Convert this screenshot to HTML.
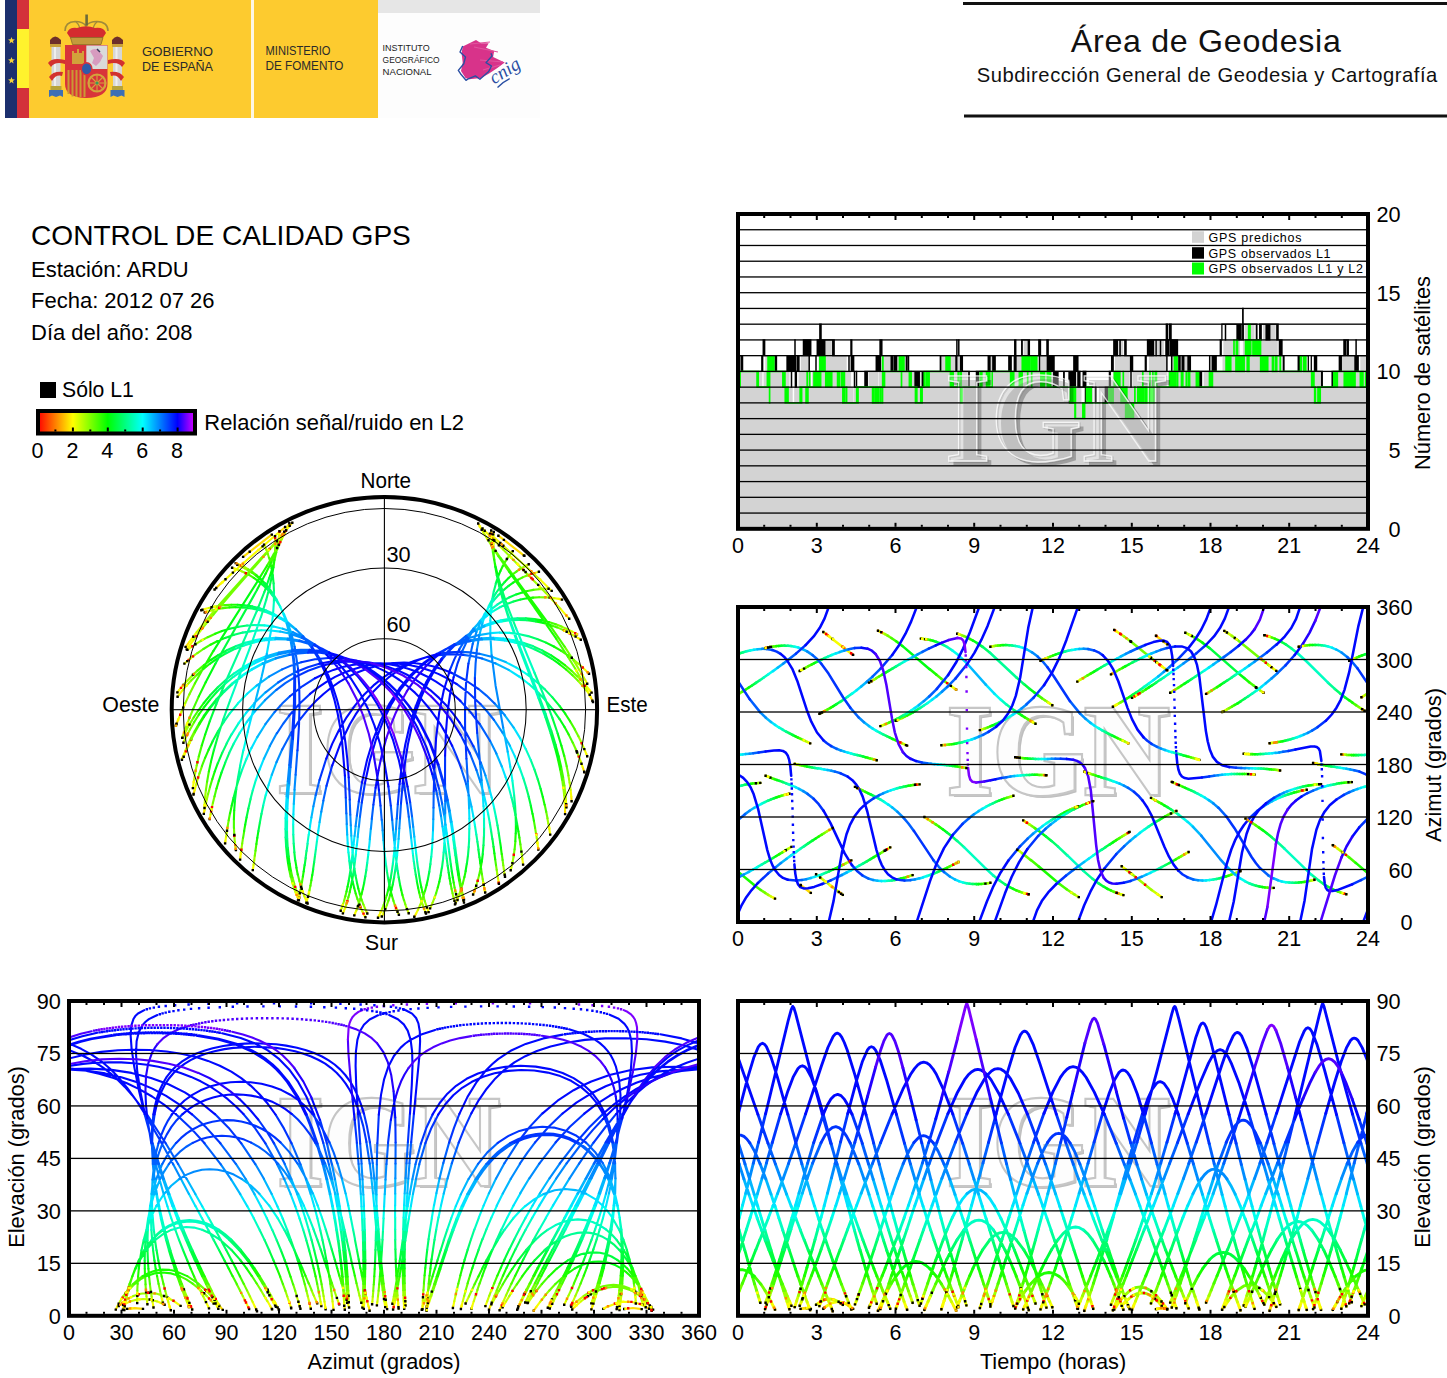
<!DOCTYPE html>
<html><head><meta charset="utf-8"><style>
html,body{margin:0;padding:0;background:#fff;width:1447px;height:1378px;overflow:hidden}
svg{display:block;font-family:"Liberation Sans", sans-serif}
</style></head><body>
<svg width="1447" height="1378" viewBox="0 0 1447 1378">
<rect x="5" y="0" width="12" height="118" fill="#1c2f6e"/>
<rect x="17" y="0" width="12" height="118" fill="#d3313a"/>
<rect x="17" y="29" width="12" height="59" fill="#fff22d"/>
<polygon points="11.50,36.90 12.38,39.29 14.92,39.39 12.93,40.96 13.62,43.41 11.50,42.00 9.38,43.41 10.07,40.96 8.08,39.39 10.62,39.29" fill="#f3d23c"/>
<polygon points="11.50,56.90 12.38,59.29 14.92,59.39 12.93,60.96 13.62,63.41 11.50,62.00 9.38,63.41 10.07,60.96 8.08,59.39 10.62,59.29" fill="#f3d23c"/>
<polygon points="11.50,76.90 12.38,79.29 14.92,79.39 12.93,80.96 13.62,83.41 11.50,82.00 9.38,83.41 10.07,80.96 8.08,79.39 10.62,79.29" fill="#f3d23c"/>
<rect x="29" y="0" width="222" height="118" fill="#fdcb2f"/>
<rect x="251" y="0" width="3" height="118" fill="#fdf6e3"/>
<rect x="254" y="0" width="124" height="118" fill="#fdcb2f"/>
<rect x="378" y="0" width="162" height="13" fill="#e6e6e6"/>
<rect x="378" y="13" width="162" height="105" fill="#fdfdfd"/>
<g>
<path d="M65 31 Q65 22 75 21.5 Q83 21.5 86 26 Q89 21.5 97 21.5 Q108 22 108 31" fill="none" stroke="#a08a3a" stroke-width="1.6"/>
<path d="M76 22 Q80 25 80 31 M97 22 Q93 25 93 31" fill="none" stroke="#a08a3a" stroke-width="1.3"/>
<path d="M67 33 Q69 27 77 28 Q86 24.5 95 28 Q104 27 106 33 L102 39 L71 39 Z" fill="#d42b2f"/>
<path d="M70.5 37.5 L103 37.5 L101 44.5 L72.5 44.5 Z" fill="#c49a3c" stroke="#8a6a2a" stroke-width="0.8"/>
<rect x="85.3" y="14.5" width="2.6" height="11" fill="#6d6a3a"/>
<path d="M65 45 L107.5 45 L107.5 84 Q107.5 97.5 86.3 98 Q65 97.5 65 84 Z" fill="#d8343a"/>
<rect x="86.3" y="45.5" width="21" height="23.5" fill="#dadada"/>
<path d="M90 51 Q95 47 99 51 L103 56 L100 62 L96 66 L92 63 L94 58 Z" fill="#d79bbf"/>
<path d="M97 49 L100 52" stroke="#3a3a5a" stroke-width="1.5"/>
<path d="M72 51 L74 51 L74 53 L77 53 L77 49 L79 49 L79 53 L82 53 L82 51 L84 51 L84 64 L72 64 Z" fill="#d2a23a"/>
<g fill="#c99a34"><rect x="67.5" y="70" width="2" height="24"/><rect x="71.5" y="70" width="2" height="26.5"/><rect x="75.5" y="70" width="2" height="27"/><rect x="79.5" y="70" width="2" height="27"/><rect x="83.5" y="74" width="2" height="23"/></g>
<ellipse cx="86.6" cy="68.8" rx="6" ry="6.8" fill="#d8343a"/>
<ellipse cx="86.6" cy="68.8" rx="4.6" ry="5.4" fill="#2f5ba8"/>
<circle cx="97" cy="83" r="8.5" fill="none" stroke="#d3a43c" stroke-width="2.2"/>
<path d="M97 75 L97 91 M89 83 L105 83 M91 77 L103 89 M103 77 L91 89" stroke="#d3a43c" stroke-width="1.1"/>
<circle cx="97" cy="83" r="1.6" fill="#3a9a5a"/>
<rect x="51.5" y="47" width="9" height="40" fill="#d6d6d6"/><rect x="54" y="47" width="2" height="40" fill="#eeeeee"/>
<rect x="113" y="47" width="9" height="40" fill="#d6d6d6"/><rect x="115.5" y="47" width="2" height="40" fill="#eeeeee"/>
<path d="M50 40 Q55 33 61 40 L61 44 L50 44 Z" fill="#6e2f2a"/><rect x="50" y="44" width="11" height="3" fill="#c9a03a"/>
<path d="M112 40 Q117 33 123 40 L123 44 L112 44 Z" fill="#6e2f2a"/><rect x="112" y="44" width="11" height="3" fill="#c9a03a"/>
<rect x="50.5" y="86" width="11" height="4" fill="#b8a43a"/><rect x="112" y="86" width="11" height="4" fill="#b8a43a"/>
<path d="M49 90 L63 90 L63 97 L60 95.5 L56 97 L52 95.5 L49 97 Z" fill="#3d6fb5"/>
<path d="M110.5 90 L124.5 90 L124.5 97 L121.5 95.5 L117.5 97 L113.5 95.5 L110.5 97 Z" fill="#3d6fb5"/>
<path d="M48 63 Q52 57 65 60 L65 64 Q55 61 51 67 Z M49 77 Q53 71 63 72 L62 76 Q56 74 52 81 Z" fill="#d2312f"/>
<path d="M125 63 Q121 57 108 60 L108 64 Q118 61 122 67 Z M124 77 Q120 71 110 72 L111 76 Q117 74 121 81 Z" fill="#d2312f"/>
</g>
<g fill="#2a2a2a" font-size="13"><text x="142" y="56.2" textLength="71" lengthAdjust="spacingAndGlyphs">GOBIERNO</text><text x="142" y="70.5" textLength="71" lengthAdjust="spacingAndGlyphs">DE ESPAÑA</text><text x="265.5" y="55.1" textLength="65" lengthAdjust="spacingAndGlyphs">MINISTERIO</text><text x="265.5" y="69.7" textLength="78" lengthAdjust="spacingAndGlyphs">DE FOMENTO</text></g>
<g fill="#222" font-size="9.2"><text x="382.6" y="50.9" textLength="47" lengthAdjust="spacingAndGlyphs">INSTITUTO</text><text x="382.6" y="62.7" textLength="57" lengthAdjust="spacingAndGlyphs">GEOGRÁFICO</text><text x="382.6" y="74.6" textLength="49" lengthAdjust="spacingAndGlyphs">NACIONAL</text></g>
<path d="M462.7 46.6 L476 40 L481 43.3 L488.7 43.3 L486 47.7 L494.2 51 L493.1 57.1 L504.7 62.6 L497 68.2 L488.7 73.7 L481 78.1 L469.3 79.2 L465.5 78.1 L461 70.9 L462.7 62.6 L461.6 53.2 Z" fill="#d8338a"/>
<path d="M470 44 L490 42 M474 47 L498 52 M480 60 L503 62 M483 70 L500 65" stroke="#e0559e" stroke-width="1.2"/>
<path d="M462.7 46 L460 52 L465.5 57 L463.8 63.7 L458.3 70.4 L460.5 73.7 L466 80.3 L467.7 79.2 L475.4 75.9 L479.9 79.2 L488.7 71.5 L491.5 66 L486 62.6 L492 56 L491 53.2" fill="none" stroke="#2a4fa3" stroke-width="1.4" stroke-linejoin="round"/>
<text x="0" y="0" font-family="Liberation Serif, serif" font-style="italic" font-size="19" fill="#2a4fa3" transform="translate(494 84.5) rotate(-32)">cnig</text>
<path d="M497.5 87.5 Q503 82 509.7 78.7" fill="none" stroke="#2a4fa3" stroke-width="1.4"/>
<rect x="963" y="2" width="484" height="3" fill="#111"/>
<rect x="964" y="114.5" width="483" height="3" fill="#111"/>
<text x="1070.8" y="52.1" font-size="32.2" text-anchor="start" fill="#111" textLength="270" lengthAdjust="spacing">Área de Geodesia</text>
<text x="976.8" y="82.2" font-size="20.2" text-anchor="start" fill="#111" textLength="460.5" lengthAdjust="spacing">Subdirección General de Geodesia y Cartografía</text>
<text x="31" y="244.6" font-size="28.1" text-anchor="start" >CONTROL DE CALIDAD GPS</text>
<text x="31" y="276.8" font-size="22.0" text-anchor="start" >Estación: ARDU</text>
<text x="31" y="307.6" font-size="22.0" text-anchor="start" >Fecha: 2012 07 26</text>
<text x="31" y="339.8" font-size="22.0" text-anchor="start" >Día del año: 208</text>
<rect x="40" y="382" width="16" height="16" fill="#000"/>
<text x="62" y="396.8" font-size="21.2" text-anchor="start" >Sólo L1</text>
<defs><linearGradient id="cbar" x1="0" x2="1" y1="0" y2="0"><stop offset="0.0000" stop-color="#ff0000"/><stop offset="0.1111" stop-color="#ff8000"/><stop offset="0.2222" stop-color="#ffff00"/><stop offset="0.3333" stop-color="#80ff00"/><stop offset="0.4444" stop-color="#00ff00"/><stop offset="0.5556" stop-color="#00ff80"/><stop offset="0.6667" stop-color="#00ffff"/><stop offset="0.7778" stop-color="#0080ff"/><stop offset="0.8889" stop-color="#0000ff"/><stop offset="1.0000" stop-color="#dd00ff"/></linearGradient></defs>
<rect x="38" y="411" width="157" height="22.5" fill="url(#cbar)" stroke="#000" stroke-width="4"/>
<rect x="54.4" y="429.5" width="2" height="2" fill="#000"/>
<rect x="71.9" y="427.5" width="2" height="4" fill="#000"/>
<rect x="89.3" y="429.5" width="2" height="2" fill="#000"/>
<rect x="106.8" y="427.5" width="2" height="4" fill="#000"/>
<rect x="124.2" y="429.5" width="2" height="2" fill="#000"/>
<rect x="141.7" y="427.5" width="2" height="4" fill="#000"/>
<rect x="159.1" y="429.5" width="2" height="2" fill="#000"/>
<rect x="176.6" y="427.5" width="2" height="4" fill="#000"/>
<text x="37.5" y="457.5" font-size="21.5" text-anchor="middle" >0</text>
<text x="72.4" y="457.5" font-size="21.5" text-anchor="middle" >2</text>
<text x="107.3" y="457.5" font-size="21.5" text-anchor="middle" >4</text>
<text x="142.2" y="457.5" font-size="21.5" text-anchor="middle" >6</text>
<text x="177.1" y="457.5" font-size="21.5" text-anchor="middle" >8</text>
<text x="204.3" y="429.8" font-size="21.95" text-anchor="start" >Relación señal/ruido en L2</text>
<g font-family="Liberation Serif, serif" font-weight="bold" font-size="130" text-anchor="middle"><text x="391" y="795.4" fill="#bfbfbf" textLength="222" lengthAdjust="spacingAndGlyphs">IGN</text><text x="388" y="792.4" fill="#fbfbfb" stroke="#c6c6c6" stroke-width="4.6" textLength="222" lengthAdjust="spacingAndGlyphs">IGN</text><text x="388" y="792.4" fill="#fdfdfd" textLength="222" lengthAdjust="spacingAndGlyphs">IGN</text></g>
<g fill="none" stroke-width="2.1" stroke-linejoin="round" stroke-linecap="round">
<path stroke="#ffb000" d="M289.3 523.3l-.2 .5M414.3 916.8l.3 -.5M584.2 771.8l.2 .6M298.0 900.4l.1 -.5"/>
<path stroke="#ffdc00" d="M578.2 638.1l2.6 1.6M292.3 522.7l-3.6 4.2M189.4 641.8l-3.8 5.2M378.0 917.8l.9 -1.8M232.1 567.8l2.3 .7M306.4 901.0l1.2 2.6M571.6 801.3l-.3 -4.7M491.2 532.9l0 -2.4M381.8 916.5l.2 -.4M289.7 525.9l-.8 .9M187.1 648.8l-.4 .6M237.3 564.9l.4 .2M566.4 807.4l0 -.7M285.1 527.0l-6 5.2M220.8 583.6l-6.2 5.9M354.3 915.4l.8 -1.8M587.6 672.3l1.3 1.4M479.9 526.4l-1.7 -3M201.3 610.2l3.3 -1M364.4 915.5l1 1.8M593.0 702.0l-2.7 -5.7M289.0 523.8l-1.8 4M178.1 719.8l-2.2 5.9M414.6 916.4l1.5 -2.8M558.8 598.9l3.2 .7M279.5 531.3l-.1 1M192.9 787.4l-.1 .7M455.0 904.4l.5 -1M538.4 572.0l.5 -.1M297.5 897.0l1.4 3.2M565.1 814.1l-.1 -4.6M493.6 534.2l.2 -2.3M235.7 563.1l2.6 1.1M590.0 690.6l1.6 2M271.8 534.6l-28.7 22.3M342.9 913.4l.7 -1.8M177.6 696.7l1.2 -1.6M428.5 911.7l.2 .4M524.4 555.8l-26 -20.1M177.4 692.4l1.6 -2M425.4 912.2l.5 1.3M240.1 859.6l.3 -2.2M538.1 847.8l.2 1.7M225.1 843.4l.3 -2.3M522.9 863.0l.2 1.6M306.4 902.8l.6 -2.3M586.3 753.9l.9 2.4M252.8 870.1l.2 -1.6M550.0 833.4l.2 1.2M193.5 794.5l1.1 -4.3M484.8 890.6l.4 1.9M181.9 759.8l1.6 -4.2M463.5 900.7l.5 1.8M498.5 881.7l.3 2M203.8 813.9l.7 -3.6M582.8 767.5l1.4 4.3M298.2 899.9l.7 -2.8"/>
<path stroke="#f6ff00" d="M573.5 635.3l4.7 2.8M288.7 526.9l-6.5 7.6M196.7 632.2l-7.3 9.6M378.9 916.0l1.7 -3.6M366.6 912.1l.7 1.4M587.2 683.7l-2 -3.7M483.3 532.3l-1.6 -2.5M204.7 612.4l2.2 -.7M234.4 568.5l3.2 1.1M304.4 896.3l2 4.7M571.3 796.6l-.7 -6.7M491.3 536.8l-.1 -3.8M430.1 908.4l.7 -1.5M547.6 588.8l1 0M284.2 531.8l-.7 2M182.9 735.9l-.6 2M382.1 916.1l1.7 -3.6M572.2 631.6l4.7 2.6M288.9 526.9l-5.9 7.2M193.8 639.6l-6.7 9.2M187.4 649.9l4 -2.9M397.9 912.6l1 2.2M569.2 618.7l-8.9 -10.1M490.1 536.3l-7.6 -7.8M473.1 894.5l1.3 -3.3M527.1 565.2l1.7 -.8M275.0 536.1l.2 2.8M204.6 804.7l-.2 3.3M237.7 565.1l3 1.3M297.5 893.5l1.7 4.3M566.3 806.7l-.4 -6.6M493.0 538.2l.1 -3.8M279.0 532.2l-35.2 30.6l-23 20.8M355.0 913.6l1.3 -3.1M583.1 667.9l4.5 4.4M483.3 532.4l-3.5 -5.9M204.6 609.1l4.3 -1.2M362.6 911.7l1.9 3.7M590.2 696.3l-4.1 -8.1M287.3 527.7l-2.6 5.5M181.3 712.1l-3.2 7.7M416.1 913.6l1.9 -3.8M554.5 598.2l4.3 .7M551.7 590.9l-11.2 -10.8M500.3 543.0l-10.4 -9.4M184.4 663.6l3.3 -2.9M407.9 911.4l.8 1.8M279.4 532.3l-.5 4.4M194.0 780.1l-1 7.3M455.5 903.3l2 -4.7M534.7 572.9l3.8 -1M295.8 892.7l1.7 4.3M565.1 809.4l-.3 -6.6M493.4 538.4l.2 -4.2M238.3 564.2l3.4 1.6M264.0 544.6l.8 1.6M235.6 848.2l.3 1.9M510.7 870.3l.6 -2.4M512.3 551.8l.6 -.7M586.4 686.1l3.7 4.5M343.6 911.6l1.2 -3.1M178.7 695.2l4 -5.1M427.3 908.5l1.2 3.1M178.9 690.4l4.1 -5M424.2 909.1l1.2 3.1M586.6 690.7l3.2 4.1M340.7 910.7l1 -2.7M463.3 896.8l.7 2.8M183.7 756.8l2.1 -5.4M209.7 819.1l.9 -4.8M504.5 873.7l.5 3.1M240.3 857.4l.6 -4.4M537.5 843.3l.6 4.5M225.4 841.1l.7 -4.6M522.3 858.7l.6 4.3M307.0 900.5l.9 -3.3M583.8 747.9l2.5 6M253.1 868.5l.5 -3.7M549.3 828.8l.7 4.7M194.6 790.3l1.5 -5.5M484.0 886.7l.8 3.9M183.5 755.5l2.2 -5.4M462.6 897.5l.9 3.3M182.5 737.7l.8 -1.8M454.3 900.3l.1 .5M457.4 899.5l.1 .5M183.4 742.7l.8 -1.8M498.0 878.2l.6 3.5M204.5 810.3l1.1 -5.4M580.9 762.0l1.9 5.5M298.9 897.1l.8 -3.3"/>
<path stroke="#caff00" d="M568.3 632.5l5.2 2.8M282.2 534.5l-8.4 9.6M206.0 620.6l-9.3 11.6M380.6 912.4l1.6 -3.7M364.9 908.3l1.7 3.8M585.2 680.0l-5.6 -9.7M487.8 539.3l-4.5 -7M206.9 611.7l4.9 -1.3M237.6 569.6l4 1.6M302.6 891.5l1.8 4.8M570.6 790.0l-1 -7.3M491.6 541.6l-.3 -4.9M430.8 906.9l1.7 -4M542.9 588.9l4.7 -.1M283.4 533.9l-2.1 5.6M185.8 727.4l-2.9 8.5M383.8 912.4l1.6 -3.7M566.9 628.9l5.3 2.7M283.0 534.0l-7.3 8.7M202.4 628.4l-8.6 11.2M191.4 647.0l5 -3.4M396.4 909.0l1.5 3.6M560.3 608.6l-14.4 -15.6M503.6 549.9l-13.4 -13.6M474.3 891.3l1.7 -4.9M523.8 566.9l3.3 -1.7M275.2 539.0l.1 4.3M205.1 797.4l-.5 7.2M240.7 566.4l3.8 1.9M295.7 888.6l1.8 4.9M566.0 800.1l-.7 -7.3M493.0 542.5l0 -4.3M356.4 910.5l1.4 -3.6M578.5 663.7l4.6 4.2M487.3 538.9l-3.9 -6.5M208.9 607.9l4.9 -1.1M360.8 907.9l1.7 3.8M586.1 688.2l-5 -9.2M284.7 533.2l-3 6.1M185.2 703.2l-3.9 8.9M418.0 909.8l1.9 -4.4M549.7 597.6l4.8 .6M540.5 580.0l-40.2 -37M187.7 660.7l4.8 -3.9M406.7 908.2l1.3 3.2M278.9 536.7l-.6 4.5M195.2 772.8l-1.2 7.3M457.6 898.7l1.8 -4.7M531.0 574.1l3.7 -1.1M293.8 887.3l1.9 5.5M564.8 802.8l-.6 -7.2M493.3 542.7l.1 -4.3M241.8 565.7l3.3 1.7M264.8 546.2l1.4 3.3M234.8 841.9l.8 6.3M511.3 867.9l1.3 -6M510.0 554.6l2.2 -2.8M581.7 680.9l4.6 5.2M344.8 908.5l1.3 -3.7M182.7 690.1l4.1 -4.9M426.0 904.9l1.3 3.6M183.0 685.4l4.2 -4.7M422.9 905.4l1.3 3.6M582.5 685.8l4.1 4.9M341.7 908.1l1.3 -3.7M462.5 893.5l.8 3.3M185.9 751.4l2.5 -5.9M210.6 814.3l1.1 -5.4M503.9 869.6l.6 4.2M240.9 853.0l.6 -4.4M536.8 838.2l.7 5.1M226.1 836.5l.8 -5.2M521.8 854.4l.6 4.4M307.9 897.3l.8 -3.3M581.2 742.0l2.6 5.9M253.6 864.8l.7 -4.8M548.4 823.5l.9 5.3M196.0 784.8l1.8 -6.1M483.3 882.7l.7 4M185.6 750.1l2.6 -5.9M461.7 893.7l.9 3.8M183.4 736.0l2.9 -5.8M453.5 897.0l.9 3.3M456.4 895.7l1 3.8M184.2 741.0l2.8 -5.8M497.3 874.1l.6 4.1M205.6 804.9l1.2 -5.4M578.6 756.0l2.3 6M299.7 893.8l.8 -3.9"/>
<path stroke="#9eff00" d="M563.0 629.9l5.3 2.5M273.8 544.0l-12.2 13.6M219.1 605.0l-13.1 15.6M382.2 908.7l1.5 -3.8M363.4 904.5l1.6 3.8M579.5 670.2l-5.8 -9.6M492.9 546.8l-5.1 -7.5M211.7 610.3l5.4 -1.2M241.5 571.2l3.4 1.6M301.0 886.6l1.6 4.9M569.6 782.7l-1.2 -7.2M492.1 546.1l-.4 -4.5M432.5 902.9l1.8 -4.5M538.8 589.2l4.1 -.3M281.3 539.4l-2.3 5.6M189.0 719.1l-3.2 8.4M385.4 908.8l1.5 -3.8M561.6 626.6l5.3 2.4M275.7 542.7l-10.1 11.7M213.4 614.7l-11 13.7M196.4 643.6l5.1 -3.1M395.0 905.2l1.4 3.7M545.9 593.0l-42.3 -43.1M476.0 886.3l1.5 -5M520.6 568.8l3.2 -1.9M275.3 543.3l0 4.4M205.9 790.2l-.8 7.2M244.5 568.2l3.2 1.8M294.1 883.6l1.6 5M565.3 792.8l-.9 -7.2M493.1 546.9l-.1 -4.4M357.7 906.8l1.1 -3.2M573.7 659.8l4.7 4M491.7 545.9l-4.4 -7.1M213.7 606.8l5.4 -1M359.3 904.1l1.6 3.9M581.1 678.9l-5.2 -9.1M281.7 539.3l-3.2 6.1M189.4 694.4l-4.2 8.8M420.0 905.4l1.6 -3.9M544.9 597.3l4.8 .3M192.5 656.7l4.9 -3.7M405.3 904.5l1.3 3.7M278.3 541.1l-.8 5M196.7 765.5l-1.5 7.2M459.4 893.9l1.5 -4.3M526.9 575.6l4 -1.5M292.3 882.3l1.5 5M564.2 795.5l-.8 -7.2M493.4 547.1l-.1 -4.4M245.1 567.5l3.2 1.9M266.2 549.5l1.5 3.8M234.3 835.7l.5 6.3M512.6 861.9l1 -5.4M507.7 557.8l2.4 -3.3M577.4 676.3l4.4 4.5M346.1 904.8l1 -3.3M186.8 685.2l4.3 -4.7M424.8 901.2l1.2 3.7M187.3 680.7l4.8 -5M421.7 901.7l1.2 3.7M577.8 680.6l4.7 5.1M343.0 904.4l1.2 -3.7M189.2 743.7l1.9 -4.1M461.7 889.6l.8 3.9M188.4 745.5l3 -6.4M211.6 808.9l1.3 -6M503.3 865.4l.6 4.2M241.5 848.6l.7 -5M536.1 833.6l.7 4.6M226.9 831.4l.8 -5.2M521.2 849.9l.6 4.4M308.7 894.0l.9 -3.9M578.4 736.2l2.8 5.8M254.2 860.0l.6 -4.3M547.4 818.2l.9 5.3M197.8 778.7l1.7 -5.4M482.7 879.2l.6 3.5M188.2 744.2l3 -6.4M460.9 889.8l.8 3.9M186.3 730.2l3.1 -5.6M452.5 893.2l.9 3.8M455.6 891.9l.9 3.8M187.0 735.1l3 -5.7M496.7 869.9l.6 4.2M206.8 799.5l1.3 -5.4M575.9 749.5l2.7 6.5M300.5 889.9l.7 -3.4"/>
<path stroke="#72ff00" d="M557.2 627.4l5.8 2.5M261.5 557.6l-42.4 47.3M383.6 905.0l1.5 -4.3M361.6 899.6l1.8 4.9M573.7 660.7l-9.1 -14.1M500.6 558.0l-7.8 -11.2M217.1 609.1l5.9 -1M245.0 572.7l4.1 2.2M299.4 881.1l1.6 5.5M568.5 775.5l-1.8 -9.1M492.9 552.1l-.8 -6M434.3 898.4l1.8 -5.1M533.3 589.9l5.5 -.7M279.1 545.0l-3.4 7.8M193.2 708.9l-4.2 10.2M386.9 905.0l1.5 -4.3M555.7 624.3l5.9 2.3M265.5 554.4l-33.7 38.5l-18.4 21.7M201.5 640.5l6.2 -3.4M393.5 901.0l1.4 4.3M477.5 881.4l1.6 -6.2M516.7 571.3l3.8 -2.6M275.2 547.6l-.3 5.4M207.1 781.7l-1.2 8.5M247.8 570.1l3.9 2.5M292.5 877.5l1.7 6.1M564.4 785.6l-1.3 -8.5M493.5 552.4l-.4 -5.5M358.9 903.6l1.5 -4.7M567.9 655.3l5.8 4.4M498.4 556.2l-6.7 -10.2M219.1 605.8l5.9 -.7M357.5 899.2l1.8 4.9M575.9 669.8l-8 -13.1M278.5 545.4l-4.8 8.8M195.0 683.3l-5.7 11.1M421.5 901.5l1.8 -5M539.2 597.3l5.7 .1M197.4 653.1l6 -4.1M404.0 900.2l1.4 4.3M277.5 546.2l-1.2 6.1M198.8 756.4l-2.1 9.1M460.9 889.6l1.8 -5.9M522.6 577.4l4.4 -1.9M290.8 876.7l1.5 5.6M563.4 788.3l-1.2 -8.5M493.7 552.6l-.3 -5.4M248.3 569.3l3.9 2.5M267.6 553.3l1.4 4.4M234.0 828.1l.3 7.6M513.6 856.5l1 -7.3M505.3 561.6l2.4 -3.8M571.5 670.8l5.9 5.6M347.1 901.6l1.2 -4.3M191.1 680.6l5.7 -5.7M423.6 896.9l1.2 4.3M192.1 675.7l5.4 -5.1M420.5 897.5l1.2 4.3M572.5 675.3l5.3 5.3M344.1 900.7l1.2 -4.3M191.1 739.6l3.8 -7.4M460.8 885.2l.9 4.4M212.9 803.0l1.6 -6.6M502.6 860.0l.7 5.3M242.2 843.6l.8 -5.7M535.1 827.8l.9 5.8M227.7 826.1l1 -5.8M520.4 844.4l.8 5.6M309.5 890.1l.9 -4.4M574.8 729.4l3.6 6.8M254.8 855.7l.7 -4.9M546.2 811.8l1.3 6.5M199.5 773.3l2.5 -7.2M481.9 874.1l.8 5.1M191.2 737.8l3.5 -6.8M460.0 885.4l.9 4.4M189.4 724.6l4.3 -7.1M451.6 888.9l1 4.4M454.6 887.5l.9 4.4M190.0 729.4l4.1 -7.2M496.0 865.2l.7 4.7M208.1 794.1l1.9 -7.2M572.7 742.5l3.2 7M301.2 886.5l.8 -4.5"/>
<path stroke="#46ff00" d="M550.3 625.0l6.9 2.5M385.1 900.7l1.6 -5.4M359.8 894.1l1.7 5.5M564.6 646.6l-14.2 -20.5M513.8 576.2l-13.1 -18.2M223.0 608.1l6.4 -.7M249.1 574.9l4.7 2.9M297.8 874.4l1.6 6.7M566.7 766.3l-2.4 -10.4M494.1 559.3l-1.2 -7.2M436.1 893.2l1.7 -5.7M527.5 591.0l5.9 -1.1M275.7 552.8l-4.4 9.5M198.8 696.4l-5.6 12.5M388.4 900.7l1.7 -5.4M548.7 622.1l7 2.2M207.8 637.2l7.4 -3.4M391.9 895.6l1.6 5.3M479.1 875.2l1.5 -6.8M512.3 574.7l4.4 -3.4M275.0 553.1l-.6 7.1M208.9 771.3l-1.8 10.4M251.7 572.5l4.1 3M290.9 870.7l1.5 6.8M563.1 777.1l-2 -10.4M494.2 559.4l-.8 -7.1M360.3 898.8l1.3 -4.8M560.9 650.7l7 4.7M509.1 571.7l-10.7 -15.6M225.0 605.1l6.3 -.4M355.7 893.7l1.8 5.5M567.9 656.8l-11.7 -18M273.7 554.2l-6.7 11.5M203.0 668.7l-8 14.6M423.3 896.4l1.7 -5.6M533.0 597.6l6.2 -.3M203.4 649.0l7.1 -4.3M402.4 894.9l1.5 5.3M276.3 552.3l-1.8 7.8M201.8 745.4l-3 11M462.7 883.7l1.7 -6.6M518.0 579.8l4.6 -2.4M289.1 869.3l1.6 7.4M562.1 779.8l-1.9 -10.4M494.3 559.6l-.7 -7.1M252.1 571.9l4.4 3.3M269.1 557.7l1.5 5.4M233.9 819.3l0 8.8M514.6 849.3l.8 -7.9M502.8 566.0l2.4 -4.4M565.0 665.2l6.5 5.6M348.4 897.3l1.4 -5.3M196.8 674.8l6.4 -5.8M422.4 892.1l1.2 4.8M197.5 670.6l6.5 -5.5M419.2 892.6l1.2 4.8M566.1 669.5l6.4 5.8M345.3 896.4l1.2 -4.9M194.9 732.2l4.4 -7.8M459.8 879.6l1 5.5M214.5 796.4l2 -7.8M501.8 854.0l.8 6M243.1 837.9l1.1 -6.8M533.9 820.9l1.2 7M228.7 820.3l1.3 -7M519.4 837.6l1 6.8M310.4 885.7l1 -5.5M570.0 721.1l4.8 8.2M255.5 850.7l.9 -6.7M544.7 804.7l1.5 7.1M201.9 766.1l3.2 -8.3M481.1 868.9l.8 5.2M194.8 731.0l4.4 -7.7M459.1 880.4l.9 5M193.7 717.4l4.9 -7.4M450.6 883.9l1 5M453.7 882.6l.9 5M194.1 722.2l4.7 -7.5M495.2 859.3l.8 5.9M210.0 786.9l2.3 -7.8M568.7 734.6l4 8M302.0 882.0l.9 -5.6"/>
<path stroke="#1aff00" d="M543.3 623.0l7 2M386.8 895.3l1.3 -5M358.3 888.5l1.5 5.6M550.4 626.1l-36.7 -49.9M229.4 607.4l6.3 -.3M253.8 577.9l4.1 3M296.4 867.7l1.3 6.8M564.2 755.9l-2.8 -10.3M495.7 567.2l-1.6 -7.8M437.8 887.5l1.5 -5.8M522.2 592.4l5.2 -1.4M271.3 562.3l-5.6 11.2M205.7 682.2l-6.9 14.2M390.0 895.3l1.5 -5.5M541.8 620.4l7 1.7M215.1 633.8l6.9 -2.7M390.6 890.7l1.3 4.9M480.6 868.4l1.2 -6.9M508.6 578.0l3.8 -3.4M274.4 560.2l-.9 7.2M211.0 761.7l-2.1 9.7M255.8 575.5l4.2 3.6M289.7 863.9l1.2 6.8M561.1 766.7l-2.4 -10.3M495.3 566.7l-1.1 -7.2M361.6 894.0l1.2 -4.9M553.8 646.5l7.1 4.2M537.4 611.6l-28.3 -39.9M231.3 604.7l6.2 0M354.2 888.0l1.5 5.6M556.2 638.7l-21.9 -31.4M267.0 565.7l-9.1 14.9M213.4 650.9l-10.5 17.8M425.1 890.8l1.5 -5.7M527.0 598.3l6 -.7M210.5 644.8l6.7 -3.5M401.2 890.0l1.2 4.9M274.5 560.0l-2.1 7.9M205.2 734.5l-3.4 10.9M464.4 877.1l1.3 -6.1M513.1 582.7l4.8 -2.9M288.0 863.1l1.1 6.3M560.2 769.5l-2.3 -10.3M495.3 566.9l-1 -7.2M256.5 575.2l3.8 3.3M270.5 563.1l1.2 5.6M234.2 810.4l-.3 8.8M515.3 841.3l.4 -8M500.4 571.0l2.4 -5M558.2 660.1l6.7 5.1M349.7 892.0l1.1 -4.9M203.2 669.1l6.6 -5.3M421.3 887.1l1.1 4.9M204.0 665.0l6.8 -5.1M418.1 887.7l1.1 4.9M559.5 664.2l6.6 5.3M346.5 891.5l1.1 -4.9M199.3 724.4l4.7 -7.5M458.9 874.5l.8 5.1M216.5 788.6l2.3 -7.7M500.9 848.0l.8 6M244.1 831.1l1.1 -6.3M532.6 813.9l1.3 7M230.1 813.3l1.6 -7.6M518.4 831.4l1 6.3M311.4 880.2l.8 -5.1M565.2 713.7l4.8 7.4M256.4 844.0l.9 -6.2M542.8 797.0l1.8 7.7M205.1 757.9l3.5 -8.1M480.3 863.1l.8 5.8M199.2 723.2l4.7 -7.5M458.2 874.8l.9 5.6M198.6 710.1l5.2 -7.1M449.6 878.4l1 5.6M452.8 877.5l.9 5.1M198.8 714.7l5.1 -7.2M494.4 853.3l.8 6M212.3 779.1l2.5 -7.7M564.4 726.8l4.3 7.7M302.9 876.5l.8 -5.2"/>
<path stroke="#00ff12" d="M535.8 621.4l7.5 1.6M388.1 890.3l1.4 -6.1M357.0 882.8l1.3 5.7M235.7 607.2l7.2 .2M258.0 580.9l4.3 3.6M295.3 860.3l1.2 7.4M561.4 745.7l-3.7 -12.1M498.0 576.2l-2.3 -9.1M439.3 881.7l1.4 -6.5M516.2 594.4l6 -2M265.7 573.5l-8.7 16.3M215.5 663.5l-9.8 18.7M391.5 889.8l1.3 -5.6M534.3 619.1l7.5 1.3M222.0 631.1l7.5 -2.3M389.3 884.6l1.4 6.1M481.8 861.5l1 -7.5M504.7 582.0l3.9 -3.9M273.4 567.4l-1.4 8.4M213.9 750.1l-2.9 11.5M260.0 579.1l4 3.9M288.6 856.4l1.1 7.5M558.7 756.4l-3.1 -11.5M497.0 575.7l-1.7 -9M362.8 889.1l1.3 -6M546.0 642.6l7.8 3.9M237.6 604.7l6.6 .5M352.7 881.8l1.5 6.2M258.0 580.6l-44.5 70.3M426.6 885.1l1.4 -6.3M520.6 599.5l6.4 -1.2M217.3 641.3l7.9 -3.4M400.0 884.5l1.2 5.5M272.4 568.0l-3.2 10.2M209.8 721.2l-4.6 13.3M465.6 871.0l1.2 -7.3M508.6 585.9l4.6 -3.2M287.0 855.5l1 7.5M557.9 759.1l-3 -11.5M496.8 575.3l-1.5 -8.4M260.3 578.6l4.2 4.3M271.7 568.7l1.1 6.7M234.9 801.0l-.7 9.5M515.8 833.4l.1 -8.6M498.1 576.6l2.3 -5.6M550.8 655.2l7.4 4.9M350.8 887.0l1.1 -5.6M209.8 663.8l7.3 -5.1M420.1 881.1l1.2 6.1M210.8 660.0l7.4 -4.9M416.9 881.6l1.2 6M552.2 659.0l7.3 5.2M347.6 886.6l1.2 -6.1M204.0 716.9l5.7 -8.2M458.1 868.8l.9 5.7M218.8 780.9l2.7 -8.3M500.0 841.3l1 6.7M245.2 824.7l1.4 -7.5M530.8 805.7l1.7 8.2M231.7 805.6l1.8 -7.7M517.1 823.9l1.3 7.5M312.3 875.1l.9 -5.7M559.7 706.1l5.5 7.6M257.3 837.9l1.1 -6.8M540.6 788.7l2.2 8.3M208.6 749.7l4.1 -8.5M479.5 857.2l.8 5.9M203.9 715.8l5.8 -8.2M457.3 869.1l.9 5.7M203.8 703.0l6.3 -7.7M448.7 872.7l.9 5.7M451.8 871.3l1 6.2M203.9 707.5l6.2 -7.8M493.5 846.7l.9 6.6M214.8 771.4l3 -8.2M559.4 718.8l5 8M303.7 871.3l.9 -6.3"/>
<path stroke="#00ff3e" d="M527.3 620.3l8.5 1.1M389.5 884.2l1.3 -6.7M246.1 607.7l4.5 .6M355.5 875.4l1.5 7.4M242.9 607.4l7.1 .8M262.3 584.4l5 4.9M294.3 852.2l.9 8.1M557.7 733.5l-5.4 -15.8M501.6 588.8l-3.7 -12.6M440.6 875.2l1.3 -7.7M509.6 597.3l6.6 -2.9M257.1 589.8l-41.6 73.6M392.8 884.2l1.3 -6.8M525.8 618.3l8.5 .8M229.5 628.8l9.1 -2.1M388.0 877.9l1.3 6.7M482.7 854.0l.8 -8.8M500.2 587.3l4.5 -5.3M272.0 575.8l-2.5 11.3M218.1 735.5l-4.2 14.6M264.0 583.0l4.6 5.2M287.8 847.7l.9 8.7M555.6 744.9l-4.4 -14.6M499.7 587.0l-2.7 -11.4M364.1 883.0l1.2 -6.7M537.1 639.0l9 3.6M244.2 605.2l8 1.2M351.4 874.9l1.3 6.9M428.0 878.8l1.3 -7M513.5 601.5l7.1 -2M225.1 637.9l9 -3.1M398.7 877.3l1.3 7.2M269.2 578.2l-4.8 13.8M216.3 704.2l-6.5 16.9M466.9 863.7l1.1 -8.6M503.2 590.4l5.4 -4.5M286.1 846.2l.9 9.3M554.9 747.6l-4.1 -14M499.3 586.6l-2.5 -11.3M264.6 582.8l4.2 5M272.8 575.4l.8 8M236.2 789.6l-1.3 11.4M515.9 824.8l-.3 -10.5M495.8 583.4l2.3 -6.8M542.1 650.4l8.7 4.8M351.9 881.5l1.2 -6.7M217.2 658.6l9.1 -5.4M419.0 874.4l1.1 6.7M218.2 655.1l9.2 -5.1M415.8 874.9l1.2 6.7M543.2 653.5l9 5.5M348.8 880.5l1.1 -6.7M209.7 708.7l6.9 -8.7M457.1 861.9l1 6.9M221.5 772.7l3.7 -9.9M498.8 833.4l1.2 7.9M246.6 817.2l1.8 -8.7M528.7 796.8l2.1 8.8M233.5 798.0l2.5 -9.4M515.5 815.2l1.6 8.7M313.1 869.3l1 -6.9M552.2 697.1l7.5 9.1M258.4 831.0l1.5 -8.6M537.8 779.3l2.8 9.4M212.6 741.2l5.4 -9.9M478.4 849.5l1 7.6M209.7 707.6l7 -8.7M456.3 862.2l1 6.9M210.2 695.3l7.6 -8M447.7 865.9l1 6.8M450.8 864.4l1 6.9M210.0 699.6l7.4 -8.3M492.4 838.9l1.1 7.8M217.9 763.2l4.3 -10.4M552.6 709.2l6.8 9.7M304.7 865.0l1 -7"/>
<path stroke="#00ff6a" d="M518.8 619.9l8.4 .4M390.8 877.5l1.1 -6.9M250.6 608.3l7.4 1.5M354.4 868.5l1.1 7M267.3 589.3l4.6 5.3M293.7 843.5l.7 8.7M552.3 717.7l-7.1 -18.8M506.9 604.5l-5.3 -15.7M442.0 867.5l1 -7.8M503.7 600.4l5.9 -3.2M394.1 877.4l1.1 -6.9M517.4 618.2l8.4 .1M238.6 626.7l8.5 -1.2M386.9 871.1l1.1 6.8M483.5 845.2l.4 -8.9M496.0 593.0l4.1 -5.7M269.5 587.2l-3.3 12.7M223.2 719.7l-5.1 15.8M268.6 588.2l4 5.3M287.2 838.8l.5 8.8M551.1 730.3l-5.6 -16.4M503.6 600.9l-3.9 -13.9M365.3 876.3l1 -6.3M528.0 636.1l9.1 2.8M252.2 606.4l7.3 1.8M350.2 867.9l1.1 7M429.3 871.8l1.1 -7.7M506.6 604.1l6.9 -2.6M234.2 634.7l8.6 -2.2M397.7 871.0l1 6.3M264.4 591.9l-7.6 19.2M225.3 682.6l-9.1 21.7M468.0 855.1l.7 -8.1M498.5 595.0l4.7 -4.6M285.6 837.3l.5 8.9M550.8 733.6l-5.4 -16.4M502.9 599.9l-3.6 -13.3M268.8 587.8l4.1 5.7M273.6 583.4l.4 8.7M238.0 777.6l-1.8 12M515.6 814.3l-.6 -9.9M493.9 591.0l2 -7.6M532.8 646.1l9.4 4.3M353.1 874.8l1 -6.8M226.2 653.2l8.8 -4.3M418.1 868.0l.9 6.3M227.4 650.0l8.9 -4M414.8 868.6l1 6.3M534.4 649.2l8.8 4.4M349.9 873.8l.9 -6.3M216.7 700.0l7.4 -8.1M456.1 854.3l1 7.6M225.1 762.8l4.1 -9.7M497.5 825.4l1.3 8M248.4 808.5l2.2 -9.4M526.2 787.5l2.6 9.4M236.0 788.5l2.8 -9.4M513.7 806.5l1.8 8.7M314.1 862.5l1 -7.6M544.6 689.1l7.6 8M259.9 822.4l1.6 -8.7M534.4 769.4l3.4 9.9M218.0 731.3l5.6 -9M477.4 841.7l1.1 7.8M216.7 699.0l7.5 -8.1M455.4 855.1l.9 7M217.8 687.3l8.5 -7.8M446.8 858.9l.9 7M449.9 857.4l.9 7M217.4 691.3l7.8 -7.6M491.1 831.0l1.2 7.9M222.2 752.9l4.6 -9.5M545.6 700.6l7 8.6M305.6 858.0l.9 -7.1"/>
<path stroke="#00ff96" d="M510.5 620.3l8.3 -.3M391.9 870.6l1 -7M258.0 609.7l7.2 2.1M353.5 861.3l.9 7.1M271.9 594.6l4 5.4M293.3 834.6l.4 8.8M545.2 699.0l-10.8 -26.5M516.2 628.7l-9.3 -24.2M443.0 859.7l.7 -7.3M497.6 604.4l6 -3.9M395.2 870.5l1 -7M509.7 618.8l7.7 -.6M247.1 625.5l7.9 -.5M386.0 864.6l.9 6.4M484.0 836.3l.1 -9M492.6 598.7l3.5 -5.7M266.2 599.9l-5.2 17.1M230.1 700.3l-6.9 19.4M272.6 593.5l3.9 6M287.0 829.9l.2 8.9M545.6 713.9l-7.6 -20.6M509.4 618.7l-5.8 -17.7M366.3 870.0l.9 -7M519.5 634.2l8.6 1.9M259.5 608.2l6.6 2.2M349.3 860.8l.9 7.1M430.4 864.1l.8 -7.2M500.4 607.0l6.2 -2.9M242.7 632.6l9.1 -1.5M396.7 864.0l1 7M256.8 611.1l-31.5 71.4M468.7 847.0l.5 -8.2M493.8 600.4l4.7 -5.4M285.5 829.0l.2 8.4M545.4 717.2l-7 -19.4M508.2 617.0l-5.3 -17.1M272.9 593.5l3.5 5.7M274.0 592.1l-.1 9.6M240.2 765.6l-2.2 12M515.0 804.4l-1 -10.6M492.3 598.9l1.5 -7.9M523.8 642.9l9 3.2M354.1 867.9l.9 -7M235.0 648.9l8.9 -3.5M417.1 861.1l.9 7M236.3 646.0l9 -3.2M413.9 861.7l.9 7M525.5 645.6l8.9 3.6M350.8 867.5l.9 -7M224.1 691.9l7.9 -7.5M455.2 847.2l.9 7.2M229.2 753.0l4.6 -9.5M495.9 816.8l1.6 8.6M250.5 799.1l2.3 -8.8M523.3 778.1l2.9 9.3M238.9 779.2l3.2 -9.3M511.6 797.7l2.1 8.8M315.1 854.9l.9 -6.6M536.6 681.8l8 7.3M261.5 813.8l1.7 -8.1M530.8 760.2l3.6 9.2M223.5 722.3l6.4 -9.1M476.3 834.4l1.1 7.3M224.2 690.9l7.9 -7.4M454.4 848.0l.9 7.1M226.2 679.5l8 -6.3M445.9 851.8l.9 7.1M449.0 850.3l.9 7.1M225.2 683.7l8.3 -6.9M449.0 850.3l.2 1.7M489.8 823.0l1.3 8M226.7 743.3l5 -9.3M538.2 692.5l7.5 8M306.6 850.9l1 -7.2"/>
<path stroke="#00ffc2" d="M501.9 621.4l8.7 -1.2M392.9 863.6l.9 -7.7M265.2 611.8l7.9 3.1M352.6 853.0l.9 8.4M275.9 600.0l4.4 7M293.2 824.5l.1 10.1M534.4 672.5l-18.2 -43.8M443.7 852.4l.7 -9.2M491.5 609.1l6.1 -4.8M396.2 863.5l.9 -8.3M501.1 620.2l8.6 -1.4M255.1 625.1l9.4 .3M385.0 856.5l1 8.2M484.1 827.3l-.1 -10.3M488.8 606.1l3.8 -7.4M260.9 617.0l-9.3 26.4l-21.5 56.9M276.4 599.5l3.9 7.3M287.1 819.7l-.1 10.2M538.0 693.3l-19.7 -50.6l-8.9 -24.1M367.2 863.1l1 -8.2M509.3 632.9l10.2 1.3M266.0 610.4l7.7 3.4M348.5 852.4l.9 8.4M431.3 856.9l.8 -9M493.3 611.2l7.1 -4.2M251.8 631.0l9.6 -.7M395.8 856.4l.9 7.6M469.1 838.8l.2 -10.1M489.2 606.6l4.6 -6.2M285.6 818.1l-.1 10.8M538.4 697.8l-21 -54.9l-9.2 -25.9M276.4 599.2l3.8 7.4M273.9 601.7l-.9 13.2M243.3 750.4l-3.2 15.2M514.0 793.8l-1.6 -13.1M491.1 608.7l1.3 -9.8M355.6 856.5l.4 -3.3M513.6 640.2l10.2 2.7M355.0 861.0l.9 -7.7M244.0 645.4l10.7 -3.1M416.1 852.9l1 8.2M245.2 642.8l10.2 -2.6M412.9 854.0l.9 7.6M514.8 642.4l10.7 3.2M351.7 860.5l1 -8.2M232.0 684.4l9.7 -7.8M454.0 838.8l1.1 8.4M233.8 743.6l6 -10.8M494.0 807.5l1.9 9.3M252.8 790.3l3.1 -10.5M519.4 767.2l3.9 11M242.1 769.9l4.3 -10.9M508.9 787.8l2.7 9.9M316.0 848.3l1.1 -8.4M526.8 674.2l9.9 7.6M263.2 805.6l2.5 -10.5M525.7 748.9l5.1 11.2M229.9 713.3l8.1 -9.9M474.9 825.3l1.4 9.1M232.1 683.5l9.8 -7.8M453.3 839.6l1.1 8.4M234.2 673.3l10.3 -6.8M444.8 843.5l1.1 8.3M448.6 847.6l.4 2.8M233.5 676.8l10.1 -7.1M447.9 841.9l1.1 8.3M488.1 813.7l1.7 9.2M231.8 734.1l6.9 -11M528.9 684.0l9.3 8.5M307.5 843.7l1.2 -9"/>
<path stroke="#00ffee" d="M492.9 623.5l8.9 -2.1M393.8 855.9l.8 -8.4M273.1 614.9l7.5 3.8M351.9 844.5l.7 8.5M280.2 606.9l3.9 7.5M293.4 814.2l-.2 10.3M444.4 843.2l.4 -9.3M485.5 614.8l6 -5.7M397.1 855.3l.7 -7.8M492.3 622.6l8.8 -2.4M264.5 625.4l9.2 1.2M384.2 848.7l.8 7.8M484.0 817.1l-.4 -11M485.3 614.4l3.5 -8.3M280.3 606.8l3.6 8.2M287.4 808.8l-.4 10.9M368.2 854.9l.8 -7.8M499.7 632.6l9.6 .3M273.7 613.8l7.3 4.1M347.7 843.3l.7 9.1M432.1 847.8l.5 -8.6M486.5 616.1l6.7 -4.9M261.4 630.3l9.5 .2M394.9 848.1l.9 8.3M469.4 828.8l0 -10.2M484.6 614.1l4.6 -7.5M286.0 807.2l-.4 11M280.2 606.6l3.5 8.3M273.0 614.9l-1.9 15.4M247.7 732.1l-4.3 18.3M512.4 780.6l-2.1 -13.8M490.3 620.5l.8 -11.8M355.9 853.2l.9 -8.4M503.4 638.5l10.2 1.7M355.9 853.3l.1 -1.1M254.6 642.2l10.2 -2M415.2 845.1l.9 7.8M255.4 640.1l10.7 -1.7M412.0 845.7l.9 8.3M504.6 640.4l10.2 2M352.7 852.3l.9 -7.8M241.7 676.5l10.2 -6.8M452.9 830.3l1.2 8.5M239.8 732.8l7 -10.8M491.7 797.6l2.3 9.9M256.0 779.8l3.6 -10.4M514.9 756.4l4.4 10.8M246.4 759.0l5.1 -11.2M505.7 777.3l3.2 10.4M317.1 839.9l1.2 -9.1M516.5 667.6l10.3 6.6M265.8 795.1l2.7 -9.9M520.0 738.0l5.7 10.9M238.0 703.3l9.2 -9.6M473.3 816.1l1.6 9.2M241.9 675.7l10.3 -6.7M452.1 830.6l1.3 9.1M244.5 666.5l10.7 -5.7M443.7 835.0l1.1 8.5M243.6 669.6l10.5 -6.1M446.8 833.4l1.1 8.5M486.0 803.8l2.1 9.9M238.6 723.1l7.6 -10.3M519.0 676.4l9.8 7.6M308.8 834.7l1.3 -8.6"/>
<path stroke="#00e4ff" d="M484.7 626.3l8.2 -2.8M394.6 847.5l.7 -8M280.6 618.7l6.8 4.2M351.3 835.9l.6 8.6M284.1 614.4l3.6 8.4M293.8 803.9l-.4 10.4M444.8 833.9l.2 -9.4M479.9 621.0l5.6 -6.3M397.9 847.4l.7 -8.5M484.2 625.6l8.1 -3M273.7 626.6l9 2.1M383.4 840.2l.8 8.5M483.5 806.1l-.7 -11.1M482.4 623.2l2.9 -8.8M283.9 615.0l3.1 8.7M288.0 797.7l-.6 11M369.1 847.1l.8 -7.9M490.3 633.1l9.5 -.6M281.1 617.9l7 4.8M347.2 834.6l.5 8.7M432.6 839.2l.4 -8.7M480.6 621.3l6 -5.2M270.9 630.5l9.3 1.1M394.1 840.2l.8 7.9M469.4 818.6l-.3 -10.3M480.7 621.7l3.9 -7.6M286.7 796.1l-.7 11.1M283.7 614.8l3 8.8M271.1 630.2l-4.3 23.6M254.0 706.9l-6.4 25.2M510.3 766.8l-2.6 -15.1M490.3 633.3l.1 -12.8M356.9 844.9l.9 -7.9M493.2 637.9l10.2 .6M264.8 640.3l10.2 -.9M414.3 836.6l.9 8.5M266.2 638.5l9.7 -.6M411.1 837.8l.9 7.9M494.4 639.4l10.2 1M353.6 844.5l.9 -8.5M251.9 669.7l10.7 -5.8M451.6 821.7l1.3 8.6M246.8 722.0l7.7 -10.2M489.1 787.7l2.6 9.9M259.6 769.5l4.3 -10.8M509.9 745.9l5 10.5M251.5 747.9l5.8 -10.8M501.8 766.4l3.9 10.9M318.3 830.8l1.3 -8.6M505.7 662.1l10.7 5.5M268.5 785.2l3.3 -10.4M513.7 727.6l6.4 10.5M247.2 693.8l9.4 -8.2M471.5 806.8l1.8 9.3M252.1 668.9l10.7 -5.7M450.8 821.9l1.3 8.6M255.1 660.8l10.5 -4.4M442.5 826.5l1.2 8.6M254.1 663.6l10.4 -4.7M445.6 824.8l1.2 8.6M483.8 794.5l2.2 9.3M246.2 712.8l8.3 -9.6M508.7 669.9l10.3 6.6M310.0 826.2l1.4 -8.7"/>
<path stroke="#00b8ff" d="M475.0 630.7l9.7 -4.4M395.3 839.5l.8 -10.4M287.3 622.9l8.3 6.4M350.8 825.3l.5 10.5M287.7 622.8l3.7 10.9M294.6 789.7l-.8 14.2M445.1 824.5l.1 -11.4M473.9 629.1l6 -8.1M398.6 838.9l.7 -10.4M474.7 630.3l9.5 -4.7M282.8 628.7l10.2 3.5M382.6 830.4l.8 9.8M482.8 795.0l-1.2 -14.9M479.3 635.5l3.1 -12.3M287.0 623.7l3.2 11.7M289.1 783.5l-1.1 14.2M369.8 839.2l1 -10.3M478.9 635.1l11.3 -1.9M288.0 622.6l7.7 6.4M346.7 824.1l.5 10.6M433.0 830.4l.3 -11.2M473.6 628.5l6.9 -7.2M280.2 631.6l11.1 2.5M393.1 829.8l1 10.3M469.1 808.3l-.5 -12.9M476.4 632.2l4.3 -10.5M287.8 781.2l-1.2 14.9M286.7 623.6l3.1 12.3M266.8 653.9l-5.1 22.5l-7.7 30.5M507.7 751.7l-4.5 -24M491.6 655.4l-1.4 -22.1M357.7 837.0l1.1 -10.4M481.5 638.4l11.7 -.5M275.1 639.3l12.3 .2M413.2 826.8l1.1 9.8M275.8 637.9l12.2 .6M410.0 827.4l1.1 10.3M482.1 639.5l12.3 -.2M354.6 836.0l1.1 -9.8M262.6 664.0l13.1 -5.4M449.7 810.6l1.8 11M254.5 711.8l10.5 -11.6M485.4 775.5l3.7 12.2M263.9 758.7l6 -12.7M502.5 732.5l7.5 13.3M257.3 737.1l8.1 -12.9M496.3 753.5l5.5 13M319.6 822.2l1.7 -10.5M492.5 657.0l13.2 5M271.8 774.8l4.7 -12.6M504.8 715.3l8.9 12.3M256.6 685.6l12.4 -8.9M469.0 795.7l2.5 11.1M262.8 663.3l13.2 -5.3M449.1 811.5l1.7 10.5M265.6 656.4l13.4 -3.9M441.0 816.0l1.5 10.4M264.5 658.8l13.3 -4.4M444.0 814.4l1.6 10.4M480.5 782.3l3.4 12.2M254.4 703.1l11.1 -10.8M495.3 663.3l13.4 6.6M311.4 817.5l2 -11.1"/>
<path stroke="#008cff" d="M466.2 635.9l8.8 -5.2M396.0 829.1l.7 -10.6M295.7 629.3l7.4 7M350.3 814.7l.5 10.7M291.4 633.7l3.3 13.1M295.6 774.8l-1.1 14.9M445.2 813.1l0 -12.1M468.3 638.3l5.6 -9.2M399.3 828.5l.7 -10M466.1 635.8l8.6 -5.5M292.9 632.2l9.3 4.4M381.8 819.9l.9 10.5M481.6 780.1l-1.5 -16.3M476.9 649.6l2.4 -14.1M290.2 635.4l2.6 14M290.5 767.2l-1.4 16.2M370.9 828.8l1 -9.9M468.4 638.2l10.5 -3.1M295.7 629.1l7.1 7.3M346.4 813.4l.4 10.7M433.3 819.2l.2 -11.4M467.0 636.9l6.6 -8.4M291.4 634.2l10.3 3.6M392.2 819.9l.9 9.9M468.6 795.5l-.8 -14.2M472.7 643.9l3.7 -11.7M289.3 765.0l-1.5 16.3M289.8 635.9l2.4 14.1M503.2 727.7l-7.6 -42l-3.9 -30.3M358.9 826.6l1.1 -9.9M470.0 640.3l11.5 -1.9M287.4 639.6l11.6 1.6M412.0 816.3l1.2 10.5M288.0 638.5l11.5 2M408.8 816.9l1.2 10.5M470.5 641.0l11.6 -1.5M355.6 826.2l1.3 -10.5M470.4 641.0l1.6 -.3M275.7 658.6l13.5 -3.7M447.7 800.1l2 10.5M264.9 700.2l11.5 -10.4M480.9 762.9l4.6 12.6M269.8 745.9l7.1 -12.8M494.0 720.0l8.5 12.6M265.4 724.2l9.1 -12M490.1 740.9l6.3 12.6M321.3 811.8l2.1 -11.1M479.5 653.8l13 3.3M276.5 762.2l5.7 -12.8M494.6 703.4l10.3 11.8M269.0 676.7l13.1 -7.3M466.0 784.0l3 11.7M276.0 658.0l13.5 -3.6M447.0 800.3l2.1 11.1M279.0 652.5l13.1 -2.2M439.2 805.5l1.8 10.5M277.8 654.4l13.6 -2.7M442.1 803.9l1.8 10.5M476.5 770.1l3.9 12.1M265.6 692.3l12.5 -9.8M482.0 658.6l13.3 4.7M313.4 806.4l2.3 -11.1"/>
<path stroke="#0060ff" d="M455.1 644.5l11.1 -8.5M396.8 818.6l1 -14.3M303.1 636.3l9 10.7M349.7 799.6l.6 15.1M294.7 646.8l3.3 21.8M297.4 750.3l-1.8 24.5M445.2 801.0l-.1 -17.2M461.7 652.3l6.6 -13.9M400.0 818.5l1 -14.9M455.3 644.7l10.8 -8.9M302.2 636.6l12.3 7.8M380.5 805.6l1.2 14.3M480.1 763.9l-2.9 -30.9M474.9 678.0l.7 -14.7l1.3 -13.7M292.8 649.5l1.5 12.4l.9 13.5M293.0 738.9l-2.5 28.3M371.8 818.9l1.6 -14.2M454.5 644.3l13.9 -6.1M302.8 636.4l9 11.5M345.8 797.7l.5 15.7M433.5 807.8l.2 -16.5M459.2 649.4l7.8 -12.5M301.7 637.8l13 6.6M390.8 805.7l1.4 14.2M467.8 781.2l-1.3 -22.5M468.5 663.5l4.2 -19.6M292.0 735.4l-2.7 29.6M292.2 650.1l1.4 13.1l.7 14.1M360.0 816.7l1.8 -14.2M455.4 644.8l14.7 -4.5M298.9 641.1l14.8 4.1M410.1 802.1l1.9 14.2M299.5 640.5l14.6 4.6M407.1 803.3l1.7 13.6M467.9 641.6l2.6 -.5M356.9 815.7l1.9 -14.2M455.6 645.1l14.8 -4M289.2 654.9l9.3 -1.5l9.3 -.8M444.3 784.8l3.4 15.3M276.4 689.8l8.9 -6.7l8.9 -5.5M473.5 746.2l7.4 16.7M277.0 733.2l6 -9.2l6.1 -8.2M480.4 703.9l6.8 7.6l6.8 8.5M274.6 712.1l7.6 -8.5l7.7 -7.4M479.6 723.9l10.5 17.1M323.3 800.6l3.2 -14.7M460.9 651.9l9.3 .5l9.3 1.4M282.2 749.4l9.3 -17.1M478.3 688.8l8.2 6.8l8.1 7.9M282.2 669.4l9.4 -4l9.7 -3.2M461.0 767.7l5.1 16.2M289.5 654.5l9.3 -1.4l9.3 -.7M443.7 785.6l3.3 14.7M292.1 650.3l8.7 -.6l8.8 .2M436.3 790.7l2.9 14.7M291.4 651.7l8.8 -.8l8.7 -.2M439.0 788.5l3.2 15.3M469.8 753.1l6.7 17M278.1 682.5l9.3 -5.9l9.2 -4.8M470.0 753.6l1.2 2.8M463.5 654.9l9.3 1.4l9.3 2.3M315.7 795.3l3.8 -15.3"/>
<path stroke="#0034ff" d="M399.5 785.4l.1 -1.2M441.6 658.7l6.7 -7.7l6.9 -6.5M397.8 804.2l1.8 -20M312.1 647.1l5.7 8.4l5.2 9M348.7 777.5l1.1 22.1M298.0 668.7l1.2 17.1l.3 18.9l-.5 20.5l-1.5 25.2M445.0 783.8l.1 -28M453.6 677.3l3.7 -13.1l4.4 -11.9M401.0 803.5l1.7 -20M442.1 659.4l6.5 -7.9l6.7 -6.7M314.5 644.4l12.1 10.4M378.9 789.9l1.6 15.7M477.2 733.0l-2 -30l-.3 -25M295.1 675.3l0 28.5l-2.1 35.1M373.4 804.7l2.2 -16.8M440.2 653.4l7 -4.9l7.3 -4.3M311.7 647.9l5.4 8.6l5.1 9.7M344.9 775.5l.9 22.1M433.8 791.3l.6 -24.1M450.0 669.9l4.4 -10.8l4.9 -9.7M314.7 644.4l7.9 5.2l8 6.4M388.4 786.4l2.4 19.2M466.4 758.7l-1.3 -30.1l-.1 -24.2l1.1 -21.8l2.3 -19.1M294.2 701.6l-2.1 33.8M294.3 677.2l-.4 29.3M361.8 802.5l3.1 -19.1M436.8 654.2l9.3 -5.3l9.2 -4.1M313.7 645.3l7.9 3.2l7.6 3.9M407.6 786.6l2.5 15.5M314.1 645.1l9.2 4.2l8.8 5.1M403.9 783.6l3.1 19.7M358.8 801.5l3.2 -19.1M436.8 653.9l9.5 -5l9.3 -3.9M307.8 652.6l12.1 .2l11.9 1.6M438.4 764.3l5.9 20.5M294.2 677.6l13.9 -6.9l14 -4.9M459.7 722.6l7.1 11.3l6.6 12.3M289.0 715.8l10.2 -11.7l10.8 -10.2M456.5 683.9l12.2 9.1l11.7 10.9M289.9 696.2l12.4 -9.9l12.8 -8.1M460.3 700.9l10.1 11l9.1 12M326.5 785.9l5.7 -20.5M437.0 654.2l11.9 -1.8l12 -.5M291.5 732.3l8 -12.1l9 -11.3M451.4 672.8l13.8 7.2l13.1 8.8M301.3 662.2l13.7 -3l13.3 -1.2M452.1 745.7l4.6 10.6l4.3 11.5M308.1 652.4l12.1 .4l11.9 1.7M437.8 764.5l6 21.1M309.5 649.9l9.7 1l9.6 2M432.3 774.2l4 16.5M308.9 650.7l12 1l11.7 2.3M433.7 768.5l5.2 20M469.3 752.0l.5 1.1M296.7 671.8l11.1 -4.6l11.4 -3.4M460.5 734.6l9.5 19.1M438.1 655.1l12.6 -.8l12.7 .6M319.5 780.0l6.8 -21.5"/>
<path stroke="#0008ff" d="M399.6 784.1l2.5 -20.8l3.2 -18.8l4 -17.4l4.8 -16.2l5.6 -14.9l6.4 -13.6l7.4 -12.7l8.1 -11M399.6 784.2l.4 -3.7M323.0 664.4l5.1 10.6l4.6 11.7l4.2 12.8l3.4 13.3l2.8 14.3l2.3 15.3l1.9 16.6l1.4 18.5M445.1 755.8l.8 -23l1.6 -20.3l2.6 -18.5l3.5 -16.6M402.6 783.5l2.4 -20.8l2.9 -18.3l3.8 -17.4l4.4 -15.7l5.2 -14.5l6.2 -13.7l6.8 -12.4l7.8 -11.3M326.6 654.8l10.1 11.3M377.0 774.7l1.9 15.2M375.6 787.9l2.9 -17.5M426.8 665.3l6.7 -6.4l6.7 -5.5M322.3 666.3l4.5 10.3l4.1 11.3l3.7 12.5l3 12.8l2.5 13.8l2 14.6l2.8 34M434.4 767.2l1.7 -29.2l3.1 -25.6l4.6 -22.2l6.2 -20.3M330.6 656.0l10.8 10.7l9.8 12.3l8.9 14.1l7.8 15.7l6.6 16.8l5.7 18.7l4.5 19.8l3.7 22.4M364.9 783.3l4.9 -22.7l6 -20.6l7.2 -18.7l8.4 -17.2l9.7 -15.3l10.7 -13.3l11.9 -11.6l13.2 -9.8M329.3 652.3l11.8 7.6M404.8 772.8l2.7 13.8M332.1 654.3l13.1 9.7l11.9 11.7l10.7 13.4l9.7 15.3l8.4 17.1l7.2 18.7l5.9 20.6l4.9 22.8M362.0 782.4l5.1 -22.7l6.2 -20.5l7.5 -18.6l8.7 -17l9.9 -15.1l11.3 -13.6l12.6 -11.7l13.4 -9.3M331.8 654.5l8.6 2l8.9 2.8l8.2 3.4l8.4 4.3l7.7 4.7l7.8 5.6l7.5 6.3l7.1 6.8l6.7 7.4l6.2 7.8l5.8 8.3l5.7 9.3l9.8 19.5l8.2 21.6M322.1 665.8l9.4 -2.2l9.4 -1.5l9.6 -.6l9.5 .2l9.5 .9l9.4 1.8l9.3 2.5l9.6 3.5l8.8 4.1l8.5 4.8l8.2 5.5l8.3 6.4l7.4 6.7l7.4 7.7l6.9 8.3l6.4 8.7M310.0 693.9l8.3 -6.5l8.2 -5.6l8.6 -4.9l8.8 -4.1l9.6 -3.6l9.3 -2.7l9.5 -1.8l9.5 -1.1l9.6 -.3l9.6 .6l9.5 1.3l10 2.3l9.2 2.9l9.1 3.7l8.7 4.4l8.9 5.4M315.1 678.2l9.3 -4.6l9 -3.7l9.3 -2.9l9.4 -2.1l9.5 -1.3l9.6 -.5l9.5 .2l9.6 1.1l9.4 1.9l9.3 2.6l9.1 3.4l9.4 4.4l8.5 4.9l8.7 5.9l7.8 6.2l7.9 7.2M332.3 765.4l8.1 -21.8l9.6 -19.6l5.5 -9.3l5.7 -8.3l6.2 -8l6.5 -7.4l7 -7l7.4 -6.3l7.8 -5.8l7.6 -4.8l8.4 -4.4l8.1 -3.5l8.3 -2.8l8.5 -2.2M308.5 708.9l7.3 -7.8l7.4 -6.9l8.2 -6.7l8.1 -5.6l9 -5.2l8.8 -4.3l9 -3.5l9.3 -2.7l9.4 -2l9.5 -1.2l9.6 -.4l9.5 .4l9.6 1.2l9.4 2l9.2 2.8l9.6 3.8M328.3 658.0l8.9 .1l9.4 .8l9.3 1.6l9.2 2.5l9 3.1l8.7 4l8.5 4.6l8.2 5.3l7.8 6l7.9 6.9l7 7.2l6.9 8.1l6.4 8.6l6 9.1l5.4 9.5l5.2 10.3M332.1 654.4l8.5 2.1l8.4 2.7l8.2 3.4l8.4 4.4l7.7 4.7l7.8 5.6l7.4 6.3l7.1 6.8l6.6 7.4l6.2 7.9l5.8 8.4l5.6 9.2l9.8 19.5l8.2 21.7M328.9 652.8l7.9 2.3l8.2 3M427.5 758.4l4.8 15.8M332.7 654.1l8.4 2.5l8.2 3.2l8 3.8l8.2 4.8l7.4 5.1l7.5 6l6.8 6.3l6.7 7.1l6.4 7.7l5.9 8.2l5.5 8.5l5.3 9.5l9.2 19.8l7.6 22M319.2 663.8l10.5 -2.1l10.6 -1M450.1 718.3l10.4 16.3M391.0 672.2l11.3 -6.3l11.8 -5l12.2 -3.7l11.9 -2.1M326.3 758.6l5.9 -14.7l6.7 -13.6l7.7 -13l8.3 -11.7l9.1 -10.8l9.5 -9.4l10.3 -8.3l10.9 -7.2"/>
<path stroke="#2400ff" d="M336.7 666.1l5.9 8.1l5.8 9.1M373.4 753.5l3.6 21.3M378.5 770.4l3.6 -16.8l4.2 -15.4M406.9 691.2l9.4 -13.7l10.5 -12.2M341.1 659.9l6.9 5.4l7 6.4M400.6 755.6l4.3 17.3M344.9 658.2l10.4 5l10 6.1M419.6 737.9l7.9 20.5M340.3 660.7l15.7 .2l15.5 2.4M431.0 696.2l9.8 10.3l9.3 11.8"/>
<path stroke="#5000ff" d="M348.4 683.3l8 15.4l6.7 16.6l5.7 18.5l4.6 19.7M386.4 738.2l4.2 -12.7l5 -12.3l5.3 -11.3l6 -10.7M355.0 671.8l7.7 8.3l7.1 8.9M393.6 734.1l7 21.5M365.4 669.3l12.9 10.1l11.9 11.8M404.1 709.4l8.3 13.9l7.2 14.7M371.4 663.3l8.2 2.2l8 2.7l15.5 7.3l14.5 9.4l13.4 11.3"/>
<path stroke="#7c00ff" d="M369.8 689.0l6.8 10.1l6.2 10.8l5.8 11.9l5 12.3M390.1 691.2l7.1 8.6l6.9 9.6"/>
</g>
<path fill="#f00" d="M562.9 629.2h2.4v2.4h-2.4zM568.2 631.8h2.4v2.4h-2.4zM568.7 632.1h2.4v2.4h-2.4zM268.2 547.7h2.4v2.4h-2.4zM490.6 544.1h2.4v2.4h-2.4zM204.1 611.0h2.4v2.4h-2.4zM244.6 572.0h2.4v2.4h-2.4zM490.0 532.7h2.4v2.4h-2.4zM279.1 540.8h2.4v2.4h-2.4zM574.1 632.1h2.4v2.4h-2.4zM284.6 529.5h2.4v2.4h-2.4zM218.0 606.5h2.4v2.4h-2.4zM195.2 635.0h2.4v2.4h-2.4zM191.2 645.1h2.4v2.4h-2.4zM394.8 906.8h2.4v2.4h-2.4zM531.6 578.2h2.4v2.4h-2.4zM530.2 576.8h2.4v2.4h-2.4zM522.0 568.4h2.4v2.4h-2.4zM490.8 537.0h2.4v2.4h-2.4zM476.5 879.6h2.4v2.4h-2.4zM273.9 536.8h2.4v2.4h-2.4zM294.0 885.7h2.4v2.4h-2.4zM581.5 666.3h2.4v2.4h-2.4zM358.8 904.8h2.4v2.4h-2.4zM359.2 905.8h2.4v2.4h-2.4zM362.3 912.4h2.4v2.4h-2.4zM583.6 684.5h2.4v2.4h-2.4zM277.8 543.2h2.4v2.4h-2.4zM179.0 713.5h2.4v2.4h-2.4zM187.5 658.7h2.4v2.4h-2.4zM191.8 655.2h2.4v2.4h-2.4zM278.2 530.6h2.4v2.4h-2.4zM196.2 761.1h2.4v2.4h-2.4zM530.2 572.7h2.4v2.4h-2.4zM239.7 564.1h2.4v2.4h-2.4zM233.1 834.5h2.4v2.4h-2.4zM512.6 853.5h2.4v2.4h-2.4zM346.1 899.9h2.4v2.4h-2.4zM179.8 686.7h2.4v2.4h-2.4zM189.9 738.4h2.4v2.4h-2.4zM460.3 887.4h2.4v2.4h-2.4zM460.5 888.4h2.4v2.4h-2.4zM184.7 750.2h2.4v2.4h-2.4zM209.9 810.1h2.4v2.4h-2.4zM210.8 805.9h2.4v2.4h-2.4zM240.2 848.5h2.4v2.4h-2.4zM535.0 833.0h2.4v2.4h-2.4zM580.5 742.0h2.4v2.4h-2.4zM196.9 776.3h2.4v2.4h-2.4zM185.8 733.9h2.4v2.4h-2.4zM497.5 881.5h2.4v2.4h-2.4zM577.6 755.4h2.4v2.4h-2.4zM297.8 895.4h2.4v2.4h-2.4z"/>
<path fill="#ff0" d="M563.4 629.5h2.4v2.4h-2.4zM567.6 631.5h2.4v2.4h-2.4zM278.5 536.1h2.4v2.4h-2.4zM267.4 548.6h2.4v2.4h-2.4zM377.9 914.4h2.4v2.4h-2.4zM379.6 910.7h2.4v2.4h-2.4zM581.2 673.9h2.4v2.4h-2.4zM205.7 610.5h2.4v2.4h-2.4zM214.9 608.1h2.4v2.4h-2.4zM301.4 890.3h2.4v2.4h-2.4zM490.9 545.4h2.4v2.4h-2.4zM490.2 537.5h2.4v2.4h-2.4zM490.1 535.1h2.4v2.4h-2.4zM433.5 896.2h2.4v2.4h-2.4zM186.3 721.7h2.4v2.4h-2.4zM185.6 723.6h2.4v2.4h-2.4zM207.3 619.5h2.4v2.4h-2.4zM186.8 646.4h2.4v2.4h-2.4zM201.4 638.7h2.4v2.4h-2.4zM395.7 909.1h2.4v2.4h-2.4zM538.4 585.2h2.4v2.4h-2.4zM517.1 563.5h2.4v2.4h-2.4zM516.2 562.6h2.4v2.4h-2.4zM510.0 556.3h2.4v2.4h-2.4zM203.4 804.1h2.4v2.4h-2.4zM257.3 548.8h2.4v2.4h-2.4zM242.7 561.6h2.4v2.4h-2.4zM240.6 563.4h2.4v2.4h-2.4zM221.2 581.0h2.4v2.4h-2.4zM486.4 538.2h2.4v2.4h-2.4zM478.7 525.2h2.4v2.4h-2.4zM213.6 605.4h2.4v2.4h-2.4zM358.6 904.3h2.4v2.4h-2.4zM588.7 694.5h2.4v2.4h-2.4zM575.0 669.3h2.4v2.4h-2.4zM286.5 525.5h2.4v2.4h-2.4zM183.1 703.9h2.4v2.4h-2.4zM176.9 718.6h2.4v2.4h-2.4zM550.6 596.7h2.4v2.4h-2.4zM538.8 578.3h2.4v2.4h-2.4zM502.6 545.0h2.4v2.4h-2.4zM188.9 657.5h2.4v2.4h-2.4zM192.5 780.8h2.4v2.4h-2.4zM291.4 882.2h2.4v2.4h-2.4zM295.0 892.6h2.4v2.4h-2.4zM563.4 799.6h2.4v2.4h-2.4zM562.1 786.5h2.4v2.4h-2.4zM492.1 543.0h2.4v2.4h-2.4zM492.1 541.1h2.4v2.4h-2.4zM492.1 539.6h2.4v2.4h-2.4zM344.0 906.4h2.4v2.4h-2.4zM185.6 684.0h2.4v2.4h-2.4zM425.9 906.9h2.4v2.4h-2.4zM420.4 900.0h2.4v2.4h-2.4zM341.5 904.1h2.4v2.4h-2.4zM186.9 744.9h2.4v2.4h-2.4zM188.5 741.4h2.4v2.4h-2.4zM210.3 808.3h2.4v2.4h-2.4zM239.7 852.4h2.4v2.4h-2.4zM535.0 833.5h2.4v2.4h-2.4zM536.2 841.5h2.4v2.4h-2.4zM307.8 891.3h2.4v2.4h-2.4zM547.9 826.4h2.4v2.4h-2.4zM482.2 882.0h2.4v2.4h-2.4zM483.7 889.8h2.4v2.4h-2.4zM181.3 756.7h2.4v2.4h-2.4zM187.9 723.9h2.4v2.4h-2.4zM456.2 898.3h2.4v2.4h-2.4zM204.1 804.9h2.4v2.4h-2.4zM297.7 895.9h2.4v2.4h-2.4zM298.2 893.5h2.4v2.4h-2.4z"/>
<path fill="#000" d="M565.5 630.5h2.4v2.4h-2.4zM574.4 635.3h2.4v2.4h-2.4zM579.6 638.5h2.4v2.4h-2.4zM291.1 521.5h2.4v2.4h-2.4zM283.0 530.9h2.4v2.4h-2.4zM192.1 635.5h2.4v2.4h-2.4zM184.4 645.7h2.4v2.4h-2.4zM376.8 916.6h2.4v2.4h-2.4zM366.1 912.3h2.4v2.4h-2.4zM586.0 682.5h2.4v2.4h-2.4zM570.6 656.5h2.4v2.4h-2.4zM494.4 549.7h2.4v2.4h-2.4zM487.3 539.1h2.4v2.4h-2.4zM480.5 528.6h2.4v2.4h-2.4zM203.5 611.2h2.4v2.4h-2.4zM230.9 566.6h2.4v2.4h-2.4zM299.8 885.4h2.4v2.4h-2.4zM300.5 887.6h2.4v2.4h-2.4zM306.0 901.4h2.4v2.4h-2.4zM306.4 902.4h2.4v2.4h-2.4zM570.4 800.1h2.4v2.4h-2.4zM490.6 542.4h2.4v2.4h-2.4zM490.0 529.3h2.4v2.4h-2.4zM428.9 907.2h2.4v2.4h-2.4zM547.4 587.6h2.4v2.4h-2.4zM283.0 530.6h2.4v2.4h-2.4zM181.0 736.7h2.4v2.4h-2.4zM380.6 915.3h2.4v2.4h-2.4zM384.0 908.0h2.4v2.4h-2.4zM575.7 633.0h2.4v2.4h-2.4zM288.5 524.7h2.4v2.4h-2.4zM285.0 529.0h2.4v2.4h-2.4zM275.7 540.1h2.4v2.4h-2.4zM206.4 620.5h2.4v2.4h-2.4zM185.5 648.2h2.4v2.4h-2.4zM186.2 648.7h2.4v2.4h-2.4zM194.2 643.1h2.4v2.4h-2.4zM396.3 910.5h2.4v2.4h-2.4zM397.7 913.6h2.4v2.4h-2.4zM568.0 617.5h2.4v2.4h-2.4zM537.0 583.7h2.4v2.4h-2.4zM524.4 570.8h2.4v2.4h-2.4zM522.4 568.9h2.4v2.4h-2.4zM497.7 544.0h2.4v2.4h-2.4zM493.1 539.3h2.4v2.4h-2.4zM483.5 529.6h2.4v2.4h-2.4zM481.3 527.3h2.4v2.4h-2.4zM471.9 893.3h2.4v2.4h-2.4zM475.0 884.6h2.4v2.4h-2.4zM527.5 563.1h2.4v2.4h-2.4zM273.8 534.9h2.4v2.4h-2.4zM203.3 806.8h2.4v2.4h-2.4zM236.1 563.7h2.4v2.4h-2.4zM298.0 896.6h2.4v2.4h-2.4zM565.2 806.2h2.4v2.4h-2.4zM565.0 802.9h2.4v2.4h-2.4zM491.9 533.2h2.4v2.4h-2.4zM283.9 525.8h2.4v2.4h-2.4zM261.4 545.2h2.4v2.4h-2.4zM231.7 571.4h2.4v2.4h-2.4zM224.3 578.1h2.4v2.4h-2.4zM215.0 586.8h2.4v2.4h-2.4zM213.4 588.3h2.4v2.4h-2.4zM353.1 914.2h2.4v2.4h-2.4zM356.7 905.2h2.4v2.4h-2.4zM356.9 904.7h2.4v2.4h-2.4zM587.8 672.5h2.4v2.4h-2.4zM477.0 522.3h2.4v2.4h-2.4zM200.1 609.0h2.4v2.4h-2.4zM201.2 608.6h2.4v2.4h-2.4zM210.4 606.1h2.4v2.4h-2.4zM358.2 903.4h2.4v2.4h-2.4zM364.2 916.1h2.4v2.4h-2.4zM591.8 700.8h2.4v2.4h-2.4zM591.2 699.6h2.4v2.4h-2.4zM288.1 522.1h2.4v2.4h-2.4zM277.6 543.7h2.4v2.4h-2.4zM275.9 546.8h2.4v2.4h-2.4zM182.0 706.4h2.4v2.4h-2.4zM175.4 722.5h2.4v2.4h-2.4zM175.1 723.2h2.4v2.4h-2.4zM174.7 724.5h2.4v2.4h-2.4zM413.1 915.6h2.4v2.4h-2.4zM548.5 596.4h2.4v2.4h-2.4zM560.8 598.4h2.4v2.4h-2.4zM550.5 589.7h2.4v2.4h-2.4zM502.1 544.5h2.4v2.4h-2.4zM499.1 541.8h2.4v2.4h-2.4zM489.2 532.8h2.4v2.4h-2.4zM488.7 532.4h2.4v2.4h-2.4zM183.2 662.4h2.4v2.4h-2.4zM186.1 659.9h2.4v2.4h-2.4zM405.8 907.9h2.4v2.4h-2.4zM407.5 912.0h2.4v2.4h-2.4zM278.3 530.1h2.4v2.4h-2.4zM191.7 786.9h2.4v2.4h-2.4zM453.8 903.2h2.4v2.4h-2.4zM454.3 902.1h2.4v2.4h-2.4zM537.7 570.6h2.4v2.4h-2.4zM297.5 898.5h2.4v2.4h-2.4zM297.7 899.0h2.4v2.4h-2.4zM563.9 812.9h2.4v2.4h-2.4zM492.2 538.7h2.4v2.4h-2.4zM492.6 530.7h2.4v2.4h-2.4zM234.5 561.9h2.4v2.4h-2.4zM262.8 543.4h2.4v2.4h-2.4zM233.1 833.8h2.4v2.4h-2.4zM234.7 848.9h2.4v2.4h-2.4zM509.5 869.1h2.4v2.4h-2.4zM511.2 861.9h2.4v2.4h-2.4zM505.7 557.8h2.4v2.4h-2.4zM511.6 549.9h2.4v2.4h-2.4zM590.4 691.4h2.4v2.4h-2.4zM270.6 533.4h2.4v2.4h-2.4zM248.5 550.5h2.4v2.4h-2.4zM241.9 555.7h2.4v2.4h-2.4zM341.7 912.2h2.4v2.4h-2.4zM176.4 695.5h2.4v2.4h-2.4zM425.7 906.4h2.4v2.4h-2.4zM427.4 910.9h2.4v2.4h-2.4zM523.2 554.6h2.4v2.4h-2.4zM522.6 554.2h2.4v2.4h-2.4zM502.7 538.7h2.4v2.4h-2.4zM497.2 534.5h2.4v2.4h-2.4zM176.2 691.2h2.4v2.4h-2.4zM182.2 683.7h2.4v2.4h-2.4zM191.8 673.6h2.4v2.4h-2.4zM424.2 911.0h2.4v2.4h-2.4zM424.8 912.3h2.4v2.4h-2.4zM588.5 693.5h2.4v2.4h-2.4zM339.5 909.5h2.4v2.4h-2.4zM462.8 898.4h2.4v2.4h-2.4zM182.5 755.6h2.4v2.4h-2.4zM208.5 817.9h2.4v2.4h-2.4zM503.5 873.6h2.4v2.4h-2.4zM503.8 875.6h2.4v2.4h-2.4zM238.9 858.4h2.4v2.4h-2.4zM537.1 848.3h2.4v2.4h-2.4zM223.9 842.2h2.4v2.4h-2.4zM225.8 829.6h2.4v2.4h-2.4zM520.2 850.4h2.4v2.4h-2.4zM521.9 863.4h2.4v2.4h-2.4zM305.2 901.6h2.4v2.4h-2.4zM306.8 895.6h2.4v2.4h-2.4zM583.1 747.9h2.4v2.4h-2.4zM586.0 755.1h2.4v2.4h-2.4zM251.6 868.9h2.4v2.4h-2.4zM549.0 833.4h2.4v2.4h-2.4zM192.3 793.3h2.4v2.4h-2.4zM192.4 792.7h2.4v2.4h-2.4zM482.5 883.5h2.4v2.4h-2.4zM484.0 891.3h2.4v2.4h-2.4zM180.7 758.6h2.4v2.4h-2.4zM462.2 899.1h2.4v2.4h-2.4zM462.8 901.4h2.4v2.4h-2.4zM181.3 736.5h2.4v2.4h-2.4zM188.2 723.4h2.4v2.4h-2.4zM453.3 899.6h2.4v2.4h-2.4zM454.9 893.1h2.4v2.4h-2.4zM456.3 898.8h2.4v2.4h-2.4zM182.2 741.5h2.4v2.4h-2.4zM497.7 882.5h2.4v2.4h-2.4zM202.6 812.7h2.4v2.4h-2.4zM575.4 750.1h2.4v2.4h-2.4zM575.9 751.3h2.4v2.4h-2.4zM580.3 762.6h2.4v2.4h-2.4zM583.0 770.6h2.4v2.4h-2.4zM583.2 771.2h2.4v2.4h-2.4zM296.8 899.2h2.4v2.4h-2.4zM298.6 892.1h2.4v2.4h-2.4zM299.9 885.8h2.4v2.4h-2.4z"/>
<path fill="#f80" d="M281.4 532.8h2.4v2.4h-2.4zM204.8 619.4h2.4v2.4h-2.4zM580.5 672.7h2.4v2.4h-2.4zM204.6 610.8h2.4v2.4h-2.4zM299.1 883.2h2.4v2.4h-2.4zM491.0 546.4h2.4v2.4h-2.4zM490.6 541.9h2.4v2.4h-2.4zM188.3 716.6h2.4v2.4h-2.4zM182.8 731.4h2.4v2.4h-2.4zM280.6 534.3h2.4v2.4h-2.4zM262.2 555.7h2.4v2.4h-2.4zM218.9 605.4h2.4v2.4h-2.4zM209.5 616.7h2.4v2.4h-2.4zM201.6 626.6h2.4v2.4h-2.4zM200.8 627.7h2.4v2.4h-2.4zM393.9 904.5h2.4v2.4h-2.4zM565.2 614.3h2.4v2.4h-2.4zM554.3 602.1h2.4v2.4h-2.4zM527.8 574.3h2.4v2.4h-2.4zM512.3 558.7h2.4v2.4h-2.4zM488.5 534.6h2.4v2.4h-2.4zM473.1 890.1h2.4v2.4h-2.4zM473.5 889.0h2.4v2.4h-2.4zM517.8 568.6h2.4v2.4h-2.4zM274.1 542.5h2.4v2.4h-2.4zM565.1 804.2h2.4v2.4h-2.4zM491.9 545.7h2.4v2.4h-2.4zM241.6 562.5h2.4v2.4h-2.4zM586.4 671.1h2.4v2.4h-2.4zM282.7 533.5h2.4v2.4h-2.4zM544.2 596.1h2.4v2.4h-2.4zM549.5 596.5h2.4v2.4h-2.4zM530.1 570.1h2.4v2.4h-2.4zM500.6 543.2h2.4v2.4h-2.4zM194.4 769.6h2.4v2.4h-2.4zM459.7 888.4h2.4v2.4h-2.4zM533.0 571.9h2.4v2.4h-2.4zM295.4 893.7h2.4v2.4h-2.4zM235.4 562.2h2.4v2.4h-2.4zM234.0 843.9h2.4v2.4h-2.4zM234.5 847.6h2.4v2.4h-2.4zM579.2 678.3h2.4v2.4h-2.4zM345.4 902.2h2.4v2.4h-2.4zM345.8 900.8h2.4v2.4h-2.4zM181.8 684.2h2.4v2.4h-2.4zM192.7 672.8h2.4v2.4h-2.4zM422.8 907.4h2.4v2.4h-2.4zM581.3 684.6h2.4v2.4h-2.4zM460.4 887.9h2.4v2.4h-2.4zM462.3 896.5h2.4v2.4h-2.4zM208.6 817.3h2.4v2.4h-2.4zM537.0 847.2h2.4v2.4h-2.4zM226.2 826.7h2.4v2.4h-2.4zM483.1 886.9h2.4v2.4h-2.4zM483.3 887.9h2.4v2.4h-2.4zM186.5 744.2h2.4v2.4h-2.4zM460.0 890.1h2.4v2.4h-2.4zM461.6 896.7h2.4v2.4h-2.4zM454.0 889.3h2.4v2.4h-2.4zM186.1 733.4h2.4v2.4h-2.4zM186.7 732.2h2.4v2.4h-2.4z"/>
<path fill="#ffdc00" d="M575.7 633.0h2.4v2.4h-2.4zM298.0 896.6h2.4v2.4h-2.4z"/>
<path fill="#ffb000" d="M174.7 724.5h2.4v2.4h-2.4z"/>
<path fill="#72ff00" d="M190.2 737.9h2.4v2.4h-2.4z"/>
<circle cx="384.4" cy="709.7" r="70.90" fill="none" stroke="#000" stroke-width="1.05"/>
<circle cx="384.4" cy="709.7" r="141.80" fill="none" stroke="#000" stroke-width="1.05"/>
<circle cx="384.4" cy="709.7" r="201.20" fill="none" stroke="#000" stroke-width="1.0"/>
<rect x="383.84999999999997" y="497.00000000000006" width="1.1" height="425.4" fill="#000"/>
<rect x="171.7" y="709.1500000000001" width="425.4" height="1.1" fill="#000"/>
<circle cx="384.4" cy="709.7" r="212.7" fill="none" stroke="#000" stroke-width="4"/>
<text x="385.8" y="488" font-size="22.5" text-anchor="middle" textLength="50.5" lengthAdjust="spacingAndGlyphs">Norte</text>
<text x="381.5" y="949.8" font-size="22.5" text-anchor="middle" textLength="33" lengthAdjust="spacingAndGlyphs">Sur</text>
<text x="159.3" y="711.5" font-size="22.5" text-anchor="end" textLength="57" lengthAdjust="spacingAndGlyphs">Oeste</text>
<text x="606.5" y="711.8" font-size="22.5" text-anchor="start" textLength="41.3" lengthAdjust="spacingAndGlyphs">Este</text>
<text x="398.6" y="561.8" font-size="21.7" text-anchor="middle" >30</text>
<text x="398.6" y="631.9" font-size="21.7" text-anchor="middle" >60</text>
<defs><clipPath id="clipAT"><rect x="740" y="609" width="626" height="311"/></clipPath><clipPath id="clipEA"><rect x="71" y="1003" width="626" height="310.8"/></clipPath><clipPath id="clipET"><rect x="740" y="1003" width="626" height="310.8"/></clipPath></defs>
<defs><clipPath id="clipC1"><rect x="740" y="216" width="626" height="310.8"/></clipPath></defs>
<g clip-path="url(#clipC1)">
<path fill="#d3d3d3" d="M738.0 355.7 738.4 355.7 738.4 371.4 762.3 371.4 762.3 387.1 763.6 387.1 763.6 371.4 765.3 371.4 765.3 355.7 774.8 355.7 774.8 371.4 789.4 371.4 789.4 387.1 792.7 387.1 792.7 402.9 794.2 402.9 794.2 387.1 798.6 387.1 798.6 371.4 800.8 371.4 800.8 355.7 809.8 355.7 809.8 371.4 810.6 371.4 810.6 387.1 811.9 387.1 811.9 371.4 818.5 371.4 818.5 355.7 823.3 355.7 823.3 339.9 831.8 339.9 831.8 355.7 846.7 355.7 846.7 371.4 851.1 371.4 851.1 387.1 853.1 387.1 853.1 402.9 853.5 402.9 853.5 387.1 868.6 387.1 868.6 371.4 878.4 371.4 878.4 387.1 878.9 387.1 878.9 371.4 880.6 371.4 880.6 355.7 890.5 355.7 890.5 371.4 895.9 371.4 895.9 355.7 906.9 355.7 906.9 371.4 914.8 371.4 914.8 387.1 919.1 387.1 919.1 371.4 920.7 371.4 920.7 387.1 925.0 387.1 925.0 371.4 941.7 371.4 941.7 355.7 955.2 355.7 955.2 371.4 956.8 371.4 956.8 355.7 959.4 355.7 959.4 371.4 967.7 371.4 967.7 387.1 979.7 387.1 979.7 371.4 989.8 371.4 989.8 355.7 992.2 355.7 992.2 371.4 1015.2 371.4 1015.2 355.7 1023.7 355.7 1023.7 339.9 1028.5 339.9 1028.5 355.7 1037.9 355.7 1037.9 371.4 1041.0 371.4 1041.0 355.7 1046.9 355.7 1046.9 371.4 1053.2 371.4 1053.2 387.1 1077.3 387.1 1077.3 371.4 1078.2 371.4 1078.2 387.1 1081.4 387.1 1081.4 402.9 1085.2 402.9 1085.2 387.1 1093.5 387.1 1093.5 402.9 1109.4 402.9 1109.4 387.1 1113.6 387.1 1113.6 371.4 1114.9 371.4 1114.9 355.7 1119.5 355.7 1119.5 339.9 1123.2 339.9 1123.2 355.7 1129.1 355.7 1129.1 371.4 1129.6 371.4 1129.6 387.1 1132.4 387.1 1132.4 371.4 1149.0 371.4 1149.0 355.7 1156.9 355.7 1156.9 339.9 1163.9 339.9 1163.9 355.7 1166.8 355.7 1166.8 387.1 1167.8 387.1 1167.8 371.4 1171.3 371.4 1171.3 355.7 1176.8 355.7 1176.8 371.4 1183.2 371.4 1183.2 355.7 1188.8 355.7 1188.8 371.4 1199.1 371.4 1199.1 387.1 1203.7 387.1 1203.7 371.4 1222.5 371.4 1222.5 355.7 1223.4 355.7 1223.4 339.9 1240.0 339.9 1240.0 355.7 1242.9 355.7 1242.9 339.9 1244.6 339.9 1244.6 324.2 1254.5 324.2 1254.5 339.9 1263.0 339.9 1263.0 324.2 1266.3 324.2 1266.3 339.9 1270.2 339.9 1270.2 324.2 1275.7 324.2 1275.7 339.9 1277.7 339.9 1277.7 355.7 1281.6 355.7 1281.6 371.4 1299.1 371.4 1299.1 355.7 1306.5 355.7 1306.5 371.4 1313.3 371.4 1313.3 355.7 1315.1 355.7 1315.1 371.4 1320.8 371.4 1320.8 387.1 1333.4 387.1 1333.4 371.4 1341.3 371.4 1341.3 355.7 1347.2 355.7 1347.2 339.9 1347.4 339.9 1347.4 355.7 1354.0 355.7 1354.0 371.4 1360.3 371.4 1360.3 355.7 1366.7 355.7 1366.7 371.4 1368.0 371.4 L1368.0 528.8 L738.0 528.8 Z"/>
<path fill="none" stroke="#000" stroke-width="1.3" d="M738.0 355.7 738.7 355.7 738.7 371.4 738.9 371.4 738.9 355.7 741.1 355.7 741.1 371.4 741.3 371.4 741.3 355.7 741.5 355.7 741.5 371.4 741.7 371.4 741.7 355.7 742.6 355.7 742.6 371.4 761.8 371.4 761.8 355.7 762.1 355.7 762.1 371.4 762.3 371.4 762.3 355.7 762.5 355.7 762.5 371.4 762.7 371.4 762.7 355.7 763.2 355.7 763.2 339.9 763.4 339.9 763.4 355.7 764.5 355.7 764.5 339.9 764.7 339.9 764.7 355.7 775.2 355.7 775.2 371.4 775.4 371.4 775.4 355.7 775.6 355.7 775.6 371.4 776.1 371.4 776.1 355.7 776.5 355.7 776.5 371.4 787.0 371.4 787.0 355.7 787.2 355.7 787.2 371.4 788.1 371.4 788.1 355.7 788.3 355.7 788.3 371.4 788.5 371.4 788.5 355.7 789.0 355.7 789.0 371.4 789.6 371.4 789.6 355.7 789.8 355.7 789.8 371.4 790.1 371.4 790.1 355.7 790.3 355.7 790.3 371.4 790.5 371.4 790.5 355.7 790.7 355.7 790.7 371.4 790.9 371.4 790.9 355.7 791.2 355.7 791.2 371.4 791.4 371.4 791.4 387.1 791.6 387.1 791.6 371.4 792.5 371.4 792.5 355.7 792.7 355.7 792.7 371.4 793.3 371.4 793.3 355.7 793.8 355.7 793.8 371.4 794.0 371.4 794.0 355.7 794.7 355.7 794.7 371.4 794.9 371.4 794.9 339.9 795.1 339.9 795.1 355.7 795.3 355.7 795.3 387.1 795.5 387.1 795.5 355.7 795.8 355.7 795.8 371.4 796.2 371.4 796.2 387.1 796.4 387.1 796.4 371.4 797.5 371.4 797.5 355.7 798.8 355.7 798.8 371.4 799.0 371.4 799.0 355.7 803.4 355.7 803.4 339.9 803.6 339.9 803.6 355.7 804.5 355.7 804.5 339.9 804.7 339.9 804.7 355.7 805.2 355.7 805.2 339.9 805.6 339.9 805.6 355.7 805.8 355.7 805.8 339.9 806.0 339.9 806.0 355.7 806.2 355.7 806.2 339.9 806.7 339.9 806.7 355.7 807.1 355.7 807.1 339.9 808.2 339.9 808.2 355.7 808.4 355.7 808.4 339.9 809.1 339.9 809.1 371.4 809.3 371.4 809.3 339.9 809.8 339.9 809.8 355.7 810.0 355.7 810.0 339.9 810.8 339.9 810.8 355.7 815.9 355.7 815.9 371.4 816.1 371.4 816.1 355.7 817.2 355.7 817.2 339.9 817.4 339.9 817.4 355.7 817.6 355.7 817.6 339.9 818.5 339.9 818.5 355.7 818.9 355.7 818.9 339.9 819.6 339.9 819.6 355.7 819.8 355.7 819.8 324.2 820.0 324.2 820.0 339.9 820.2 339.9 820.2 355.7 820.5 355.7 820.5 339.9 820.7 339.9 820.7 324.2 821.1 324.2 821.1 355.7 822.0 355.7 822.0 339.9 822.4 339.9 822.4 355.7 822.7 355.7 822.7 339.9 824.0 339.9 824.0 355.7 824.4 355.7 824.4 339.9 824.6 339.9 824.6 355.7 824.8 355.7 824.8 339.9 832.7 339.9 832.7 355.7 832.9 355.7 832.9 339.9 833.4 339.9 833.4 355.7 834.0 355.7 834.0 339.9 834.2 339.9 834.2 355.7 848.9 355.7 848.9 371.4 849.1 371.4 849.1 355.7 850.9 355.7 850.9 339.9 851.3 339.9 851.3 371.4 851.5 371.4 851.5 339.9 851.8 339.9 851.8 355.7 852.6 355.7 852.6 371.4 852.8 371.4 852.8 355.7 853.1 355.7 853.1 371.4 853.5 371.4 853.5 355.7 853.7 355.7 853.7 371.4 854.4 371.4 854.4 387.1 856.3 387.1 856.3 371.4 856.6 371.4 856.6 387.1 864.9 387.1 864.9 371.4 865.3 371.4 865.3 387.1 865.5 387.1 865.5 371.4 866.2 371.4 866.2 387.1 866.4 387.1 866.4 371.4 867.1 371.4 867.1 387.1 867.3 387.1 867.3 371.4 876.2 371.4 876.2 355.7 877.1 355.7 877.1 371.4 877.3 371.4 877.3 355.7 877.6 355.7 877.6 371.4 877.8 371.4 877.8 355.7 878.0 355.7 878.0 371.4 878.4 371.4 878.4 355.7 878.7 355.7 878.7 371.4 878.9 371.4 878.9 355.7 879.5 355.7 879.5 371.4 879.8 371.4 879.8 355.7 880.0 355.7 880.0 339.9 880.2 339.9 880.2 371.4 880.4 371.4 880.4 339.9 880.8 339.9 880.8 355.7 881.7 355.7 881.7 339.9 881.9 339.9 881.9 355.7 891.1 355.7 891.1 371.4 891.3 371.4 891.3 355.7 891.8 355.7 891.8 371.4 892.2 371.4 892.2 355.7 892.4 355.7 892.4 371.4 894.0 371.4 894.0 355.7 894.4 355.7 894.4 371.4 894.6 371.4 894.6 355.7 895.3 355.7 895.3 371.4 895.5 371.4 895.5 355.7 896.4 355.7 896.4 371.4 896.6 371.4 896.6 355.7 906.4 355.7 906.4 371.4 906.7 371.4 906.7 355.7 908.2 355.7 908.2 371.4 908.4 371.4 908.4 355.7 908.6 355.7 908.6 371.4 915.0 371.4 915.0 387.1 915.2 387.1 915.2 371.4 915.6 371.4 915.6 387.1 915.8 387.1 915.8 371.4 916.1 371.4 916.1 387.1 916.9 387.1 916.9 371.4 917.4 371.4 917.4 387.1 918.0 387.1 918.0 371.4 919.1 371.4 919.1 387.1 919.3 387.1 919.3 371.4 922.2 371.4 922.2 387.1 922.4 387.1 922.4 371.4 922.6 371.4 922.6 387.1 922.8 387.1 922.8 371.4 923.1 371.4 923.1 387.1 923.7 387.1 923.7 371.4 923.9 371.4 923.9 387.1 924.2 387.1 924.2 371.4 940.3 371.4 940.3 355.7 940.6 355.7 940.6 371.4 940.8 371.4 940.8 355.7 955.9 355.7 955.9 371.4 956.1 371.4 956.1 355.7 956.3 355.7 956.3 371.4 956.8 371.4 956.8 339.9 957.0 339.9 957.0 355.7 958.7 355.7 958.7 339.9 958.9 339.9 958.9 355.7 960.5 355.7 960.5 371.4 960.9 371.4 960.9 355.7 961.1 355.7 961.1 371.4 961.3 371.4 961.3 355.7 961.8 355.7 961.8 371.4 962.2 371.4 962.2 355.7 962.4 355.7 962.4 371.4 968.8 371.4 968.8 387.1 969.0 387.1 969.0 371.4 969.2 371.4 969.2 387.1 976.4 387.1 976.4 371.4 976.7 371.4 976.7 387.1 977.5 387.1 977.5 371.4 978.2 371.4 978.2 387.1 978.6 387.1 978.6 371.4 988.2 371.4 988.2 355.7 988.5 355.7 988.5 371.4 988.7 371.4 988.7 355.7 989.1 355.7 989.1 371.4 989.3 371.4 989.3 355.7 989.6 355.7 989.6 371.4 990.0 371.4 990.0 355.7 992.8 355.7 992.8 371.4 993.3 371.4 993.3 355.7 994.2 355.7 994.2 371.4 994.6 371.4 994.6 355.7 994.8 355.7 994.8 371.4 995.0 371.4 995.0 355.7 995.2 355.7 995.2 371.4 1008.8 371.4 1008.8 355.7 1009.0 355.7 1009.0 371.4 1010.1 371.4 1010.1 355.7 1010.3 355.7 1010.3 371.4 1011.2 371.4 1011.2 355.7 1014.3 355.7 1014.3 371.4 1014.7 371.4 1014.7 339.9 1014.9 339.9 1014.9 371.4 1015.2 371.4 1015.2 355.7 1015.6 355.7 1015.6 339.9 1015.8 339.9 1015.8 371.4 1016.0 371.4 1016.0 355.7 1021.7 355.7 1021.7 339.9 1021.9 339.9 1021.9 355.7 1022.2 355.7 1022.2 339.9 1028.3 339.9 1028.3 355.7 1028.5 355.7 1028.5 339.9 1028.7 339.9 1028.7 355.7 1029.2 355.7 1029.2 339.9 1029.4 339.9 1029.4 355.7 1038.8 355.7 1038.8 339.9 1039.0 339.9 1039.0 355.7 1039.2 355.7 1039.2 339.9 1039.4 339.9 1039.4 371.4 1039.7 371.4 1039.7 355.7 1040.3 355.7 1040.3 339.9 1040.5 339.9 1040.5 355.7 1046.9 355.7 1046.9 339.9 1047.1 339.9 1047.1 355.7 1047.3 355.7 1047.3 371.4 1047.5 371.4 1047.5 355.7 1048.0 355.7 1048.0 339.9 1048.2 339.9 1048.2 371.4 1048.4 371.4 1048.4 355.7 1048.8 355.7 1048.8 371.4 1049.7 371.4 1049.7 355.7 1049.9 355.7 1049.9 371.4 1050.6 371.4 1050.6 355.7 1050.8 355.7 1050.8 371.4 1051.9 371.4 1051.9 355.7 1052.1 355.7 1052.1 371.4 1052.8 371.4 1052.8 355.7 1053.0 355.7 1053.0 371.4 1053.2 371.4 1053.2 355.7 1053.7 355.7 1053.7 387.1 1053.9 387.1 1053.9 355.7 1054.1 355.7 1054.1 371.4 1054.8 371.4 1054.8 387.1 1055.0 387.1 1055.0 371.4 1055.8 371.4 1055.8 387.1 1056.1 387.1 1056.1 371.4 1057.2 371.4 1057.2 387.1 1057.4 387.1 1057.4 371.4 1057.6 371.4 1057.6 387.1 1058.0 387.1 1058.0 371.4 1063.7 371.4 1063.7 387.1 1064.2 387.1 1064.2 371.4 1069.0 371.4 1069.0 387.1 1069.2 387.1 1069.2 371.4 1069.4 371.4 1069.4 387.1 1069.6 387.1 1069.6 371.4 1070.9 371.4 1070.9 387.1 1071.2 387.1 1071.2 371.4 1072.0 371.4 1072.0 387.1 1072.2 387.1 1072.2 371.4 1072.9 371.4 1072.9 387.1 1073.3 387.1 1073.3 371.4 1073.8 371.4 1073.8 355.7 1074.0 355.7 1074.0 387.1 1074.2 387.1 1074.2 355.7 1074.4 355.7 1074.4 371.4 1074.7 371.4 1074.7 387.1 1074.9 387.1 1074.9 355.7 1075.1 355.7 1075.1 387.1 1075.5 387.1 1075.5 355.7 1076.4 355.7 1076.4 371.4 1077.7 371.4 1077.7 355.7 1077.9 355.7 1077.9 387.1 1078.4 387.1 1078.4 371.4 1078.6 371.4 1078.6 387.1 1079.7 387.1 1079.7 371.4 1079.9 371.4 1079.9 387.1 1083.2 387.1 1083.2 371.4 1083.4 371.4 1083.4 387.1 1083.6 387.1 1083.6 371.4 1084.9 371.4 1084.9 387.1 1085.2 387.1 1085.2 371.4 1085.4 371.4 1085.4 402.9 1085.6 402.9 1085.6 371.4 1085.8 371.4 1085.8 387.1 1095.0 387.1 1095.0 402.9 1095.9 402.9 1095.9 387.1 1096.1 387.1 1096.1 402.9 1105.3 402.9 1105.3 387.1 1105.5 387.1 1105.5 402.9 1106.2 402.9 1106.2 387.1 1106.4 387.1 1106.4 402.9 1106.6 402.9 1106.6 387.1 1107.0 387.1 1107.0 402.9 1107.7 402.9 1107.7 387.1 1109.4 387.1 1109.4 371.4 1109.7 371.4 1109.7 387.1 1110.3 387.1 1110.3 371.4 1111.6 371.4 1111.6 355.7 1112.9 355.7 1112.9 371.4 1113.2 371.4 1113.2 355.7 1113.8 355.7 1113.8 339.9 1114.0 339.9 1114.0 355.7 1114.7 355.7 1114.7 339.9 1114.9 339.9 1114.9 355.7 1115.6 355.7 1115.6 339.9 1115.8 339.9 1115.8 355.7 1116.0 355.7 1116.0 339.9 1116.7 339.9 1116.7 355.7 1116.9 355.7 1116.9 339.9 1117.3 339.9 1117.3 355.7 1117.5 355.7 1117.5 339.9 1119.9 339.9 1119.9 355.7 1120.2 355.7 1120.2 339.9 1124.8 339.9 1124.8 355.7 1125.8 355.7 1125.8 339.9 1126.1 339.9 1126.1 355.7 1130.4 355.7 1130.4 371.4 1130.9 371.4 1130.9 387.1 1131.1 387.1 1131.1 371.4 1131.3 371.4 1131.3 355.7 1131.5 355.7 1131.5 371.4 1132.4 371.4 1132.4 355.7 1132.6 355.7 1132.6 371.4 1145.3 371.4 1145.3 355.7 1145.5 355.7 1145.5 371.4 1146.2 371.4 1146.2 355.7 1147.5 355.7 1147.5 339.9 1147.9 339.9 1147.9 355.7 1148.6 355.7 1148.6 339.9 1149.0 339.9 1149.0 355.7 1150.3 355.7 1150.3 339.9 1150.8 339.9 1150.8 355.7 1151.0 355.7 1151.0 339.9 1151.2 339.9 1151.2 355.7 1151.7 355.7 1151.7 339.9 1151.9 339.9 1151.9 355.7 1152.1 355.7 1152.1 339.9 1152.3 339.9 1152.3 355.7 1152.5 355.7 1152.5 339.9 1153.4 339.9 1153.4 355.7 1153.6 355.7 1153.6 339.9 1156.0 339.9 1156.0 355.7 1156.2 355.7 1156.2 339.9 1160.4 339.9 1160.4 355.7 1160.6 355.7 1160.6 339.9 1165.9 339.9 1165.9 355.7 1166.1 355.7 1166.1 339.9 1166.3 339.9 1166.3 324.2 1166.5 324.2 1166.5 355.7 1166.8 355.7 1166.8 371.4 1167.0 371.4 1167.0 355.7 1167.4 355.7 1167.4 324.2 1167.6 324.2 1167.6 339.9 1168.5 339.9 1168.5 355.7 1168.9 355.7 1168.9 339.9 1169.6 339.9 1169.6 324.2 1170.0 324.2 1170.0 339.9 1170.2 339.9 1170.2 324.2 1170.5 324.2 1170.5 355.7 1170.9 355.7 1170.9 324.2 1171.1 324.2 1171.1 339.9 1171.3 339.9 1171.3 355.7 1171.6 355.7 1171.6 371.4 1171.8 371.4 1171.8 355.7 1172.2 355.7 1172.2 339.9 1173.1 339.9 1173.1 355.7 1173.8 355.7 1173.8 339.9 1174.0 339.9 1174.0 355.7 1174.2 355.7 1174.2 339.9 1174.6 339.9 1174.6 355.7 1174.8 355.7 1174.8 339.9 1175.1 339.9 1175.1 355.7 1175.3 355.7 1175.3 339.9 1175.5 339.9 1175.5 355.7 1175.7 355.7 1175.7 339.9 1175.9 339.9 1175.9 355.7 1176.2 355.7 1176.2 339.9 1176.4 339.9 1176.4 355.7 1177.2 355.7 1177.2 339.9 1177.5 339.9 1177.5 355.7 1178.8 355.7 1178.8 371.4 1179.9 371.4 1179.9 355.7 1180.1 355.7 1180.1 371.4 1182.1 371.4 1182.1 355.7 1182.5 355.7 1182.5 371.4 1182.7 371.4 1182.7 355.7 1183.6 355.7 1183.6 371.4 1183.8 371.4 1183.8 355.7 1188.0 355.7 1188.0 371.4 1188.2 371.4 1188.2 355.7 1188.6 355.7 1188.6 371.4 1188.8 371.4 1188.8 355.7 1189.7 355.7 1189.7 371.4 1190.2 371.4 1190.2 355.7 1190.4 355.7 1190.4 371.4 1199.3 371.4 1199.3 387.1 1199.8 387.1 1199.8 371.4 1200.0 371.4 1200.0 387.1 1200.9 387.1 1200.9 371.4 1201.3 371.4 1201.3 387.1 1201.5 387.1 1201.5 371.4 1209.6 371.4 1209.6 355.7 1209.8 355.7 1209.8 371.4 1212.2 371.4 1212.2 355.7 1212.9 355.7 1212.9 371.4 1213.3 371.4 1213.3 355.7 1214.2 355.7 1214.2 371.4 1214.7 371.4 1214.7 355.7 1215.5 355.7 1215.5 371.4 1215.8 371.4 1215.8 355.7 1216.0 355.7 1216.0 371.4 1216.2 371.4 1216.2 355.7 1220.3 355.7 1220.3 339.9 1220.8 339.9 1220.8 355.7 1221.2 355.7 1221.2 339.9 1221.9 339.9 1221.9 324.2 1225.4 324.2 1225.4 339.9 1225.6 339.9 1225.6 324.2 1237.0 324.2 1237.0 339.9 1237.2 339.9 1237.2 324.2 1238.5 324.2 1238.5 339.9 1238.7 339.9 1238.7 324.2 1239.4 324.2 1239.4 339.9 1239.6 339.9 1239.6 324.2 1239.8 324.2 1239.8 339.9 1240.2 339.9 1240.2 324.2 1240.5 324.2 1240.5 339.9 1240.7 339.9 1240.7 324.2 1241.1 324.2 1241.1 339.9 1242.7 339.9 1242.7 308.4 1243.1 308.4 1243.1 339.9 1243.3 339.9 1243.3 324.2 1256.4 324.2 1256.4 339.9 1256.7 339.9 1256.7 324.2 1256.9 324.2 1256.9 339.9 1259.7 339.9 1259.7 324.2 1260.2 324.2 1260.2 339.9 1260.4 339.9 1260.4 324.2 1260.6 324.2 1260.6 339.9 1260.8 339.9 1260.8 324.2 1261.0 324.2 1261.0 339.9 1261.2 339.9 1261.2 324.2 1266.1 324.2 1266.1 339.9 1266.3 339.9 1266.3 324.2 1266.9 324.2 1266.9 339.9 1267.6 339.9 1267.6 324.2 1268.2 324.2 1268.2 339.9 1268.5 339.9 1268.5 324.2 1268.9 324.2 1268.9 339.9 1269.1 339.9 1269.1 324.2 1269.6 324.2 1269.6 339.9 1269.8 339.9 1269.8 324.2 1276.8 324.2 1276.8 339.9 1277.0 339.9 1277.0 324.2 1277.4 324.2 1277.4 339.9 1277.9 339.9 1277.9 324.2 1278.1 324.2 1278.1 339.9 1279.4 339.9 1279.4 355.7 1279.8 355.7 1279.8 339.9 1280.5 339.9 1280.5 355.7 1280.7 355.7 1280.7 339.9 1280.9 339.9 1280.9 355.7 1281.6 355.7 1281.6 339.9 1282.0 339.9 1282.0 355.7 1283.3 355.7 1283.3 371.4 1283.8 371.4 1283.8 355.7 1284.0 355.7 1284.0 371.4 1298.2 371.4 1298.2 355.7 1299.3 355.7 1299.3 371.4 1299.8 371.4 1299.8 355.7 1308.3 355.7 1308.3 371.4 1311.3 371.4 1311.3 355.7 1314.6 355.7 1314.6 371.4 1314.8 371.4 1314.8 355.7 1315.7 355.7 1315.7 371.4 1315.9 371.4 1315.9 355.7 1316.2 355.7 1316.2 371.4 1316.4 371.4 1316.4 355.7 1316.6 355.7 1316.6 371.4 1321.6 371.4 1321.6 387.1 1322.1 387.1 1322.1 371.4 1322.3 371.4 1322.3 387.1 1332.1 387.1 1332.1 371.4 1332.3 371.4 1332.3 387.1 1332.6 387.1 1332.6 371.4 1333.4 371.4 1333.4 387.1 1333.7 387.1 1333.7 371.4 1339.3 371.4 1339.3 355.7 1339.6 355.7 1339.6 371.4 1340.2 371.4 1340.2 355.7 1341.1 355.7 1341.1 371.4 1341.3 371.4 1341.3 355.7 1343.9 355.7 1343.9 339.9 1344.2 339.9 1344.2 355.7 1344.6 355.7 1344.6 339.9 1345.2 339.9 1345.2 355.7 1345.5 355.7 1345.5 339.9 1347.2 339.9 1347.2 355.7 1347.4 355.7 1347.4 339.9 1348.3 339.9 1348.3 355.7 1354.9 355.7 1354.9 371.4 1355.5 371.4 1355.5 355.7 1355.8 355.7 1355.8 371.4 1356.0 371.4 1356.0 339.9 1356.2 339.9 1356.2 371.4 1356.6 371.4 1356.6 355.7 1356.8 355.7 1356.8 371.4 1357.3 371.4 1357.3 355.7 1357.5 355.7 1357.5 371.4 1357.7 371.4 1357.7 355.7 1357.9 355.7 1357.9 371.4 1358.2 371.4 1358.2 355.7 1368.0 355.7"/>
<path fill="none" stroke="#00ff00" stroke-width="1.5" d="M738.0 371.4 738.2 371.4 738.2 387.1 738.7 387.1 738.7 371.4 739.1 371.4 739.1 387.1 739.3 387.1 739.3 371.4 740.0 371.4 740.0 387.1 740.2 387.1 740.2 371.4 757.0 371.4 757.0 387.1 757.2 387.1 757.2 371.4 757.7 371.4 757.7 387.1 758.1 387.1 758.1 371.4 758.3 371.4 758.3 387.1 767.3 387.1 767.3 371.4 767.5 371.4 767.5 387.1 768.0 387.1 768.0 355.7 768.2 355.7 768.2 371.4 768.4 371.4 768.4 387.1 768.6 387.1 768.6 371.4 768.8 371.4 768.8 387.1 769.1 387.1 769.1 371.4 769.5 371.4 769.5 402.9 769.7 402.9 769.7 355.7 770.2 355.7 770.2 371.4 770.4 371.4 770.4 355.7 771.7 355.7 771.7 371.4 771.9 371.4 771.9 355.7 772.6 355.7 772.6 371.4 772.8 371.4 772.8 355.7 773.0 355.7 773.0 371.4 773.4 371.4 773.4 355.7 773.9 355.7 773.9 371.4 782.8 371.4 782.8 387.1 783.1 387.1 783.1 371.4 783.5 371.4 783.5 387.1 784.4 387.1 784.4 371.4 784.6 371.4 784.6 387.1 784.8 387.1 784.8 371.4 785.0 371.4 785.0 387.1 785.2 387.1 785.2 402.9 785.5 402.9 785.5 387.1 786.8 387.1 786.8 402.9 787.0 402.9 787.0 387.1 787.2 387.1 787.2 402.9 787.9 402.9 787.9 387.1 788.1 387.1 788.1 402.9 800.1 402.9 800.1 387.1 800.3 387.1 800.3 402.9 800.6 402.9 800.6 387.1 801.0 387.1 801.0 402.9 801.2 402.9 801.2 387.1 801.4 387.1 801.4 402.9 801.7 402.9 801.7 387.1 806.0 387.1 806.0 402.9 806.2 402.9 806.2 387.1 806.7 387.1 806.7 402.9 807.1 402.9 807.1 371.4 807.3 371.4 807.3 387.1 807.8 387.1 807.8 402.9 808.0 402.9 808.0 387.1 809.5 387.1 809.5 371.4 809.8 371.4 809.8 387.1 813.9 387.1 813.9 371.4 814.1 371.4 814.1 387.1 815.2 387.1 815.2 371.4 815.4 371.4 815.4 387.1 815.7 387.1 815.7 371.4 816.8 371.4 816.8 387.1 817.0 387.1 817.0 371.4 817.2 371.4 817.2 387.1 817.6 387.1 817.6 371.4 817.8 371.4 817.8 387.1 818.1 387.1 818.1 371.4 819.4 371.4 819.4 387.1 819.6 387.1 819.6 371.4 819.8 371.4 819.8 355.7 820.0 355.7 820.0 371.4 820.2 371.4 820.2 387.1 820.7 387.1 820.7 371.4 820.9 371.4 820.9 355.7 821.1 355.7 821.1 371.4 822.0 371.4 822.0 355.7 823.1 355.7 823.1 371.4 823.3 371.4 823.3 355.7 823.5 355.7 823.5 371.4 823.8 371.4 823.8 355.7 824.0 355.7 824.0 371.4 824.2 371.4 824.2 355.7 824.4 355.7 824.4 371.4 824.6 371.4 824.6 355.7 825.1 355.7 825.1 371.4 825.7 371.4 825.7 387.1 825.9 387.1 825.9 371.4 826.2 371.4 826.2 387.1 826.4 387.1 826.4 371.4 827.5 371.4 827.5 387.1 827.7 387.1 827.7 371.4 829.2 371.4 829.2 387.1 829.4 387.1 829.4 371.4 830.5 371.4 830.5 387.1 830.8 387.1 830.8 371.4 831.6 371.4 831.6 387.1 831.8 387.1 831.8 371.4 837.5 371.4 837.5 387.1 838.0 387.1 838.0 371.4 839.1 371.4 839.1 387.1 839.5 387.1 839.5 371.4 841.5 371.4 841.5 387.1 841.7 387.1 841.7 371.4 841.9 371.4 841.9 387.1 842.8 387.1 842.8 402.9 843.0 402.9 843.0 387.1 843.2 387.1 843.2 371.4 843.4 371.4 843.4 402.9 843.7 402.9 843.7 387.1 843.9 387.1 843.9 371.4 844.1 371.4 844.1 402.9 844.3 402.9 844.3 371.4 844.5 371.4 844.5 387.1 844.8 387.1 844.8 402.9 846.5 402.9 846.5 387.1 846.7 387.1 846.7 402.9 856.6 402.9 856.6 387.1 857.0 387.1 857.0 402.9 857.2 402.9 857.2 387.1 857.7 387.1 857.7 402.9 858.1 402.9 858.1 387.1 872.5 387.1 872.5 402.9 873.2 402.9 873.2 387.1 873.8 387.1 873.8 402.9 875.4 402.9 875.4 387.1 875.6 387.1 875.6 402.9 875.8 402.9 875.8 387.1 876.0 387.1 876.0 402.9 876.5 402.9 876.5 387.1 876.9 387.1 876.9 402.9 877.1 402.9 877.1 387.1 877.3 387.1 877.3 402.9 877.6 402.9 877.6 387.1 878.7 387.1 878.7 402.9 878.9 402.9 878.9 387.1 880.6 387.1 880.6 402.9 880.8 402.9 880.8 387.1 882.4 387.1 882.4 402.9 882.6 402.9 882.6 355.7 883.0 355.7 883.0 371.4 883.2 371.4 883.2 387.1 883.5 387.1 883.5 371.4 883.7 371.4 883.7 387.1 884.6 387.1 884.6 371.4 899.4 371.4 899.4 355.7 899.7 355.7 899.7 371.4 899.9 371.4 899.9 355.7 900.1 355.7 900.1 371.4 900.3 371.4 900.3 355.7 901.0 355.7 901.0 371.4 901.4 371.4 901.4 387.1 901.6 387.1 901.6 371.4 901.8 371.4 901.8 355.7 902.1 355.7 902.1 371.4 902.3 371.4 902.3 355.7 902.5 355.7 902.5 371.4 903.2 371.4 903.2 355.7 903.4 355.7 903.4 371.4 903.8 371.4 903.8 355.7 904.0 355.7 904.0 371.4 909.3 371.4 909.3 387.1 909.7 387.1 909.7 371.4 910.2 371.4 910.2 387.1 910.8 387.1 910.8 371.4 911.2 371.4 911.2 387.1 915.4 387.1 915.4 402.9 915.8 402.9 915.8 387.1 916.3 387.1 916.3 402.9 916.7 402.9 916.7 387.1 916.9 387.1 916.9 402.9 920.7 402.9 920.7 387.1 921.1 387.1 921.1 402.9 921.5 402.9 921.5 387.1 922.0 387.1 922.0 402.9 922.2 402.9 922.2 387.1 924.2 387.1 924.2 371.4 924.6 371.4 924.6 387.1 926.3 387.1 926.3 371.4 926.6 371.4 926.6 387.1 927.4 387.1 927.4 371.4 928.5 371.4 928.5 387.1 928.8 387.1 928.8 371.4 929.0 371.4 929.0 387.1 929.2 387.1 929.2 371.4 946.0 371.4 946.0 355.7 946.2 355.7 946.2 371.4 946.9 371.4 946.9 355.7 947.3 355.7 947.3 371.4 947.6 371.4 947.6 355.7 947.8 355.7 947.8 371.4 948.0 371.4 948.0 355.7 948.2 355.7 948.2 371.4 948.4 371.4 948.4 355.7 948.7 355.7 948.7 371.4 948.9 371.4 948.9 355.7 949.1 355.7 949.1 371.4 949.3 371.4 949.3 355.7 949.5 355.7 949.5 371.4 949.8 371.4 949.8 355.7 950.0 355.7 950.0 371.4 950.4 371.4 950.4 387.1 951.3 387.1 951.3 371.4 951.7 371.4 951.7 387.1 951.9 387.1 951.9 371.4 952.2 371.4 952.2 387.1 953.0 387.1 953.0 371.4 953.2 371.4 953.2 387.1 958.1 387.1 958.1 371.4 958.3 371.4 958.3 387.1 960.0 387.1 960.0 371.4 960.7 371.4 960.7 402.9 960.9 402.9 960.9 371.4 961.3 371.4 961.3 387.1 961.8 387.1 961.8 402.9 962.0 402.9 962.0 387.1 980.2 387.1 980.2 371.4 980.6 371.4 980.6 387.1 980.8 387.1 980.8 371.4 981.0 371.4 981.0 387.1 981.2 387.1 981.2 371.4 981.7 371.4 981.7 387.1 981.9 387.1 981.9 371.4 986.5 371.4 986.5 387.1 986.7 387.1 986.7 371.4 988.0 371.4 988.0 387.1 988.2 387.1 988.2 371.4 988.5 371.4 988.5 387.1 988.7 387.1 988.7 371.4 989.1 371.4 989.1 387.1 989.6 387.1 989.6 371.4 989.8 371.4 989.8 387.1 992.2 387.1 992.2 371.4 1010.6 371.4 1010.6 387.1 1010.8 387.1 1010.8 371.4 1011.0 371.4 1011.0 387.1 1011.7 387.1 1011.7 371.4 1011.9 371.4 1011.9 387.1 1012.1 387.1 1012.1 371.4 1012.3 371.4 1012.3 387.1 1013.6 387.1 1013.6 371.4 1013.8 371.4 1013.8 387.1 1019.3 387.1 1019.3 371.4 1019.8 371.4 1019.8 387.1 1020.0 387.1 1020.0 371.4 1020.6 371.4 1020.6 387.1 1021.5 387.1 1021.5 371.4 1021.9 371.4 1021.9 387.1 1022.2 387.1 1022.2 355.7 1022.8 355.7 1022.8 371.4 1023.7 371.4 1023.7 355.7 1024.3 355.7 1024.3 371.4 1024.6 371.4 1024.6 355.7 1024.8 355.7 1024.8 371.4 1025.0 371.4 1025.0 355.7 1025.9 355.7 1025.9 371.4 1026.1 371.4 1026.1 355.7 1026.5 355.7 1026.5 371.4 1026.8 371.4 1026.8 355.7 1027.2 355.7 1027.2 371.4 1027.6 371.4 1027.6 387.1 1027.8 387.1 1027.8 371.4 1028.1 371.4 1028.1 355.7 1028.3 355.7 1028.3 371.4 1028.7 371.4 1028.7 355.7 1028.9 355.7 1028.9 371.4 1030.0 371.4 1030.0 355.7 1031.6 355.7 1031.6 387.1 1031.8 387.1 1031.8 355.7 1032.4 355.7 1032.4 371.4 1032.7 371.4 1032.7 355.7 1034.2 355.7 1034.2 371.4 1035.1 371.4 1035.1 355.7 1035.5 355.7 1035.5 371.4 1036.6 371.4 1036.6 355.7 1036.8 355.7 1036.8 371.4 1040.8 371.4 1040.8 387.1 1041.8 387.1 1041.8 371.4 1042.1 371.4 1042.1 387.1 1042.3 387.1 1042.3 371.4 1042.9 371.4 1042.9 387.1 1043.2 387.1 1043.2 371.4 1043.4 371.4 1043.4 387.1 1043.8 387.1 1043.8 371.4 1044.2 371.4 1044.2 387.1 1044.5 387.1 1044.5 371.4 1047.3 371.4 1047.3 387.1 1047.5 387.1 1047.5 371.4 1048.2 371.4 1048.2 387.1 1048.4 387.1 1048.4 371.4 1048.6 371.4 1048.6 387.1 1049.5 387.1 1049.5 371.4 1050.2 371.4 1050.2 387.1 1050.4 387.1 1050.4 371.4 1050.6 371.4 1050.6 387.1 1069.8 387.1 1069.8 402.9 1070.1 402.9 1070.1 387.1 1070.9 387.1 1070.9 402.9 1071.4 402.9 1071.4 387.1 1071.6 387.1 1071.6 402.9 1071.8 402.9 1071.8 387.1 1072.0 387.1 1072.0 402.9 1072.2 402.9 1072.2 387.1 1072.9 387.1 1072.9 402.9 1073.8 402.9 1073.8 387.1 1074.0 387.1 1074.0 402.9 1074.9 402.9 1074.9 418.6 1075.3 418.6 1075.3 387.1 1075.5 387.1 1075.5 418.6 1082.8 418.6 1082.8 402.9 1083.0 402.9 1083.0 418.6 1084.1 418.6 1084.1 402.9 1084.3 402.9 1084.3 418.6 1084.7 418.6 1084.7 402.9 1086.5 402.9 1086.5 387.1 1086.7 387.1 1086.7 402.9 1088.0 402.9 1088.0 387.1 1088.9 387.1 1088.9 402.9 1089.5 402.9 1089.5 387.1 1089.8 387.1 1089.8 402.9 1090.0 402.9 1090.0 387.1 1090.4 387.1 1090.4 402.9 1091.1 402.9 1091.1 387.1 1091.3 387.1 1091.3 402.9 1108.8 402.9 1108.8 387.1 1109.0 387.1 1109.0 402.9 1110.3 402.9 1110.3 387.1 1110.5 387.1 1110.5 402.9 1111.0 402.9 1111.0 387.1 1112.3 387.1 1112.3 402.9 1112.7 402.9 1112.7 387.1 1112.9 387.1 1112.9 402.9 1113.2 402.9 1113.2 387.1 1114.2 387.1 1114.2 371.4 1114.9 371.4 1114.9 387.1 1115.3 387.1 1115.3 371.4 1116.4 371.4 1116.4 387.1 1116.7 387.1 1116.7 371.4 1117.8 371.4 1117.8 387.1 1118.6 387.1 1118.6 371.4 1119.3 371.4 1119.3 387.1 1119.7 387.1 1119.7 371.4 1119.9 371.4 1119.9 387.1 1121.0 387.1 1121.0 402.9 1121.2 402.9 1121.2 387.1 1122.3 387.1 1122.3 402.9 1122.8 402.9 1122.8 387.1 1123.0 387.1 1123.0 402.9 1123.2 402.9 1123.2 371.4 1123.4 371.4 1123.4 387.1 1123.7 387.1 1123.7 402.9 1123.9 402.9 1123.9 387.1 1124.1 387.1 1124.1 402.9 1125.2 402.9 1125.2 387.1 1125.4 387.1 1125.4 402.9 1125.6 402.9 1125.6 418.6 1125.8 418.6 1125.8 402.9 1126.7 402.9 1126.7 387.1 1126.9 387.1 1126.9 418.6 1127.4 418.6 1127.4 402.9 1127.8 402.9 1127.8 418.6 1129.1 418.6 1129.1 402.9 1129.3 402.9 1129.3 418.6 1129.6 418.6 1129.6 402.9 1129.8 402.9 1129.8 418.6 1130.4 418.6 1130.4 402.9 1130.7 402.9 1130.7 418.6 1131.1 418.6 1131.1 402.9 1131.5 402.9 1131.5 418.6 1131.8 418.6 1131.8 402.9 1132.0 402.9 1132.0 418.6 1132.4 418.6 1132.4 402.9 1132.6 402.9 1132.6 418.6 1132.8 418.6 1132.8 402.9 1133.3 402.9 1133.3 418.6 1133.5 418.6 1133.5 402.9 1134.8 402.9 1134.8 387.1 1135.0 387.1 1135.0 402.9 1137.7 402.9 1137.7 387.1 1138.1 387.1 1138.1 402.9 1138.8 402.9 1138.8 387.1 1139.0 387.1 1139.0 402.9 1140.1 402.9 1140.1 387.1 1141.2 387.1 1141.2 402.9 1141.4 402.9 1141.4 387.1 1141.6 387.1 1141.6 402.9 1141.8 402.9 1141.8 387.1 1142.2 387.1 1142.2 402.9 1142.5 402.9 1142.5 387.1 1142.7 387.1 1142.7 371.4 1142.9 371.4 1142.9 387.1 1143.1 387.1 1143.1 402.9 1143.3 402.9 1143.3 387.1 1144.9 387.1 1144.9 402.9 1145.1 402.9 1145.1 387.1 1145.3 387.1 1145.3 402.9 1145.5 402.9 1145.5 387.1 1145.8 387.1 1145.8 402.9 1146.0 402.9 1146.0 387.1 1146.6 387.1 1146.6 402.9 1146.8 402.9 1146.8 387.1 1147.1 387.1 1147.1 402.9 1147.5 402.9 1147.5 387.1 1149.0 387.1 1149.0 402.9 1149.5 402.9 1149.5 387.1 1149.7 387.1 1149.7 402.9 1149.9 402.9 1149.9 371.4 1150.1 371.4 1150.1 387.1 1150.3 387.1 1150.3 402.9 1151.0 402.9 1151.0 387.1 1151.2 387.1 1151.2 402.9 1151.4 402.9 1151.4 387.1 1152.5 387.1 1152.5 402.9 1152.8 402.9 1152.8 371.4 1153.0 371.4 1153.0 387.1 1154.3 387.1 1154.3 402.9 1154.5 402.9 1154.5 387.1 1155.2 387.1 1155.2 371.4 1155.4 371.4 1155.4 387.1 1156.2 387.1 1156.2 371.4 1156.5 371.4 1156.5 387.1 1169.6 387.1 1169.6 371.4 1169.8 371.4 1169.8 387.1 1170.5 387.1 1170.5 371.4 1170.7 371.4 1170.7 387.1 1170.9 387.1 1170.9 371.4 1171.6 371.4 1171.6 387.1 1172.4 387.1 1172.4 371.4 1173.5 371.4 1173.5 387.1 1173.8 387.1 1173.8 371.4 1174.4 371.4 1174.4 355.7 1175.1 355.7 1175.1 387.1 1175.3 387.1 1175.3 371.4 1175.5 371.4 1175.5 355.7 1175.7 355.7 1175.7 387.1 1175.9 387.1 1175.9 371.4 1176.2 371.4 1176.2 355.7 1176.4 355.7 1176.4 371.4 1177.0 371.4 1177.0 355.7 1177.2 355.7 1177.2 371.4 1177.5 371.4 1177.5 387.1 1177.7 387.1 1177.7 371.4 1181.4 371.4 1181.4 387.1 1181.6 387.1 1181.6 371.4 1182.1 371.4 1182.1 387.1 1182.5 387.1 1182.5 371.4 1182.9 371.4 1182.9 387.1 1186.2 387.1 1186.2 371.4 1186.4 371.4 1186.4 387.1 1188.2 387.1 1188.2 371.4 1188.4 371.4 1188.4 387.1 1189.1 387.1 1189.1 371.4 1189.5 371.4 1189.5 387.1 1189.7 387.1 1189.7 371.4 1196.3 371.4 1196.3 387.1 1196.5 387.1 1196.5 371.4 1196.7 371.4 1196.7 387.1 1197.2 387.1 1197.2 371.4 1197.6 371.4 1197.6 387.1 1197.8 387.1 1197.8 371.4 1198.0 371.4 1198.0 387.1 1198.5 387.1 1198.5 371.4 1198.7 371.4 1198.7 387.1 1209.4 387.1 1209.4 371.4 1209.8 371.4 1209.8 387.1 1210.1 387.1 1210.1 371.4 1210.3 371.4 1210.3 387.1 1210.5 387.1 1210.5 371.4 1211.6 371.4 1211.6 387.1 1211.8 387.1 1211.8 371.4 1212.2 371.4 1212.2 387.1 1212.5 387.1 1212.5 371.4 1226.0 371.4 1226.0 355.7 1226.2 355.7 1226.2 371.4 1227.6 371.4 1227.6 355.7 1228.0 355.7 1228.0 371.4 1228.2 371.4 1228.2 355.7 1228.4 355.7 1228.4 371.4 1228.7 371.4 1228.7 355.7 1228.9 355.7 1228.9 371.4 1229.1 371.4 1229.1 355.7 1230.6 355.7 1230.6 371.4 1230.8 371.4 1230.8 355.7 1233.9 355.7 1233.9 339.9 1234.1 339.9 1234.1 355.7 1235.9 355.7 1235.9 371.4 1236.1 371.4 1236.1 355.7 1236.3 355.7 1236.3 339.9 1236.5 339.9 1236.5 355.7 1236.8 355.7 1236.8 371.4 1237.2 371.4 1237.2 339.9 1237.6 339.9 1237.6 355.7 1237.8 355.7 1237.8 371.4 1238.7 371.4 1238.7 355.7 1238.9 355.7 1238.9 371.4 1239.6 371.4 1239.6 355.7 1239.8 355.7 1239.8 371.4 1240.0 371.4 1240.0 355.7 1240.9 355.7 1240.9 371.4 1241.1 371.4 1241.1 355.7 1241.3 355.7 1241.3 371.4 1241.6 371.4 1241.6 355.7 1242.2 355.7 1242.2 371.4 1242.4 371.4 1242.4 355.7 1243.3 355.7 1243.3 371.4 1243.5 371.4 1243.5 355.7 1244.0 355.7 1244.0 371.4 1244.2 371.4 1244.2 355.7 1245.5 355.7 1245.5 339.9 1245.7 339.9 1245.7 355.7 1245.9 355.7 1245.9 339.9 1246.2 339.9 1246.2 355.7 1247.0 355.7 1247.0 339.9 1247.2 339.9 1247.2 371.4 1247.5 371.4 1247.5 355.7 1247.7 355.7 1247.7 339.9 1247.9 339.9 1247.9 355.7 1248.1 355.7 1248.1 339.9 1248.6 339.9 1248.6 324.2 1248.8 324.2 1248.8 371.4 1249.0 371.4 1249.0 324.2 1249.2 324.2 1249.2 339.9 1249.7 339.9 1249.7 324.2 1250.1 324.2 1250.1 339.9 1250.5 339.9 1250.5 355.7 1250.8 355.7 1250.8 339.9 1252.9 339.9 1252.9 355.7 1253.2 355.7 1253.2 339.9 1254.2 339.9 1254.2 355.7 1254.5 355.7 1254.5 339.9 1254.7 339.9 1254.7 355.7 1254.9 355.7 1254.9 339.9 1256.2 339.9 1256.2 355.7 1256.7 355.7 1256.7 339.9 1257.1 339.9 1257.1 355.7 1257.3 355.7 1257.3 339.9 1258.0 339.9 1258.0 355.7 1258.2 355.7 1258.2 339.9 1258.6 339.9 1258.6 355.7 1259.5 355.7 1259.5 339.9 1259.9 339.9 1259.9 355.7 1260.2 355.7 1260.2 339.9 1260.6 339.9 1260.6 371.4 1260.8 371.4 1260.8 355.7 1261.2 355.7 1261.2 371.4 1262.3 371.4 1262.3 355.7 1262.6 355.7 1262.6 371.4 1263.9 371.4 1263.9 355.7 1264.1 355.7 1264.1 371.4 1264.8 371.4 1264.8 355.7 1265.2 355.7 1265.2 371.4 1266.3 371.4 1266.3 355.7 1267.2 355.7 1267.2 371.4 1267.4 371.4 1267.4 355.7 1267.6 355.7 1267.6 371.4 1267.8 371.4 1267.8 355.7 1272.4 355.7 1272.4 371.4 1272.8 371.4 1272.8 355.7 1273.1 355.7 1273.1 371.4 1273.3 371.4 1273.3 355.7 1273.5 355.7 1273.5 371.4 1275.5 371.4 1275.5 355.7 1275.7 355.7 1275.7 371.4 1276.8 371.4 1276.8 355.7 1280.1 355.7 1280.1 371.4 1280.3 371.4 1280.3 355.7 1280.5 355.7 1280.5 371.4 1300.4 371.4 1300.4 355.7 1301.1 355.7 1301.1 371.4 1301.3 371.4 1301.3 355.7 1303.5 355.7 1303.5 371.4 1303.9 371.4 1303.9 355.7 1305.2 355.7 1305.2 371.4 1305.4 371.4 1305.4 355.7 1305.9 355.7 1305.9 371.4 1311.6 371.4 1311.6 387.1 1312.9 387.1 1312.9 371.4 1313.1 371.4 1313.1 387.1 1313.8 387.1 1313.8 371.4 1314.0 371.4 1314.0 387.1 1314.6 387.1 1314.6 402.9 1314.8 402.9 1314.8 387.1 1315.1 387.1 1315.1 402.9 1315.3 402.9 1315.3 387.1 1315.5 387.1 1315.5 402.9 1317.9 402.9 1317.9 387.1 1318.1 387.1 1318.1 402.9 1319.4 402.9 1319.4 387.1 1320.1 387.1 1320.1 402.9 1320.3 402.9 1320.3 387.1 1333.7 387.1 1333.7 371.4 1334.1 371.4 1334.1 387.1 1334.3 387.1 1334.3 371.4 1334.5 371.4 1334.5 387.1 1335.0 387.1 1335.0 371.4 1335.8 371.4 1335.8 387.1 1336.1 387.1 1336.1 371.4 1336.3 371.4 1336.3 387.1 1336.7 387.1 1336.7 371.4 1336.9 371.4 1336.9 387.1 1337.4 387.1 1337.4 371.4 1344.2 371.4 1344.2 387.1 1344.4 387.1 1344.4 371.4 1344.6 371.4 1344.6 387.1 1344.8 387.1 1344.8 371.4 1345.0 371.4 1345.0 387.1 1345.2 387.1 1345.2 371.4 1345.5 371.4 1345.5 387.1 1345.9 387.1 1345.9 371.4 1346.1 371.4 1346.1 387.1 1346.3 387.1 1346.3 371.4 1347.2 371.4 1347.2 387.1 1347.4 387.1 1347.4 371.4 1348.8 371.4 1348.8 387.1 1349.0 387.1 1349.0 371.4 1349.8 371.4 1349.8 387.1 1350.1 387.1 1350.1 371.4 1350.9 371.4 1350.9 387.1 1351.2 387.1 1351.2 371.4 1351.8 371.4 1351.8 387.1 1352.0 387.1 1352.0 371.4 1352.5 371.4 1352.5 387.1 1353.1 387.1 1353.1 371.4 1353.8 371.4 1353.8 387.1 1354.0 387.1 1354.0 371.4 1354.7 371.4 1354.7 387.1 1355.1 387.1 1355.1 371.4 1360.3 371.4 1360.3 387.1 1360.6 387.1 1360.6 371.4 1362.1 371.4 1362.1 387.1 1362.3 387.1 1362.3 371.4 1362.5 371.4 1362.5 387.1 1362.8 387.1 1362.8 371.4 1363.0 371.4 1363.0 387.1 1365.6 387.1 1365.6 371.4 1366.0 371.4 1366.0 387.1 1366.2 387.1 1366.2 371.4 1367.1 371.4 1367.1 387.1 1367.3 387.1 1367.3 371.4 1368.0 371.4"/>
</g>
<g font-family="Liberation Serif, serif" font-weight="bold" font-size="130" text-anchor="middle"><text x="1060.5" y="465" fill="rgba(0,0,0,0.25)" textLength="222" lengthAdjust="spacingAndGlyphs">IGN</text><text x="1057" y="462" fill="rgba(255,255,255,0.35)" stroke="rgba(0,0,0,0.10)" stroke-width="2" textLength="222" lengthAdjust="spacingAndGlyphs">IGN</text><text x="1055.8" y="460.8" fill="none" stroke="rgba(255,255,255,0.8)" stroke-width="1.4" textLength="222" lengthAdjust="spacingAndGlyphs">IGN</text></g>
<g font-family="Liberation Serif, serif" font-weight="bold" font-size="130" text-anchor="middle"><text x="1061" y="796.5" fill="#bfbfbf" textLength="222" lengthAdjust="spacingAndGlyphs">IGN</text><text x="1058" y="793.5" fill="#fbfbfb" stroke="#c6c6c6" stroke-width="4.6" textLength="222" lengthAdjust="spacingAndGlyphs">IGN</text><text x="1058" y="793.5" fill="#fdfdfd" textLength="222" lengthAdjust="spacingAndGlyphs">IGN</text></g>
<g font-family="Liberation Serif, serif" font-weight="bold" font-size="130" text-anchor="middle"><text x="391.5" y="1188.4" fill="#bfbfbf" textLength="222" lengthAdjust="spacingAndGlyphs">IGN</text><text x="388.5" y="1185.4" fill="#fbfbfb" stroke="#c6c6c6" stroke-width="4.6" textLength="222" lengthAdjust="spacingAndGlyphs">IGN</text><text x="388.5" y="1185.4" fill="#fdfdfd" textLength="222" lengthAdjust="spacingAndGlyphs">IGN</text></g>
<g font-family="Liberation Serif, serif" font-weight="bold" font-size="130" text-anchor="middle"><text x="1061" y="1188.4" fill="#bfbfbf" textLength="222" lengthAdjust="spacingAndGlyphs">IGN</text><text x="1058" y="1185.4" fill="#fbfbfb" stroke="#c6c6c6" stroke-width="4.6" textLength="222" lengthAdjust="spacingAndGlyphs">IGN</text><text x="1058" y="1185.4" fill="#fdfdfd" textLength="222" lengthAdjust="spacingAndGlyphs">IGN</text></g>
<g fill="none" stroke-width="2.55" stroke-linejoin="round" stroke-linecap="round" clip-path="url(#clipAT)">
<path stroke="#ffb000" d="M878.0 630.7l.2 .1M1084.3 771.7l.2 .1M832.5 828.1l.2 -.1M1269.6 743.2l.2 0"/>
<path stroke="#ffdc00" d="M850.2 861.0l1.1 -.6M1114.2 629.9l2 1.2M1165.2 668.9l2 1.5M1313.1 763.0l.9 .2M765.1 648.1l1.1 -.3M906.0 745.1l1.1 .5M1023.2 820.4l1.5 1M1122.3 894.8l1.1 .3M794.7 763.9l.2 .1M1224.3 630.9l.4 .3M1276.1 670.7l.2 .2M990.4 646.8l.2 0M1245.5 818.6l.2 .1M823.3 632.0l2.6 1.9M850.4 652.8l2.6 2M1015.2 757.2l.9 .1M1188.0 852.4l.7 -.4M773.7 897.9l1.3 .7M1040.5 660.8l1.3 -.6M1198.5 759.7l.9 .3M1332.8 845.1l2 1.4M878.2 630.8l1.8 .8M954.1 688.2l2 1.4M1084.5 771.8l1.3 .5M1239.2 871.6l1.3 -.5M957.2 633.7l.4 .1M1052.1 705.1l.2 .1M1171.8 781.9l.4 .2M1314.2 879.8l.2 -.1M808.9 742.7l1.3 .6M924.4 817.0l1.5 1M1027.6 894.1l1.1 .3M1298.7 646.7l1.3 -.3M889.4 847.9l.9 -.5M1156.0 635.7l11.4 8.8M1341.3 754.4l.9 .1M869.0 682.6l.7 -.4M1046.2 775.3l.2 0M800.6 885.0l10.3 7.9M1077.3 681.6l.9 -.5M1253.8 774.5l.7 .1M880.4 726.1l.9 -.3M1077.3 806.6l.7 -.3M895.9 720.8l.9 -.4M1092.6 801.3l.7 -.2M941.4 745.2l1.1 -.1M1128.7 832.4l.9 -.5M979.9 730.1l.7 -.2M1175.9 811.1l.4 -.2M1112.9 706.7l1.5 -.8M1305.9 789.9l.9 -.1M1132.0 697.9l1.5 -.9M1320.1 784.2l.9 -.1M788.5 793.9l.9 -.2M1222.1 712.0l1.3 -.7M831.0 829.0l1.5 -.9M1269.8 743.2l1.3 -.1"/>
<path stroke="#f6ff00" d="M848.2 862.0l2 -1M1116.2 631.2l3.5 2.3M1161.5 666.1l3.7 2.8M1314.0 763.2l1.8 .4M876.0 760.1l.7 .2M1017.3 849.7l1.3 1M1077.7 896.5l1.1 .6M1349.2 660.9l.9 -.4M766.2 647.9l1.5 -.3M904.0 744.2l2 .9M1024.8 821.4l2.2 1.4M1120.6 894.2l1.8 .5M765.6 775.8l.7 .2M912.1 875.2l.4 -.2M1185.3 632.7l.9 .4M1262.8 692.2l.7 .5M794.9 763.9l1.8 .4M956.5 863.0l2 -1M1224.7 631.1l3.3 2.1M1272.6 668.1l3.5 2.7M799.7 671.0l1.8 -1M965.3 767.8l1.1 .2M1121.7 866.2l4.2 3.2M1158.0 894.5l3.7 2.6M855.0 786.9l1.3 .6M989.6 883.0l.9 -.2M1264.3 635.2l1.3 .3M1363.6 710.1l1.1 .7M990.7 646.7l1.5 -.3M1126.5 742.4l1.8 .8M1245.7 818.7l2.2 1.4M1344.6 893.7l1.8 .5M825.9 633.9l24.5 19M1016.0 757.3l1.5 .2M1185.8 853.6l2.2 -1.3M771.0 896.5l2.6 1.4M1041.8 660.2l1.8 -.8M1196.7 759.1l1.8 .5M1334.8 846.5l2.8 2.1M880.0 631.6l2.4 1.2M951.5 686.3l2.6 1.9M1085.8 772.2l1.8 .6M1237.4 872.3l1.8 -.7M816.1 874.2l4.8 3.8M838.2 891.5l4.6 3.4M1111.0 674.4l1.5 -.9M1279.2 770.3l.9 .1M957.6 633.8l2 .7M1049.7 703.5l2.4 1.6M1172.2 782.1l2 .9M1312.4 880.3l1.8 -.4M807.1 741.9l1.8 .8M925.9 818.0l2.2 1.4M1025.7 893.6l2 .5M1300.0 646.5l1.8 -.3M920.9 638.6l.9 .1M1034.8 723.3l.7 .4M1151.0 797.9l.9 .5M1273.3 887.9l.4 0M887.4 849.1l2 -1.2M1342.2 754.5l1.5 .1M869.7 682.2l2.2 -1.3M1044.7 775.1l1.5 .1M1078.2 681.0l2.2 -1.3M1252.3 774.4l1.5 .1M789.6 848.0l1.8 -1.1M1243.8 753.8l1.3 .1M918.2 784.5l1.3 -.1M1361.4 697.3l2 -1.2M819.4 713.8l1.8 -.9M1012.1 796.2l1.3 -.4M881.3 725.8l1.8 -.7M1075.5 807.3l1.8 -.7M896.8 720.4l1.8 -.8M1090.8 801.9l1.8 -.6M942.5 745.2l1.5 -.1M1126.5 833.8l2.2 -1.3M980.6 729.9l1.5 -.5M1174.2 811.9l1.8 -.8M1114.5 705.9l2 -1.1M1304.1 790.2l1.8 -.3M1133.5 697.0l2 -1.2M1318.6 784.3l1.5 -.1M1170.2 692.7l.7 -.4M1351.6 782.1l.2 0M760.1 782.9l.2 0M1206.1 693.9l.7 -.4M787.0 794.2l1.5 -.4M1223.4 711.3l2 -1M829.0 830.2l2 -1.2M1271.1 743.0l1.5 -.2"/>
<path stroke="#caff00" d="M846.1 863.2l2.2 -1.1M1119.7 633.5l4.4 3M1156.9 662.5l4.6 3.6M1315.7 763.6l1.8 .4M874.3 759.6l1.8 .5M1018.7 850.6l3.5 2.6M1074.7 894.7l3.1 1.8M1350.1 660.5l2 -.9M767.8 647.5l2 -.4M902.1 743.3l2 .9M1027.0 822.8l2.4 1.6M1118.4 893.5l2.2 .7M766.2 776.1l1.8 .7M910.2 875.9l2 -.7M1186.2 633.1l2.4 1.2M1259.9 690.2l2.8 2M796.6 764.4l1.8 .4M954.3 864.1l2.2 -1.1M1228.0 633.2l3.9 2.7M1268.2 664.7l4.4 3.4M801.4 670.0l2.2 -1.2M963.5 767.5l1.8 .3M1125.8 869.4l6.6 5.2M1151.7 889.9l6.3 4.7M856.3 787.5l2 .9M987.8 883.2l1.8 -.3M1265.6 635.5l2 .6M1361.2 708.6l2.4 1.5M992.2 646.4l2 -.3M1124.5 741.4l2 .9M1247.9 820.1l2.4 1.6M1342.6 893.1l2 .6M1017.6 757.5l1.8 .2M1183.6 854.9l2.2 -1.3M768.2 894.8l2.8 1.7M1043.6 659.4l2 -.9M1195.0 758.6l1.8 .5M1337.6 848.6l3.3 2.4M882.4 632.8l2.6 1.4M948.4 684.1l3.1 2.2M1087.6 772.8l2 .7M1235.4 873.1l2 -.8M820.9 878.0l17.3 13.5M1112.5 673.5l2.2 -1.3M1277.7 770.1l1.5 .2M959.6 634.4l2 .7M1047.3 701.9l2.4 1.6M1174.2 783.0l2 .9M1310.7 880.7l1.8 -.4M804.9 740.9l2.2 1M928.1 819.4l2.4 1.6M1023.7 893.0l2 .6M1301.7 646.1l1.8 -.3M921.8 638.7l1.8 .2M1032.7 722.0l2.2 1.3M1151.9 798.4l2.2 1.2M1271.5 887.9l1.8 0M885.0 850.5l2.4 -1.4M1343.7 754.6l1.8 .1M871.9 680.9l2.2 -1.3M1042.9 775.0l1.8 .1M1080.3 679.7l2.2 -1.3M1250.5 774.2l1.8 .1M787.4 849.3l2.2 -1.3M1245.1 753.9l1.8 .1M916.7 784.6l1.5 -.1M1363.4 696.1l2.2 -1.3M821.1 712.9l2 -1M1010.3 796.7l1.8 -.5M883.0 725.1l1.8 -.7M1073.6 808.1l2 -.8M898.6 719.6l2 -.9M1089.1 802.6l1.8 -.6M944.1 745.1l1.5 -.1M1124.3 835.1l2.2 -1.3M982.1 729.4l2 -.7M1172.2 812.8l2 -.9M1116.4 704.8l2.2 -1.3M1302.4 790.5l1.8 -.3M1135.5 695.8l2.2 -1.3M1316.8 784.4l1.8 -.2M1170.9 692.3l2.2 -1.3M1350.1 782.2l1.5 -.1M758.3 783.0l1.8 -.1M1206.8 693.5l2.2 -1.3M785.2 794.7l1.8 -.4M1225.4 710.3l2 -1.1M826.8 831.5l2.2 -1.3M1272.6 742.9l1.8 -.2"/>
<path stroke="#9eff00" d="M843.9 864.3l2.2 -1.1M1124.1 636.5l6.1 4.6M1150.6 657.4l6.3 5.1M1317.5 763.9l1.8 .4M872.5 759.1l1.8 .5M1022.2 853.3l3.5 2.7M1071.4 892.6l3.3 2.1M1352.0 659.6l2.2 -1M769.7 647.1l1.8 -.3M900.1 742.4l2 .9M1029.4 824.4l2.4 1.6M1116.4 892.8l2 .7M768.0 776.7l2 .7M908.4 876.5l1.8 -.6M1188.6 634.3l2.4 1.2M1257.1 688.1l2.8 2.1M798.4 764.8l1.8 .4M952.2 865.2l2.2 -1.1M1231.9 635.9l5.2 3.8M1262.8 660.3l5.5 4.4M803.6 668.8l2.2 -1.2M961.8 767.2l1.8 .3M1132.4 874.6l19.2 15.3M858.3 788.5l2 .9M986.1 883.5l1.8 -.2M1267.6 636.1l2 .6M1358.8 707.0l2.4 1.6M994.2 646.1l1.8 -.3M1122.6 740.5l2 .9M1250.3 821.7l2.4 1.6M1340.7 892.5l2 .6M1019.3 757.8l1.5 .2M1181.4 856.2l2.2 -1.3M765.1 892.9l3.1 1.9M1045.6 658.5l2.2 -.9M1193.2 758.1l1.8 .5M1340.9 851.0l3.3 2.5M885.0 634.2l2.6 1.5M945.4 681.8l3.1 2.3M1089.5 773.5l1.8 .6M1233.5 873.9l2 -.8M1114.7 672.3l2.2 -1.2M1275.9 769.9l1.8 .2M961.6 635.2l2.2 .9M1044.9 700.2l2.4 1.6M1176.2 783.9l1.8 .8M1308.7 881.1l2 -.4M803.0 739.9l2 .9M930.5 820.9l2.4 1.6M1021.7 892.4l2 .6M1303.5 645.9l1.8 -.3M923.5 638.9l2 .3M1030.5 720.8l2.2 1.3M1154.1 799.6l2 1.1M1269.6 887.8l2 .1M882.8 851.8l2.2 -1.3M1345.5 754.8l1.5 .1M874.1 679.6l2.2 -1.3M1041.2 774.9l1.8 .1M1082.5 678.4l2.4 -1.4M1248.8 774.1l1.8 .1M785.0 850.7l2.4 -1.5M1246.8 754.0l1.8 .1M738.0 694.4l1.5 -.9M915.0 784.8l1.8 -.2M1365.6 694.8l2.4 -1.5M823.1 711.9l2.2 -1.2M1008.6 797.2l1.8 -.5M884.8 724.4l2 -.8M1071.8 808.9l1.8 -.8M900.5 718.7l2 -.9M1087.3 803.2l1.8 -.7M945.6 744.9l1.8 -.2M1122.1 836.4l2.2 -1.3M984.1 728.7l1.8 -.6M1170.2 813.8l2 -1M1118.6 703.5l2 -1.2M1300.8 790.9l1.5 -.3M1137.7 694.5l2.4 -1.5M1315.1 784.6l1.8 -.2M1173.1 690.9l2.2 -1.4M1348.3 782.3l1.8 -.1M756.6 783.2l1.8 -.1M1209.0 692.2l2.2 -1.4M783.5 795.2l1.8 -.5M1227.3 709.2l2 -1.1M824.4 833.0l2.4 -1.5M1274.4 742.7l1.5 -.2"/>
<path stroke="#72ff00" d="M841.5 865.5l2.4 -1.2M1130.2 641.1l20.3 16.4M1319.2 764.3l2 .4M870.3 758.5l2.2 .6M1025.7 856.0l5.2 4.2M1066.6 889.2l4.8 3.3M1354.2 658.6l2.4 -1M771.5 646.8l2.2 -.3M897.9 741.4l2.2 1M1031.8 826.0l3.1 2.1M1113.8 891.8l2.6 1M769.9 777.5l2.2 .8M906.0 877.2l2.4 -.7M1191.0 635.5l3.3 1.8M1253.6 685.5l3.5 2.6M800.1 765.1l2 .4M949.8 866.4l2.4 -1.2M1237.2 639.8l25.6 20.6M805.8 667.6l2.6 -1.4M959.8 766.9l2 .3M860.3 789.4l2.4 1.1M983.9 883.7l2.2 -.3M1269.6 636.7l2.4 .9M1356.0 705.1l2.8 1.9M995.9 645.8l2.2 -.3M1120.2 739.4l2.4 1.1M1252.7 823.2l2.8 1.9M1338.2 891.6l2.4 .9M1020.8 757.9l2.2 .2M1178.8 857.7l2.6 -1.5M760.8 890.0l4.4 2.9M1047.8 657.6l2.4 -1M1191.0 757.4l2.2 .6M1344.2 853.5l4.8 3.8M887.6 635.7l3.7 2.3M941.4 678.8l3.9 3M1091.3 774.1l2.2 .7M1231.1 874.8l2.4 -.9M1116.9 671.0l2.6 -1.5M1273.9 769.6l2 .2M963.8 636.0l2.6 1.1M1041.8 698.1l3.1 2.1M1177.9 784.6l2.4 1M1306.5 881.5l2.2 -.4M800.8 738.9l2.2 1M932.9 822.5l2.8 1.9M1019.3 891.5l2.4 .9M1305.2 645.6l2.2 -.3M925.5 639.1l2.2 .4M1027.8 719.2l2.6 1.6M1156.0 800.7l2.6 1.5M1267.4 887.7l2.2 .1M880.0 853.5l2.8 -1.7M1347.0 754.9l2 .1M876.2 678.2l2.8 -1.7M1039.2 774.9l2 .1M1084.9 677.0l2.6 -1.6M1246.8 774.0l2 .1M782.4 852.3l2.6 -1.6M1248.6 754.1l2 .1M739.5 693.4l2.8 -1.8M913.0 785.1l2 -.2M825.3 710.7l2.4 -1.3M1006.4 797.9l2.2 -.7M886.8 723.6l2.2 -.9M1069.6 809.9l2.2 -1M902.5 717.8l2.2 -1.1M1085.2 804.1l2.2 -.9M947.3 744.8l2 -.2M1119.5 838.1l2.6 -1.6M985.8 728.1l2 -.7M1167.8 815.0l2.4 -1.2M1120.6 702.4l2.6 -1.6M1298.7 791.3l2.2 -.5M1140.1 693.0l2.6 -1.6M1313.1 784.9l2 -.2M1175.3 689.6l2.8 -1.8M1346.3 782.5l2 -.2M754.6 783.4l2 -.2M1211.2 690.8l2.8 -1.8M781.5 795.7l2 -.6M1229.3 708.1l2.6 -1.5M821.8 834.6l2.6 -1.6M1275.9 742.4l2 -.3"/>
<path stroke="#46ff00" d="M838.6 866.9l2.8 -1.4M1321.2 764.7l2.4 .4M867.9 757.9l2.4 .6M1030.9 860.1l7.9 6.5M1058.9 883.4l7.7 5.8M1356.6 657.6l2.6 -1.1M773.7 646.5l2.6 -.3M895.3 740.2l2.6 1.2M1034.8 828.1l3.5 2.5M1110.8 890.4l3.1 1.4M772.1 778.3l2.4 .9M903.4 878.0l2.6 -.8M1194.3 637.4l3.9 2.4M1249.2 682.2l4.4 3.4M802.1 765.5l2.4 .5M946.9 867.8l2.8 -1.4M808.4 666.2l3.1 -1.6M957.4 766.5l2.4 .4M862.7 790.6l2.6 1.3M981.2 884.0l2.6 -.2M1272.0 637.6l3.1 1.2M1352.5 702.7l3.5 2.4M998.1 645.6l2.4 -.2M1117.5 738.1l2.6 1.2M1255.6 825.2l3.5 2.4M1335.2 890.4l3.1 1.3M1023.0 758.2l2.2 .2M1175.7 859.4l3.1 -1.7M754.2 885.2l6.6 4.8M1050.2 656.6l2.6 -1M1188.6 756.7l2.4 .7M1349.0 857.3l6.8 5.6M891.3 638.0l4.8 3.3M936.2 674.6l5.2 4.2M1093.5 774.8l2.4 .8M1228.4 875.7l2.6 -.9M1119.5 669.5l3.1 -1.7M1271.5 769.4l2.4 .3M966.4 637.2l3.3 1.6M1038.1 695.4l3.7 2.7M1180.3 785.7l2.6 1.1M1304.1 881.9l2.4 -.4M797.9 737.5l2.8 1.4M935.8 824.4l3.5 2.4M1016.2 890.3l3.1 1.2M1307.4 645.3l2.6 -.2M927.7 639.5l2.6 .6M1024.8 717.3l3.1 1.9M1158.7 802.1l2.8 1.6M1265.0 887.4l2.4 .2M876.9 855.4l3.1 -1.8M1349.0 755.0l2.4 .1M879.1 676.5l3.1 -1.8M1037.0 774.8l2.2 .1M1087.6 675.4l3.1 -1.8M1244.6 773.9l2.2 .1M779.3 854.2l3.1 -1.8M1250.5 754.1l2.2 0M742.4 691.7l3.1 -1.9M910.6 785.4l2.4 -.3M827.7 709.4l2.8 -1.6M1004.0 798.7l2.4 -.8M888.9 722.7l2.6 -1.2M1067.0 811.2l2.6 -1.3M904.7 716.7l2.6 -1.3M1082.5 805.2l2.6 -1.1M949.3 744.5l2.4 -.3M1116.2 840.2l3.3 -2.1M987.8 727.4l2.6 -1M1165.2 816.4l2.6 -1.4M1123.2 700.8l3.1 -1.9M1296.5 791.9l2.2 -.5M1142.7 691.4l3.1 -1.9M1310.9 785.2l2.2 -.3M1178.1 687.8l3.1 -1.9M1344.2 782.7l2.2 -.2M752.4 783.6l2.2 -.3M1214.0 689.0l3.1 -1.9M779.1 796.5l2.4 -.7M1231.9 706.6l2.8 -1.7M818.7 836.5l3.1 -1.9M1277.9 742.1l2.4 -.4"/>
<path stroke="#1aff00" d="M835.8 868.3l2.8 -1.4M1323.6 765.1l2.2 .4M865.5 757.2l2.4 .6M1038.8 866.6l20.1 16.8M1359.2 656.5l2.6 -1M776.3 646.1l2.4 -.2M892.7 739.0l2.6 1.2M1038.3 830.6l3.5 2.6M1107.5 888.8l3.3 1.6M774.5 779.1l2.4 .9M901.0 878.6l2.4 -.6M1198.2 639.8l4.6 3.1M1244.2 678.1l5 4.1M804.5 766.0l2.4 .5M944.1 869.1l2.8 -1.3M811.5 664.6l2.8 -1.5M955.2 766.2l2.2 .3M865.3 791.8l2.6 1.3M978.8 884.1l2.4 -.1M1275.0 638.8l3.1 1.4M1349.2 700.3l3.3 2.3M1000.5 645.3l2.6 -.2M1114.9 736.9l2.6 1.3M1259.1 827.6l3.5 2.5M1332.1 888.9l3.1 1.4M1025.2 758.3l2.2 .2M1172.7 861.2l3.1 -1.7M738.0 871.8l16.2 13.3M1052.8 655.6l2.6 -1M1186.2 756.1l2.4 .7M1355.8 862.9l12.2 10.4M896.2 641.3l6.1 4.6M929.6 669.1l6.6 5.5M1095.9 775.6l2.4 .8M1225.8 876.5l2.6 -.8M1122.6 667.8l2.8 -1.6M1269.3 769.2l2.2 .2M969.7 638.8l3.3 1.8M1034.4 692.6l3.7 2.8M1182.9 786.8l2.4 1.1M1301.5 882.3l2.6 -.4M795.5 736.4l2.4 1.2M939.2 826.8l3.5 2.5M1013.2 888.9l3.1 1.4M1310.0 645.1l2.4 -.1M930.3 640.1l2.6 .7M1021.7 715.4l3.1 1.9M1161.5 803.7l2.8 1.6M1262.3 887.1l2.6 .4M873.8 857.2l3.1 -1.8M1351.4 755.1l2.2 0M882.2 674.7l3.1 -1.8M1034.8 774.8l2.2 0M1090.6 673.6l3.1 -1.8M1242.4 773.9l2.2 0M776.3 856.0l3.1 -1.8M1252.7 754.2l2.2 0M745.4 689.7l3.1 -2M908.4 785.8l2.2 -.4M830.5 707.8l2.8 -1.7M1001.6 799.6l2.4 -.9M891.6 721.5l2.4 -1.1M1064.4 812.5l2.6 -1.3M907.3 715.4l2.8 -1.5M1080.1 806.3l2.4 -1.1M951.7 744.2l2.2 -.3M1113.2 842.1l3.1 -2M990.4 726.3l2.4 -1M1162.4 818.0l2.8 -1.6M1126.3 698.9l3.1 -1.9M1294.1 792.5l2.4 -.6M1145.8 689.4l3.1 -2M1308.5 785.6l2.4 -.4M1181.2 685.8l3.1 -2M1341.8 783.0l2.4 -.3M750.2 783.9l2.2 -.3M1217.1 687.1l3.1 -2M776.7 797.3l2.4 -.8M1234.8 705.0l2.8 -1.7M815.7 838.5l3.1 -2M1280.3 741.7l2.2 -.4"/>
<path stroke="#00ff12" d="M832.7 869.7l3.1 -1.4M1325.8 765.5l2.6 .4M863.1 756.6l2.4 .6M1361.9 655.5l3.1 -1.1M778.7 645.9l2.6 -.2M889.8 737.7l2.8 1.3M1041.8 833.2l4.2 3.2M1103.8 886.7l3.7 2.1M776.9 780.0l2.6 .9M898.1 879.3l2.8 -.7M1202.8 642.9l6.6 5M1237.4 672.4l6.8 5.7M806.9 766.5l2.4 .4M941.0 870.5l3.1 -1.4M814.3 663.2l3.1 -1.5M952.6 765.9l2.6 .3M867.9 793.1l2.8 1.4M976.2 884.1l2.6 0M1278.1 640.2l3.5 1.8M1345.2 697.4l3.9 2.9M1003.1 645.2l2.6 -.1M1112.1 735.5l2.8 1.4M1262.6 830.1l3.9 3M1328.4 887.0l3.7 2M1027.4 758.5l2.6 .2M1169.4 863.0l3.3 -1.8M1055.4 654.6l2.8 -1M1183.6 755.4l2.6 .7M902.3 645.9l27.3 23.3M1098.3 776.3l2.6 .8M1223.0 877.3l2.8 -.8M1125.4 666.3l3.3 -1.8M1266.9 769.0l2.4 .2M972.9 640.5l4.2 2.5M1029.8 689.0l4.6 3.6M1185.3 787.9l2.8 1.3M1298.9 882.5l2.6 -.3M792.7 735.0l2.8 1.4M942.8 829.3l3.9 2.9M1009.7 887.1l3.5 1.8M1312.4 645.0l2.8 0M932.9 640.8l3.1 1M1018.4 713.2l3.3 2.1M1164.3 805.4l3.1 1.8M1259.5 886.6l2.8 .5M870.6 859.1l3.3 -1.9M1353.6 755.1l2.4 0M885.2 672.8l3.3 -2M1032.2 774.8l2.6 0M1093.7 671.8l3.3 -1.9M1239.8 773.9l2.6 0M773.0 858.0l3.3 -2M1254.9 754.2l2.6 0M748.5 687.8l3.5 -2.3M906.0 786.2l2.4 -.4M833.4 706.1l3.1 -1.9M999.0 800.6l2.6 -1M894.0 720.4l2.8 -1.4M1061.3 814.2l3.1 -1.6M910.2 713.9l2.8 -1.6M1077.3 807.6l2.8 -1.3M953.9 743.9l2.4 -.4M1109.9 844.3l3.3 -2.1M992.8 725.3l2.6 -1.2M1159.3 819.8l3.1 -1.8M1129.3 697.0l3.3 -2.1M1291.7 793.2l2.4 -.7M1148.8 687.4l3.5 -2.3M1306.1 786.0l2.4 -.4M1184.2 683.9l3.5 -2.3M1339.3 783.3l2.4 -.3M747.6 784.3l2.6 -.4M1220.1 685.1l3.5 -2.3M774.1 798.2l2.6 -.9M1237.6 703.3l3.1 -1.9M812.4 840.6l3.3 -2.1M1282.5 741.3l2.6 -.6"/>
<path stroke="#00ff3e" d="M829.2 871.3l3.5 -1.6M1328.4 766.0l2.8 .4M738.0 653.9l2 -.7M860.1 755.8l3.1 .8M1364.9 654.4l3.1 -1.1M781.3 645.7l3.3 -.1M886.8 736.2l3.1 1.5M1046.0 836.4l5.5 4.5M1098.7 883.4l5 3.3M779.6 780.9l3.1 1.1M894.8 879.9l3.3 -.7M1209.4 647.9l28 24.5M809.3 766.9l2.8 .5M937.5 872.0l3.5 -1.5M817.4 661.6l3.7 -1.8M949.8 765.6l2.8 .3M870.8 794.5l3.3 1.7M972.9 884.0l3.3 .1M1281.6 642.0l4.6 2.7M1340.2 693.5l5 4M1005.8 645.1l3.3 .1M1108.8 733.9l3.3 1.6M1266.5 833.1l5 4M1323.8 884.2l4.6 2.8M1030.0 758.7l2.8 .1M1165.7 865.0l3.7 -2M1058.2 653.6l3.5 -1.1M1180.8 754.6l2.8 .8M1100.9 777.2l2.8 .9M1219.7 878.2l3.3 -.9M1128.7 664.5l3.7 -2M1263.9 768.8l3.1 .2M977.1 643.1l5.5 3.8M1023.9 684.1l5.9 4.9M1188.2 789.2l3.3 1.5M1295.6 882.7l3.3 -.2M789.2 733.2l3.5 1.8M946.7 832.3l4.8 3.8M1005.1 884.3l4.6 2.7M1315.3 644.9l3.1 .1M936.0 641.8l3.5 1.3M1014.5 710.5l3.9 2.7M1167.4 807.2l3.7 2.3M1256.2 885.8l3.3 .8M866.8 861.3l3.7 -2.2M1356.0 755.1l2.8 0M888.5 670.9l3.9 -2.3M1029.4 774.9l2.8 -.1M1097.0 669.8l3.9 -2.3M1237.0 773.9l2.8 0M769.1 860.3l3.9 -2.3M1257.5 754.2l2.8 -.1M752.0 685.5l3.9 -2.6M903.2 786.8l2.8 -.6M836.4 704.2l3.7 -2.4M995.9 801.9l3.1 -1.3M896.8 719.0l3.3 -1.7M1058.0 816.0l3.3 -1.8M913.0 712.3l3.5 -2M1074.0 809.3l3.3 -1.6M956.3 743.4l2.8 -.6M1105.7 847.0l4.2 -2.7M995.5 724.2l3.3 -1.5M1155.8 821.9l3.5 -2.1M1132.6 694.9l3.9 -2.6M1288.6 794.2l3.1 -1M1152.3 685.2l3.9 -2.6M1303.2 786.6l2.8 -.6M1187.8 681.6l3.9 -2.6M1336.5 783.8l2.8 -.5M744.8 784.8l2.8 -.5M1223.6 682.9l3.9 -2.6M771.0 799.4l3.1 -1.2M1240.7 701.3l3.9 -2.6M808.2 843.4l4.2 -2.8M1285.1 740.7l2.8 -.7"/>
<path stroke="#00ff6a" d="M825.7 872.8l3.5 -1.5M1331.2 766.4l2.8 .4M740.0 653.2l3.3 -1M857.2 755.1l2.8 .7M784.6 645.7l3.3 .1M883.5 734.6l3.3 1.6M1051.5 840.9l6.6 5.7M1092.6 878.8l6.1 4.6M782.6 782.0l3.1 1.1M891.8 880.4l3.1 -.5M812.2 767.4l2.8 .5M934.0 873.5l3.5 -1.4M821.1 659.8l3.5 -1.6M946.9 765.3l2.8 .3M874.1 796.2l3.3 1.7M969.7 883.7l3.3 .3M1286.2 644.8l5 3.5M1334.8 688.9l5.5 4.6M1009.0 645.2l3.1 .2M1105.5 732.2l3.3 1.7M1271.5 837.1l5.7 4.9M1318.3 880.3l5.5 3.8M1032.9 758.8l2.6 .1M1161.9 867.0l3.7 -2M1061.8 652.5l3.3 -1M1177.9 753.8l2.8 .8M1103.8 778.0l3.1 1M1216.4 879.0l3.3 -.8M1132.4 662.5l3.5 -1.8M1261.2 768.6l2.6 .1M982.6 646.8l7.4 5.9M1016.2 677.3l7.7 6.8M1191.5 790.6l3.1 1.4M1292.5 882.8l3.1 0M785.9 731.5l3.3 1.7M951.5 836.1l5.7 4.8M999.8 880.7l5.2 3.6M1318.3 645.0l3.3 .3M939.5 643.1l3.7 1.7M1010.3 707.5l4.2 3M1171.1 809.5l3.5 2.3M1252.7 884.7l3.5 1.1M862.9 863.6l3.9 -2.3M1358.8 755.1l2.8 -.1M892.4 668.6l3.7 -2.2M1026.8 775.0l2.6 -.1M1100.9 667.5l3.7 -2.1M1234.3 774.0l2.6 -.1M765.3 862.5l3.7 -2.2M1260.4 754.1l2.6 -.1M755.9 682.9l3.9 -2.7M900.1 787.6l3.1 -.7M840.2 701.9l3.7 -2.5M992.8 803.3l3.1 -1.4M900.1 717.2l3.5 -2M1054.5 818.1l3.5 -2.1M916.5 710.2l3.5 -2.2M1070.7 811.0l3.3 -1.8M959.2 742.9l3.1 -.7M1101.8 849.7l3.9 -2.6M998.8 722.6l3.3 -1.7M1152.1 824.3l3.7 -2.4M1136.6 692.2l3.7 -2.5M1285.5 795.3l3.1 -1.1M1156.2 682.5l3.9 -2.7M1300.4 787.3l2.8 -.7M1191.7 679.0l4.2 -2.7M1333.7 784.4l2.8 -.5M741.9 785.4l2.8 -.6M1227.6 680.3l3.9 -2.6M768.0 800.7l3.1 -1.3M1244.6 698.8l3.7 -2.5M804.3 846.1l3.9 -2.7M1287.9 740.0l2.8 -.8"/>
<path stroke="#00ff96" d="M822.2 874.2l3.5 -1.4M1334.1 766.8l2.8 .4M743.2 652.2l3.3 -.9M854.4 754.4l2.8 .7M787.9 645.8l3.1 .3M880.2 732.9l3.3 1.7M1058.0 846.6l9.4 8.9M1083.4 870.9l9.2 8M785.7 783.2l2.8 1.1M888.5 880.8l3.3 -.4M815.0 767.9l2.8 .5M930.7 874.7l3.3 -1.3M824.6 658.2l3.3 -1.5M944.3 765.0l2.6 .3M877.3 797.9l3.3 1.8M966.6 883.3l3.1 .5M1291.2 648.2l6.6 5.2M1328.0 682.7l6.8 6.2M1012.1 645.4l3.3 .5M1102.2 730.4l3.3 1.8M1277.2 841.9l7.2 6.6M1311.6 874.8l6.8 5.5M1035.5 758.9l2.8 .1M1158.4 868.8l3.5 -1.8M1065.0 651.6l3.1 -.8M1175.1 753.1l2.8 .8M1106.8 779.0l2.8 .9M1213.3 879.6l3.1 -.6M1135.9 660.8l3.7 -1.9M1258.4 768.5l2.8 .1M990.0 652.8l26.2 24.5M1194.5 792.1l3.1 1.5M1289.2 882.6l3.3 .2M782.8 729.8l3.1 1.7M957.2 840.9l6.8 6.2M993.3 875.5l6.6 5.3M1321.6 645.3l3.1 .5M943.2 644.8l3.9 2.1M1006.2 704.3l4.2 3.2M1174.6 811.8l3.7 2.6M1249.2 883.3l3.5 1.4M859.2 865.7l3.7 -2.1M1361.7 755.0l2.8 -.1M896.2 666.4l3.7 -2.2M1023.9 775.2l2.8 -.2M1104.6 665.4l3.7 -2.1M1231.5 774.1l2.8 -.1M761.6 864.6l3.7 -2.2M1263.0 754.0l2.8 -.2M759.9 680.2l3.9 -2.7M897.2 788.3l2.8 -.8M843.9 699.4l3.7 -2.6M989.6 804.9l3.3 -1.6M903.6 715.3l3.3 -2M1051.0 820.3l3.5 -2.2M920.0 708.1l3.5 -2.3M1067.4 812.9l3.3 -1.9M962.2 742.2l2.6 -.7M1097.8 852.3l3.9 -2.7M1002.0 721.0l3.1 -1.7M1148.6 826.6l3.5 -2.3M1140.3 689.7l3.9 -2.8M1282.7 796.3l2.8 -1.1M1160.2 679.9l3.9 -2.7M1297.6 788.0l2.8 -.7M1195.8 676.3l3.7 -2.5M1330.8 785.0l2.8 -.6M739.1 786.1l2.8 -.7M1231.5 677.6l3.9 -2.7M1367.3 786.1l.7 -.2M764.9 802.1l3.1 -1.4M1248.3 696.3l3.7 -2.6M800.3 848.8l3.9 -2.7M1290.8 739.2l2.8 -.9"/>
<path stroke="#00ffc2" d="M818.5 875.6l3.7 -1.4M1336.9 767.3l3.1 .4M746.5 651.3l3.7 -.9M851.1 753.5l3.3 .9M790.9 646.1l3.7 .6M876.5 730.8l3.7 2.1M1067.4 855.4l16 15.4M788.5 784.3l3.5 1.4M885.0 881.0l3.5 -.2M817.8 768.3l3.3 .5M927.0 876.0l3.7 -1.3M827.9 656.7l3.9 -1.7M941.0 764.7l3.3 .3M880.6 799.7l3.7 2.2M962.9 882.4l3.7 .8M1297.8 653.5l8.8 8l21.4 21.2M1015.4 645.9l3.7 .8M1098.5 728.2l3.7 2.2M1284.4 848.6l27.1 26.2M1038.3 758.9l3.3 0M1154.3 870.9l4.2 -2.1M1068.1 650.8l3.7 -.8M1171.8 752.1l3.3 .9M1109.7 780.0l3.5 1.2M1209.6 880.1l3.7 -.5M1139.6 658.9l3.9 -1.9M1255.3 768.4l3.1 .1M1197.6 793.6l3.7 2M1285.8 882.2l3.5 .4M778.9 727.4l3.9 2.3M964.0 847.1l20.6 20.3l8.7 8.1M1324.7 645.8l3.7 .8M947.1 647.0l5.2 3.4M1000.9 699.8l5.2 4.4M1178.3 814.4l4.6 3.5M1245.1 881.3l4.2 2M738.0 754.8l1.3 -.1M855.0 868.0l4.2 -2.3M1364.5 754.9l3.1 -.2M899.9 664.2l4.4 -2.5M1020.6 775.4l3.3 -.3M1108.3 663.3l4.2 -2.3M1228.4 774.3l3.1 -.2M757.2 867.1l4.4 -2.5M1265.8 753.8l3.3 -.3M763.8 677.5l4.6 -3.2M894.0 789.3l3.3 -1M847.6 696.8l4.4 -3.2M986.1 806.7l3.5 -1.8M906.9 713.3l3.9 -2.5M1046.9 823.1l4.2 -2.8M923.5 705.8l4.2 -2.8M1063.7 815.2l3.7 -2.3M964.8 741.5l3.3 -.9M1093.2 855.5l4.6 -3.2M1005.1 719.3l3.9 -2.3M1144.2 829.7l4.4 -3.1M1144.2 686.9l4.6 -3.3M1279.2 797.8l3.5 -1.5M1164.1 677.2l4.6 -3.2M1294.3 789.0l3.3 -1M1199.6 673.8l4.6 -3.1M1327.5 785.8l3.3 -.8M738.0 786.4l1.1 -.3M1235.4 675.0l4.6 -3.1M1364.1 786.9l3.3 -.9M761.4 803.8l3.5 -1.7M1252.1 693.7l4.6 -3.3M795.8 852.1l4.6 -3.3M1293.6 738.4l3.5 -1.2"/>
<path stroke="#00ffee" d="M814.6 876.9l3.9 -1.3M1340.0 767.7l3.3 .5M750.2 650.4l3.7 -.7M847.8 752.6l3.3 .9M794.7 646.7l3.7 .9M872.8 728.6l3.7 2.3M792.0 785.7l3.5 1.5M881.3 881.0l3.7 0M821.1 768.9l3.1 .5M923.1 877.3l3.9 -1.3M831.8 655.0l3.9 -1.6M937.9 764.4l3.1 .3M884.3 802.0l3.9 2.6M958.9 881.2l3.9 1.2M1019.1 646.7l3.9 1.2M1094.6 725.7l3.9 2.5M1041.6 758.9l3.1 0M1150.3 872.8l3.9 -1.9M1071.8 650.0l3.7 -.6M1168.3 751.1l3.5 1.1M1113.2 781.2l3.3 1.2M1205.9 880.4l3.7 -.3M1143.6 657.0l3.9 -1.8M1252.1 768.3l3.3 .1M1201.3 795.6l3.7 2.1M1281.8 881.5l3.9 .8M775.0 724.9l3.9 2.6M1328.4 646.6l3.9 1.2M952.4 650.4l5.9 4.7M994.6 693.9l6.3 6M1182.9 817.9l4.8 4M1240.2 878.3l4.8 2.9M739.3 754.7l3.3 -.3M850.9 870.3l4.2 -2.3M1367.6 754.7l.4 0M904.2 661.7l4.2 -2.3M1017.6 775.7l3.1 -.3M1112.5 661.0l4.4 -2.4M1225.2 774.5l3.3 -.3M753.1 869.5l4.2 -2.3M1269.1 753.5l3.1 -.3M768.4 674.3l4.6 -3.3M890.7 790.4l3.3 -1.1M852.0 693.7l4.6 -3.5M982.3 808.9l3.7 -2.1M910.8 710.8l3.9 -2.7M1042.7 826.0l4.2 -3M927.7 703.0l4.4 -3.2M1059.8 817.8l3.9 -2.6M968.1 740.6l3.5 -1.1M1088.7 858.7l4.6 -3.2M1009.0 717.0l3.7 -2.3M1139.8 832.9l4.4 -3.2M1148.8 683.6l4.8 -3.6M1275.7 799.4l3.5 -1.6M1168.7 674.0l4.6 -3.2M1290.8 790.1l3.5 -1.1M1204.2 670.7l4.6 -3.1M1324.2 786.7l3.3 -.9M1240.0 671.9l4.6 -3.2M1360.8 787.9l3.3 -1M757.7 805.8l3.7 -2M1256.7 690.4l4.6 -3.5M791.2 855.4l4.6 -3.3M1297.1 737.2l3.3 -1.2"/>
<path stroke="#00e4ff" d="M810.8 878.0l3.7 -1.1M1343.3 768.2l3.1 .5M754.0 649.7l3.5 -.5M844.5 751.6l3.3 1M798.4 647.6l3.9 1.4M869.0 726.1l3.7 2.5M795.5 787.2l3.5 1.7M877.6 880.8l3.7 .3M824.2 769.4l3.3 .6M919.3 878.4l3.7 -1M835.8 653.5l3.9 -1.4M934.7 764.1l3.3 .3M888.3 804.6l3.9 2.9M955.0 879.5l3.9 1.7M1023.0 647.9l3.9 1.6M1090.6 722.9l3.9 2.8M1044.7 758.9l3.1 0M1146.4 874.6l3.9 -1.8M1075.5 649.3l3.7 -.4M1165.0 750.0l3.3 1.1M1116.4 782.4l3.3 1.3M1202.4 880.5l3.5 -.1M1147.5 655.2l3.9 -1.7M1249.0 768.2l3.1 .1M1205.0 797.7l3.7 2.4M1278.1 880.4l3.7 1.1M771.0 722.0l3.9 2.8M1332.3 647.9l3.9 1.7M958.3 655.1l8.8 8.4M985.8 684.7l8.8 9.2M1187.8 821.9l5.2 4.9M1235.2 874.6l5 3.8M742.6 754.4l3.1 -.3M846.7 872.5l4.2 -2.2M908.4 659.4l4.2 -2.3M1014.3 776.1l3.3 -.4M1116.9 658.6l3.9 -2.1M1222.1 774.8l3.1 -.3M748.9 871.8l4.2 -2.3M1272.2 753.2l3.3 -.4M773.0 671.1l4.6 -3.3M887.4 791.6l3.3 -1.2M856.6 690.2l4.6 -3.7M978.6 811.2l3.7 -2.3M914.8 708.1l4.2 -3M1038.6 829.2l4.2 -3.2M932.0 699.8l4.4 -3.4M1055.6 820.7l4.2 -2.9M971.6 739.5l3.3 -1.2M1084.1 862.0l4.6 -3.3M1012.8 714.7l3.9 -2.7M1135.5 836.4l4.4 -3.4M1153.6 680.0l4.6 -3.6M1272.2 801.2l3.5 -1.8M1173.3 670.8l4.6 -3.3M1287.5 791.3l3.3 -1.2M1208.8 667.6l4.4 -3M1321.0 787.7l3.3 -1M1244.6 668.7l4.4 -3.1M1357.5 789.0l3.3 -1.1M754.2 807.8l3.5 -2M1261.2 686.9l4.6 -3.6M786.6 858.8l4.6 -3.4M1300.4 736.0l3.3 -1.3"/>
<path stroke="#00b8ff" d="M806.2 879.2l4.6 -1.2M1346.3 768.7l3.9 .7M757.5 649.2l4.6 -.3M840.6 750.3l3.9 1.3M802.3 649.0l4.8 2.4M864.0 722.2l5 3.9M799.0 788.9l4.2 2.3M873.2 880.0l4.4 .8M827.5 770.0l3.9 .8M914.8 879.4l4.6 -1.1M839.7 652.0l4.6 -1.5M930.9 763.8l3.7 .4M892.2 807.4l5.2 4.4M949.8 876.5l5.2 3M1027.0 649.5l5 2.8M1085.6 718.8l5 4.1M1047.8 758.9l3.9 -.1M1141.6 876.8l4.8 -2.1M1079.2 648.9l4.4 -.2M1161.1 748.6l3.9 1.4M1119.7 783.7l4.2 1.9M1198.0 880.3l4.4 .3M1151.4 653.5l4.8 -1.9M1245.1 768.1l3.9 .1M1208.8 800.1l4.6 3.3M1273.3 878.3l4.8 2M765.8 717.7l5.2 4.3M1336.3 649.5l5.2 3M967.0 663.5l18.8 21.2M1193.0 826.8l8.3 8.9M1226.9 866.8l8.3 7.8M745.7 754.1l3.9 -.4M841.9 875.0l4.8 -2.5M912.6 657.1l5 -2.7M1010.6 776.6l3.7 -.5M1120.8 656.5l5 -2.6M1218.2 775.2l3.9 -.4M743.9 874.5l5 -2.7M1275.5 752.9l3.7 -.5M777.6 667.7l5.5 -4M883.2 793.3l4.2 -1.7M861.2 686.6l5.7 -4.8M974.0 814.3l4.6 -3.1M918.9 705.1l5 -4M1033.1 833.7l5.5 -4.5M936.4 696.4l5.5 -4.6M1050.6 824.6l5 -3.9M974.9 738.3l3.9 -1.6M1078.6 866.0l5.5 -4M1016.7 712.0l4.8 -3.6M1130.0 840.9l5.5 -4.6M1158.2 676.4l5.7 -4.6M1268.0 803.5l4.2 -2.3M1177.9 667.5l5.5 -4M1283.6 792.9l3.9 -1.6M1213.1 664.6l5.5 -3.8M1317.0 789.0l3.9 -1.4M1249.0 665.6l5.5 -3.9M1353.6 790.4l3.9 -1.4M749.6 810.8l4.6 -3M1265.8 683.2l5.7 -4.8M780.9 863.1l5.7 -4.3M1303.7 734.7l4.2 -1.9"/>
<path stroke="#008cff" d="M801.9 880.0l4.4 -.8M1350.3 769.4l3.9 .8M762.1 648.8l4.4 .1M836.7 748.8l3.9 1.6M807.1 651.4l5.5 3.7M858.8 717.5l5.2 4.8M803.2 791.1l4.4 2.8M868.6 878.6l4.6 1.4M831.4 770.8l3.7 .9M910.4 880.1l4.4 -.7M844.3 650.5l4.4 -1.2M927.0 763.3l3.9 .5M897.5 811.8l5.7 5.6M944.1 872.1l5.7 4.4M1032.0 652.3l5.7 4.3M1079.9 713.3l5.7 5.5M1051.7 758.8l3.7 -.1M1137.0 878.6l4.6 -1.9M1083.6 648.8l4.4 .3M1157.1 746.9l3.9 1.7M1123.9 785.6l4.2 2.2M1193.4 879.5l4.6 .8M1156.2 651.6l4.6 -1.7M1241.3 768.1l3.7 .1M1213.3 803.4l5 4.3M1268.2 875.4l5 3M760.1 712.1l5.7 5.6M1341.5 652.5l5.7 4.4M1201.3 835.7l18.6 23.1l7 7.9M749.6 753.7l3.7 -.5M837.1 877.4l4.8 -2.4M917.6 654.4l4.8 -2.5M1006.6 777.2l3.9 -.6M1125.8 653.9l4.8 -2.4M1214.2 775.7l3.9 -.5M739.1 877.0l4.8 -2.5M1279.2 752.4l3.9 -.6M1367.3 877.0l.7 -.3M783.1 663.7l5.5 -4.2M879.3 795.2l3.9 -1.8M866.8 681.8l5.7 -5.1M969.2 818.0l4.8 -3.7M923.9 701.1l5.2 -4.6M1027.6 838.6l5.5 -4.9M941.9 691.8l5.5 -5M1045.6 828.8l5 -4.3M978.8 736.7l4.2 -1.9M1073.3 869.9l5.2 -3.9M1021.5 708.5l5 -4.1M1124.3 846.1l5.7 -5.2M1163.9 671.8l5.7 -4.8M1263.7 806.2l4.4 -2.8M1183.4 663.5l5.5 -4.1M1279.4 794.8l4.2 -1.9M1218.6 660.8l5.2 -3.7M1313.1 790.6l3.9 -1.5M1254.5 661.8l5.5 -4M1349.6 792.1l3.9 -1.6M745.0 814.1l4.6 -3.3M1271.5 678.5l5.9 -5.3M775.4 867.4l5.5 -4.3M1307.8 732.8l4.2 -2.2"/>
<path stroke="#0060ff" d="M796.0 880.6l5.9 -.6M1354.2 770.2l5.2 1.4M766.4 648.9l5.9 1M831.2 746.1l5.5 2.7M812.6 655.1l4.4 3.9l4.1 4.5M850.2 707.7l8.5 9.8M807.6 793.9l6.1 4.9M862.2 875.3l6.3 3.3M835.1 771.6l5.5 1.6M904.5 880.5l5.9 -.3M848.7 649.3l6.1 -1.2M921.8 762.5l5.2 .8M903.2 817.4l5.2 6.1l5.5 7.4M933.3 860.1l5.5 6.7l5.2 5.3M1037.7 656.6l4.8 4.7l5 6M1070.1 701.3l9.8 12.1M1055.4 758.8l5.2 0M1130.7 880.9l6.3 -2.3M1088.0 649.1l6.1 1.4M1151.4 743.8l5.7 3.1M1128.0 787.8l5.9 4M1187.3 877.3l6.1 2.2M1160.8 649.9l6.1 -1.9M1236.1 767.8l5.2 .2M1218.4 807.7l7.9 8.6M1260.4 868.4l7.9 6.9M749.8 699.3l10.3 12.8M1347.2 657.0l5 5l5.3 6.4M753.3 753.3l5.2 -.7M830.8 880.4l6.3 -3M922.4 651.9l6.3 -3.2M1001.4 778.1l5.2 -.9M1130.7 651.5l6.3 -3M1209.2 776.4l5 -.7M738.0 877.6l1.1 -.6M1283.1 751.8l5.2 -.9M1361.0 880.2l6.3 -3.2M788.5 659.6l7.4 -5.9M873.6 798.3l5.7 -3.1M872.5 676.6l8.1 -8M962.7 823.8l6.6 -5.8M929.2 696.5l7.7 -7.6M1020.0 846.3l7.7 -7.7M947.3 686.9l8.1 -8.2M1038.3 835.8l7.2 -7M983.0 734.8l5.5 -2.9M1065.9 875.7l7.4 -5.8M1026.5 704.3l7 -6.6M1116.2 854.2l8.1 -8.1M1169.6 666.9l7.9 -7.2M1257.5 810.7l6.1 -4.5M1188.8 659.3l7.4 -5.9M1273.9 797.8l5.5 -3M1223.8 657.1l7 -5.1M1307.6 793.1l5.5 -2.5M1259.9 657.8l7 -5.3M1343.9 794.8l5.7 -2.8M738.4 819.7l6.6 -5.5M1277.4 673.2l8.1 -7.9M1366.9 819.5l1.1 -1M768.0 873.6l7.4 -6.2M1312.0 730.6l5.7 -3.5"/>
<path stroke="#0034ff" d="M738.0 774.3l.4 .2M787.9 879.8l8.1 .8M1359.5 771.6l7.2 3M772.3 650.0l4.4 1.6l3.9 2.3M823.3 740.2l3.7 3.1l4.2 2.8M821.1 663.5l7.4 10.1l14.7 23.9l7 10.1M813.7 798.9l5 5.3l4.8 6.5M852.0 865.2l5 5.8l5.3 4.3M840.6 773.3l7.2 3.4M896.4 879.2l3.9 .9l4.2 .3M854.8 648.1l6.6 -.4M916.1 761.1l5.7 1.4M913.9 830.9l19.5 29.2M1047.5 667.3l5.9 8.4l16.6 25.5M1060.7 758.7l6.1 .2M1123.7 882.8l7 -1.9M1094.1 650.4l4.4 1.9l4.1 2.8M1143.6 737.4l3.7 3.4l4.2 3M1133.9 791.8l4.4 3.9l4.1 4.7M1178.3 870.6l4.4 3.9l4.6 2.7M1167.0 648.0l8.1 -1.6M1229.1 767.1l7 .7M1226.2 816.3l8.3 11.9l17.1 28.8l4.4 6.3l4.3 5.2M738.0 681.3l11.8 18.1M1357.5 668.4l10.5 15.6M758.6 752.5l7 -1M822.2 884.0l8.5 -3.7M928.8 648.7l7 -3.3M995.7 779.2l5.7 -1.1M1137.0 648.5l8.3 -3.5M1202.0 777.5l7.2 -1.1M1288.4 750.9l7 -1.3M1352.5 884.2l8.5 -4M796.0 653.6l9.6 -8.5M866.0 803.6l7.7 -5.4M880.6 668.6l11.6 -13.6M952.8 834.8l9.8 -11M936.8 688.9l11.2 -13.7M1008.4 860.5l11.6 -14.2M955.4 678.6l11.6 -14.3M1027.4 849.0l10.9 -13.2M988.5 731.9l7.7 -5.2M1056.3 884.0l9.6 -8.3M1033.5 697.7l10.5 -12.5M1104.4 868.5l11.8 -14.3M1177.5 659.7l10.7 -11.3M1249.0 818.7l8.5 -8M1196.3 653.4l9.6 -8.4M1266.1 803.2l7.9 -5.4M1230.8 652.0l7.9 -6.2M1301.5 796.5l6.1 -3.5M1266.9 652.5l9.6 -7.9M1336.5 799.5l7.4 -4.6M738.0 820.1l.4 -.4M1285.5 665.3l9.2 -10.3M1359.2 827.4l7.7 -7.9M757.9 883.0l10.1 -9.4M1317.7 727.1l8.1 -6.3"/>
<path stroke="#0008ff" d="M738.4 774.6l4.8 3.3l4 4.2l3.5 5.4l3 6.8l4.6 15.4l9 40.4l2.6 8.8l2.6 6.5l3.1 5.4l3.5 4.2l3.9 2.9l4.8 1.9M1366.7 774.6l1.3 .8M780.7 653.9l3.3 2.8l2.8 3.2l5.5 8.9l5 12.1l9.4 28.8l4.6 12l5.7 10.8l6.4 7.7M823.5 810.7l7 12.4l14.2 30.3l7.2 11.8M847.8 776.7l4.6 3.5l3.9 4.4l3.3 5.2l3.1 6.8l4.6 14.9l9.2 38.6l2.6 8.3l2.6 6.4l3.1 5.4l3.2 4l4 3.1l4.4 2M861.4 647.7l6.1 1M910.6 758.8l5.5 2.3M1066.8 758.9l6.3 .8M1116.4 883.8l7.2 -1M1102.7 655.2l5.7 6.1l5 8.4l5 11.8l9.2 26.6l4.4 11l5.5 10.5l6.1 7.8M1142.5 800.4l4.8 7.1l4.6 8.7l12.7 31l4.4 9.5l4.6 7.9l4.8 6.1M1175.1 646.4l6.6 0l5.2 1.7l4.2 3.4l3.2 5.5l2.7 7.9l2.2 10.8l6.7 55.4l1.8 10.1l2.2 8.5l3 7.2l4 5l5.2 3.3l7 1.9M765.6 751.5l8.3 -1l5.3 -.2l3.7 .6l2.8 1.7l2 2.8l1.5 4.5l1.1 6.4l.9 9.5M794.4 864.4l.9 9.2l1.1 6.2l1.7 4.7l2.2 2.6l3.3 1.3l4.4 -.1l6.1 -1.4l8.1 -2.9M935.8 645.4l5.7 -2.5M990.7 780.2l5 -1M1145.3 644.9l8.1 -2.8l6.1 -1.4l4.4 -.1l3.3 1.4l2.4 3l1.5 4.6l1.1 6.5l.9 9.9M1176.4 754.5l.9 9l1.1 6l1.5 4.3l2 2.7l2.8 1.6l3.7 .6l13.6 -1.2M1295.4 749.5l15.3 -2.9l3.7 -.2l2.4 .6l1.8 1.4l1.3 2.6l1.5 10M1324.0 877.1l.7 6.1l1 4.4l1.6 2.4l2 1l3.2 .1l4.8 -1l15.1 -5.8M805.6 645.1l8.1 -8.7l6.1 -8.6l4.8 -9.4l4 -11M828.8 921.7l4.8 -20.8l8.3 -48.3l4.6 -18.4l3.5 -9.3l4.4 -8.3l5.2 -6.9l6.4 -6.1M892.2 655.0l7 -10.1l6.3 -11.2l5.7 -12.3l5.5 -14.3M916.9 921.4l13.1 -40.3l6.4 -17.1l7.6 -15.9l8.8 -13.3M948.0 675.2l7.9 -12.4l7.2 -14.2l7 -16.8l9 -24.5M979.3 921.7l7.7 -20.5l6.5 -15.1l7 -13.4l7.9 -12.2M967.0 664.4l7.4 -11.5l6.8 -12.7l6.4 -14.3l7 -18.6M994.8 921.7l10.1 -28.1l6.7 -16.6l7.5 -14.9l8.3 -13.1M996.1 726.8l6.6 -6.1l5.2 -6.9l4.4 -8.3l3.5 -9.6l4.4 -18.4l8.1 -49.9l4.5 -20.4M1033.1 921.4l3.9 -11l4.8 -9.3l6.4 -8.7l8.1 -8.4M1044.0 685.2l8.3 -13.1l7.5 -15.2l6.7 -17.2l11.2 -32.1M1077.9 922.0l6.3 -16.7l6.2 -13.6l6.5 -12l7.5 -11.2M1188.2 648.4l7.2 -9.4l5.9 -9.5l5.1 -10.4l4.5 -12.1M1211.2 921.4l4.8 -16.2l9.9 -38.5l5.4 -17.2l3.7 -9.1l4.2 -8.1l4.6 -7.1l5.2 -6.4M1205.9 645.0l8.1 -8.6l6.1 -8.6l4.8 -9.4l4 -11M1229.1 921.6l4.6 -19.9l8.3 -49.2l4.6 -18.8l3.5 -9.4l4.4 -8.2l5.2 -7l6.4 -5.9M1238.7 645.8l6.8 -6M1295.6 800.8l5.9 -4.3M1276.6 644.6l8.3 -8.3l6.4 -8.3l4.8 -9.2l3.9 -11.4M1300.2 921.6l4.4 -21.2l7.4 -51.3l4.4 -19.4l3.5 -9.6l4.4 -8l5.4 -6.8l6.8 -5.8M1294.7 655.0l8.3 -11.3M1352.2 836.7l7 -9.3M738.0 913.3l3.7 -8.2l4.6 -7.9l5.3 -7.1l6.3 -7.1M1325.8 720.8l5.9 -6.3l4.8 -6.8l4.2 -7.9l3.7 -9.7l4.8 -17.9l9 -45.3l5 -19.8M1363.4 921.4l4.6 -12.2"/>
<path stroke="#2400ff" d="M867.5 648.6l4.4 2.1l3.7 3.3M902.9 752.2l3.5 3.8l4.2 2.9M1073.1 759.7l3.9 1.2l3.1 1.7l2.6 2.3l2.2 3.1M1103.8 877.8l2.4 2.8l2.8 1.9l3.3 1l4.2 .3M941.4 642.9l7.2 -2.8M984.3 781.5l6.3 -1.3M1245.5 639.8l5 -5.3l4.2 -5.4M1287.7 809.4l3.7 -4.6l4.2 -3.9M1303.0 643.7l6.6 -11.1l5.7 -12M1341.5 857.4l5 -10.9l5.7 -9.7"/>
<path stroke="#5000ff" d="M875.6 654.0l4.2 6.7l3.5 10l3 13.7l5.7 34l2.8 13.9l3.8 11.9l4.3 8M1084.9 768.0l3.3 8.4l2.6 13.8l5.3 54.4l1.9 15.1l2.4 10.7l3.3 7.4M948.7 640.1l8.8 -2.2M976.2 782.6l8.1 -1.1M1254.7 629.1l5.2 -9.5l4.2 -12.1M1264.3 921.6l3.1 -14.7M1275.9 844.1l2.2 -11l2.6 -9.4l3.1 -7.6l3.9 -6.7M1315.3 620.7l5 -13.1M1320.5 922.0l14.4 -46.5l6.6 -18.1"/>
<path stroke="#7c00ff" d="M957.4 637.9l3.7 .5l2.2 2.2l1.3 4.1l.9 7.4M968.1 768.0l.9 7.4l1.3 4.1l2.2 2.3l3.7 .7M1267.4 906.9l8.5 -62.8"/>
</g>
<path fill="#f80" d="M842.0 863.4h2.4v2.4h-2.4zM1125.1 636.9h2.4v2.4h-2.4zM1158.3 663.4h2.4v2.4h-2.4zM1313.9 762.2h2.4v2.4h-2.4zM873.1 758.4h2.4v2.4h-2.4zM899.8 741.6h2.4v2.4h-2.4zM1025.3 821.4h2.4v2.4h-2.4zM1115.9 891.9h2.4v2.4h-2.4zM1117.2 892.3h2.4v2.4h-2.4zM906.5 875.5h2.4v2.4h-2.4zM955.3 861.8h2.4v2.4h-2.4zM1259.6 657.5h2.4v2.4h-2.4zM1260.7 658.4h2.4v2.4h-2.4zM1270.5 666.2h2.4v2.4h-2.4zM960.8 766.0h2.4v2.4h-2.4zM856.9 787.2h2.4v2.4h-2.4zM1361.5 708.4h2.4v2.4h-2.4zM1246.5 818.8h2.4v2.4h-2.4zM826.7 634.1h2.4v2.4h-2.4zM1015.5 756.2h2.4v2.4h-2.4zM1016.4 756.3h2.4v2.4h-2.4zM1183.0 853.3h2.4v2.4h-2.4zM1333.5 845.3h2.4v2.4h-2.4zM1333.8 845.5h2.4v2.4h-2.4zM830.6 885.5h2.4v2.4h-2.4zM831.1 885.8h2.4v2.4h-2.4zM839.0 891.8h2.4v2.4h-2.4zM1110.9 672.6h2.4v2.4h-2.4zM1278.4 769.2h2.4v2.4h-2.4zM1175.8 783.1h2.4v2.4h-2.4zM1313.0 878.6h2.4v2.4h-2.4zM926.5 817.9h2.4v2.4h-2.4zM931.3 821.0h2.4v2.4h-2.4zM1297.9 645.4h2.4v2.4h-2.4zM1029.0 719.4h2.4v2.4h-2.4zM1030.6 720.3h2.4v2.4h-2.4zM1341.6 753.4h2.4v2.4h-2.4zM870.5 679.8h2.4v2.4h-2.4zM1043.0 773.9h2.4v2.4h-2.4zM1044.8 774.0h2.4v2.4h-2.4zM1081.8 677.0h2.4v2.4h-2.4zM916.2 783.4h2.4v2.4h-2.4zM1360.7 695.9h2.4v2.4h-2.4zM823.0 710.1h2.4v2.4h-2.4zM823.4 709.9h2.4v2.4h-2.4zM884.7 722.8h2.4v2.4h-2.4zM1073.9 806.3h2.4v2.4h-2.4zM895.4 719.3h2.4v2.4h-2.4zM943.7 743.8h2.4v2.4h-2.4zM1174.3 810.1h2.4v2.4h-2.4zM1301.8 789.2h2.4v2.4h-2.4zM1173.2 688.9h2.4v2.4h-2.4zM1206.0 692.0h2.4v2.4h-2.4zM1210.6 689.2h2.4v2.4h-2.4zM786.0 793.0h2.4v2.4h-2.4zM828.2 828.7h2.4v2.4h-2.4zM1273.0 741.5h2.4v2.4h-2.4zM1274.7 741.2h2.4v2.4h-2.4zM1275.4 741.1h2.4v2.4h-2.4z" clip-path="url(#clipAT)"/>
<path fill="#f00" d="M848.6 860.0h2.4v2.4h-2.4zM1113.7 629.2h2.4v2.4h-2.4zM1119.0 632.6h2.4v2.4h-2.4zM1119.8 633.2h2.4v2.4h-2.4zM1153.5 659.6h2.4v2.4h-2.4zM1158.1 663.2h2.4v2.4h-2.4zM1159.2 664.1h2.4v2.4h-2.4zM765.2 646.6h2.4v2.4h-2.4zM898.9 741.2h2.4v2.4h-2.4zM1025.8 821.6h2.4v2.4h-2.4zM1115.2 891.6h2.4v2.4h-2.4zM1262.0 691.3h2.4v2.4h-2.4zM952.0 863.5h2.4v2.4h-2.4zM1264.6 661.6h2.4v2.4h-2.4zM1128.1 871.0h2.4v2.4h-2.4zM1134.5 876.0h2.4v2.4h-2.4zM1143.9 883.6h2.4v2.4h-2.4zM1266.0 634.8h2.4v2.4h-2.4zM1250.0 821.0h2.4v2.4h-2.4zM1343.0 892.4h2.4v2.4h-2.4zM825.0 632.8h2.4v2.4h-2.4zM841.4 645.4h2.4v2.4h-2.4zM842.9 646.7h2.4v2.4h-2.4zM849.9 652.1h2.4v2.4h-2.4zM851.2 653.2h2.4v2.4h-2.4zM1044.8 657.2h2.4v2.4h-2.4zM1344.7 853.7h2.4v2.4h-2.4zM880.3 631.1h2.4v2.4h-2.4zM945.9 681.9h2.4v2.4h-2.4zM1175.6 783.0h2.4v2.4h-2.4zM1025.8 892.7h2.4v2.4h-2.4zM1027.1 893.0h2.4v2.4h-2.4zM924.7 638.0h2.4v2.4h-2.4zM1154.0 799.0h2.4v2.4h-2.4zM885.8 848.1h2.4v2.4h-2.4zM1155.3 634.8h2.4v2.4h-2.4zM1249.8 773.1h2.4v2.4h-2.4zM915.1 783.5h2.4v2.4h-2.4zM1085.3 802.4h2.4v2.4h-2.4zM1087.9 801.4h2.4v2.4h-2.4zM1126.4 831.9h2.4v2.4h-2.4zM1300.7 789.4h2.4v2.4h-2.4zM1301.2 789.3h2.4v2.4h-2.4zM1133.4 695.1h2.4v2.4h-2.4zM1136.9 693.0h2.4v2.4h-2.4zM1138.4 692.1h2.4v2.4h-2.4z" clip-path="url(#clipAT)"/>
<path fill="#000" d="M850.1 859.2h2.4v2.4h-2.4zM1113.0 628.7h2.4v2.4h-2.4zM1129.2 640.0h2.4v2.4h-2.4zM1129.9 640.5h2.4v2.4h-2.4zM1149.8 656.6h2.4v2.4h-2.4zM1155.0 660.8h2.4v2.4h-2.4zM1165.3 668.7h2.4v2.4h-2.4zM1165.8 669.1h2.4v2.4h-2.4zM1166.0 669.2h2.4v2.4h-2.4zM1311.9 761.8h2.4v2.4h-2.4zM1316.9 762.9h2.4v2.4h-2.4zM875.5 759.1h2.4v2.4h-2.4zM1016.1 848.5h2.4v2.4h-2.4zM1077.6 895.9h2.4v2.4h-2.4zM1348.0 659.7h2.4v2.4h-2.4zM763.9 646.9h2.4v2.4h-2.4zM767.0 646.3h2.4v2.4h-2.4zM769.2 645.8h2.4v2.4h-2.4zM769.8 645.7h2.4v2.4h-2.4zM904.8 743.9h2.4v2.4h-2.4zM905.9 744.4h2.4v2.4h-2.4zM1022.0 819.2h2.4v2.4h-2.4zM1115.5 891.7h2.4v2.4h-2.4zM1122.2 893.9h2.4v2.4h-2.4zM764.4 774.6h2.4v2.4h-2.4zM769.2 776.4h2.4v2.4h-2.4zM911.4 873.9h2.4v2.4h-2.4zM1184.1 631.5h2.4v2.4h-2.4zM1190.7 634.8h2.4v2.4h-2.4zM1254.6 686.0h2.4v2.4h-2.4zM1255.2 686.5h2.4v2.4h-2.4zM1262.2 691.5h2.4v2.4h-2.4zM793.5 762.7h2.4v2.4h-2.4zM957.3 860.8h2.4v2.4h-2.4zM1223.1 629.7h2.4v2.4h-2.4zM1225.7 631.3h2.4v2.4h-2.4zM1233.6 636.8h2.4v2.4h-2.4zM1270.1 665.9h2.4v2.4h-2.4zM1275.1 669.7h2.4v2.4h-2.4zM798.5 669.8h2.4v2.4h-2.4zM799.1 669.4h2.4v2.4h-2.4zM802.9 667.4h2.4v2.4h-2.4zM965.2 766.8h2.4v2.4h-2.4zM1120.5 865.0h2.4v2.4h-2.4zM1129.7 872.2h2.4v2.4h-2.4zM1160.5 895.9h2.4v2.4h-2.4zM853.8 785.7h2.4v2.4h-2.4zM856.0 786.8h2.4v2.4h-2.4zM984.2 882.4h2.4v2.4h-2.4zM989.2 881.6h2.4v2.4h-2.4zM1263.1 634.0h2.4v2.4h-2.4zM1263.5 634.1h2.4v2.4h-2.4zM1360.9 707.9h2.4v2.4h-2.4zM1363.3 709.5h2.4v2.4h-2.4zM1363.5 709.6h2.4v2.4h-2.4zM989.2 645.6h2.4v2.4h-2.4zM1127.0 742.0h2.4v2.4h-2.4zM1244.3 817.4h2.4v2.4h-2.4zM1345.1 893.0h2.4v2.4h-2.4zM822.1 630.8h2.4v2.4h-2.4zM831.5 637.8h2.4v2.4h-2.4zM851.9 653.7h2.4v2.4h-2.4zM1014.0 756.0h2.4v2.4h-2.4zM1016.1 756.3h2.4v2.4h-2.4zM1018.5 756.6h2.4v2.4h-2.4zM1187.4 850.8h2.4v2.4h-2.4zM773.8 897.4h2.4v2.4h-2.4zM1039.3 659.6h2.4v2.4h-2.4zM1040.9 658.9h2.4v2.4h-2.4zM1198.1 758.7h2.4v2.4h-2.4zM1331.6 843.9h2.4v2.4h-2.4zM1331.8 844.0h2.4v2.4h-2.4zM1341.2 851.0h2.4v2.4h-2.4zM876.8 629.5h2.4v2.4h-2.4zM879.9 630.9h2.4v2.4h-2.4zM949.6 684.7h2.4v2.4h-2.4zM954.9 688.4h2.4v2.4h-2.4zM1083.1 770.5h2.4v2.4h-2.4zM1087.0 771.9h2.4v2.4h-2.4zM1239.0 870.0h2.4v2.4h-2.4zM1239.3 869.9h2.4v2.4h-2.4zM814.9 873.0h2.4v2.4h-2.4zM819.0 876.3h2.4v2.4h-2.4zM837.6 890.8h2.4v2.4h-2.4zM840.0 892.6h2.4v2.4h-2.4zM841.6 893.7h2.4v2.4h-2.4zM1109.8 673.2h2.4v2.4h-2.4zM1278.9 769.3h2.4v2.4h-2.4zM956.0 632.5h2.4v2.4h-2.4zM1051.1 704.0h2.4v2.4h-2.4zM1170.6 780.7h2.4v2.4h-2.4zM1171.5 781.1h2.4v2.4h-2.4zM1177.6 783.8h2.4v2.4h-2.4zM1313.2 878.6h2.4v2.4h-2.4zM809.0 742.2h2.4v2.4h-2.4zM923.2 815.8h2.4v2.4h-2.4zM1027.5 893.1h2.4v2.4h-2.4zM1297.5 645.5h2.4v2.4h-2.4zM919.7 637.4h2.4v2.4h-2.4zM924.0 637.9h2.4v2.4h-2.4zM1034.3 722.5h2.4v2.4h-2.4zM1149.8 796.7h2.4v2.4h-2.4zM1272.5 886.7h2.4v2.4h-2.4zM883.4 849.6h2.4v2.4h-2.4zM884.7 848.8h2.4v2.4h-2.4zM889.0 846.2h2.4v2.4h-2.4zM1154.8 634.5h2.4v2.4h-2.4zM1162.3 640.2h2.4v2.4h-2.4zM1166.2 643.2h2.4v2.4h-2.4zM1340.1 753.2h2.4v2.4h-2.4zM867.8 681.4h2.4v2.4h-2.4zM870.0 680.1h2.4v2.4h-2.4zM1044.6 774.0h2.4v2.4h-2.4zM1045.2 774.1h2.4v2.4h-2.4zM799.4 883.8h2.4v2.4h-2.4zM799.6 884.0h2.4v2.4h-2.4zM809.6 891.7h2.4v2.4h-2.4zM1076.1 680.4h2.4v2.4h-2.4zM1246.9 772.9h2.4v2.4h-2.4zM1253.3 773.4h2.4v2.4h-2.4zM784.5 849.1h2.4v2.4h-2.4zM790.2 845.7h2.4v2.4h-2.4zM1242.5 752.6h2.4v2.4h-2.4zM913.8 783.6h2.4v2.4h-2.4zM918.4 783.2h2.4v2.4h-2.4zM1360.2 696.1h2.4v2.4h-2.4zM818.2 712.6h2.4v2.4h-2.4zM819.0 712.1h2.4v2.4h-2.4zM820.8 711.3h2.4v2.4h-2.4zM1012.2 794.6h2.4v2.4h-2.4zM879.2 724.9h2.4v2.4h-2.4zM1074.1 806.2h2.4v2.4h-2.4zM1076.7 805.1h2.4v2.4h-2.4zM894.7 719.6h2.4v2.4h-2.4zM895.8 719.1h2.4v2.4h-2.4zM1091.4 800.1h2.4v2.4h-2.4zM1092.0 799.9h2.4v2.4h-2.4zM940.2 744.0h2.4v2.4h-2.4zM1127.7 831.1h2.4v2.4h-2.4zM1128.4 830.7h2.4v2.4h-2.4zM978.7 728.9h2.4v2.4h-2.4zM1169.7 812.3h2.4v2.4h-2.4zM1169.9 812.2h2.4v2.4h-2.4zM1175.2 809.7h2.4v2.4h-2.4zM1111.7 705.5h2.4v2.4h-2.4zM1305.5 788.6h2.4v2.4h-2.4zM1130.8 696.7h2.4v2.4h-2.4zM1318.0 783.0h2.4v2.4h-2.4zM1319.3 782.9h2.4v2.4h-2.4zM1319.8 782.9h2.4v2.4h-2.4zM1169.0 691.5h2.4v2.4h-2.4zM1347.3 781.1h2.4v2.4h-2.4zM1350.6 780.9h2.4v2.4h-2.4zM754.7 782.0h2.4v2.4h-2.4zM759.1 781.7h2.4v2.4h-2.4zM1204.9 692.7h2.4v2.4h-2.4zM788.2 792.5h2.4v2.4h-2.4zM1220.9 710.8h2.4v2.4h-2.4zM1222.2 710.1h2.4v2.4h-2.4zM831.5 826.8h2.4v2.4h-2.4zM1268.4 742.0h2.4v2.4h-2.4z" clip-path="url(#clipAT)"/>
<path fill="#ff0" d="M1148.3 655.3h2.4v2.4h-2.4zM1155.9 661.5h2.4v2.4h-2.4zM1160.7 665.2h2.4v2.4h-2.4zM1314.7 762.4h2.4v2.4h-2.4zM1315.6 762.6h2.4v2.4h-2.4zM1317.4 763.0h2.4v2.4h-2.4zM1070.2 891.4h2.4v2.4h-2.4zM1353.0 657.4h2.4v2.4h-2.4zM764.4 646.8h2.4v2.4h-2.4zM767.0 775.6h2.4v2.4h-2.4zM1189.0 633.9h2.4v2.4h-2.4zM1261.8 691.2h2.4v2.4h-2.4zM1235.5 638.2h2.4v2.4h-2.4zM1268.4 664.5h2.4v2.4h-2.4zM800.0 668.9h2.4v2.4h-2.4zM1130.3 872.7h2.4v2.4h-2.4zM1156.1 892.9h2.4v2.4h-2.4zM1268.1 635.4h2.4v2.4h-2.4zM1121.6 739.4h2.4v2.4h-2.4zM1341.4 891.9h2.4v2.4h-2.4zM827.8 634.9h2.4v2.4h-2.4zM832.0 638.1h2.4v2.4h-2.4zM842.2 646.1h2.4v2.4h-2.4zM1042.4 658.2h2.4v2.4h-2.4zM1045.2 657.0h2.4v2.4h-2.4zM1195.1 757.8h2.4v2.4h-2.4zM1197.7 758.6h2.4v2.4h-2.4zM1341.4 851.2h2.4v2.4h-2.4zM1083.5 770.7h2.4v2.4h-2.4zM1087.9 772.2h2.4v2.4h-2.4zM823.9 880.1h2.4v2.4h-2.4zM824.7 880.8h2.4v2.4h-2.4zM828.9 884.1h2.4v2.4h-2.4zM957.7 633.0h2.4v2.4h-2.4zM1047.2 701.4h2.4v2.4h-2.4zM802.6 739.1h2.4v2.4h-2.4zM1023.1 892.0h2.4v2.4h-2.4zM1301.8 644.7h2.4v2.4h-2.4zM921.0 637.5h2.4v2.4h-2.4zM924.9 638.1h2.4v2.4h-2.4zM1031.5 720.8h2.4v2.4h-2.4zM1154.2 799.1h2.4v2.4h-2.4zM1252.8 773.3h2.4v2.4h-2.4zM783.2 849.9h2.4v2.4h-2.4zM1243.9 752.7h2.4v2.4h-2.4zM1246.5 752.8h2.4v2.4h-2.4zM1247.6 752.9h2.4v2.4h-2.4zM1074.3 806.1h2.4v2.4h-2.4zM1075.6 805.5h2.4v2.4h-2.4zM1076.1 805.4h2.4v2.4h-2.4zM896.5 718.8h2.4v2.4h-2.4zM1086.6 801.9h2.4v2.4h-2.4zM1115.5 703.4h2.4v2.4h-2.4zM1134.9 694.2h2.4v2.4h-2.4zM1313.6 783.5h2.4v2.4h-2.4zM783.8 793.5h2.4v2.4h-2.4zM786.7 792.8h2.4v2.4h-2.4zM1221.3 710.6h2.4v2.4h-2.4z" clip-path="url(#clipAT)"/>
<path fill="#ffdc00" d="M957.3 860.8h2.4v2.4h-2.4zM1127.0 742.0h2.4v2.4h-2.4z" clip-path="url(#clipAT)"/>
<path fill="#ffb000" d="M954.9 688.4h2.4v2.4h-2.4z" clip-path="url(#clipAT)"/>
<path fill="#0008ff" d="M790.2 778.2h2.4v2.4h-2.4zM790.4 782.4h2.4v2.4h-2.4zM790.6 787.3h2.4v2.4h-2.4zM790.8 793.1h2.4v2.4h-2.4zM791.0 799.8h2.4v2.4h-2.4zM791.3 807.3h2.4v2.4h-2.4zM791.5 815.4h2.4v2.4h-2.4zM791.7 823.6h2.4v2.4h-2.4zM791.9 831.6h2.4v2.4h-2.4zM792.1 838.9h2.4v2.4h-2.4zM792.4 845.4h2.4v2.4h-2.4zM792.6 851.0h2.4v2.4h-2.4zM792.8 855.8h2.4v2.4h-2.4zM793.0 859.8h2.4v2.4h-2.4zM1172.1 668.5h2.4v2.4h-2.4zM1172.3 672.8h2.4v2.4h-2.4zM1172.5 677.9h2.4v2.4h-2.4zM1172.8 683.9h2.4v2.4h-2.4zM1173.0 690.7h2.4v2.4h-2.4zM1173.2 698.4h2.4v2.4h-2.4zM1173.4 706.5h2.4v2.4h-2.4zM1173.6 714.7h2.4v2.4h-2.4zM1173.9 722.6h2.4v2.4h-2.4zM1174.1 729.8h2.4v2.4h-2.4zM1174.3 736.1h2.4v2.4h-2.4zM1174.5 741.5h2.4v2.4h-2.4zM1174.7 746.1h2.4v2.4h-2.4zM1175.0 750.0h2.4v2.4h-2.4zM1320.4 763.3h2.4v2.4h-2.4zM1320.6 768.1h2.4v2.4h-2.4zM1320.9 775.0h2.4v2.4h-2.4zM1321.1 785.1h2.4v2.4h-2.4zM1321.3 799.7h2.4v2.4h-2.4zM1321.5 818.3h2.4v2.4h-2.4zM1321.7 836.8h2.4v2.4h-2.4zM1322.0 851.1h2.4v2.4h-2.4zM1322.2 861.0h2.4v2.4h-2.4zM1322.4 867.7h2.4v2.4h-2.4zM1322.6 872.5h2.4v2.4h-2.4z" clip-path="url(#clipAT)"/>
<path fill="#7c00ff" d="M964.5 654.3h2.4v2.4h-2.4zM964.7 659.0h2.4v2.4h-2.4zM965.0 665.8h2.4v2.4h-2.4zM965.2 675.8h2.4v2.4h-2.4zM965.4 690.3h2.4v2.4h-2.4zM965.6 708.9h2.4v2.4h-2.4zM965.8 727.4h2.4v2.4h-2.4zM966.0 741.9h2.4v2.4h-2.4zM966.3 751.9h2.4v2.4h-2.4zM966.5 758.7h2.4v2.4h-2.4zM966.7 763.4h2.4v2.4h-2.4z" clip-path="url(#clipAT)"/>
<path fill="#72ff00" d="M1366.8 692.1h2.4v2.4h-2.4z" clip-path="url(#clipAT)"/>
<g fill="none" stroke-width="2.1" stroke-linejoin="round" stroke-linecap="round" clip-path="url(#clipEA)">
<path stroke="#ffb000" d="M651.7 1310.8l-.2 -.5M369.6 1310.8l-.2 -.6M256.7 1310.6l.3 .5M426.6 1310.8l0 -.7"/>
<path stroke="#ffdc00" d="M191.0 1306.8l1.2 2.7M653.1 1309.6l-2.5 -3.2M575.1 1306.6l-2.9 2.9M387.1 1309.1l-.4 -2.7M616.7 1309.1l.5 -3.2M422.8 1306.8l-1 2.9M272.1 1309.4l-2 -3.4M123.5 1306.7l-.6 3M385.2 1307.1l-.1 -.7M651.3 1307.0l-.5 -.7M571.5 1306.6l-.3 .3M619.5 1306.6l.1 -.6M275.9 1306.7l-.3 -.5M649.1 1308.8l-3.8 -2.3M607.3 1306.6l-4.1 2.2M398.6 1308.6l-.3 -2.7M208.3 1306.8l.8 1.6M117.2 1306.8l-1.4 2.8M591.4 1309.4l1.2 -3.5M393.7 1307.0l-.6 2.6M222.8 1309.9l-2.8 -3.6M651.5 1310.3l-1.7 -4M536.6 1306.7l-2.8 3.9M369.5 1310.1l-.9 -3.8M169.7 1306.8l1.1 3.6M645.7 1307.3l-.3 -1.2M502.8 1306.8l-.3 .5M349.1 1307.5l-.4 -1.2M153.3 1306.8l.1 .6M427.6 1306.7l-1.3 3.4M279.0 1309.9l-1.9 -3.5M124.8 1307.0l-.5 3.1M619.5 1310.0l.5 -3.9M217.2 1306.6l1.1 2.1M641.7 1309.1l-8.7 -1.1l-8.8 1M404.2 1308.7l-.2 -2.8M547.8 1307.7l.8 -1.6M362.5 1306.9l0 .7M143.0 1308.9l-8.1 -.8l-7.8 .8M549.8 1308.5l1.1 -2.1M364.0 1306.8l-.1 2.1M460.9 1309.0l.6 -2.6M299.9 1306.8l.5 1.9M471.5 1308.8l.7 -2.5M310.3 1306.8l.4 2M422.5 1309.3l.1 -3.5M248.1 1306.8l1 2.1M452.9 1308.0l.4 -2M290.9 1306.9l.4 1.2M499.6 1310.2l1.7 -4M333.2 1307.2l.3 2.8M517.2 1309.8l1.8 -3.8M344.6 1307.0l.1 2.8M325.2 1306.5l.4 2.7M489.0 1309.7l1.3 -3.5M254.9 1306.8l1.8 3.8M426.7 1310.1l.2 -4.2"/>
<path stroke="#f6ff00" d="M188.9 1301.8l2.1 5M650.6 1306.4l-4.6 -5.1M580.8 1301.5l-5.7 5.1M386.7 1306.5l-.8 -5.4M392.8 1301.7l-.4 2M213.7 1303.6l-1.9 -2.2M120.0 1301.6l-1.3 2.1M591.3 1303.4l.8 -2.3M617.2 1305.9l.7 -4.5M424.6 1301.4l-1.8 5.3M270.2 1306.0l-2.8 -4.9M124.5 1301.9l-1 4.8M361.3 1302.7l-.5 -1.9M162.6 1301.6l.3 1.2M647.5 1303.2l-.8 -2.1M528.5 1301.8l-.9 1.3M385.1 1306.4l-.8 -5.4M187.0 1302.0l2.1 5M650.7 1306.3l-4.2 -5.1M576.8 1301.6l-5.3 5M571.0 1305.7l1.9 -4.3M377.3 1302.0l-.4 3.4M180.6 1305.9l-6.4 -4.6M123.9 1301.6l-5.2 4.4M339.2 1304.4l-1.3 -3.5M147.1 1301.6l.3 2.6M642.6 1304.6l-.7 -3.7M492.8 1301.9l-1.4 2.5M619.5 1305.9l.6 -4.6M428.3 1301.9l-1.7 4.7M275.6 1306.2l-2.8 -5M125.6 1301.5l-.9 4.9M645.3 1306.5l-8.8 -3.6l-4.8 -.9l-4.7 -.3l-4.9 .3l-4.8 .9l-9.9 3.8M398.3 1305.9l-.4 -4.9M205.7 1301.5l2.6 5.3M120.0 1301.5l-2.9 5.3M592.6 1305.9l1.6 -4.7M394.8 1301.8l-1.1 5.2M220.0 1306.3l-4.1 -5.1M649.8 1306.3l-2.4 -5.3M540.3 1301.7l-3.7 5M368.5 1306.4l-1.2 -5.1M168.3 1302.0l1.4 4.8M164.6 1304.7l-7.6 -3.4M129.9 1301.5l-6.8 3.4M564.2 1304.7l1.8 -3.7M372.4 1301.5l-.3 2.8M645.4 1306.1l-1.3 -5.2M506.0 1301.5l-3.2 5.3M348.7 1306.3l-1.7 -5.4M152.5 1301.7l.9 5.1M429.2 1302.0l-1.7 4.7M277.1 1306.4l-2.8 -5M125.8 1301.5l-1 5.5M620.1 1306.2l.6 -5.2M635.8 1303.5l-.2 -2.6M466.3 1301.9l-.8 1.6M317.2 1303.4l-1 -2.2M137.2 1301.7l0 1.3M214.8 1301.9l2.4 4.7M404.0 1305.9l-.3 -4.9M548.6 1306.2l2.6 -5.2M362.7 1302.0l-.2 4.9M550.9 1306.4l2.6 -5.2M364.3 1301.9l-.3 4.9M217.1 1301.5l2.1 4.2M405.5 1305.5l-.2 -4.2M344.0 1301.5l.2 4.2M518.4 1306.1l2.4 -4.8M485.4 1306.1l1.8 -4.8M320.6 1301.9l.7 4.1M461.5 1306.4l1.3 -5.2M298.4 1301.7l1.4 5.1M472.2 1306.3l1.5 -5M309.1 1301.5l1.2 5.3M422.6 1305.8l.2 -5M245.5 1301.5l2.6 5.4M453.3 1306.0l1 -4.7M289.2 1302.0l1.6 4.9M501.3 1306.2l2.2 -5.1M332.6 1301.6l.6 5.6M519.0 1306.0l2.4 -4.8M344.4 1302.1l.2 4.9M527.7 1302.6l.8 -1.6M348.7 1301.5l0 .7M347.2 1302.0l0 .7M525.2 1302.5l.8 -1.6M324.5 1301.7l.7 4.8M490.4 1306.1l2.1 -5.3M252.6 1301.9l2.3 4.9M426.9 1305.9l.3 -4.9"/>
<path stroke="#caff00" d="M186.6 1296.2l2.3 5.6M646.1 1301.3l-6.1 -5.4M588.0 1296.1l-7.2 5.4M385.9 1301.1l-.8 -5.5M393.8 1296.4l-1 5.3M211.8 1301.4l-5.3 -5.7M123.7 1296.0l-3.7 5.5M592.1 1301.1l1.8 -5.3M617.9 1301.4l.8 -5.9M426.4 1296.0l-1.8 5.4M267.3 1301.1l-3.2 -5.4M125.9 1296.1l-1.4 5.9M360.8 1300.8l-1.3 -5.1M161.2 1296.0l1.4 5.6M646.7 1301.1l-2.3 -5.5M532.6 1296.1l-4 5.7M384.3 1301.1l-.8 -5.5M184.7 1296.3l2.2 5.6M646.5 1301.2l-5.4 -5.3M583.6 1296.1l-6.8 5.5M573.0 1301.4l2.4 -5.5M378.0 1296.4l-.6 5.5M174.2 1301.3l-10.4 -5.4M133.2 1296.1l-4.6 2.3l-4.7 3.2M337.9 1300.9l-1.9 -5.4M146.5 1296.3l.6 5.3M641.9 1301.0l-1.1 -5.4M495.9 1296.4l-3.1 5.5M620.1 1301.4l.7 -5.9M430.1 1296.5l-1.9 5.4M272.8 1301.2l-3.1 -5.5M126.7 1296.1l-1.2 5.4M397.9 1301.0l-.4 -5.6M203.2 1296.2l2.5 5.3M123.3 1296.1l-3.3 5.4M594.2 1301.3l1.7 -5.3M395.9 1296.5l-1.1 5.3M215.8 1301.2l-4.9 -5.6M647.4 1301.0l-2.8 -5.5M544.8 1296.0l-4.5 5.7M367.3 1301.3l-1.3 -5.9M166.8 1296.5l1.6 5.5M157.0 1301.4l-6.9 -1.8l-7 -.6l-6.8 .7l-6.4 1.8M566.0 1301.0l2.5 -5.4M372.8 1296.6l-.4 4.9M644.1 1300.9l-1.4 -5.1M509.2 1296.2l-3.2 5.3M347.0 1300.9l-1.7 -5.5M151.6 1296.5l.8 5.2M431.3 1296.0l-2.1 6M274.3 1301.4l-3.1 -5.5M127.0 1296.1l-1.1 5.4M620.7 1301.0l.6 -5.3M635.7 1300.9l-.4 -5.2M468.9 1296.5l-2.6 5.4M316.2 1301.2l-2.4 -5.6M137.2 1296.5l0 5.3M212.0 1296.1l2.9 5.8M403.7 1301.0l-.3 -5.7M551.2 1300.9l2.6 -5.3M362.9 1296.4l-.2 5.7M553.5 1301.2l2.6 -5.3M364.5 1296.2l-.3 5.7M214.4 1296.3l2.6 5.3M405.3 1301.3l-.2 -5.7M343.7 1296.5l.3 5M520.7 1301.3l2.7 -5.4M487.2 1301.3l2 -5.4M319.6 1296.4l1 5.5M462.8 1301.2l1.4 -5.2M296.7 1296.0l1.7 5.8M473.8 1301.3l1.8 -5.7M307.8 1296.2l1.3 5.3M422.8 1300.8l.3 -5M242.8 1296.1l2.7 5.4M454.3 1301.3l1.3 -6.1M287.3 1296.5l1.9 5.6M503.5 1301.1l2.5 -5.6M331.9 1295.9l.7 5.6M521.4 1301.2l2.7 -5.4M344.1 1296.4l.3 5.7M528.5 1301.0l2.7 -5.3M348.6 1296.5l.2 5M347.0 1296.3l.2 5.7M526.0 1300.9l2.7 -5.3M323.6 1296.1l.9 5.5M492.4 1300.8l2.1 -5.3M250.0 1296.5l2.6 5.4M427.3 1300.9l.4 -5.7"/>
<path stroke="#9eff00" d="M184.4 1290.6l2.3 5.7M640.0 1295.9l-4.5 -3.1l-4.6 -2.4M598.1 1290.6l-10.2 5.6M385.1 1295.6l-.7 -5.6M394.8 1291.0l-1 5.4M206.5 1295.7l-5.4 -5.3M127.9 1290.6l-4.2 5.4M593.9 1295.8l1.9 -6M618.7 1295.5l.6 -5.3M428.2 1290.5l-1.8 5.5M264.1 1295.7l-3.2 -5.4M127.4 1290.9l-1.4 5.2M359.5 1295.7l-1.4 -5.9M160.1 1290.9l1.2 5M644.4 1295.6l-2.5 -5.3M536.7 1290.6l-4.1 5.5M383.5 1295.6l-.8 -5.6M182.5 1290.6l2.2 5.7M641.1 1295.9l-7.6 -5.5M592.4 1290.5l-8.7 5.5M575.4 1295.9l2.4 -5.5M378.6 1290.8l-.6 5.6M163.8 1295.9l-7.7 -2.3l-7.8 -.7l-7.6 .8l-7.4 2.4M336.0 1295.5l-1.9 -5.5M146.0 1291.0l.5 5.3M640.8 1295.5l-1.3 -5.4M499.0 1290.8l-3.1 5.6M620.8 1295.5l.5 -5.3M432.0 1291.0l-1.8 5.5M269.7 1295.7l-3.2 -5.5M128.0 1290.8l-1.3 5.3M397.5 1295.4l-.3 -5M200.6 1290.8l2.5 5.4M127.2 1290.8l-3.8 5.3M595.9 1295.9l1.9 -6M396.9 1291.1l-1 5.4M210.9 1295.6l-5 -5.2M644.6 1295.5l-3 -5.2M549.3 1290.5l-4.6 5.4M366.0 1295.4l-1.2 -5.3M165.3 1291.0l1.5 5.5M568.5 1295.6l2.5 -5.4M373.3 1291.0l-.5 5.7M642.7 1295.8l-1.7 -5.6M512.5 1290.9l-3.3 5.3M345.2 1295.4l-1.5 -5M150.8 1290.7l.8 5.9M433.2 1290.5l-1.9 5.5M271.2 1295.9l-3.2 -5.5M128.2 1290.7l-1.3 5.4M621.3 1295.7l.5 -5.3M635.3 1295.7l-.6 -5.8M471.5 1291.0l-2.6 5.5M313.8 1295.6l-2.2 -5.1M137.4 1290.5l-.1 6M209.3 1290.8l2.6 5.3M403.4 1295.3l-.2 -5M553.9 1295.7l2.6 -5.3M363.1 1290.6l-.2 5.7M556.2 1295.9l2.9 -5.8M364.8 1290.5l-.2 5.7M211.5 1290.5l2.9 5.8M405.0 1295.6l-.2 -5.8M524.2 1294.2l1.9 -3.8M343.3 1290.7l.4 5.7M523.4 1295.9l3 -5.9M489.2 1295.9l2.3 -6M318.6 1290.9l1 5.5M464.2 1295.9l1.6 -5.9M295.2 1290.8l1.6 5.1M475.6 1295.6l1.9 -5.7M306.5 1290.9l1.3 5.3M423.1 1295.8l.3 -5.8M240.1 1290.7l2.7 5.4M455.6 1295.3l1.2 -5.4M285.4 1290.9l1.9 5.6M506.0 1295.5l2.3 -5.1M331.3 1291.0l.6 5M524.1 1295.8l3 -5.9M343.7 1290.6l.4 5.8M531.2 1295.7l2.7 -5.3M348.4 1290.8l.2 5.8M346.7 1290.5l.3 5.8M528.7 1295.6l2.7 -5.3M322.7 1290.6l.9 5.6M494.6 1295.6l2.2 -5.3M247.1 1290.5l2.9 6M427.7 1295.2l.4 -5"/>
<path stroke="#72ff00" d="M182.0 1284.2l2.4 6.3M630.9 1290.3l-7.9 -2.6l-8.1 -.9l-8.2 1l-8.5 2.7M384.4 1290.0l-.8 -6.4M396.0 1284.1l-1.2 6.9M201.1 1290.4l-8.4 -6.8M134.6 1283.9l-6.7 6.8M595.8 1289.9l2 -6.7M619.3 1290.3l.7 -6.6M430.2 1284.2l-2 6.3M260.9 1290.3l-4.2 -6.8M129.4 1284.1l-2.1 6.8M358.1 1289.8l-1.6 -6.6M158.6 1283.9l1.5 7M641.9 1290.3l-3.7 -6.8M541.9 1284.0l-5.2 6.5M382.7 1290.1l-.8 -6.3M180.1 1284.3l2.4 6.4M633.5 1290.4l-5 -2.5l-4.8 -1.7l-4.9 -1l-5.3 -.4l-5 .4l-5.4 1.1l-5.4 1.8l-5.3 2.4M577.8 1290.4l2.8 -6.8M379.2 1284.4l-.6 6.4M334.2 1290.0l-2.3 -6.8M145.5 1284.4l.5 6.7M639.6 1290.2l-1.7 -6.4M502.8 1284.3l-3.8 6.6M621.3 1290.2l.6 -6.7M434.3 1284.2l-2.3 6.8M266.5 1290.2l-3.8 -6.5M129.8 1284.4l-1.7 6.4M397.1 1290.4l-.4 -7.2M197.6 1284.3l3 6.5M133.0 1284.0l-5.9 6.7M597.8 1289.9l2 -6.7M398.2 1284.3l-1.3 6.8M205.9 1290.4l-7.6 -6.8M641.6 1290.3l-4.6 -6.8M555.4 1284.0l-6 6.5M364.8 1290.1l-1.4 -6.8M163.5 1284.1l1.8 6.9M571.0 1290.2l3 -6.6M373.7 1284.5l-.5 6.5M641.0 1290.2l-2.3 -6.5M516.8 1284.2l-4.3 6.6M343.7 1290.4l-2.1 -7M149.9 1284.1l.8 6.6M435.2 1284.4l-2.1 6.2M268.0 1290.3l-3.8 -6.5M129.9 1284.3l-1.7 6.4M621.8 1290.4l.5 -6.7M634.7 1289.9l-.8 -6.4M474.6 1284.3l-3.1 6.7M311.7 1290.4l-2.9 -7M137.6 1283.9l-.3 6.6M205.9 1283.9l3.4 7M403.2 1290.3l-.2 -6.5M556.5 1290.4l3.4 -7M363.3 1284.1l-.2 6.5M559.0 1290.1l3.1 -6.4M365.0 1284.0l-.2 6.5M208.4 1284.0l3.2 6.4M404.8 1289.9l-.1 -6.6M526.1 1290.4l3.5 -7M342.8 1284.2l.5 6.5M491.6 1289.9l2.6 -6.6M317.2 1284.0l1.4 6.9M465.8 1290.0l1.9 -6.6M293.2 1284.4l2 6.4M477.4 1289.9l2.1 -6.3M304.8 1284.2l1.7 6.7M423.5 1290.1l.5 -6.5M236.8 1284.3l3.3 6.5M456.8 1289.9l1.5 -6.1M282.9 1284.1l2.5 6.8M508.3 1290.4l3.1 -6.8M330.3 1283.9l1 7.1M527.0 1289.9l3.3 -6.5M343.3 1284.1l.5 6.5M533.9 1290.4l3.6 -6.9M348.0 1284.2l.3 6.6M346.3 1284.0l.4 6.5M531.4 1290.2l3.6 -7M321.6 1284.3l1.1 6.3M496.7 1290.3l3 -7M243.8 1283.9l3.2 6.5M428.1 1290.2l.6 -6.5"/>
<path stroke="#46ff00" d="M179.1 1276.6l2.8 7.6M383.6 1283.6l-.9 -7.9M397.3 1276.4l-1.3 7.7M192.7 1283.6l-6.4 -4.2l-6.6 -3.3M146.2 1276.2l-5.8 3.2l-5.8 4.5M597.8 1283.2l2.1 -7.4M620.0 1283.6l.7 -8M432.5 1276.5l-2.4 7.7M256.7 1283.5l-5 -7.7M132.2 1276.5l-2.7 7.6M356.5 1283.2l-1.7 -7.4M157.1 1276.2l1.5 7.8M638.3 1283.5l-4.9 -7.5M548.7 1276.4l-6.8 7.6M381.9 1283.7l-1 -7.9M177.4 1276.6l2.7 7.7M580.6 1283.6l3.2 -8M379.9 1276.4l-.7 8M331.9 1283.2l-2.5 -7.6M145.1 1276.3l.5 8.1M637.9 1283.8l-2.5 -8M507.6 1276.3l-4.8 8M621.9 1283.5l.5 -7.4M436.7 1276.6l-2.5 7.6M262.7 1283.7l-4.9 -7.9M132.3 1276.5l-2.5 7.9M396.7 1283.2l-.4 -7.3M194.1 1276.5l3.5 7.8M142.7 1276.2l-4.9 3.6l-4.7 4.3M599.7 1283.2l2.1 -7.4M399.5 1276.6l-1.4 7.7M198.3 1283.6l-11.1 -7.6M637.0 1283.6l-6.5 -7.6M563.8 1276.2l-8.4 7.7M363.4 1283.3l-1.5 -7.6M161.7 1276.5l1.8 7.6M573.9 1283.5l3.4 -7.8M374.3 1276.4l-.5 8M638.7 1283.6l-3.2 -7.8M522.2 1276.4l-5.4 7.9M341.6 1283.4l-2.3 -7.8M149.1 1276.7l.8 7.3M437.9 1276.1l-2.7 8.2M264.2 1283.8l-4.8 -8M132.4 1276.3l-2.5 8M622.3 1283.7l.5 -8.1M633.9 1283.4l-1.1 -7.7M478.4 1276.5l-3.8 7.8M308.7 1283.5l-3.2 -7.7M138.1 1276.6l-.5 7.3M202.3 1276.3l3.7 7.6M403.0 1283.7l-.2 -8.1M559.9 1283.4l3.7 -7.6M363.4 1276.7l-.1 7.4M562.2 1283.6l3.7 -7.6M365.1 1276.6l-.2 7.4M204.7 1276.5l3.7 7.6M404.7 1283.3l-.1 -7.4M529.7 1283.4l3.9 -7.6M342.1 1276.2l.7 8.1M494.2 1283.3l3.2 -7.8M315.6 1276.3l1.6 7.6M467.6 1283.4l2.4 -7.9M290.6 1276.8l2.5 7.7M479.6 1283.6l2.7 -7.6M302.6 1276.2l2.2 8M423.9 1283.5l.7 -8.1M232.7 1276.2l4.2 8.1M458.3 1283.8l2.1 -8.2M280.1 1276.7l2.8 7.4M511.4 1283.7l3.8 -7.9M329.3 1276.7l1.1 7.2M530.3 1283.4l3.9 -7.6M342.6 1276.8l.6 7.3M537.4 1283.5l3.9 -7.5M347.6 1276.8l.4 7.4M345.8 1276.6l.5 7.4M534.9 1283.3l3.9 -7.5M320.1 1276.5l1.5 7.7M499.7 1283.3l3.3 -7.6M239.9 1276.3l3.9 7.6M428.7 1283.7l.8 -8"/>
<path stroke="#1aff00" d="M176.4 1268.9l2.7 7.7M382.7 1275.7l-.8 -7.3M398.5 1268.5l-1.3 7.9M179.7 1276.1l-8.5 -2.7l-8.5 -.9l-8.4 .9l-8.2 2.8M600.0 1275.8l2 -7.5M620.7 1275.6l.5 -7.5M434.9 1268.6l-2.4 7.8M251.7 1275.8l-5.2 -7.4M135.5 1268.7l-3.3 7.8M354.8 1275.8l-1.7 -7.6M155.8 1268.9l1.3 7.2M633.4 1276.0l-6.2 -7.6M556.8 1268.6l-8.1 7.8M381.0 1275.8l-.9 -8.1M174.7 1268.8l2.7 7.8M583.8 1275.6l2.9 -7.6M380.5 1269.0l-.6 7.4M329.4 1275.6l-2.5 -7.7M144.8 1268.8l.2 7.5M635.4 1275.8l-2.8 -7.7M512.3 1268.9l-4.7 7.4M622.4 1276.1l.3 -8.1M439.2 1268.8l-2.5 7.7M257.8 1275.8l-5 -7.7M135.1 1268.9l-2.9 7.6M396.3 1275.8l-.3 -7.5M190.7 1268.6l3.4 7.9M169.3 1269.9l-7.1 -.3l-6.6 1l-6.4 2.1l-6.6 3.4M601.8 1275.8l2 -7.6M400.8 1268.7l-1.3 7.8M187.2 1276.1l-10.4 -4.5l-5.2 -1.3l-5.2 -.6M630.4 1276.0l-4.5 -4.1l-4.7 -3.4M574.7 1268.5l-10.9 7.7M361.9 1275.7l-1.5 -7.7M160.0 1268.8l1.7 7.7M577.3 1275.7l3.1 -7.4M374.7 1269.0l-.4 7.4M635.5 1275.8l-3.6 -7.4M527.7 1268.8l-5.6 7.6M339.3 1275.6l-2.1 -7.3M148.4 1268.7l.7 8.1M440.3 1269.1l-2.3 7.1M259.4 1275.8l-5 -7.8M135.2 1268.6l-2.8 7.7M622.8 1275.7l.3 -7.5M632.8 1275.7l-1.4 -7.6M482.3 1268.6l-3.9 7.9M305.5 1275.8l-3.3 -7.8M138.8 1268.6l-.7 7.9M198.6 1268.5l3.6 7.7M402.9 1275.6l-.1 -7.5M563.6 1275.8l3.7 -7.7M363.4 1269.2l0 7.5M565.8 1276.0l3.6 -7.7M365.2 1269.1l-.1 7.5M201.0 1268.8l3.7 7.7M404.6 1275.9l0 -7.5M533.5 1275.8l3.9 -7.6M341.4 1268.7l.7 7.4M497.4 1275.6l3.4 -7.7M313.8 1268.7l1.8 7.7M470.0 1275.5l2.3 -7.3M287.9 1269.1l2.7 7.7M482.2 1276.1l3 -8.2M300.4 1268.9l2.1 7.4M424.6 1275.4l.7 -7.4M228.7 1268.6l3.9 7.6M460.3 1275.6l2 -7.5M277.0 1268.7l3.2 8M515.2 1275.8l3.9 -7.9M328.0 1268.7l1.3 8M534.2 1275.9l3.9 -7.6M341.9 1268.6l.8 8.2M541.3 1276.0l3.9 -7.5M347.0 1268.6l.6 8.2M345.2 1269.2l.6 7.4M538.8 1275.8l3.9 -7.6M318.5 1268.8l1.6 7.8M503.0 1275.7l3.4 -7.6M236.0 1268.6l3.9 7.7M429.6 1275.7l.9 -7.4"/>
<path stroke="#00ff12" d="M173.6 1260.4l2.8 8.5M381.9 1268.4l-.9 -9M399.8 1260.4l-1.2 8M602.0 1268.3l2.3 -8.9M621.2 1268.1l.3 -8.2M437.6 1260.0l-2.6 8.6M246.6 1268.4l-6.4 -8.4M139.7 1260.4l-4.2 8.3M353.0 1268.2l-1.9 -8.4M154.4 1260.2l1.3 8.7M627.1 1268.4l-4.8 -4.6l-5.1 -3.9M568.3 1260.2l-5.6 3.8l-5.9 4.7M380.0 1267.7l-.9 -8.2M172.0 1260.2l2.8 8.6M586.7 1268.0l3.1 -8.3M381.2 1260.0l-.7 9M326.8 1267.9l-2.8 -8.5M144.7 1260.6l.1 8.2M632.6 1268.1l-3.6 -8.4M518.2 1260.4l-5.9 8.6M622.7 1268.0l.1 -8.2M442.0 1260.3l-2.8 8.5M252.8 1268.0l-5.9 -8.4M139.1 1260.1l-3.9 8.8M396.0 1268.4l-.3 -9.1M187.1 1260.0l3.6 8.6M603.7 1268.2l2 -8.4M402.3 1260.0l-1.4 8.7M621.3 1268.4l-5.6 -3.1l-5.4 -2.1l-5.6 -1.3l-6 -.4l-5.8 .4l-6.1 1.3l-6.1 2.3l-6 3M360.3 1268.0l-1.6 -8.6M158.3 1260.3l1.7 8.5M580.5 1268.3l3.5 -8.7M375.1 1260.7l-.4 8.3M631.9 1268.4l-5.1 -8.6M534.9 1260.0l-7.2 8.8M337.2 1268.3l-2.5 -8.8M147.9 1260.5l.5 8.2M443.0 1260.6l-2.8 8.5M254.3 1268.0l-5.9 -8.5M138.8 1260.3l-3.6 8.3M623.0 1268.2l.1 -8.9M631.4 1268.1l-1.9 -8.7M486.5 1260.2l-4.3 8.4M302.2 1268.0l-3.6 -8.4M139.9 1260.1l-1.1 8.6M194.8 1260.1l3.9 8.4M402.8 1268.1l0 -8.4M567.3 1268.1l3.9 -8.4M363.4 1260.1l0 9.1M569.5 1268.3l3.9 -8.4M365.3 1260.0l0 9.1M197.1 1260.4l3.9 8.4M404.6 1268.4l.1 -9.1M537.5 1268.2l4.6 -8.7M340.5 1260.5l.9 8.2M500.8 1267.9l3.7 -8.3M311.7 1260.2l2 8.4M472.3 1268.3l2.8 -8.6M284.7 1260.1l3.3 9M485.3 1267.9l3.2 -8.2M297.7 1260.1l2.7 8.7M425.3 1268.0l.9 -8.3M224.5 1260.5l4.3 8.2M462.3 1268.1l2.3 -8.2M273.4 1260.1l3.5 8.6M519.1 1267.9l4.2 -8.4M326.6 1260.7l1.4 8M538.1 1268.3l4.6 -8.7M341.0 1260.4l.9 8.2M545.2 1268.4l4.5 -8.7M346.3 1260.3l.7 8.3M344.4 1260.1l.8 9M542.7 1268.2l4.6 -8.7M316.6 1260.2l1.9 8.5M506.5 1268.1l3.8 -8.2M231.7 1260.4l4.3 8.2M430.4 1268.3l1.1 -8.9"/>
<path stroke="#00ff3e" d="M170.4 1250.5l3.1 9.9M381.1 1259.4l-.9 -9.9M605.2 1255.4l1.3 -5.9M401.3 1250.0l-1.5 10.4M604.3 1259.4l2.1 -9.1M621.5 1259.9l.1 -10.3M440.5 1250.5l-2.9 9.5M240.2 1259.9l-8.9 -10.1M146.2 1250.3l-6.5 10.1M351.2 1259.7l-2.2 -10.1M153.1 1250.1l1.3 10.2M617.2 1259.8l-5.7 -3.3l-5.9 -2.4l-5.8 -1.3l-6.2 -.4l-6.3 .5l-6.3 1.4l-6.2 2.4l-6.5 3.4M379.2 1259.5l-1 -9.9M168.9 1250.2l3 10M589.8 1259.7l3.6 -10.3M381.9 1250.0l-.7 10M324.0 1259.4l-3.3 -10M144.9 1250.3l-.2 10.3M629.0 1259.7l-5.5 -10.2M526.1 1250.1l-7.9 10.3M622.8 1259.8l-.1 -10.3M445.3 1250.3l-3.3 10M246.8 1259.7l-8 -10M144.7 1250.2l-5.6 9.9M395.7 1259.3l-.3 -10M183.0 1250.0l4.1 10M605.7 1259.8l2.3 -10.5M403.8 1250.4l-1.5 9.6M358.7 1259.4l-1.8 -9.5M156.6 1250.2l1.7 10M584.0 1259.6l3.9 -10.1M375.5 1249.9l-.4 10.8M626.9 1259.8l-7.6 -9.9M544.8 1250.0l-9.8 10M334.7 1259.5l-3 -10.3M147.5 1250.1l.4 10.3M446.6 1249.9l-3.5 10.6M248.4 1259.6l-7.6 -9.7M144.3 1250.2l-5.5 10.1M623.1 1259.3l-.2 -9.6M629.5 1259.4l-2.7 -9.7M491.9 1250.2l-5.4 10M298.6 1259.6l-4.6 -10.3M141.5 1250.3l-1.6 9.8M190.4 1250.4l4.3 9.7M402.7 1259.8l.1 -10.1M571.2 1259.8l4.7 -10.2M363.2 1250.0l.2 10.1M573.3 1259.9l4.6 -10.3M365.2 1249.9l.1 10.1M192.4 1250.2l4.7 10.2M404.6 1259.3l.2 -10.1M542.1 1259.5l5.2 -9.9M339.3 1250.7l1.2 9.8M504.5 1259.5l4.7 -10.1M309.2 1250.4l2.6 9.9M475.1 1259.7l3.5 -9.9M281.0 1250.5l3.7 9.6M488.4 1259.7l4.1 -10M294.4 1250.1l3.3 10.1M426.1 1259.8l1.1 -9.9M219.0 1250.1l5.5 10.4M464.6 1259.9l3.1 -10.3M269.2 1250.3l4.2 9.8M523.3 1259.5l5.2 -10.1M324.6 1250.4l1.9 10.3M542.7 1259.6l5.2 -9.9M339.8 1250.5l1.2 9.9M549.8 1259.7l5.2 -9.9M345.4 1250.4l.9 9.9M343.3 1250.2l1 9.9M547.3 1259.5l5.2 -9.9M314.2 1250.2l2.4 10M510.3 1259.9l5.1 -10.5M226.2 1250.0l5.5 10.4M431.6 1259.4l1.4 -9.8"/>
<path stroke="#00ff6a" d="M167.5 1240.3l3 10.2M380.2 1249.5l-.9 -10.1M606.5 1249.5l2.1 -10M402.7 1240.1l-1.4 9.9M621.6 1249.6l-.2 -10.4M443.8 1240.2l-3.2 10.3M231.3 1249.8l-11.5 -10.3M155.3 1240.0l-4.7 4.8l-4.4 5.4M348.9 1249.7l-2.3 -10.2M152.1 1240.4l1 9.7M378.2 1249.7l-.9 -10.1M166.1 1240.0l2.9 10.3M593.4 1249.3l3.3 -10M382.5 1239.9l-.6 10.2M320.7 1249.4l-3.5 -10.1M145.5 1240.0l-.6 10.3M623.5 1249.6l-6.9 -9.8M535.3 1240.0l-9.2 10M622.7 1249.4l-.5 -9.7M448.7 1240.2l-3.4 10.1M238.8 1249.7l-9.7 -10M152.4 1239.8l-7.7 10.3M395.4 1249.2l-.2 -9.4M179.0 1239.8l4 10.2M608.0 1249.3l1.9 -10.1M405.3 1240.5l-1.5 9.8M356.9 1249.9l-2 -10.4M155.0 1240.0l1.5 10.2M587.9 1249.5l3.6 -9.7M375.8 1240.5l-.3 9.4M619.3 1249.9l-5.7 -5.6l-6.2 -4.7M558.4 1239.8l-6.8 4.5l-6.9 5.6M331.7 1249.2l-2.9 -9.8M147.5 1240.4l.1 9.7M450.0 1239.8l-3.5 10.1M240.8 1249.8l-9.6 -10.3M151.6 1240.0l-7.3 10.2M622.9 1249.7l-.6 -10.4M626.8 1249.7l-3.4 -10M498.0 1239.9l-6 10.3M294.0 1249.4l-4.6 -9.6M143.7 1240.0l-2.2 10.3M185.9 1239.9l4.5 10.5M402.8 1249.7l.2 -10.2M575.9 1249.6l4.4 -9.9M363.0 1240.6l.2 9.4M577.9 1249.6l4.3 -9.9M365.0 1240.5l.1 9.4M188.0 1240.4l4.4 9.8M404.8 1249.2l.2 -9.4M547.3 1249.7l5.3 -9.9M337.9 1239.9l1.5 10.7M509.3 1249.5l4.9 -10M306.4 1240.5l2.8 9.9M478.5 1249.8l3.9 -10.6M276.8 1240.3l4.2 10.2M492.5 1249.7l4.3 -10M290.9 1240.0l3.5 10.1M427.2 1249.9l1.4 -10.8M213.7 1240.1l5.3 9.9M467.7 1249.6l3.3 -10.3M264.5 1239.9l4.7 10.4M528.5 1249.4l5.1 -9.6M322.5 1240.0l2.1 10.4M547.9 1249.7l5.3 -9.9M338.5 1240.5l1.3 10M554.9 1249.9l5.5 -10.5M344.3 1240.3l1.1 10.1M342.2 1240.2l1.2 10M552.5 1249.7l5.2 -10M311.6 1240.1l2.6 10.1M515.4 1249.5l5 -9.9M220.8 1240.0l5.4 10M433.0 1249.6l1.5 -9.9"/>
<path stroke="#00ff96" d="M164.7 1229.8l2.8 10.4M379.3 1239.4l-.8 -10.3M608.6 1239.5l1.8 -10.2M404.2 1230.1l-1.4 10.1M621.4 1239.2l-.6 -9.8M447.2 1229.8l-3.4 10.4M219.8 1239.6l-8.9 -5.8l-8.8 -4M171.2 1229.9l-8.2 4.2l-7.7 5.9M346.7 1239.4l-2.2 -9.7M151.4 1229.9l.8 10.5M377.3 1239.6l-.9 -10.3M163.6 1230.1l2.5 9.9M596.7 1239.3l2.9 -9.6M383.0 1230.3l-.5 9.5M317.2 1239.4l-3.7 -10.1M146.5 1230.3l-.9 9.7M616.5 1239.8l-5 -5.5l-5.5 -4.8M547.6 1229.8l-6.1 4.6l-6.2 5.6M622.2 1239.8l-.9 -10.4M452.3 1230.0l-3.6 10.2M229.1 1239.6l-6.7 -5.6l-6.6 -4.5M163.4 1229.9l-5.5 4.4l-5.5 5.6M395.3 1239.8l-.1 -10.4M175.4 1230.0l3.6 9.8M609.9 1239.2l1.6 -9.6M406.9 1230.5l-1.6 10M355.0 1239.4l-1.9 -9.9M153.9 1230.3l1.2 9.7M591.5 1239.8l3.7 -10.6M376.0 1230.1l-.3 10.4M607.5 1239.6l-5.7 -3.2l-6 -2.3l-5.7 -1.2l-6.2 -.5l-6.3 .5l-6.3 1.3l-6.3 2.3l-6.5 3.3M328.8 1239.5l-3 -9.9M147.8 1229.9l-.3 10.5M453.4 1230.4l-3.4 9.5M231.2 1239.6l-6.3 -5.5l-6.1 -4.4M162.1 1229.9l-5.4 4.7l-5.1 5.4M622.3 1239.3l-.9 -9.7M623.4 1239.7l-4.3 -10M504.4 1229.9l-6.5 9.9M289.4 1239.7l-5.2 -10.1M146.4 1229.9l-2.7 10M181.7 1229.8l4.2 10.1M403.0 1239.5l.3 -10.4M580.3 1239.7l4.3 -10.1M362.7 1230.2l.3 10.4M582.2 1239.7l4.2 -10.2M364.8 1230.1l.3 10.4M183.7 1230.3l4.3 10.1M405.0 1239.8l.4 -10.4M552.6 1239.7l5.4 -10M336.3 1229.8l1.5 10.1M514.2 1239.4l5.1 -10M303.2 1229.8l3.2 10.6M482.5 1239.3l3.9 -9.9M272.4 1230.2l4.4 10.2M496.8 1239.7l4.5 -10M287.2 1229.9l3.7 10.1M428.6 1239.1l1.3 -9.3M208.3 1230.1l5.4 10M471.0 1239.3l3.3 -9.6M259.8 1230.2l4.7 9.7M533.6 1239.8l5.5 -10.1M320.3 1230.3l2.2 9.7M553.2 1239.8l5.4 -10M337.0 1230.4l1.5 10.1M560.4 1239.3l5 -9.6M343.1 1230.2l1.2 10.2M340.8 1230.0l1.3 10.2M557.7 1239.7l5.3 -10.1M340.8 1229.9l.3 2.4M308.8 1230.0l2.8 10.1M520.4 1239.6l5.2 -9.8M215.4 1230.0l5.5 10M434.5 1239.7l1.7 -10"/>
<path stroke="#00ffc2" d="M161.9 1218.5l2.8 11.4M378.5 1229.1l-.9 -11.3M610.4 1229.3l1.8 -11.8M405.9 1218.2l-1.7 11.8M620.8 1229.4l-1.2 -11.9M451.3 1218.0l-4.1 11.8M202.1 1229.7l-8.1 -2.1l-7.7 -.6l-7.6 .7l-7.5 2.2M344.5 1229.7l-2.8 -12.1M150.9 1218.5l.5 11.4M376.3 1229.3l-1.1 -12.1M160.9 1218.7l2.7 11.4M599.6 1229.8l3.4 -11.8M383.6 1218.2l-.6 12.1M313.5 1229.2l-4.5 -11.5M148.1 1218.6l-1.7 11.7M606.1 1229.5l-6.6 -4.3l-6.9 -3.2l-7.2 -1.9l-7.5 -.7l-7.5 .7l-7.4 1.9l-7.8 3.3l-7.6 4.5M621.3 1229.4l-1.6 -11.7M456.6 1218.4l-4.4 11.6M215.9 1229.6l-6.8 -3.6l-6.4 -2.4l-7 -1.6l-6.6 -.5l-6.9 .6l-6.4 1.6l-6.1 2.5l-6.3 3.7M395.2 1229.4l0 -12.2M171.2 1218.0l4.2 12M611.5 1229.6l1.6 -11.9M408.7 1218.8l-1.9 11.7M353.1 1229.6l-2.4 -12.3M152.8 1218.3l1.1 12M595.2 1229.2l3.8 -11.5M376.2 1218.8l-.2 11.4M325.8 1229.6l-3.9 -12.1M148.6 1218.6l-.8 11.3M458.1 1218.1l-4.7 12.2M218.8 1229.6l-7.2 -4.1l-7.3 -3l-7.5 -1.8l-7.4 -.6l-7.4 .7l-6.8 1.8l-6.5 3l-6.6 4.2M621.4 1229.7l-1.7 -11.7M619.1 1229.7l-6.9 -12.2M513.3 1218.3l-8.9 11.7M284.2 1229.7l-6.9 -12.1M150.5 1218.4l-4 11.5M403.4 1222.5l.2 -4.9M177.0 1218.2l4.6 11.6M403.2 1229.1l.4 -11.4M584.6 1229.6l5 -12.1M362.1 1218.1l.5 12.2M586.4 1229.5l4.6 -11.6M364.4 1218.8l.4 11.4M178.7 1218.2l5 12.1M405.4 1229.4l.5 -12.2M558.0 1229.7l6.4 -11.8M334.4 1218.1l1.9 11.8M519.3 1229.4l6.3 -11.7M299.5 1218.4l3.7 11.4M486.4 1229.4l5 -11.8M266.8 1218.1l5.5 12M501.4 1229.7l5.7 -11.8M282.7 1218.5l4.5 11.4M430.0 1229.8l1.9 -11.8M202.0 1218.2l6.3 11.9M474.4 1229.7l4.6 -12.4M253.7 1218.1l6.1 12.1M539.2 1229.7l6.7 -11.8M317.4 1218.2l2.9 12M558.6 1229.7l6.4 -11.9M335.1 1218.7l1.9 11.8M565.4 1229.8l6.2 -12M341.5 1218.3l1.6 11.9M340.3 1226.1l.5 3.9M563.0 1229.6l6.3 -11.9M339.1 1218.1l1.7 11.9M305.4 1218.4l3.4 11.6M525.6 1229.8l6.7 -12.1M208.9 1218.2l6.5 11.8M436.2 1229.7l2.3 -12.4"/>
<path stroke="#00ffee" d="M159.2 1206.1l2.7 12.4M377.6 1217.8l-1 -12.3M612.2 1217.5l1.4 -12.1M407.7 1206.2l-1.8 12M619.6 1217.5l-1.9 -11.8M455.8 1206.2l-4.5 11.8M341.7 1217.7l-3.1 -12.2M150.9 1206.2l0 12.2M375.2 1217.3l-1 -11.5M158.4 1206.2l2.5 12.4M603.0 1218.0l3.1 -12.1M384.1 1206.7l-.6 11.5M309.0 1217.7l-5.2 -12.1M150.6 1206.4l-2.5 12.2M619.7 1217.6l-2.4 -12.3M461.7 1206.2l-5 12.2M395.1 1217.2l0 -11.6M167.4 1206.3l3.8 11.7M613.1 1217.7l1.2 -12.1M410.9 1206.0l-2.1 12.7M350.7 1217.2l-2.4 -11.7M152.1 1206.1l.7 12.2M599.0 1217.7l3.6 -11.8M376.4 1206.4l-.2 12.4M321.9 1217.5l-4.3 -12.1M150.1 1205.9l-1.5 12.7M463.2 1206.0l-5.1 12.1M619.8 1218.0l-2.5 -12.2M612.2 1217.5l-4.6 -6.4l-4.8 -5.3M525.2 1206.1l-5.9 5.6l-6 6.6M277.3 1217.6l-8 -12M156.3 1206.0l-5.8 12.5M403.6 1217.6l.5 -12.4M172.5 1206.2l4.6 11.9M403.6 1217.7l.1 -1.6M589.6 1217.5l4.7 -11.9M361.5 1206.5l.6 11.5M591.1 1217.9l4.8 -12.6M363.9 1206.4l.5 12.4M174.0 1206.4l4.7 11.8M405.9 1217.2l.6 -11.5M564.4 1217.8l6.5 -12M332.2 1206.2l2.2 11.9M525.6 1217.7l7 -12.2M295.3 1206.3l4.2 12.1M491.4 1217.6l5.4 -11.7M260.9 1206.2l5.9 11.9M507.1 1217.9l6.4 -12.3M277.5 1206.5l5.2 12M431.8 1218.0l2.2 -12.7M195.5 1206.1l6.4 12.1M478.9 1217.3l4.7 -11.6M247.2 1206.1l6.5 12M545.9 1217.8l7.2 -12.4M314.2 1206.1l3.2 12.1M565.0 1217.9l6.5 -12M332.8 1206.0l2.3 12.7M571.5 1217.8l6.2 -12.2M339.7 1206.2l1.8 12M569.3 1217.7l6.3 -12.1M337.2 1206.1l1.9 12M301.4 1206.0l4 12.4M532.3 1217.7l7 -12.1M202.2 1206.3l6.6 11.9M438.6 1217.3l2.4 -11.7"/>
<path stroke="#00e4ff" d="M156.9 1194.1l2.3 12M376.6 1205.5l-1 -11.7M613.7 1205.4l1 -11.6M409.7 1194.0l-2 12.2M617.7 1205.7l-2.8 -12.3M460.8 1194.5l-5 11.7M338.6 1205.5l-3.4 -12.3M151.5 1193.9l-.6 12.4M374.2 1205.8l-1.2 -12.5M156.3 1194.2l2.1 12M606.1 1205.8l2.9 -12.5M384.7 1194.1l-.6 12.6M303.9 1205.6l-5.7 -11.8M154.0 1194.5l-3.3 11.9M617.3 1205.3l-3.3 -12M467.3 1194.1l-5.6 12M395.2 1205.6l.1 -11.8M163.7 1194.3l3.7 12M614.3 1205.6l.8 -12.4M413.0 1193.9l-2.1 12.1M348.3 1205.5l-2.6 -11.9M151.9 1194.4l.2 11.7M602.6 1205.8l3.4 -12.2M376.6 1194.6l-.1 11.8M317.6 1205.4l-4.7 -12M152.3 1194.0l-2.2 11.9M468.9 1194.1l-5.7 11.9M617.3 1205.7l-3.3 -12M602.8 1205.8l-8 -7l-8.9 -5.2M543.7 1194.0l-9.5 5.3l-8.9 6.8M269.2 1205.6l-9.8 -11.8M163.8 1194.2l-7.5 11.7M404.1 1205.2l.6 -11.7M168.0 1193.9l4.4 12.3M594.3 1205.6l4.6 -12.2M360.8 1194.0l.7 12.5M595.9 1205.3l4.2 -11.6M363.4 1194.7l.6 11.7M169.4 1194.2l4.6 12.2M406.5 1205.7l.8 -12.6M570.9 1205.8l6.6 -12.2M329.8 1194.2l2.4 12M532.6 1205.5l7.3 -12.2M290.7 1194.3l4.6 12.1M496.7 1205.8l6.1 -12.3M254.6 1194.4l6.3 11.8M513.5 1205.6l6.8 -12.2M271.6 1193.9l5.9 12.6M434.1 1205.3l2.3 -12M189.0 1193.9l6.5 12.3M483.6 1205.7l5.3 -12.3M240.3 1194.2l6.9 11.9M553.1 1205.4l7.1 -11.9M310.7 1194.0l3.5 12.1M571.5 1205.8l6.6 -12.2M330.4 1194.0l2.4 12M577.8 1205.6l6 -11.9M337.7 1194.0l2 12.2M575.6 1205.5l6.1 -11.8M335.0 1194.0l2.1 12.1M297.3 1194.4l4.1 11.6M539.3 1205.6l7.3 -12M195.4 1194.2l6.8 12.1M441.0 1205.5l2.7 -11.8"/>
<path stroke="#00b8ff" d="M154.6 1178.9l2.3 15.2M375.6 1193.8l-1.4 -15.2M614.7 1193.7l.7 -15.5M412.4 1179.2l-2.7 14.8M614.9 1193.4l-4.7 -14.6M468.5 1179.0l-7.7 15.4M335.2 1193.2l-4.5 -14.6M153.0 1179.3l-1.5 14.6M373.0 1193.3l-1.6 -15.2M154.2 1178.9l2.1 15.3M609.0 1193.4l3 -15M385.5 1179.6l-.7 14.5M298.1 1193.8l-8.7 -15.1M160.0 1179.3l-6 15.2M614.0 1193.3l-5.6 -14.7M475.4 1179.4l-8.2 14.8M395.2 1193.8l.1 -15.4M159.5 1179.2l4.2 15.1M615.2 1193.2l.3 -14.8M415.9 1179.2l-2.9 14.7M345.6 1193.6l-3.8 -15.1M152.5 1179.6l-.5 14.8M606.0 1193.7l3.9 -15.3M376.7 1179.2l-.2 15.4M312.8 1193.4l-6.7 -14.6M156.3 1179.0l-4 15.1M477.6 1178.9l-8.7 15.2M613.9 1193.8l-6 -15.2M586.0 1193.6l-5.1 -2.1l-5.4 -1.4l-10.4 -1.1l-10.5 1.3l-10.9 3.6M259.4 1193.7l-8.6 -8.2l-9.2 -6.7M179.5 1178.9l-8.3 6.9l-7.4 8.4M404.7 1193.4l.9 -15.3M163.0 1179.3l5 14.7M598.8 1193.4l5.4 -15.2M359.8 1179.5l1 14.4M600.1 1193.7l5.2 -15.3M362.5 1179.3l.8 15.3M164.0 1179.0l5.4 15.2M407.3 1193.1l1 -14.5M577.5 1193.6l8.1 -14.8M326.4 1178.9l3.4 15.3M539.9 1193.3l9.6 -15M284.4 1179.4l6.3 14.8M502.8 1193.5l8 -14.7M245.7 1179.0l9 15.4M520.2 1193.4l9.1 -15.1M263.9 1178.9l7.8 15.1M436.4 1193.2l3.1 -14.6M181.0 1179.0l7.9 14.9M488.9 1193.4l7.1 -14.9M231.1 1179.4l9.2 14.7M560.2 1193.5l9.2 -14.9M306.0 1179.5l4.6 14.5M578.1 1193.6l8 -14.9M327.2 1179.5l3.2 14.5M583.8 1193.7l7.6 -15.2M335.0 1179.3l2.7 14.8M581.7 1193.7l7.8 -15.1M332.2 1179.3l2.9 14.7M291.4 1179.2l5.9 15.2M546.6 1193.6l9.5 -14.8M186.8 1179.0l8.7 15.2M443.7 1193.7l3.8 -15.1"/>
<path stroke="#008cff" d="M152.9 1164.1l1.7 14.9M374.3 1178.6l-1.6 -15.5M615.3 1178.2l-.2 -15.1M415.5 1164.3l-3.1 14.9M610.2 1178.8l-3.6 -8.3l-3.8 -7.3M478.1 1163.9l-9.5 15.1M330.7 1178.5l-5.6 -15.2M155.8 1164.0l-2.8 15.3M371.5 1178.1l-1.7 -14.5M152.8 1164.0l1.4 14.9M612.0 1178.4l2.4 -14.7M386.4 1164.1l-.9 15.6M289.4 1178.7l-5.4 -7.7l-5.8 -7.2M168.8 1164.3l-4.7 7.3l-4.1 7.7M608.4 1178.6l-4 -7.9l-4.6 -7.4M486.4 1164.0l-5.7 7.5l-5.2 7.9M395.4 1178.4l.1 -14.8M155.8 1164.3l3.7 14.9M615.5 1178.4l-.6 -15M419.3 1164.4l-3.4 14.8M341.9 1178.5l-4.4 -15.1M154.1 1164.0l-1.6 15.6M609.9 1178.3l3.3 -15.1M376.9 1164.5l-.2 14.7M306.2 1178.8l-8.6 -15.3M162.3 1163.9l-6 15.1M488.7 1163.8l-5.8 7.3l-5.3 7.8M607.9 1178.5l-4.1 -7.8l-4.7 -7.3M241.6 1178.8l-7.8 -4.2l-8.1 -3.1l-8.2 -1.8l-7.8 -.5l-7.7 .6l-8.1 1.9l-7.2 2.9l-7.2 4.3M405.6 1178.1l.9 -14.7M158.2 1164.1l4.8 15.2M604.3 1178.2l5 -15.1M358.6 1164.0l1.2 15.5M605.3 1178.3l4.8 -15.2M361.5 1163.8l1 15.6M159.0 1164.0l5 15M408.3 1178.7l1.2 -15.5M159.0 1163.9l.7 2.1M585.6 1178.8l8.3 -15.2M322.7 1164.3l3.7 14.6M549.5 1178.4l10.3 -14.8M277.0 1164.0l7.4 15.4M510.8 1178.8l9.2 -15.1M235.9 1163.9l9.8 15.1M529.4 1178.4l9.9 -14.8M255.3 1164.0l8.6 14.8M439.5 1178.6l3.8 -15.5M173.2 1164.3l7.8 14.7M496.1 1178.6l8.3 -15.3M220.8 1164.3l10.3 15.1M569.4 1178.6l9.7 -15M300.5 1164.3l5.5 15.2M586.1 1178.7l8.3 -15.2M323.4 1164.0l3.8 15.4M591.4 1178.5l7.4 -15M331.9 1164.3l3.1 14.9M589.5 1178.7l7.9 -15.5M328.9 1164.5l3.3 14.8M284.7 1164.1l6.7 15.1M556.1 1178.7l10.5 -15.4M178.1 1164.1l8.6 14.9M447.5 1178.6l4.3 -15.2"/>
<path stroke="#0060ff" d="M151.8 1143.4l1.1 20.6M372.7 1163.1l-2.8 -20.8M615.1 1163.1l-2 -20.6M420.9 1143.6l-5.4 20.7M602.8 1163.2l-7.8 -11.3l-9 -9.3M497.7 1143.0l-10.3 9.4l-9.3 11.5M325.1 1163.3l-4.9 -11.2l-5 -9.4M162.4 1143.5l-3.6 9.8l-3 10.7M369.7 1163.6l-3.3 -21.6M152.1 1143.3l.7 20.7M614.4 1163.7l2.4 -21.2M388.1 1143.0l-1.6 21.1M278.1 1163.7l-6.4 -6.7l-6.4 -5.5l-6.9 -4.9l-7.3 -4M192.7 1142.9l-6.8 4.1l-6.2 4.9l-5.6 5.6l-5.3 6.7M599.8 1163.3l-4.9 -6.4l-5 -5.3l-5.5 -4.8l-6.1 -4.2M510.5 1143.0l-6.5 4.3l-6.1 4.8l-5.7 5.5l-5.8 6.4M395.5 1163.7l.1 -21.2M151.2 1142.9l4.5 21.4M614.9 1163.4l-1 -10.6l-1.7 -10.6M425.4 1143.1l-6.2 21.3M337.4 1163.4l-3.8 -11.1l-4.2 -10.1M158.5 1143.3l-2.6 10.3l-1.8 10.4M613.2 1163.2l3.8 -20.9M377.3 1143.3l-.5 21.2M297.6 1163.6l-8.4 -11.7l-8.7 -9.5M176.1 1142.9l-7.3 9.4l-6.5 11.6M514.3 1142.9l-6.6 3.9l-6.8 5l-6.4 5.7l-5.8 6.3M599.1 1163.5l-5 -6.2l-5.5 -5.7l-6.2 -5l-6.2 -3.9M406.5 1163.4l1.4 -21.1M152.2 1143.4l6 20.8M609.3 1163.2l6.4 -20.6M356.8 1143.0l1.8 21M610.1 1163.1l6 -20.8M360.2 1143.6l1.4 20.2M157.9 1160.5l1.1 3.5M409.4 1163.1l1.8 -21M152.6 1143.3l6.4 20.6M593.9 1163.6l11.8 -21.2M316.5 1143.1l6.2 21.2M559.8 1163.5l16.1 -20.8M265.5 1143.5l11.6 20.6M519.9 1163.7l7.5 -11.1l7.7 -10.2M220.4 1143.4l15.4 20.5M539.3 1163.6l16.4 -21.3M241.3 1143.4l14 20.7M443.3 1163.1l5.8 -20.5M161.6 1142.9l11.6 21.4M504.4 1163.3l13.3 -20.7M204.5 1143.3l16.3 21M579.1 1163.6l14.4 -20.9M291.5 1143.2l9 21.1M594.3 1163.5l11.8 -21.3M317.5 1143.6l5.9 20.4M598.8 1163.5l10.3 -20.7M326.9 1143.5l5 20.9M597.4 1163.2l10.6 -20.4M323.3 1142.9l5.6 21.6M273.7 1142.8l11.1 21.2M566.6 1163.4l15.8 -20.9M274.0 1143.4l2 3.5M165.7 1143.3l12.4 20.7M451.8 1163.4l6.9 -20.8"/>
<path stroke="#0034ff" d="M364.3 1115.2l-.5 -1.7M153.4 1114.4l-1.3 13.4l-.3 15.6M369.9 1142.3l-2.9 -15.7l-3.1 -13.1M613.1 1142.6l-3.2 -15.2l-4.7 -13.5M432.6 1114.5l-6.3 13.5l-5.4 15.6M586.0 1142.6l-9.5 -6.8l-10.8 -5.1l-11.7 -3.1l-11.6 -.9l-11.7 1.2l-11.3 3l-11.3 5.2l-10.4 6.9M315.2 1142.7l-5.2 -8.4l-6 -7.9l-6.1 -6.9l-6.3 -5.7M182.6 1114.0l-6 6.2l-5.2 6.7l-4.7 7.7l-4.3 8.8M366.5 1142.0l-3.2 -15.6l-3.6 -12.9M154.6 1114.4l-1.8 13.4l-.7 15.6M616.8 1142.5l.8 -23.5M390.8 1120.0l-2.8 23M251.2 1142.6l-7 -3l-7.3 -2.1l-7.5 -1.3l-7.5 -.5l-7.5 .5l-7.3 1.3l-7.1 2.1l-7.2 3.3M578.3 1142.6l-7.7 -4l-8.3 -3l-8.8 -1.8l-9 -.5l-8.3 .7l-8.9 1.8l-8.7 3.1l-8.2 4.1M395.6 1142.5l-.3 -25.1M147.3 1118.3l3.9 24.6M612.2 1142.2l-4.1 -15.8l-5.4 -13.1M438.2 1114.7l-6.8 13.2l-6 15.3M329.4 1142.2l-8.2 -15.8l-9 -12.7M171.8 1114.6l-3.8 6l-3.6 6.9l-3.3 7.8l-2.6 8M617.0 1142.4l1.9 -14.6l1.3 -14.2M378.8 1114.7l-1.4 28.6M280.5 1142.4l-5.7 -5l-6.1 -4.5l-6.5 -3.9l-6.9 -3.3l-7.2 -2.5l-6.8 -1.7l-7.6 -1.1l-6.9 -.3l-6.9 .4l-7.5 1.2l-6.5 1.8l-6.9 2.6l-6.5 3.4l-5.9 3.9l-5.5 4.5l-4.9 5M550.5 1135.1l-8.9 0l-9.6 1.3l-8.7 2.6l-8.9 3.9M576.2 1142.7l-7.2 -3.4l-7.7 -2.5l-8 -1.5l-8.2 -.4M407.9 1142.3l2 -28.6M144.9 1114.0l7.3 29.3M615.6 1142.6l6.6 -23.8M354.7 1119.9l2.2 23.1M616.1 1142.3l7.1 -28.6M358.1 1114.1l2.1 29.5M411.2 1142.1l2.7 -28.5M144.6 1114.2l8 29.1M605.7 1142.4l17 -28.5M305.8 1114.7l5.6 13.8l5.1 14.7M575.8 1142.7l13.6 -15.5l13.7 -13.4M243.5 1114.1l11.1 13.4l10.9 15.9M535.1 1142.4l13.6 -15.7l13.8 -13.2M192.0 1114.3l14.3 13.3l14.1 15.7M555.7 1142.3l14.2 -15.5l14.3 -13.1M214.9 1114.1l13.6 13.6l12.8 15.6M449.1 1142.6l4.9 -14.8l5.4 -13.9M145.0 1114.1l16.6 28.8M517.6 1142.5l12.1 -15.6l12.8 -13.6M176.0 1114.2l14.6 13.7l14 15.4M593.6 1142.7l11.5 -15.2l11.1 -13.6M275.5 1114.5l8.4 13.9l7.6 14.8M606.1 1142.2l16.9 -28.6M306.6 1114.3l5.6 13.8l5.3 15.6M609.1 1142.8l12.4 -24.2M320.0 1119.9l6.9 23.5M608.0 1142.7l15.9 -29.3M314.0 1114.6l4.7 13.3l4.6 15M272.8 1141.4l.8 1.4M582.4 1142.4l10.3 -12.3l10.3 -11.1M258.2 1119.5l8.2 11.5l7.7 12.4M146.9 1114.4l18.8 28.9M458.7 1142.7l6 -15.1l6.6 -14.2"/>
<path stroke="#0008ff" d="M363.8 1113.4l-3 -9.5l-3.3 -8.5l-3.6 -7.5l-3.9 -6.6l-4.7 -6.3l-4.9 -5.4l-5.8 -5.1l-5.9 -4.1l-6.7 -3.9l-7.8 -3.5l-8.9 -3.1l-8.3 -2.2l-10.9 -2.1l-9.9 -1.3l-20.8 -1l-10.5 .3l-12.2 1l-9.5 1.4l-10.5 2.2l-7.8 2.2l-8.4 3.1l-7.2 3.5l-7.1 4.4l-5.9 4.7l-5 5l-4.6 5.8l-3.6 6.1l-3.3 6.9l-2.6 7.1l-2.2 8.7l-1.6 8.7M363.9 1113.5l-1.5 -5.2M605.2 1113.9l-6 -11.5l-7.1 -9.6l-8.6 -8.1l-9.9 -6.6l-11 -5.1l-12.7 -3.9l-14.2 -2.5l-15.1 -.8l-15.2 1l-14.4 2.6l-13 4.1l-11.4 5.3l-10.5 7l-8.7 7.9l-7.7 9.3l-7.1 11.4M291.6 1113.8l-6.2 -4.7l-6.1 -3.7l-6.4 -3.3l-6.9 -2.7l-7.2 -2.2l-7.6 -1.6l-7.7 -.9l-7.8 -.3l-7.7 .4l-7.6 1l-7.3 1.7l-6.9 2.2l-6.5 2.8l-6 3.3l-5.5 3.7l-5.6 4.6M359.7 1113.5l-6.1 -16.1l-3.9 -7.4l-4 -6.4l-4.2 -5.5l-4.9 -5.3l-5.7 -5l-5.7 -4.1l-6.5 -3.7l-7.5 -3.5l-8.4 -3l-7.7 -2.2l-10.2 -2.1l-9.1 -1.3l-21.3 -1.2l-21.1 1.2l-9 1.2l-9.9 2.1l-9 2.5l-8 3l-6.9 3.4l-6.1 3.7l-6 4.5l-5.1 4.9l-4.2 5l-4 5.9l-3.5 6.9l-2.8 6.9l-2.4 7.8l-1.9 8.7M617.7 1119.0l-.6 -12l-1.3 -10.4M395.4 1097.8l-2.5 10.6l-2 11.5M395.2 1117.4l-1.6 -26.2M145.4 1091.9l.6 12.9l1.3 13.5M602.7 1113.2l-6.3 -10.5l-7.1 -8.5l-8.2 -7.1l-10 -6.3l-10.9 -4.7l-12.4 -3.5l-13.6 -2.1l-13 -.5l-13 .9l-13.7 2.4l-11.4 3.5l-11.2 5l-9.7 6l-8.9 7.5l-8 9l-7.1 10.3M312.3 1113.7l-6.6 -7.1l-7.6 -6.6l-7.8 -5.3l-8.8 -4.6l-9.6 -3.6l-10.4 -2.7l-11 -1.6l-10.1 -.5l-10 .6l-10.7 1.6l-10 2.7l-9.2 3.7l-8.2 4.5l-7.8 5.7l-6.7 6.4l-6 7.6M620.2 1113.5l.3 -18.5l-1.5 -15.5l-3.2 -13.2l-2.3 -5.7l-2.5 -4.9l-3.4 -4.8l-3.4 -3.9l-4.3 -3.9l-5.3 -3.7l-11.5 -5.7l-14 -4.4M435.1 1029.9l-13.9 4.6l-11.5 5.9l-4.4 3.1l-4.6 4.1l-6.8 8.4l-5.5 10.4l-4.4 13.3l-3 15.2l-2.2 19.8M410.0 1113.8l1.8 -28.9l.7 -19.1l-.4 -14.5l-1.5 -11.7l-2.9 -9l-3.9 -6.2l-5.9 -5.2l-8.8 -4.2M157.4 1015.0l-8.5 4.1l-3.3 2.6l-3.1 3.4l-3.7 6.8l-2.2 9.4l-.6 12.7l1.2 16.8l3.1 20.3l4.6 22.9M622.2 1118.8l5 -20.1M352.6 1099.2l2 20.7M623.2 1113.7l4.6 -22.9l3 -20.4l1.2 -16.7l-.6 -12.7l-2.3 -9.4l-2.1 -4.3l-2.5 -3.4l-5.9 -5.1l-9 -4.1M378.0 1015.3l-8.4 4.2l-5.7 5.3l-3.8 6.2l-2.7 8.9l-1.5 11.7l-.3 14.5l.6 19.1l1.9 28.9M413.9 1113.6l5.5 -57.8l.7 -14.5l-.3 -9.9l-1.4 -8l-2.3 -5.4l-4 -4.4l-6.4 -3.4M144.3 1010.1l-6.3 3.4l-2.7 2.6l-1.7 2.6l-2.3 6.9l-.7 9.5l1 13.6l2.7 18.4l4.5 22.8l5.8 24.3M622.7 1113.9l9.3 -13.9l8.6 -11.4l8.7 -10.1l8.8 -8.6l9.6 -7.8l9.5 -6.3l10.2 -5.4l10.7 -4.5M69.6 1045.3l11.2 -3.6l11.1 -2.7l24 -3.9M196.3 1035.7l21.7 3.8l17.6 5.1l15.5 6.6l13.1 8.1l6.3 4.9l5.6 5.1l5.6 6l5.5 6.9l9.7 14.9l8.8 17.6M603.1 1113.8l10.9 -9.4l10.8 -8l11.1 -7.2l11.6 -6.3l11.9 -5.4l13.1 -4.8l13.3 -3.9l13.2 -2.8M70.2 1065.8l12.8 -1.9l12.1 -1.1l13.7 -.6l12.4 .2l12.4 .8l13.3 1.6l11.5 2l12.1 2.9l10.1 3.2l10.5 4l9.6 4.4l9.7 5.4l8.7 5.8l8.7 6.7l7.9 7l7.8 7.9M562.6 1113.5l13.8 -10.8l14.1 -8.9l15.2 -7.6l16.9 -6.5l17.8 -4.9l19.3 -3.4l19.2 -1.7l19.6 -.2M69.7 1069.5l18.1 1.3l17.3 2.6l16.2 3.8l15.9 5l15.2 6.4l13.7 7.3l13 8.4l12.9 10M584.3 1113.7l12.2 -9.5l13 -8.4l12.7 -6.8l14.1 -6.2l14.6 -5l14.8 -3.9l15.9 -2.9l16.8 -1.8M69.6 1069.1l21 -.5l21 1.3l19.9 3l19.5 5l17.5 6.4l16.3 8.1l15.8 10.1l14.3 11.6M459.4 1113.9l8.1 -17l9.3 -15.1l10 -12.4l5.3 -5.2l6 -5.1l12.6 -8.3l15 -6.9l17.5 -5.5l19.6 -3.8M660.3 1034.3l21.4 4.1l17.1 5.1M70.2 1044.1l10.9 4.7l10.1 5.5l9.5 6.5l9.4 8l8.6 8.8l8.5 10.2l8.8 12.2l9 14.1M542.6 1113.4l15 -12.7l16 -10.5l8.5 -4.5l9.2 -4.2l18.2 -6.4l20.4 -4.8l22.2 -2.9l23 -.7l22.7 1.4M69.0 1068.2l15.6 2.3l14.5 3.3l14.5 4.3l13.3 5.2l12.8 6.1l12.4 7.1l11.9 8.1l12 9.6M616.2 1113.9l9.7 -10.5l9.7 -9.3l9.4 -7.9l9.8 -7.1l10.3 -6.4l10.7 -5.4l10.9 -4.6l12.3 -4.1M70.3 1058.2l15.4 -3.7l15.5 -2.6l16.7 -1.7l15.7 -.5l15.9 .3l17.1 1.5l14.6 2.2l14.8 3.4l12 3.8l11.8 4.8l11.5 5.9l9.9 6.5l9.4 7.5l8.9 8.6l8.3 9.6l7.7 10.7M623.0 1113.6l9.3 -14l8.5 -11.4l8.6 -10.1l8.7 -8.7l9.6 -7.9l9.5 -6.3l10.2 -5.5l10.8 -4.6M69.7 1044.6l9.6 -3.1l11 -2.8l21.6 -3.7M198.8 1035.2l19.8 3.5l17.9 5.1l15.6 6.7l7 3.9l7.2 4.8l6.2 5l5.5 5.2l10.3 12.2l9.6 14.9l8.7 17.7M621.4 1118.6l12 -21.6M311.3 1097.3l8.6 22.6M623.9 1113.4l9.1 -15.1l8.4 -12.5l8.7 -11.2l8.5 -9.1l8.6 -7.6l9.4 -6.7l10.4 -5.8l11.3 -4.9M69.9 1040.0l12.4 -3.8l14.9 -3.4M222.1 1033.3l18.6 4.7l14.5 5.6l12.6 6.8l11.5 8.8l9.7 10l9.2 12.7l8.1 14.6l7.8 18.2M603.0 1119.0l11.3 -10.9l11.3 -9.5M239.5 1099.1l9.4 9.4l9.3 11M86.3 1057.4l8.3 4.6l8.2 5.4l8 6.2l7.1 6.3l6.9 7l7.4 8.3l14.7 19.2M471.4 1113.3l7.4 -13.2l7.9 -11.4l8.7 -10.3l9.1 -8.6l9.9 -7.4l10.9 -6.2l11.6 -5.2l13.7 -4.6l16 -3.7l18.3 -2.8l20.2 -1.5l21 -.2l20.4 1.1l18.7 2.3l18.2 3.7l15.3 4.5M70.1 1050.4l12.7 5.3l11.7 6.2"/>
<path stroke="#2400ff" d="M615.8 1096.6l-1.7 -8.1l-2.4 -8l-3.1 -7.1l-3.6 -6.3M408.7 1067.8l-4.2 6.7l-3.4 6.8l-3 7.8l-2.7 8.8M393.6 1091.2l-2.4 -16.3l-3.3 -12.5l-4.7 -10.6l-6.2 -8.6M157.5 1044.1l-2.9 4.1l-2.7 4.9l-3.8 10.8l-2.1 12.4l-.6 15.6M627.2 1098.6l5.6 -26.6M350.0 1073.0l2.6 26.2M633.5 1097.0l10.6 -16.4l10.8 -13.5M294.2 1067.8l9.2 13.8l7.9 15.7M625.5 1098.6l11.2 -8.2l11 -6.8l11.3 -5.9l12.7 -5.5M198.3 1072.9l11 5.1l10.7 6.2l10.4 7.2l9.1 7.7"/>
<path stroke="#5000ff" d="M605.0 1067.1l-4.7 -6.1l-5.2 -5.2l-6.5 -5l-7 -4l-8.4 -3.7l-10.1 -3.3l-10 -2.3l-11.2 -1.8M471.3 1036.1l-11.2 2l-9.9 2.5l-8.5 2.8l-8.7 3.9l-7.3 4.2l-6 4.4l-5.7 5.4l-5.3 6.5M377.1 1043.2l-5.3 -5l-7.1 -4.8l-7.9 -3.8l-8.1 -2.9M188.7 1025.9l-10.2 3.4l-9 4.5l-6.5 4.6l-5.5 5.6M632.8 1072.1l3.1 -19.1l1.4 -14.4M347.9 1039.5l.5 13.5l1.7 20M654.8 1067.1l10.1 -9.9l9.9 -7.7l11.5 -6.7l11.7 -5M69.7 1037.2l11.1 -3.4l10.9 -2.6M232.1 1031.7l10.8 2.8l9.2 3l7.9 3.3l8.1 4.2l7.8 5l6.6 5.3l6.3 6.2l5.4 6.3M671.7 1072.3l13 -4.4l13.2 -3.5M69.1 1064.1l15.7 -2.9l16.8 -1.8l17.6 -.7l17.6 .6l15.8 1.6l16.2 2.8l14.9 3.9l14.6 5.3"/>
<path stroke="#7c00ff" d="M637.3 1038.5l-.3 -11.2l-.9 -4.3l-1.2 -3.5l-1.6 -2.5l-2.3 -2.6l-3.6 -2.6l-3.7 -1.7M362.2 1010.2l-3.8 1.7l-3.6 2.7l-2.4 2.6l-1.5 2.7l-1.4 3.5l-.9 4.5l-.7 11.7"/>
</g>
<path fill="#000" d="M182.7 1288.2h2.4v2.4h-2.4zM188.2 1301.7h2.4v2.4h-2.4zM191.0 1308.3h2.4v2.4h-2.4zM651.9 1308.4h2.4v2.4h-2.4zM648.6 1304.2h2.4v2.4h-2.4zM594.8 1290.3h2.4v2.4h-2.4zM589.5 1293.2h2.4v2.4h-2.4zM586.8 1294.9h2.4v2.4h-2.4zM571.0 1308.3h2.4v2.4h-2.4zM385.9 1307.9h2.4v2.4h-2.4zM384.5 1298.5h2.4v2.4h-2.4zM391.2 1302.5h2.4v2.4h-2.4zM212.5 1302.4h2.4v2.4h-2.4zM202.9 1292.1h2.4v2.4h-2.4zM124.4 1292.2h2.4v2.4h-2.4zM117.5 1302.5h2.4v2.4h-2.4zM590.1 1302.2h2.4v2.4h-2.4zM615.5 1307.9h2.4v2.4h-2.4zM615.8 1306.0h2.4v2.4h-2.4zM420.6 1308.5h2.4v2.4h-2.4zM270.9 1308.2h2.4v2.4h-2.4zM270.7 1307.8h2.4v2.4h-2.4zM121.7 1308.5h2.4v2.4h-2.4zM360.1 1301.5h2.4v2.4h-2.4zM161.7 1301.6h2.4v2.4h-2.4zM646.3 1302.0h2.4v2.4h-2.4zM526.7 1301.4h2.4v2.4h-2.4zM526.4 1301.9h2.4v2.4h-2.4zM384.0 1305.9h2.4v2.4h-2.4zM382.8 1297.8h2.4v2.4h-2.4zM187.8 1305.8h2.4v2.4h-2.4zM650.1 1305.8h2.4v2.4h-2.4zM636.2 1291.8h2.4v2.4h-2.4zM633.9 1290.2h2.4v2.4h-2.4zM570.0 1305.7h2.4v2.4h-2.4zM569.8 1304.5h2.4v2.4h-2.4zM375.7 1304.2h2.4v2.4h-2.4zM179.4 1304.7h2.4v2.4h-2.4zM166.4 1296.4h2.4v2.4h-2.4zM162.9 1294.8h2.4v2.4h-2.4zM147.8 1291.6h2.4v2.4h-2.4zM136.8 1293.1h2.4v2.4h-2.4zM117.5 1304.8h2.4v2.4h-2.4zM338.0 1303.2h2.4v2.4h-2.4zM335.7 1296.7h2.4v2.4h-2.4zM144.9 1291.2h2.4v2.4h-2.4zM146.2 1303.0h2.4v2.4h-2.4zM641.4 1303.4h2.4v2.4h-2.4zM639.9 1295.5h2.4v2.4h-2.4zM490.2 1303.2h2.4v2.4h-2.4zM618.3 1305.4h2.4v2.4h-2.4zM619.7 1292.9h2.4v2.4h-2.4zM430.6 1290.4h2.4v2.4h-2.4zM426.7 1301.9h2.4v2.4h-2.4zM425.4 1305.4h2.4v2.4h-2.4zM274.7 1305.5h2.4v2.4h-2.4zM273.9 1304.0h2.4v2.4h-2.4zM268.2 1294.0h2.4v2.4h-2.4zM266.5 1291.0h2.4v2.4h-2.4zM127.0 1289.0h2.4v2.4h-2.4zM123.5 1305.1h2.4v2.4h-2.4zM647.9 1307.6h2.4v2.4h-2.4zM602.1 1307.7h2.4v2.4h-2.4zM397.4 1307.4h2.4v2.4h-2.4zM397.3 1306.1h2.4v2.4h-2.4zM204.8 1300.9h2.4v2.4h-2.4zM207.8 1307.2h2.4v2.4h-2.4zM114.6 1308.4h2.4v2.4h-2.4zM590.2 1308.2h2.4v2.4h-2.4zM592.2 1302.4h2.4v2.4h-2.4zM391.9 1308.3h2.4v2.4h-2.4zM221.6 1308.7h2.4v2.4h-2.4zM213.4 1298.5h2.4v2.4h-2.4zM205.1 1289.6h2.4v2.4h-2.4zM650.5 1309.6h2.4v2.4h-2.4zM532.6 1309.4h2.4v2.4h-2.4zM368.4 1309.6h2.4v2.4h-2.4zM363.8 1289.6h2.4v2.4h-2.4zM169.6 1309.1h2.4v2.4h-2.4zM163.4 1303.5h2.4v2.4h-2.4zM151.6 1298.9h2.4v2.4h-2.4zM148.5 1298.3h2.4v2.4h-2.4zM121.9 1303.7h2.4v2.4h-2.4zM563.0 1303.5h2.4v2.4h-2.4zM370.9 1303.1h2.4v2.4h-2.4zM644.5 1306.1h2.4v2.4h-2.4zM501.4 1306.1h2.4v2.4h-2.4zM347.9 1306.3h2.4v2.4h-2.4zM345.4 1298.5h2.4v2.4h-2.4zM149.8 1290.8h2.4v2.4h-2.4zM152.3 1306.3h2.4v2.4h-2.4zM425.5 1307.8h2.4v2.4h-2.4zM425.1 1308.9h2.4v2.4h-2.4zM277.8 1308.7h2.4v2.4h-2.4zM277.5 1308.2h2.4v2.4h-2.4zM276.4 1306.2h2.4v2.4h-2.4zM266.5 1288.6h2.4v2.4h-2.4zM123.1 1308.8h2.4v2.4h-2.4zM618.3 1308.8h2.4v2.4h-2.4zM634.6 1302.3h2.4v2.4h-2.4zM464.4 1302.3h2.4v2.4h-2.4zM316.0 1302.2h2.4v2.4h-2.4zM136.1 1293.3h2.4v2.4h-2.4zM136.1 1294.6h2.4v2.4h-2.4zM136.0 1301.9h2.4v2.4h-2.4zM211.3 1296.0h2.4v2.4h-2.4zM214.4 1302.3h2.4v2.4h-2.4zM217.1 1307.5h2.4v2.4h-2.4zM640.5 1307.9h2.4v2.4h-2.4zM623.0 1307.8h2.4v2.4h-2.4zM403.0 1307.5h2.4v2.4h-2.4zM546.6 1306.5h2.4v2.4h-2.4zM550.8 1298.2h2.4v2.4h-2.4zM361.2 1306.4h2.4v2.4h-2.4zM141.8 1307.7h2.4v2.4h-2.4zM126.0 1307.7h2.4v2.4h-2.4zM548.6 1307.3h2.4v2.4h-2.4zM551.0 1302.6h2.4v2.4h-2.4zM362.6 1307.7h2.4v2.4h-2.4zM218.0 1304.5h2.4v2.4h-2.4zM404.3 1304.3h2.4v2.4h-2.4zM404.1 1300.1h2.4v2.4h-2.4zM523.3 1292.5h2.4v2.4h-2.4zM343.0 1304.5h2.4v2.4h-2.4zM517.2 1304.9h2.4v2.4h-2.4zM484.2 1304.9h2.4v2.4h-2.4zM320.1 1304.8h2.4v2.4h-2.4zM459.7 1307.8h2.4v2.4h-2.4zM295.5 1294.8h2.4v2.4h-2.4zM297.2 1300.5h2.4v2.4h-2.4zM298.5 1305.0h2.4v2.4h-2.4zM299.2 1307.5h2.4v2.4h-2.4zM470.3 1307.6h2.4v2.4h-2.4zM309.6 1307.6h2.4v2.4h-2.4zM421.3 1308.1h2.4v2.4h-2.4zM421.8 1296.1h2.4v2.4h-2.4zM247.9 1307.8h2.4v2.4h-2.4zM451.7 1306.8h2.4v2.4h-2.4zM289.9 1306.4h2.4v2.4h-2.4zM290.0 1307.0h2.4v2.4h-2.4zM498.4 1309.0h2.4v2.4h-2.4zM332.3 1308.7h2.4v2.4h-2.4zM516.0 1308.6h2.4v2.4h-2.4zM516.8 1307.0h2.4v2.4h-2.4zM343.6 1308.6h2.4v2.4h-2.4zM526.5 1301.4h2.4v2.4h-2.4zM347.4 1294.6h2.4v2.4h-2.4zM347.6 1301.0h2.4v2.4h-2.4zM346.0 1301.5h2.4v2.4h-2.4zM524.0 1301.3h2.4v2.4h-2.4zM529.6 1290.1h2.4v2.4h-2.4zM324.4 1308.0h2.4v2.4h-2.4zM487.8 1308.5h2.4v2.4h-2.4zM490.5 1301.4h2.4v2.4h-2.4zM255.0 1308.3h2.4v2.4h-2.4zM255.8 1310.0h2.4v2.4h-2.4zM425.4 1309.6h2.4v2.4h-2.4zM426.3 1296.2h2.4v2.4h-2.4z" clip-path="url(#clipEA)"/>
<path fill="#f00" d="M186.1 1296.7h2.4v2.4h-2.4zM186.3 1297.3h2.4v2.4h-2.4zM189.6 1305.0h2.4v2.4h-2.4zM189.8 1305.6h2.4v2.4h-2.4zM646.6 1301.9h2.4v2.4h-2.4zM642.8 1298.0h2.4v2.4h-2.4zM638.8 1294.7h2.4v2.4h-2.4zM603.3 1287.1h2.4v2.4h-2.4zM603.0 1287.2h2.4v2.4h-2.4zM600.8 1287.9h2.4v2.4h-2.4zM585.4 1295.9h2.4v2.4h-2.4zM583.7 1297.1h2.4v2.4h-2.4zM384.0 1295.1h2.4v2.4h-2.4zM207.9 1297.3h2.4v2.4h-2.4zM125.0 1291.5h2.4v2.4h-2.4zM121.4 1296.4h2.4v2.4h-2.4zM125.1 1293.7h2.4v2.4h-2.4zM123.9 1298.4h2.4v2.4h-2.4zM640.0 1287.7h2.4v2.4h-2.4zM535.2 1289.8h2.4v2.4h-2.4zM187.6 1305.2h2.4v2.4h-2.4zM591.9 1289.0h2.4v2.4h-2.4zM587.3 1291.6h2.4v2.4h-2.4zM570.3 1303.4h2.4v2.4h-2.4zM571.1 1301.8h2.4v2.4h-2.4zM172.3 1299.6h2.4v2.4h-2.4zM146.8 1291.6h2.4v2.4h-2.4zM137.4 1293.0h2.4v2.4h-2.4zM121.5 1301.4h2.4v2.4h-2.4zM337.7 1302.6h2.4v2.4h-2.4zM494.7 1295.2h2.4v2.4h-2.4zM270.5 1298.0h2.4v2.4h-2.4zM127.6 1286.6h2.4v2.4h-2.4zM638.6 1302.7h2.4v2.4h-2.4zM630.2 1300.7h2.4v2.4h-2.4zM613.7 1302.3h2.4v2.4h-2.4zM200.7 1292.3h2.4v2.4h-2.4zM396.2 1287.2h2.4v2.4h-2.4zM392.5 1305.8h2.4v2.4h-2.4zM204.0 1288.6h2.4v2.4h-2.4zM650.3 1309.1h2.4v2.4h-2.4zM640.9 1290.0h2.4v2.4h-2.4zM366.1 1300.1h2.4v2.4h-2.4zM364.3 1292.2h2.4v2.4h-2.4zM163.4 1287.3h2.4v2.4h-2.4zM123.2 1302.9h2.4v2.4h-2.4zM570.8 1286.8h2.4v2.4h-2.4zM641.1 1293.4h2.4v2.4h-2.4zM511.3 1289.7h2.4v2.4h-2.4zM207.6 1288.6h2.4v2.4h-2.4zM208.4 1290.2h2.4v2.4h-2.4zM210.5 1294.4h2.4v2.4h-2.4zM627.0 1307.1h2.4v2.4h-2.4zM555.7 1293.1h2.4v2.4h-2.4zM557.8 1288.9h2.4v2.4h-2.4zM363.6 1289.3h2.4v2.4h-2.4zM214.6 1297.7h2.4v2.4h-2.4zM403.9 1296.6h2.4v2.4h-2.4zM342.5 1294.6h2.4v2.4h-2.4zM522.7 1293.6h2.4v2.4h-2.4zM491.1 1286.9h2.4v2.4h-2.4zM474.8 1293.1h2.4v2.4h-2.4zM308.4 1302.3h2.4v2.4h-2.4zM422.0 1293.2h2.4v2.4h-2.4zM243.7 1299.2h2.4v2.4h-2.4zM244.8 1301.3h2.4v2.4h-2.4zM247.2 1306.2h2.4v2.4h-2.4zM288.2 1301.4h2.4v2.4h-2.4zM500.6 1303.9h2.4v2.4h-2.4zM345.9 1297.2h2.4v2.4h-2.4z" clip-path="url(#clipEA)"/>
<path fill="#ff0" d="M650.0 1305.9h2.4v2.4h-2.4zM575.2 1304.1h2.4v2.4h-2.4zM198.5 1288.0h2.4v2.4h-2.4zM129.1 1286.8h2.4v2.4h-2.4zM426.2 1291.7h2.4v2.4h-2.4zM424.8 1296.0h2.4v2.4h-2.4zM264.4 1296.9h2.4v2.4h-2.4zM160.8 1297.9h2.4v2.4h-2.4zM636.5 1292.0h2.4v2.4h-2.4zM632.9 1289.6h2.4v2.4h-2.4zM630.3 1288.1h2.4v2.4h-2.4zM588.0 1291.1h2.4v2.4h-2.4zM167.8 1297.1h2.4v2.4h-2.4zM129.7 1296.0h2.4v2.4h-2.4zM122.1 1300.9h2.4v2.4h-2.4zM272.2 1301.0h2.4v2.4h-2.4zM265.0 1288.5h2.4v2.4h-2.4zM126.5 1290.7h2.4v2.4h-2.4zM640.9 1303.7h2.4v2.4h-2.4zM622.0 1300.6h2.4v2.4h-2.4zM615.1 1301.9h2.4v2.4h-2.4zM603.1 1307.1h2.4v2.4h-2.4zM396.9 1301.9h2.4v2.4h-2.4zM201.0 1292.9h2.4v2.4h-2.4zM124.6 1291.4h2.4v2.4h-2.4zM120.3 1297.8h2.4v2.4h-2.4zM594.5 1295.3h2.4v2.4h-2.4zM393.5 1301.2h2.4v2.4h-2.4zM216.9 1302.7h2.4v2.4h-2.4zM212.7 1297.7h2.4v2.4h-2.4zM205.7 1290.2h2.4v2.4h-2.4zM643.2 1293.9h2.4v2.4h-2.4zM641.7 1291.2h2.4v2.4h-2.4zM365.4 1296.8h2.4v2.4h-2.4zM364.2 1291.5h2.4v2.4h-2.4zM166.2 1297.8h2.4v2.4h-2.4zM168.5 1305.6h2.4v2.4h-2.4zM150.2 1298.6h2.4v2.4h-2.4zM138.2 1298.0h2.4v2.4h-2.4zM509.8 1292.1h2.4v2.4h-2.4zM502.2 1304.6h2.4v2.4h-2.4zM274.2 1302.2h2.4v2.4h-2.4zM273.4 1300.7h2.4v2.4h-2.4zM127.6 1287.1h2.4v2.4h-2.4zM124.5 1300.9h2.4v2.4h-2.4zM618.6 1306.9h2.4v2.4h-2.4zM634.2 1295.8h2.4v2.4h-2.4zM633.3 1286.7h2.4v2.4h-2.4zM470.8 1288.7h2.4v2.4h-2.4zM136.1 1292.0h2.4v2.4h-2.4zM136.1 1292.6h2.4v2.4h-2.4zM624.3 1307.6h2.4v2.4h-2.4zM402.9 1306.1h2.4v2.4h-2.4zM550.3 1299.2h2.4v2.4h-2.4zM130.3 1307.0h2.4v2.4h-2.4zM217.2 1303.0h2.4v2.4h-2.4zM341.9 1286.7h2.4v2.4h-2.4zM490.1 1289.3h2.4v2.4h-2.4zM319.8 1302.8h2.4v2.4h-2.4zM460.5 1304.5h2.4v2.4h-2.4zM464.2 1290.1h2.4v2.4h-2.4zM470.5 1307.0h2.4v2.4h-2.4zM455.8 1288.0h2.4v2.4h-2.4zM288.0 1300.8h2.4v2.4h-2.4zM528.0 1293.3h2.4v2.4h-2.4zM324.2 1306.7h2.4v2.4h-2.4zM425.5 1308.9h2.4v2.4h-2.4zM426.4 1294.8h2.4v2.4h-2.4z" clip-path="url(#clipEA)"/>
<path fill="#f80" d="M604.8 1286.8h2.4v2.4h-2.4zM383.5 1290.9h2.4v2.4h-2.4zM209.6 1299.1h2.4v2.4h-2.4zM197.1 1286.8h2.4v2.4h-2.4zM127.0 1289.1h2.4v2.4h-2.4zM592.1 1296.4h2.4v2.4h-2.4zM617.2 1297.0h2.4v2.4h-2.4zM425.4 1294.2h2.4v2.4h-2.4zM422.8 1302.0h2.4v2.4h-2.4zM535.5 1289.4h2.4v2.4h-2.4zM532.0 1294.0h2.4v2.4h-2.4zM180.4 1287.1h2.4v2.4h-2.4zM180.7 1287.7h2.4v2.4h-2.4zM181.1 1288.9h2.4v2.4h-2.4zM184.0 1296.3h2.4v2.4h-2.4zM643.5 1298.1h2.4v2.4h-2.4zM575.3 1300.6h2.4v2.4h-2.4zM153.4 1292.2h2.4v2.4h-2.4zM127.5 1297.2h2.4v2.4h-2.4zM119.0 1303.4h2.4v2.4h-2.4zM333.0 1288.8h2.4v2.4h-2.4zM144.7 1288.5h2.4v2.4h-2.4zM144.8 1289.2h2.4v2.4h-2.4zM640.1 1296.8h2.4v2.4h-2.4zM639.5 1293.7h2.4v2.4h-2.4zM639.2 1292.6h2.4v2.4h-2.4zM495.2 1294.2h2.4v2.4h-2.4zM427.3 1300.1h2.4v2.4h-2.4zM264.1 1286.9h2.4v2.4h-2.4zM627.1 1300.5h2.4v2.4h-2.4zM606.8 1305.1h2.4v2.4h-2.4zM396.6 1298.4h2.4v2.4h-2.4zM544.5 1293.6h2.4v2.4h-2.4zM540.7 1298.4h2.4v2.4h-2.4zM162.0 1302.8h2.4v2.4h-2.4zM128.7 1300.3h2.4v2.4h-2.4zM565.8 1297.6h2.4v2.4h-2.4zM640.1 1290.1h2.4v2.4h-2.4zM620.3 1292.5h2.4v2.4h-2.4zM633.8 1291.9h2.4v2.4h-2.4zM315.5 1301.1h2.4v2.4h-2.4zM548.7 1302.3h2.4v2.4h-2.4zM549.5 1300.8h2.4v2.4h-2.4zM129.0 1307.2h2.4v2.4h-2.4zM363.2 1297.2h2.4v2.4h-2.4zM524.1 1290.9h2.4v2.4h-2.4zM317.7 1291.1h2.4v2.4h-2.4zM308.2 1301.7h2.4v2.4h-2.4zM240.0 1291.7h2.4v2.4h-2.4zM454.7 1292.7h2.4v2.4h-2.4zM501.3 1302.2h2.4v2.4h-2.4zM518.6 1303.2h2.4v2.4h-2.4zM520.7 1298.9h2.4v2.4h-2.4zM531.0 1292.4h2.4v2.4h-2.4zM345.8 1295.1h2.4v2.4h-2.4zM426.2 1298.3h2.4v2.4h-2.4z" clip-path="url(#clipEA)"/>
<path fill="#ffdc00" d="M187.8 1305.8h2.4v2.4h-2.4zM425.4 1305.4h2.4v2.4h-2.4z" clip-path="url(#clipEA)"/>
<path fill="#5000ff" d="M538.3 1034.2h2.4v2.4h-2.4zM535.8 1033.9h2.4v2.4h-2.4zM533.3 1033.6h2.4v2.4h-2.4zM530.8 1033.4h2.4v2.4h-2.4zM528.2 1033.1h2.4v2.4h-2.4zM525.6 1032.9h2.4v2.4h-2.4zM523.0 1032.8h2.4v2.4h-2.4zM520.3 1032.6h2.4v2.4h-2.4zM517.6 1032.5h2.4v2.4h-2.4zM514.9 1032.4h2.4v2.4h-2.4zM512.2 1032.4h2.4v2.4h-2.4zM509.5 1032.3h2.4v2.4h-2.4zM506.7 1032.3h2.4v2.4h-2.4zM504.0 1032.3h2.4v2.4h-2.4zM501.2 1032.4h2.4v2.4h-2.4zM498.5 1032.4h2.4v2.4h-2.4zM495.8 1032.5h2.4v2.4h-2.4zM493.0 1032.6h2.4v2.4h-2.4zM490.4 1032.8h2.4v2.4h-2.4zM487.7 1033.0h2.4v2.4h-2.4zM485.1 1033.2h2.4v2.4h-2.4zM482.5 1033.4h2.4v2.4h-2.4zM479.9 1033.6h2.4v2.4h-2.4zM477.4 1033.9h2.4v2.4h-2.4zM474.9 1034.2h2.4v2.4h-2.4zM472.5 1034.5h2.4v2.4h-2.4zM345.2 1024.9h2.4v2.4h-2.4zM342.7 1024.2h2.4v2.4h-2.4zM340.2 1023.6h2.4v2.4h-2.4zM337.4 1023.0h2.4v2.4h-2.4zM334.5 1022.4h2.4v2.4h-2.4zM331.5 1021.8h2.4v2.4h-2.4zM328.3 1021.2h2.4v2.4h-2.4zM324.9 1020.7h2.4v2.4h-2.4zM321.3 1020.2h2.4v2.4h-2.4zM317.6 1019.7h2.4v2.4h-2.4zM313.6 1019.2h2.4v2.4h-2.4zM309.5 1018.8h2.4v2.4h-2.4zM305.2 1018.5h2.4v2.4h-2.4zM300.8 1018.1h2.4v2.4h-2.4zM296.1 1017.8h2.4v2.4h-2.4zM291.4 1017.6h2.4v2.4h-2.4zM286.5 1017.3h2.4v2.4h-2.4zM281.5 1017.2h2.4v2.4h-2.4zM276.4 1017.1h2.4v2.4h-2.4zM271.2 1017.0h2.4v2.4h-2.4zM266.0 1017.0h2.4v2.4h-2.4zM260.9 1017.0h2.4v2.4h-2.4zM255.7 1017.1h2.4v2.4h-2.4zM250.6 1017.2h2.4v2.4h-2.4zM245.7 1017.3h2.4v2.4h-2.4zM240.8 1017.6h2.4v2.4h-2.4zM236.0 1017.8h2.4v2.4h-2.4zM231.4 1018.1h2.4v2.4h-2.4zM227.0 1018.4h2.4v2.4h-2.4zM222.7 1018.8h2.4v2.4h-2.4zM218.7 1019.2h2.4v2.4h-2.4zM214.8 1019.6h2.4v2.4h-2.4zM211.1 1020.1h2.4v2.4h-2.4zM207.5 1020.6h2.4v2.4h-2.4zM204.2 1021.1h2.4v2.4h-2.4zM201.0 1021.7h2.4v2.4h-2.4zM198.0 1022.3h2.4v2.4h-2.4zM195.1 1022.9h2.4v2.4h-2.4zM192.4 1023.5h2.4v2.4h-2.4zM189.9 1024.1h2.4v2.4h-2.4zM92.9 1029.4h2.4v2.4h-2.4zM95.4 1029.0h2.4v2.4h-2.4zM223.6 1029.0h2.4v2.4h-2.4zM226.1 1029.5h2.4v2.4h-2.4zM228.6 1030.0h2.4v2.4h-2.4z" clip-path="url(#clipEA)"/>
<path fill="#ffb000" d="M532.6 1309.4h2.4v2.4h-2.4z" clip-path="url(#clipEA)"/>
<path fill="#0008ff" d="M565.5 1027.6h2.4v2.4h-2.4zM563.0 1027.1h2.4v2.4h-2.4zM560.4 1026.5h2.4v2.4h-2.4zM557.7 1026.0h2.4v2.4h-2.4zM554.9 1025.5h2.4v2.4h-2.4zM551.9 1025.1h2.4v2.4h-2.4zM548.9 1024.6h2.4v2.4h-2.4zM545.7 1024.2h2.4v2.4h-2.4zM542.4 1023.8h2.4v2.4h-2.4zM539.0 1023.5h2.4v2.4h-2.4zM535.5 1023.2h2.4v2.4h-2.4zM531.9 1022.9h2.4v2.4h-2.4zM528.3 1022.6h2.4v2.4h-2.4zM524.5 1022.4h2.4v2.4h-2.4zM520.6 1022.2h2.4v2.4h-2.4zM516.7 1022.0h2.4v2.4h-2.4zM512.7 1021.9h2.4v2.4h-2.4zM508.7 1021.8h2.4v2.4h-2.4zM504.7 1021.8h2.4v2.4h-2.4zM500.6 1021.8h2.4v2.4h-2.4zM496.6 1021.8h2.4v2.4h-2.4zM492.6 1021.9h2.4v2.4h-2.4zM488.6 1022.0h2.4v2.4h-2.4zM484.6 1022.1h2.4v2.4h-2.4zM480.7 1022.3h2.4v2.4h-2.4zM476.9 1022.5h2.4v2.4h-2.4zM473.1 1022.8h2.4v2.4h-2.4zM469.5 1023.1h2.4v2.4h-2.4zM465.9 1023.4h2.4v2.4h-2.4zM462.4 1023.7h2.4v2.4h-2.4zM459.1 1024.1h2.4v2.4h-2.4zM455.8 1024.5h2.4v2.4h-2.4zM452.7 1025.0h2.4v2.4h-2.4zM449.7 1025.4h2.4v2.4h-2.4zM446.7 1025.9h2.4v2.4h-2.4zM443.9 1026.4h2.4v2.4h-2.4zM441.3 1027.0h2.4v2.4h-2.4zM438.7 1027.5h2.4v2.4h-2.4zM436.2 1028.1h2.4v2.4h-2.4zM385.3 1012.9h2.4v2.4h-2.4zM382.5 1012.1h2.4v2.4h-2.4zM379.2 1011.3h2.4v2.4h-2.4zM375.5 1010.5h2.4v2.4h-2.4zM371.1 1009.8h2.4v2.4h-2.4zM366.0 1009.0h2.4v2.4h-2.4zM360.1 1008.3h2.4v2.4h-2.4zM353.0 1007.6h2.4v2.4h-2.4zM344.6 1007.0h2.4v2.4h-2.4zM334.7 1006.4h2.4v2.4h-2.4zM323.1 1006.0h2.4v2.4h-2.4zM309.7 1005.6h2.4v2.4h-2.4zM294.8 1005.3h2.4v2.4h-2.4zM278.6 1005.2h2.4v2.4h-2.4zM262.2 1005.2h2.4v2.4h-2.4zM246.3 1005.3h2.4v2.4h-2.4zM231.6 1005.6h2.4v2.4h-2.4zM218.6 1006.0h2.4v2.4h-2.4zM207.4 1006.5h2.4v2.4h-2.4zM197.9 1007.1h2.4v2.4h-2.4zM189.8 1007.7h2.4v2.4h-2.4zM183.0 1008.4h2.4v2.4h-2.4zM177.2 1009.1h2.4v2.4h-2.4zM172.3 1009.9h2.4v2.4h-2.4zM168.1 1010.6h2.4v2.4h-2.4zM164.5 1011.4h2.4v2.4h-2.4zM161.4 1012.2h2.4v2.4h-2.4zM158.6 1013.0h2.4v2.4h-2.4zM605.8 1012.7h2.4v2.4h-2.4zM602.9 1011.9h2.4v2.4h-2.4zM599.6 1011.1h2.4v2.4h-2.4zM595.7 1010.3h2.4v2.4h-2.4zM591.2 1009.6h2.4v2.4h-2.4zM586.0 1008.8h2.4v2.4h-2.4zM579.8 1008.1h2.4v2.4h-2.4zM572.5 1007.5h2.4v2.4h-2.4zM563.8 1006.9h2.4v2.4h-2.4zM553.6 1006.3h2.4v2.4h-2.4zM541.6 1005.9h2.4v2.4h-2.4zM527.9 1005.5h2.4v2.4h-2.4zM512.6 1005.3h2.4v2.4h-2.4zM496.4 1005.2h2.4v2.4h-2.4zM479.9 1005.2h2.4v2.4h-2.4zM464.2 1005.4h2.4v2.4h-2.4zM449.9 1005.7h2.4v2.4h-2.4zM437.3 1006.2h2.4v2.4h-2.4zM426.4 1006.7h2.4v2.4h-2.4zM417.2 1007.3h2.4v2.4h-2.4zM409.4 1007.9h2.4v2.4h-2.4zM402.8 1008.6h2.4v2.4h-2.4zM397.3 1009.3h2.4v2.4h-2.4zM392.5 1010.1h2.4v2.4h-2.4zM388.4 1010.9h2.4v2.4h-2.4zM384.9 1011.7h2.4v2.4h-2.4zM381.8 1012.5h2.4v2.4h-2.4zM379.2 1013.3h2.4v2.4h-2.4zM402.0 1008.1h2.4v2.4h-2.4zM398.8 1007.2h2.4v2.4h-2.4zM394.9 1006.4h2.4v2.4h-2.4zM389.7 1005.6h2.4v2.4h-2.4zM382.8 1004.8h2.4v2.4h-2.4zM373.2 1004.0h2.4v2.4h-2.4zM359.4 1003.3h2.4v2.4h-2.4zM339.2 1002.7h2.4v2.4h-2.4zM310.0 1002.2h2.4v2.4h-2.4zM272.8 1002.1h2.4v2.4h-2.4zM235.9 1002.2h2.4v2.4h-2.4zM207.2 1002.7h2.4v2.4h-2.4zM187.4 1003.3h2.4v2.4h-2.4zM173.9 1004.0h2.4v2.4h-2.4zM164.5 1004.8h2.4v2.4h-2.4zM157.7 1005.6h2.4v2.4h-2.4zM152.6 1006.4h2.4v2.4h-2.4zM148.7 1007.2h2.4v2.4h-2.4zM145.6 1008.1h2.4v2.4h-2.4zM117.1 1033.7h2.4v2.4h-2.4zM119.5 1033.4h2.4v2.4h-2.4zM122.0 1033.2h2.4v2.4h-2.4zM124.5 1033.0h2.4v2.4h-2.4zM127.1 1032.8h2.4v2.4h-2.4zM129.6 1032.6h2.4v2.4h-2.4zM132.2 1032.4h2.4v2.4h-2.4zM134.9 1032.3h2.4v2.4h-2.4zM137.5 1032.2h2.4v2.4h-2.4zM140.2 1032.1h2.4v2.4h-2.4zM142.9 1032.0h2.4v2.4h-2.4zM145.5 1031.9h2.4v2.4h-2.4zM148.2 1031.9h2.4v2.4h-2.4zM151.0 1031.9h2.4v2.4h-2.4zM153.7 1031.9h2.4v2.4h-2.4zM156.4 1031.9h2.4v2.4h-2.4zM159.1 1031.9h2.4v2.4h-2.4zM161.8 1032.0h2.4v2.4h-2.4zM164.5 1032.1h2.4v2.4h-2.4zM167.2 1032.2h2.4v2.4h-2.4zM169.8 1032.3h2.4v2.4h-2.4zM172.5 1032.4h2.4v2.4h-2.4zM175.1 1032.6h2.4v2.4h-2.4zM177.7 1032.7h2.4v2.4h-2.4zM180.3 1032.9h2.4v2.4h-2.4zM182.9 1033.1h2.4v2.4h-2.4zM185.4 1033.4h2.4v2.4h-2.4zM187.9 1033.6h2.4v2.4h-2.4zM190.3 1033.9h2.4v2.4h-2.4zM192.8 1034.2h2.4v2.4h-2.4zM564.0 1033.0h2.4v2.4h-2.4zM566.5 1032.7h2.4v2.4h-2.4zM569.0 1032.4h2.4v2.4h-2.4zM571.5 1032.1h2.4v2.4h-2.4zM574.1 1031.8h2.4v2.4h-2.4zM576.7 1031.5h2.4v2.4h-2.4zM579.4 1031.3h2.4v2.4h-2.4zM582.1 1031.0h2.4v2.4h-2.4zM584.8 1030.8h2.4v2.4h-2.4zM587.6 1030.6h2.4v2.4h-2.4zM590.4 1030.5h2.4v2.4h-2.4zM593.2 1030.3h2.4v2.4h-2.4zM596.0 1030.2h2.4v2.4h-2.4zM598.9 1030.1h2.4v2.4h-2.4zM601.8 1030.0h2.4v2.4h-2.4zM604.6 1030.0h2.4v2.4h-2.4zM607.5 1029.9h2.4v2.4h-2.4zM610.4 1029.9h2.4v2.4h-2.4zM613.3 1029.9h2.4v2.4h-2.4zM616.2 1029.9h2.4v2.4h-2.4zM619.1 1030.0h2.4v2.4h-2.4zM621.9 1030.1h2.4v2.4h-2.4zM624.8 1030.2h2.4v2.4h-2.4zM627.6 1030.3h2.4v2.4h-2.4zM630.4 1030.4h2.4v2.4h-2.4zM633.2 1030.6h2.4v2.4h-2.4zM636.0 1030.7h2.4v2.4h-2.4zM638.7 1030.9h2.4v2.4h-2.4zM641.4 1031.1h2.4v2.4h-2.4zM644.0 1031.4h2.4v2.4h-2.4zM646.6 1031.6h2.4v2.4h-2.4zM649.2 1031.9h2.4v2.4h-2.4zM651.7 1032.2h2.4v2.4h-2.4zM654.2 1032.5h2.4v2.4h-2.4zM656.7 1032.8h2.4v2.4h-2.4zM113.2 1033.5h2.4v2.4h-2.4zM115.6 1033.2h2.4v2.4h-2.4zM118.1 1033.0h2.4v2.4h-2.4zM120.6 1032.7h2.4v2.4h-2.4zM123.1 1032.5h2.4v2.4h-2.4zM125.7 1032.3h2.4v2.4h-2.4zM128.3 1032.1h2.4v2.4h-2.4zM130.9 1031.9h2.4v2.4h-2.4zM133.6 1031.7h2.4v2.4h-2.4zM136.3 1031.6h2.4v2.4h-2.4zM139.0 1031.5h2.4v2.4h-2.4zM141.7 1031.4h2.4v2.4h-2.4zM144.4 1031.3h2.4v2.4h-2.4zM147.2 1031.3h2.4v2.4h-2.4zM149.9 1031.2h2.4v2.4h-2.4zM152.7 1031.2h2.4v2.4h-2.4zM155.5 1031.2h2.4v2.4h-2.4zM158.2 1031.2h2.4v2.4h-2.4zM161.0 1031.3h2.4v2.4h-2.4zM163.8 1031.4h2.4v2.4h-2.4zM166.5 1031.5h2.4v2.4h-2.4zM169.2 1031.6h2.4v2.4h-2.4zM172.0 1031.7h2.4v2.4h-2.4zM174.7 1031.8h2.4v2.4h-2.4zM177.3 1032.0h2.4v2.4h-2.4zM180.0 1032.2h2.4v2.4h-2.4zM182.6 1032.4h2.4v2.4h-2.4zM185.2 1032.6h2.4v2.4h-2.4zM187.7 1032.9h2.4v2.4h-2.4zM190.2 1033.1h2.4v2.4h-2.4zM192.7 1033.4h2.4v2.4h-2.4zM195.2 1033.7h2.4v2.4h-2.4zM98.3 1031.2h2.4v2.4h-2.4zM100.8 1030.8h2.4v2.4h-2.4zM103.2 1030.4h2.4v2.4h-2.4zM105.8 1030.0h2.4v2.4h-2.4zM108.4 1029.6h2.4v2.4h-2.4zM111.1 1029.3h2.4v2.4h-2.4zM113.8 1029.0h2.4v2.4h-2.4zM116.6 1028.6h2.4v2.4h-2.4zM119.4 1028.3h2.4v2.4h-2.4zM122.3 1028.1h2.4v2.4h-2.4zM125.3 1027.8h2.4v2.4h-2.4zM128.3 1027.6h2.4v2.4h-2.4zM131.3 1027.4h2.4v2.4h-2.4zM134.4 1027.2h2.4v2.4h-2.4zM137.5 1027.0h2.4v2.4h-2.4zM140.7 1026.9h2.4v2.4h-2.4zM143.9 1026.8h2.4v2.4h-2.4zM147.1 1026.7h2.4v2.4h-2.4zM150.3 1026.6h2.4v2.4h-2.4zM153.5 1026.6h2.4v2.4h-2.4zM156.8 1026.6h2.4v2.4h-2.4zM160.1 1026.6h2.4v2.4h-2.4zM163.3 1026.6h2.4v2.4h-2.4zM166.6 1026.7h2.4v2.4h-2.4zM169.8 1026.8h2.4v2.4h-2.4zM173.0 1026.9h2.4v2.4h-2.4zM176.2 1027.0h2.4v2.4h-2.4zM179.4 1027.2h2.4v2.4h-2.4zM182.5 1027.3h2.4v2.4h-2.4zM185.6 1027.5h2.4v2.4h-2.4zM188.6 1027.8h2.4v2.4h-2.4zM191.6 1028.0h2.4v2.4h-2.4zM194.6 1028.3h2.4v2.4h-2.4zM197.4 1028.6h2.4v2.4h-2.4zM200.3 1028.9h2.4v2.4h-2.4zM203.1 1029.2h2.4v2.4h-2.4zM205.8 1029.6h2.4v2.4h-2.4zM208.5 1030.0h2.4v2.4h-2.4zM211.1 1030.3h2.4v2.4h-2.4zM213.6 1030.7h2.4v2.4h-2.4zM216.1 1031.2h2.4v2.4h-2.4zM218.5 1031.6h2.4v2.4h-2.4z" clip-path="url(#clipEA)"/>
<path fill="#7c00ff" d="M619.9 1008.1h2.4v2.4h-2.4zM616.8 1007.2h2.4v2.4h-2.4zM612.9 1006.4h2.4v2.4h-2.4zM607.7 1005.6h2.4v2.4h-2.4zM600.9 1004.8h2.4v2.4h-2.4zM591.4 1004.0h2.4v2.4h-2.4zM577.8 1003.3h2.4v2.4h-2.4zM557.7 1002.7h2.4v2.4h-2.4zM528.8 1002.2h2.4v2.4h-2.4zM491.7 1002.1h2.4v2.4h-2.4zM454.6 1002.2h2.4v2.4h-2.4zM425.7 1002.7h2.4v2.4h-2.4zM405.7 1003.3h2.4v2.4h-2.4zM392.1 1004.0h2.4v2.4h-2.4zM382.6 1004.8h2.4v2.4h-2.4zM375.7 1005.6h2.4v2.4h-2.4zM370.6 1006.4h2.4v2.4h-2.4zM366.7 1007.3h2.4v2.4h-2.4zM363.5 1008.1h2.4v2.4h-2.4zM97.9 1028.5h2.4v2.4h-2.4zM100.5 1028.1h2.4v2.4h-2.4zM103.2 1027.7h2.4v2.4h-2.4zM106.0 1027.3h2.4v2.4h-2.4zM108.8 1026.9h2.4v2.4h-2.4zM111.7 1026.5h2.4v2.4h-2.4zM114.7 1026.2h2.4v2.4h-2.4zM117.8 1025.8h2.4v2.4h-2.4zM120.9 1025.5h2.4v2.4h-2.4zM124.2 1025.3h2.4v2.4h-2.4zM127.4 1025.0h2.4v2.4h-2.4zM130.8 1024.8h2.4v2.4h-2.4zM134.2 1024.6h2.4v2.4h-2.4zM137.6 1024.4h2.4v2.4h-2.4zM141.1 1024.2h2.4v2.4h-2.4zM144.7 1024.1h2.4v2.4h-2.4zM148.2 1024.0h2.4v2.4h-2.4zM151.8 1023.9h2.4v2.4h-2.4zM155.4 1023.9h2.4v2.4h-2.4zM159.1 1023.9h2.4v2.4h-2.4zM162.7 1023.9h2.4v2.4h-2.4zM166.3 1023.9h2.4v2.4h-2.4zM170.0 1024.0h2.4v2.4h-2.4zM173.5 1024.1h2.4v2.4h-2.4zM177.1 1024.2h2.4v2.4h-2.4zM180.6 1024.3h2.4v2.4h-2.4zM184.1 1024.5h2.4v2.4h-2.4zM187.6 1024.7h2.4v2.4h-2.4zM191.0 1025.0h2.4v2.4h-2.4zM194.3 1025.2h2.4v2.4h-2.4zM197.5 1025.5h2.4v2.4h-2.4zM200.7 1025.8h2.4v2.4h-2.4zM203.9 1026.1h2.4v2.4h-2.4zM206.9 1026.5h2.4v2.4h-2.4zM209.9 1026.8h2.4v2.4h-2.4zM212.8 1027.2h2.4v2.4h-2.4zM215.6 1027.6h2.4v2.4h-2.4zM218.3 1028.1h2.4v2.4h-2.4zM221.0 1028.5h2.4v2.4h-2.4z" clip-path="url(#clipEA)"/>
<path fill="#72ff00" d="M525.1 1288.8h2.4v2.4h-2.4z" clip-path="url(#clipEA)"/>
<g fill="none" stroke-width="2.85" stroke-linejoin="round" stroke-linecap="round" clip-path="url(#clipET)">
<path stroke="#ffb000" d="M878.0 1310.8l.2 -.5M1084.3 1310.8l.2 -.6M832.5 1310.6l.2 .5M1269.6 1310.8l.2 -.7"/>
<path stroke="#ffdc00" d="M850.2 1306.8l1.1 2.7M1114.2 1309.6l2 -3.2M1165.2 1306.6l2 2.9M1313.1 1309.1l.9 -2.7M765.1 1309.1l1.1 -3.2M906.0 1306.8l1.1 2.9M1023.2 1309.4l1.5 -3.4M1122.3 1306.7l1.1 3M794.7 1307.1l.2 -.7M1224.3 1307.0l.4 -.7M1276.1 1306.6l.2 .3M990.4 1306.6l.2 -.6M1245.5 1306.7l.2 -.5M823.3 1308.8l2.6 -2.3M850.4 1306.6l2.6 2.2M1015.2 1308.6l.9 -2.7M1188.0 1306.8l.7 1.6M773.7 1306.8l1.3 2.8M1040.5 1309.4l1.3 -3.5M1198.5 1307.0l.9 2.6M1332.8 1309.9l2 -3.6M878.2 1310.3l1.8 -4M954.1 1306.7l2 3.9M1084.5 1310.1l1.3 -3.8M1239.2 1306.8l1.3 3.6M957.2 1307.3l.4 -1.2M1052.1 1306.8l.2 .5M1171.8 1307.5l.4 -1.2M1314.2 1306.8l.2 .6M808.9 1306.7l1.3 3.4M924.4 1309.9l1.5 -3.5M1027.6 1307.0l1.1 3.1M1298.7 1310.0l1.3 -3.9M889.4 1306.6l.9 2.1M1156.0 1309.1l5.7 -1.1l5.7 1M1341.3 1308.7l.9 -2.8M869.0 1307.7l.7 -1.6M1046.2 1306.9l.2 .7M800.6 1308.9l5.2 -.8l5.1 .8M1077.3 1308.5l.9 -2.1M1253.8 1306.8l.7 2.1M880.4 1309.0l.9 -2.6M1077.3 1306.8l.7 1.9M895.9 1308.8l.9 -2.5M1092.6 1306.8l.7 2M941.4 1309.3l1.1 -3.5M1128.7 1306.8l.9 2.1M979.9 1308.0l.7 -2M1175.9 1306.9l.4 1.2M1112.9 1310.2l1.5 -4M1305.9 1307.2l.9 2.8M1132.0 1309.8l1.5 -3.8M1320.1 1307.0l.9 2.8M788.5 1306.5l.9 2.7M1222.1 1309.7l1.3 -3.5M831.0 1306.8l1.5 3.8M1269.8 1310.1l1.3 -4.2"/>
<path stroke="#f6ff00" d="M848.2 1301.8l2 5M1116.2 1306.4l3.5 -5.1M1161.5 1301.5l3.7 5.1M1314.0 1306.5l1.8 -5.4M876.0 1301.7l.7 2M1017.3 1303.6l1.3 -2.2M1077.7 1301.6l1.1 2.1M1349.2 1303.4l.9 -2.3M766.2 1305.9l1.5 -4.5M904.0 1301.4l2 5.3M1024.8 1306.0l2.2 -4.9M1120.6 1301.9l1.8 4.8M765.6 1302.7l.7 -1.9M912.1 1301.6l.4 1.2M1185.3 1303.2l.9 -2.1M1262.8 1301.8l.7 1.3M794.9 1306.4l1.8 -5.4M956.5 1302.0l2 5M1224.7 1306.3l3.3 -5.1M1272.6 1301.6l3.5 5M799.7 1305.7l1.8 -4.3M965.3 1302.0l1.1 3.4M1121.7 1305.9l4.2 -4.6M1158.0 1301.6l3.7 4.4M855.0 1304.4l1.3 -3.5M989.6 1301.6l.9 2.6M1264.3 1304.6l1.3 -3.7M1363.6 1301.9l1.1 2.5M990.7 1305.9l1.5 -4.6M1126.5 1301.9l1.8 4.7M1245.7 1306.2l2.2 -5M1344.6 1301.5l1.8 4.9M825.9 1306.5l6.1 -3.7l5.9 -1.1l6.2 1.2l6.3 3.8M1016.0 1305.9l1.5 -4.9M1185.8 1301.5l2.2 5.3M771.0 1301.5l2.6 5.3M1041.8 1305.9l1.8 -4.7M1196.7 1301.8l1.8 5.2M1334.8 1306.3l2.8 -5.1M880.0 1306.3l2.4 -5.3M951.5 1301.7l2.6 5M1085.8 1306.4l1.8 -5.1M1237.4 1302.0l1.8 4.8M816.1 1304.7l4.8 -3.4M838.2 1301.5l4.6 3.4M1111.0 1304.7l1.5 -3.7M1279.2 1301.5l.9 2.8M957.6 1306.1l2 -5.2M1049.7 1301.5l2.4 5.3M1172.2 1306.3l2 -5.4M1312.4 1301.7l1.8 5.1M807.1 1302.0l1.8 4.7M925.9 1306.4l2.2 -5M1025.7 1301.5l2 5.5M1300.0 1306.2l1.8 -5.2M920.9 1303.5l.9 -2.6M1034.8 1301.9l.7 1.6M1151.0 1303.4l.9 -2.2M1273.3 1301.7l.4 1.3M887.4 1301.9l2 4.7M1342.2 1305.9l1.5 -4.9M869.7 1306.2l2.2 -5.2M1044.7 1302.0l1.5 4.9M1078.2 1306.4l2.2 -5.2M1252.3 1301.9l1.5 4.9M789.6 1301.5l1.8 4.2M1243.8 1305.5l1.3 -4.2M918.2 1301.5l1.3 4.2M1361.4 1306.1l2 -4.8M819.4 1306.1l1.8 -4.8M1012.1 1301.9l1.3 4.1M881.3 1306.4l1.8 -5.2M1075.5 1301.7l1.8 5.1M896.8 1306.3l1.8 -5M1090.8 1301.5l1.8 5.3M942.5 1305.8l1.5 -5M1126.5 1301.5l2.2 5.4M980.6 1306.0l1.5 -4.7M1174.2 1302.0l1.8 4.9M1114.5 1306.2l2 -5.1M1304.1 1301.6l1.8 5.6M1133.5 1306.0l2 -4.8M1318.6 1302.1l1.5 4.9M1170.2 1302.6l.7 -1.6M1351.6 1301.5l.2 .7M760.1 1302.0l.2 .7M1206.1 1302.5l.7 -1.6M787.0 1301.7l1.5 4.8M1223.4 1306.1l2 -5.3M829.0 1301.9l2 4.9M1271.1 1305.9l1.5 -4.9"/>
<path stroke="#caff00" d="M846.1 1296.2l2.2 5.6M1119.7 1301.3l4.4 -5.4M1156.9 1296.1l4.6 5.4M1315.7 1301.1l1.8 -5.5M874.3 1296.4l1.8 5.3M1018.7 1301.4l3.5 -5.7M1074.7 1296.0l3.1 5.5M1350.1 1301.1l2 -5.3M767.8 1301.4l2 -5.9M902.1 1296.0l2 5.4M1027.0 1301.1l2.4 -5.4M1118.4 1296.1l2.2 5.9M766.2 1300.8l1.8 -5.1M910.2 1296.0l2 5.6M1186.2 1301.1l2.4 -5.5M1259.9 1296.1l2.8 5.7M796.6 1301.1l1.8 -5.5M954.3 1296.3l2.2 5.6M1228.0 1301.2l3.9 -5.3M1268.2 1296.1l4.4 5.5M801.4 1301.4l2.2 -5.5M963.5 1296.4l1.8 5.5M1125.8 1301.3l6.6 -5.4M1151.7 1296.1l6.3 5.5M856.3 1300.9l2 -5.4M987.8 1296.3l1.8 5.3M1265.6 1301.0l2 -5.4M1361.2 1296.4l2.4 5.5M992.2 1301.4l2 -5.9M1124.5 1296.5l2 5.4M1247.9 1301.2l2.4 -5.5M1342.6 1296.1l2 5.4M1017.6 1301.0l1.8 -5.6M1183.6 1296.2l2.2 5.3M768.2 1296.1l2.8 5.4M1043.6 1301.3l2 -5.3M1195.0 1296.5l1.8 5.3M1337.6 1301.2l3.3 -5.6M882.4 1301.0l2.6 -5.5M948.4 1296.0l3.1 5.7M1087.6 1301.3l2 -5.9M1235.4 1296.5l2 5.5M820.9 1301.4l4.4 -1.8l4.4 -.6l4.1 .6l4.4 1.9M1112.5 1301.0l2.2 -5.4M1277.7 1296.6l1.5 4.9M959.6 1300.9l2 -5.1M1047.3 1296.2l2.4 5.3M1174.2 1300.9l2 -5.5M1310.7 1296.5l1.8 5.2M804.9 1296.0l2.2 6M928.1 1301.4l2.4 -5.5M1023.7 1296.1l2 5.4M1301.7 1301.0l1.8 -5.3M921.8 1300.9l1.8 -5.2M1032.7 1296.5l2.2 5.4M1151.9 1301.2l2.2 -5.6M1271.5 1296.5l1.8 5.3M885.0 1296.1l2.4 5.8M1343.7 1301.0l1.8 -5.7M871.9 1300.9l2.2 -5.3M1042.9 1296.4l1.8 5.7M1080.3 1301.2l2.2 -5.3M1250.5 1296.2l1.8 5.7M787.4 1296.3l2.2 5.3M1245.1 1301.3l1.8 -5.7M916.7 1296.5l1.5 5M1363.4 1301.3l2.2 -5.4M821.1 1301.3l2 -5.4M1010.3 1296.4l1.8 5.5M883.0 1301.2l1.8 -5.2M1073.6 1296.0l2 5.8M898.6 1301.3l2 -5.7M1089.1 1296.2l1.8 5.3M944.1 1300.8l1.5 -5M1124.3 1296.1l2.2 5.4M982.1 1301.3l2 -6.1M1172.2 1296.5l2 5.6M1116.4 1301.1l2.2 -5.6M1302.4 1295.9l1.8 5.6M1135.5 1301.2l2.2 -5.4M1316.8 1296.4l1.8 5.7M1170.9 1301.0l2.2 -5.3M1350.1 1296.5l1.5 5M758.3 1296.3l1.8 5.7M1206.8 1300.9l2.2 -5.3M785.2 1296.1l1.8 5.5M1225.4 1300.8l2 -5.3M826.8 1296.5l2.2 5.4M1272.6 1300.9l1.8 -5.7"/>
<path stroke="#9eff00" d="M843.9 1290.6l2.2 5.7M1124.1 1295.9l6.1 -5.5M1150.6 1290.6l6.3 5.6M1317.5 1295.6l1.8 -5.6M872.5 1291.0l1.8 5.4M1022.2 1295.7l3.5 -5.3M1071.4 1290.6l3.3 5.4M1352.0 1295.8l2.2 -6M769.7 1295.5l1.8 -5.3M900.1 1290.5l2 5.5M1029.4 1295.7l2.4 -5.4M1116.4 1290.9l2 5.2M768.0 1295.7l2 -5.9M908.4 1290.9l1.8 5M1188.6 1295.6l2.4 -5.3M1257.1 1290.6l2.8 5.5M798.4 1295.6l1.8 -5.6M952.2 1290.6l2.2 5.7M1231.9 1295.9l5.2 -5.5M1262.8 1290.5l5.5 5.5M803.6 1295.9l2.2 -5.5M961.8 1290.8l1.8 5.6M1132.4 1295.9l4.8 -2.3l4.8 -.7l4.8 .8l4.9 2.4M858.3 1295.5l2 -5.5M986.1 1291.0l1.8 5.3M1267.6 1295.5l2 -5.4M1358.8 1290.8l2.4 5.6M994.2 1295.5l1.8 -5.3M1122.6 1291.0l2 5.5M1250.3 1295.7l2.4 -5.5M1340.7 1290.8l2 5.3M1019.3 1295.4l1.5 -5M1181.4 1290.8l2.2 5.4M765.1 1290.8l3.1 5.3M1045.6 1295.9l2.2 -6M1193.2 1291.1l1.8 5.4M1340.9 1295.6l3.3 -5.2M885.0 1295.5l2.6 -5.2M945.4 1290.5l3.1 5.4M1089.5 1295.4l1.8 -5.3M1233.5 1291.0l2 5.5M1114.7 1295.6l2.2 -5.4M1275.9 1291.0l1.8 5.7M961.6 1295.8l2.2 -5.6M1044.9 1290.9l2.4 5.3M1176.2 1295.4l1.8 -5M1308.7 1290.7l2 5.9M803.0 1290.5l2 5.5M930.5 1295.9l2.4 -5.5M1021.7 1290.7l2 5.4M1303.5 1295.7l1.8 -5.3M923.5 1295.7l2 -5.8M1030.5 1291.0l2.2 5.5M1154.1 1295.6l2 -5.1M1269.6 1290.5l2 6M882.8 1290.8l2.2 5.3M1345.5 1295.3l1.5 -5M874.1 1295.7l2.2 -5.3M1041.2 1290.6l1.8 5.7M1082.5 1295.9l2.4 -5.8M1248.8 1290.5l1.8 5.7M785.0 1290.5l2.4 5.8M1246.8 1295.6l1.8 -5.8M738.0 1294.2l1.5 -3.8M915.0 1290.7l1.8 5.7M1365.6 1295.9l2.4 -5.9M823.1 1295.9l2.2 -6M1008.6 1290.9l1.8 5.5M884.8 1295.9l2 -5.9M1071.8 1290.8l1.8 5.1M900.5 1295.6l2 -5.7M1087.3 1290.9l1.8 5.3M945.6 1295.8l1.8 -5.8M1122.1 1290.7l2.2 5.4M984.1 1295.3l1.8 -5.4M1170.2 1290.9l2 5.6M1118.6 1295.5l2 -5.1M1300.8 1291.0l1.5 5M1137.7 1295.8l2.4 -5.9M1315.1 1290.6l1.8 5.8M1173.1 1295.7l2.2 -5.3M1348.3 1290.8l1.8 5.8M756.6 1290.5l1.8 5.8M1209.0 1295.6l2.2 -5.3M783.5 1290.6l1.8 5.6M1227.3 1295.6l2 -5.3M824.4 1290.5l2.4 6M1274.4 1295.2l1.5 -5"/>
<path stroke="#72ff00" d="M841.5 1284.2l2.4 6.3M1130.2 1290.3l5 -2.6l5.1 -.9l5 1l5.2 2.7M1319.2 1290.0l2 -6.4M870.3 1284.1l2.2 6.9M1025.7 1290.4l5.2 -6.8M1066.6 1283.9l4.8 6.8M1354.2 1289.9l2.4 -6.7M771.5 1290.3l2.2 -6.6M897.9 1284.2l2.2 6.3M1031.8 1290.3l3.1 -6.8M1113.8 1284.1l2.6 6.8M769.9 1289.8l2.2 -6.6M906.0 1283.9l2.4 7M1191.0 1290.3l3.3 -6.8M1253.6 1284.0l3.5 6.5M800.1 1290.1l2 -6.3M949.8 1284.3l2.4 6.4M1237.2 1290.4l6.3 -4.2l3.1 -1l3.3 -.4l3.1 .4l3.2 1.1l6.6 4.2M805.8 1290.4l2.6 -6.8M959.8 1284.4l2 6.4M860.3 1290.0l2.4 -6.8M983.9 1284.4l2.2 6.7M1269.6 1290.2l2.4 -6.4M1356.0 1284.3l2.8 6.6M995.9 1290.2l2.2 -6.7M1120.2 1284.2l2.4 6.8M1252.7 1290.2l2.8 -6.5M1338.2 1284.4l2.4 6.4M1020.8 1290.4l2.2 -7.2M1178.8 1284.3l2.6 6.5M760.8 1284.0l4.4 6.7M1047.8 1289.9l2.4 -6.7M1191.0 1284.3l2.2 6.8M1344.2 1290.4l4.8 -6.8M887.6 1290.3l3.7 -6.8M941.4 1284.0l3.9 6.5M1091.3 1290.1l2.2 -6.8M1231.1 1284.1l2.4 6.9M1116.9 1290.2l2.6 -6.6M1273.9 1284.5l2 6.5M963.8 1290.2l2.6 -6.5M1041.8 1284.2l3.1 6.6M1177.9 1290.4l2.4 -7M1306.5 1284.1l2.2 6.6M800.8 1284.4l2.2 6.2M932.9 1290.3l2.8 -6.5M1019.3 1284.3l2.4 6.4M1305.2 1290.4l2.2 -6.7M925.5 1289.9l2.2 -6.4M1027.8 1284.3l2.6 6.7M1156.0 1290.4l2.6 -7M1267.4 1283.9l2.2 6.6M880.0 1283.9l2.8 7M1347.0 1290.3l2 -6.5M876.2 1290.4l2.8 -7M1039.2 1284.1l2 6.5M1084.9 1290.1l2.6 -6.4M1246.8 1284.0l2 6.5M782.4 1284.0l2.6 6.4M1248.6 1289.9l2 -6.6M739.5 1290.4l2.8 -7M913.0 1284.2l2 6.5M825.3 1289.9l2.4 -6.6M1006.4 1284.0l2.2 6.9M886.8 1290.0l2.2 -6.6M1069.6 1284.4l2.2 6.4M902.5 1289.9l2.2 -6.3M1085.2 1284.2l2.2 6.7M947.3 1290.1l2 -6.5M1119.5 1284.3l2.6 6.5M985.8 1289.9l2 -6.1M1167.8 1284.1l2.4 6.8M1120.6 1290.4l2.6 -6.8M1298.7 1283.9l2.2 7.1M1140.1 1289.9l2.6 -6.5M1313.1 1284.1l2 6.5M1175.3 1290.4l2.8 -6.9M1346.3 1284.2l2 6.6M754.6 1284.0l2 6.5M1211.2 1290.2l2.8 -7M781.5 1284.3l2 6.3M1229.3 1290.3l2.6 -7M821.8 1283.9l2.6 6.5M1275.9 1290.2l2 -6.5"/>
<path stroke="#46ff00" d="M838.6 1276.6l2.8 7.6M1321.2 1283.6l2.4 -7.9M867.9 1276.4l2.4 7.7M1030.9 1283.6l3.9 -4.2l4 -3.3M1058.9 1276.2l3.7 3.2l4 4.5M1356.6 1283.2l2.6 -7.4M773.7 1283.6l2.6 -8M895.3 1276.5l2.6 7.7M1034.8 1283.5l3.5 -7.7M1110.8 1276.5l3.1 7.6M772.1 1283.2l2.4 -7.4M903.4 1276.2l2.6 7.8M1194.3 1283.5l3.9 -7.5M1249.2 1276.4l4.4 7.6M802.1 1283.7l2.4 -7.9M946.9 1276.6l2.8 7.7M808.4 1283.6l3.1 -8M957.4 1276.4l2.4 8M862.7 1283.2l2.6 -7.6M981.2 1276.3l2.6 8.1M1272.0 1283.8l3.1 -8M1352.5 1276.3l3.5 8M998.1 1283.5l2.4 -7.4M1117.5 1276.6l2.6 7.6M1255.6 1283.7l3.5 -7.9M1335.2 1276.5l3.1 7.9M1023.0 1283.2l2.2 -7.3M1175.7 1276.5l3.1 7.8M754.2 1276.2l6.6 7.9M1050.2 1283.2l2.6 -7.4M1188.6 1276.6l2.4 7.7M1349.0 1283.6l6.8 -7.6M891.3 1283.6l4.8 -7.6M936.2 1276.2l5.2 7.7M1093.5 1283.3l2.4 -7.6M1228.4 1276.5l2.6 7.6M1119.5 1283.5l3.1 -7.8M1271.5 1276.4l2.4 8M966.4 1283.6l3.3 -7.8M1038.1 1276.4l3.7 7.9M1180.3 1283.4l2.6 -7.8M1304.1 1276.7l2.4 7.3M797.9 1276.1l2.8 8.2M935.8 1283.8l3.5 -8M1016.2 1276.3l3.1 8M1307.4 1283.7l2.6 -8.1M927.7 1283.4l2.6 -7.7M1024.8 1276.5l3.1 7.8M1158.7 1283.5l2.8 -7.7M1265.0 1276.6l2.4 7.3M876.9 1276.3l3.1 7.6M1349.0 1283.7l2.4 -8.1M879.1 1283.4l3.1 -7.6M1037.0 1276.7l2.2 7.4M1087.6 1283.6l3.1 -7.6M1244.6 1276.6l2.2 7.4M779.3 1276.5l3.1 7.6M1250.5 1283.3l2.2 -7.4M742.4 1283.4l3.1 -7.6M910.6 1276.2l2.4 8.1M827.7 1283.3l2.8 -7.8M1004.0 1276.3l2.4 7.6M888.9 1283.4l2.6 -7.9M1067.0 1276.8l2.6 7.7M904.7 1283.6l2.6 -7.6M1082.5 1276.2l2.6 8M949.3 1283.5l2.4 -8.1M1116.2 1276.2l3.3 8.1M987.8 1283.8l2.6 -8.2M1165.2 1276.7l2.6 7.4M1123.2 1283.7l3.1 -7.9M1296.5 1276.7l2.2 7.2M1142.7 1283.4l3.1 -7.6M1310.9 1276.8l2.2 7.3M1178.1 1283.5l3.1 -7.5M1344.2 1276.8l2.2 7.4M752.4 1276.6l2.2 7.4M1214.0 1283.3l3.1 -7.5M779.1 1276.5l2.4 7.7M1231.9 1283.3l2.8 -7.6M818.7 1276.3l3.1 7.6M1277.9 1283.7l2.4 -8"/>
<path stroke="#1aff00" d="M835.8 1268.9l2.8 7.7M1323.6 1275.7l2.2 -7.3M865.5 1268.5l2.4 7.9M1038.8 1276.1l5 -2.7l5.1 -.9l5 .9l5 2.8M1359.2 1275.8l2.6 -7.5M776.3 1275.6l2.4 -7.5M892.7 1268.6l2.6 7.8M1038.3 1275.8l3.5 -7.4M1107.5 1268.7l3.3 7.8M774.5 1275.8l2.4 -7.6M901.0 1268.9l2.4 7.2M1198.2 1276.0l4.6 -7.6M1244.2 1268.6l5 7.8M804.5 1275.8l2.4 -8.1M944.1 1268.8l2.8 7.8M811.5 1275.6l2.8 -7.6M955.2 1269.0l2.2 7.4M865.3 1275.6l2.6 -7.7M978.8 1268.8l2.4 7.5M1275.0 1275.8l3.1 -7.7M1349.2 1268.9l3.3 7.4M1000.5 1276.1l2.6 -8.1M1114.9 1268.8l2.6 7.7M1259.1 1275.8l3.5 -7.7M1332.1 1268.9l3.1 7.6M1025.2 1275.8l2.2 -7.5M1172.7 1268.6l3.1 7.9M738.0 1269.9l4.2 -.3l3.9 1l3.9 2.1l4.2 3.4M1052.8 1275.8l2.6 -7.6M1186.2 1268.7l2.4 7.8M1355.8 1276.1l6.1 -4.5l3.1 -1.3l3.1 -.6M896.2 1276.0l6.1 -7.5M929.6 1268.5l6.6 7.7M1095.9 1275.7l2.4 -7.7M1225.8 1268.8l2.6 7.7M1122.6 1275.7l2.8 -7.4M1269.3 1269.0l2.2 7.4M969.7 1275.8l3.3 -7.4M1034.4 1268.8l3.7 7.6M1182.9 1275.6l2.4 -7.3M1301.5 1268.7l2.6 8.1M795.5 1269.1l2.4 7.1M939.2 1275.8l3.5 -7.8M1013.2 1268.6l3.1 7.7M1310.0 1275.7l2.4 -7.5M930.3 1275.7l2.6 -7.6M1021.7 1268.6l3.1 7.9M1161.5 1275.8l2.8 -7.8M1262.3 1268.6l2.6 7.9M873.8 1268.5l3.1 7.7M1351.4 1275.6l2.2 -7.5M882.2 1275.8l3.1 -7.7M1034.8 1269.2l2.2 7.5M1090.6 1276.0l3.1 -7.7M1242.4 1269.1l2.2 7.5M776.3 1268.8l3.1 7.7M1252.7 1275.9l2.2 -7.5M745.4 1275.8l3.1 -7.6M908.4 1268.7l2.2 7.4M830.5 1275.6l2.8 -7.7M1001.6 1268.7l2.4 7.7M891.6 1275.5l2.4 -7.3M1064.4 1269.1l2.6 7.7M907.3 1276.1l2.8 -8.2M1080.1 1268.9l2.4 7.4M951.7 1275.4l2.2 -7.4M1113.2 1268.6l3.1 7.6M990.4 1275.6l2.4 -7.5M1162.4 1268.7l2.8 8M1126.3 1275.8l3.1 -7.9M1294.1 1268.7l2.4 8M1145.8 1275.9l3.1 -7.6M1308.5 1268.6l2.4 8.2M1181.2 1276.0l3.1 -7.5M1341.8 1268.6l2.4 8.2M750.2 1269.2l2.2 7.4M1217.1 1275.8l3.1 -7.6M776.7 1268.8l2.4 7.8M1234.8 1275.7l2.8 -7.6M815.7 1268.6l3.1 7.7M1280.3 1275.7l2.2 -7.4"/>
<path stroke="#00ff12" d="M832.7 1260.4l3.1 8.5M1325.8 1268.4l2.6 -9M863.1 1260.4l2.4 8M1361.9 1268.3l3.1 -8.9M778.7 1268.1l2.6 -8.2M889.8 1260.0l2.8 8.6M1041.8 1268.4l4.2 -8.4M1103.8 1260.4l3.7 8.3M776.9 1268.2l2.6 -8.4M898.1 1260.2l2.8 8.7M1202.8 1268.4l6.6 -8.5M1237.4 1260.2l6.8 8.5M806.9 1267.7l2.4 -8.2M941.0 1260.2l3.1 8.6M814.3 1268.0l3.1 -8.3M952.6 1260.0l2.6 9M867.9 1267.9l2.8 -8.5M976.2 1260.6l2.6 8.2M1278.1 1268.1l3.5 -8.4M1345.2 1260.4l3.9 8.6M1003.1 1268.0l2.6 -8.2M1112.1 1260.3l2.8 8.5M1262.6 1268.0l3.9 -8.4M1328.4 1260.1l3.7 8.8M1027.4 1268.4l2.6 -9.1M1169.4 1260.0l3.3 8.6M1055.4 1268.2l2.8 -8.4M1183.6 1260.0l2.6 8.7M902.3 1268.4l3.5 -3.1l3.3 -2.1l3.5 -1.4l3.3 -.3l3.2 .4l3.5 1.3l3.5 2.3l3.5 3M1098.3 1268.0l2.6 -8.6M1223.0 1260.3l2.8 8.5M1125.4 1268.3l3.3 -8.7M1266.9 1260.7l2.4 8.3M972.9 1268.4l4.2 -8.6M1029.8 1260.0l4.6 8.8M1185.3 1268.3l2.8 -8.8M1298.9 1260.5l2.6 8.2M792.7 1260.6l2.8 8.5M942.8 1268.0l3.9 -8.5M1009.7 1260.3l3.5 8.3M1312.4 1268.2l2.8 -8.9M932.9 1268.1l3.1 -8.7M1018.4 1260.2l3.3 8.4M1164.3 1268.0l3.1 -8.4M1259.5 1260.1l2.8 8.6M870.6 1260.1l3.3 8.4M1353.6 1268.1l2.4 -8.4M885.2 1268.1l3.3 -8.4M1032.2 1260.1l2.6 9.1M1093.7 1268.3l3.3 -8.4M1239.8 1260.0l2.6 9.1M773.0 1260.4l3.3 8.4M1254.9 1268.4l2.6 -9.1M748.5 1268.2l3.5 -8.7M906.0 1260.5l2.4 8.2M833.4 1267.9l3.1 -8.3M999.0 1260.2l2.6 8.4M894.0 1268.3l2.8 -8.6M1061.3 1260.1l3.1 9M910.2 1267.9l2.8 -8.2M1077.3 1260.1l2.8 8.7M953.9 1268.0l2.4 -8.3M1109.9 1260.5l3.3 8.2M992.8 1268.1l2.6 -8.2M1159.3 1260.1l3.1 8.6M1129.3 1267.9l3.3 -8.4M1291.7 1260.7l2.4 8M1148.8 1268.3l3.5 -8.7M1306.1 1260.4l2.4 8.2M1184.2 1268.4l3.5 -8.7M1339.3 1260.3l2.4 8.3M747.6 1260.1l2.6 9M1220.1 1268.2l3.5 -8.7M774.1 1260.2l2.6 8.5M1237.6 1268.1l3.1 -8.2M812.4 1260.4l3.3 8.2M1282.5 1268.3l2.6 -8.9"/>
<path stroke="#00ff3e" d="M829.2 1250.5l3.5 9.9M1328.4 1259.4l2.8 -9.9M738.0 1255.4l2 -5.9M860.1 1250.0l3.1 10.4M1364.9 1259.4l3.1 -9.1M781.3 1259.9l3.3 -10.3M886.8 1250.5l3.1 9.5M1046.0 1259.9l5.5 -10.1M1098.7 1250.3l5 10.1M779.6 1259.7l3.1 -10.1M894.8 1250.1l3.3 10.2M1209.4 1259.8l3.5 -3.3l3.5 -2.4l3.5 -1.3l3.3 -.4l3.5 .5l3.5 1.4l3.5 2.4l3.7 3.4M809.3 1259.5l2.8 -9.9M937.5 1250.2l3.5 10M817.4 1259.7l3.7 -10.3M949.8 1250.0l2.8 10M870.8 1259.4l3.3 -10M972.9 1250.3l3.3 10.3M1281.6 1259.7l4.6 -10.2M1340.2 1250.1l5 10.3M1005.8 1259.8l3.3 -10.3M1108.8 1250.3l3.3 10M1266.5 1259.7l5 -10M1323.8 1250.2l4.6 9.9M1030.0 1259.3l2.8 -10M1165.7 1250.0l3.7 10M1058.2 1259.8l3.5 -10.5M1180.8 1250.4l2.8 9.6M1100.9 1259.4l2.8 -9.5M1219.7 1250.2l3.3 10M1128.7 1259.6l3.7 -10.1M1263.9 1249.9l3.1 10.8M977.1 1259.8l5.5 -9.9M1023.9 1250.0l5.9 10M1188.2 1259.5l3.3 -10.3M1295.6 1250.1l3.3 10.3M789.2 1249.9l3.5 10.6M946.7 1259.6l4.8 -9.7M1005.1 1250.2l4.6 10.1M1315.3 1259.3l3.1 -9.6M936.0 1259.4l3.5 -9.7M1014.5 1250.2l3.9 10M1167.4 1259.6l3.7 -10.3M1256.2 1250.3l3.3 9.8M866.8 1250.4l3.7 9.7M1356.0 1259.8l2.8 -10.1M888.5 1259.8l3.9 -10.2M1029.4 1250.0l2.8 10.1M1097.0 1259.9l3.9 -10.3M1237.0 1249.9l2.8 10.1M769.1 1250.2l3.9 10.2M1257.5 1259.3l2.8 -10.1M752.0 1259.5l3.9 -9.9M903.2 1250.7l2.8 9.8M836.4 1259.5l3.7 -10.1M995.9 1250.4l3.1 9.9M896.8 1259.7l3.3 -9.9M1058.0 1250.5l3.3 9.6M913.0 1259.7l3.5 -10M1074.0 1250.1l3.3 10.1M956.3 1259.8l2.8 -9.9M1105.7 1250.1l4.2 10.4M995.5 1259.9l3.3 -10.3M1155.8 1250.3l3.5 9.8M1132.6 1259.5l3.9 -10.1M1288.6 1250.4l3.1 10.3M1152.3 1259.6l3.9 -9.9M1303.2 1250.5l2.8 9.9M1187.8 1259.7l3.9 -9.9M1336.5 1250.4l2.8 9.9M744.8 1250.2l2.8 9.9M1223.6 1259.5l3.9 -9.9M771.0 1250.2l3.1 10M1240.7 1259.9l3.9 -10.5M808.2 1250.0l4.2 10.4M1285.1 1259.4l2.8 -9.8"/>
<path stroke="#00ff6a" d="M825.7 1240.3l3.5 10.2M1331.2 1249.5l2.8 -10.1M740.0 1249.5l3.3 -10M857.2 1240.1l2.8 9.9M784.6 1249.6l3.3 -10.4M883.5 1240.2l3.3 10.3M1051.5 1249.8l6.6 -10.3M1092.6 1240.0l6.1 10.2M782.6 1249.7l3.1 -10.2M891.8 1240.4l3.1 9.7M812.2 1249.7l2.8 -10.1M934.0 1240.0l3.5 10.3M821.1 1249.3l3.5 -10M946.9 1239.9l2.8 10.2M874.1 1249.4l3.3 -10.1M969.7 1240.0l3.3 10.3M1286.2 1249.6l5 -9.8M1334.8 1240.0l5.5 10M1009.0 1249.4l3.1 -9.7M1105.5 1240.2l3.3 10.1M1271.5 1249.7l5.7 -10M1318.3 1239.8l5.5 10.3M1032.9 1249.2l2.6 -9.4M1161.9 1239.8l3.7 10.2M1061.8 1249.3l3.3 -10.1M1177.9 1240.5l2.8 9.8M1103.8 1249.9l3.1 -10.4M1216.4 1240.0l3.3 10.2M1132.4 1249.5l3.5 -9.7M1261.2 1240.5l2.6 9.4M982.6 1249.9l7.4 -10.3M1016.2 1239.8l7.7 10.1M1191.5 1249.2l3.1 -9.8M1292.5 1240.4l3.1 9.7M785.9 1239.8l3.3 10.1M951.5 1249.8l5.7 -10.3M999.8 1240.0l5.2 10.2M1318.3 1249.7l3.3 -10.4M939.5 1249.7l3.7 -10M1010.3 1239.9l4.2 10.3M1171.1 1249.4l3.5 -9.6M1252.7 1240.0l3.5 10.3M862.9 1239.9l3.9 10.5M1358.8 1249.7l2.8 -10.2M892.4 1249.6l3.7 -9.9M1026.8 1240.6l2.6 9.4M1100.9 1249.6l3.7 -9.9M1234.3 1240.5l2.6 9.4M765.3 1240.4l3.7 9.8M1260.4 1249.2l2.6 -9.4M755.9 1249.7l3.9 -9.9M900.1 1239.9l3.1 10.7M840.2 1249.5l3.7 -10M992.8 1240.5l3.1 9.9M900.1 1249.8l3.5 -10.6M1054.5 1240.3l3.5 10.2M916.5 1249.7l3.5 -10M1070.7 1240.0l3.3 10.1M959.2 1249.9l3.1 -10.8M1101.8 1240.1l3.9 9.9M998.8 1249.6l3.3 -10.3M1152.1 1239.9l3.7 10.4M1136.6 1249.4l3.7 -9.6M1285.5 1240.0l3.1 10.4M1156.2 1249.7l3.9 -9.9M1300.4 1240.5l2.8 10M1191.7 1249.9l4.2 -10.5M1333.7 1240.3l2.8 10.1M741.9 1240.2l2.8 10M1227.6 1249.7l3.9 -10M768.0 1240.1l3.1 10.1M1244.6 1249.5l3.7 -9.9M804.3 1240.0l3.9 10M1287.9 1249.6l2.8 -9.9"/>
<path stroke="#00ff96" d="M822.2 1229.8l3.5 10.4M1334.1 1239.4l2.8 -10.3M743.2 1239.5l3.3 -10.2M854.4 1230.1l2.8 10.1M787.9 1239.2l3.1 -9.8M880.2 1229.8l3.3 10.4M1058.0 1239.6l4.8 -5.8l4.6 -4M1083.4 1229.9l4.6 4.2l4.6 5.9M785.7 1239.4l2.8 -9.7M888.5 1229.9l3.3 10.5M815.0 1239.6l2.8 -10.3M930.7 1230.1l3.3 9.9M824.6 1239.3l3.3 -9.6M944.3 1230.3l2.6 9.5M877.3 1239.4l3.3 -10.1M966.6 1230.3l3.1 9.7M1291.2 1239.8l6.6 -10.3M1328.0 1229.8l6.8 10.2M1012.1 1239.8l3.3 -10.4M1102.2 1230.0l3.3 10.2M1277.2 1239.6l7.2 -10.1M1311.6 1229.9l6.8 10M1035.5 1239.8l2.8 -10.4M1158.4 1230.0l3.5 9.8M1065.0 1239.2l3.1 -9.6M1175.1 1230.5l2.8 10M1106.8 1239.4l2.8 -9.9M1213.3 1230.3l3.1 9.7M1135.9 1239.8l3.7 -10.6M1258.4 1230.1l2.8 10.4M990.0 1239.6l3.3 -3.2l3.3 -2.3l3.2 -1.3l3.1 -.4l3.3 .5l3.3 1.3l3.3 2.3l3.5 3.3M1194.5 1239.5l3.1 -9.9M1289.2 1229.9l3.3 10.5M782.8 1230.4l3.1 9.5M957.2 1239.6l6.8 -9.9M993.3 1229.9l6.6 10.1M1321.6 1239.3l3.1 -9.7M943.2 1239.7l3.9 -10M1006.2 1229.9l4.2 9.9M1174.6 1239.7l3.7 -10.1M1249.2 1229.9l3.5 10M859.2 1229.8l3.7 10.1M1361.7 1239.5l2.8 -10.4M896.2 1239.7l3.7 -10.1M1023.9 1230.2l2.8 10.4M1104.6 1239.7l3.7 -10.2M1231.5 1230.1l2.8 10.4M761.6 1230.3l3.7 10.1M1263.0 1239.8l2.8 -10.4M759.9 1239.7l3.9 -10M897.2 1229.8l2.8 10.1M843.9 1239.4l3.7 -10M989.6 1229.8l3.3 10.6M903.6 1239.3l3.3 -9.9M1051.0 1230.2l3.5 10.2M920.0 1239.7l3.5 -10M1067.4 1229.9l3.3 10.1M962.2 1239.1l2.6 -9.3M1097.8 1230.1l3.9 10M1002.0 1239.3l3.1 -9.6M1148.6 1230.2l3.5 9.7M1140.3 1239.8l3.9 -10.1M1282.7 1230.3l2.8 9.7M1160.2 1239.8l3.9 -10M1297.6 1230.4l2.8 10.1M1195.8 1239.3l3.7 -9.6M1330.8 1230.2l2.8 10.2M739.1 1230.0l2.8 10.2M1231.5 1239.7l3.9 -10.1M1367.3 1229.9l.7 2.4M764.9 1230.0l3.1 10.1M1248.3 1239.6l3.7 -9.8M800.3 1230.0l3.9 10M1290.8 1239.7l2.8 -10"/>
<path stroke="#00ffc2" d="M818.5 1218.5l3.7 11.4M1336.9 1229.1l3.1 -11.3M746.5 1229.3l3.7 -11.8M851.1 1218.2l3.3 11.8M790.9 1229.4l3.7 -11.9M876.5 1218.0l3.7 11.8M1067.4 1229.7l4.2 -2.1l3.9 -.6l3.9 .7l4 2.2M788.5 1229.7l3.5 -12.1M885.0 1218.5l3.5 11.4M817.8 1229.3l3.3 -12.1M927.0 1218.7l3.7 11.4M827.9 1229.8l3.9 -11.8M941.0 1218.2l3.3 12.1M880.6 1229.2l3.7 -11.5M962.9 1218.6l3.7 11.7M1297.8 1229.5l3.7 -4.3l3.7 -3.2l3.8 -1.9l3.7 -.7l3.7 .7l3.7 1.9l3.9 3.3l4 4.5M1015.4 1229.4l3.7 -11.7M1098.5 1218.4l3.7 11.6M1284.4 1229.6l3.5 -3.6l3.5 -2.5l3.3 -1.5l3.3 -.5l3.2 .5l3.5 1.7l3.3 2.5l3.5 3.7M1038.3 1229.4l3.3 -12.2M1154.3 1218.0l4.2 12M1068.1 1229.6l3.7 -11.9M1171.8 1218.8l3.3 11.7M1109.7 1229.6l3.5 -12.3M1209.6 1218.3l3.7 12M1139.6 1229.2l3.9 -11.5M1255.3 1218.8l3.1 11.4M1197.6 1229.6l3.7 -12.1M1285.8 1218.6l3.5 11.3M778.9 1218.1l3.9 12.2M964.0 1229.6l3.9 -4.3l3.8 -2.9l3.7 -1.8l3.5 -.5l3.5 .6l3.7 1.9l3.5 3l3.7 4.2M1324.7 1229.7l3.7 -11.7M947.1 1229.7l5.2 -12.2M1000.9 1218.3l5.2 11.7M1178.3 1229.7l4.6 -12.1M1245.1 1218.4l4.2 11.5M738.0 1222.5l1.3 -4.9M855.0 1218.2l4.2 11.6M1364.5 1229.1l3.1 -11.4M899.9 1229.6l4.4 -12.1M1020.6 1218.1l3.3 12.2M1108.3 1229.5l4.2 -11.6M1228.4 1218.8l3.1 11.4M757.2 1218.2l4.4 12.1M1265.8 1229.4l3.3 -12.2M763.8 1229.7l4.6 -11.8M894.0 1218.1l3.3 11.8M847.6 1229.4l4.4 -11.7M986.1 1218.4l3.5 11.4M906.9 1229.4l3.9 -11.8M1046.9 1218.1l4.2 12M923.5 1229.7l4.2 -11.8M1063.7 1218.5l3.7 11.4M964.8 1229.8l3.3 -11.8M1093.2 1218.2l4.6 11.9M1005.1 1229.7l3.9 -12.4M1144.2 1218.1l4.4 12.1M1144.2 1229.7l4.6 -11.8M1279.2 1218.2l3.5 12M1164.1 1229.7l4.6 -11.9M1294.3 1218.7l3.3 11.8M1199.6 1229.8l4.6 -12M1327.5 1218.3l3.3 11.9M738.0 1226.1l1.1 3.9M1235.4 1229.6l4.6 -11.9M1364.1 1218.1l3.3 11.9M761.4 1218.4l3.5 11.6M1252.1 1229.8l4.6 -12.1M795.8 1218.2l4.6 11.8M1293.6 1229.7l3.5 -12.4"/>
<path stroke="#00ffee" d="M814.6 1206.1l3.9 12.4M1340.0 1217.8l3.3 -12.3M750.2 1217.5l3.7 -12.1M847.8 1206.2l3.3 12M794.7 1217.5l3.7 -11.8M872.8 1206.2l3.7 11.8M792.0 1217.7l3.5 -12.2M881.3 1206.2l3.7 12.2M821.1 1217.3l3.1 -11.5M923.1 1206.2l3.9 12.4M831.8 1218.0l3.9 -12.1M937.9 1206.7l3.1 11.5M884.3 1217.7l3.9 -12.1M958.9 1206.4l3.9 12.2M1019.1 1217.6l3.9 -12.3M1094.6 1206.2l3.9 12.2M1041.6 1217.2l3.1 -11.6M1150.3 1206.3l3.9 11.7M1071.8 1217.7l3.7 -12.1M1168.3 1206.0l3.5 12.7M1113.2 1217.2l3.3 -11.7M1205.9 1206.1l3.7 12.2M1143.6 1217.7l3.9 -11.8M1252.1 1206.4l3.3 12.4M1201.3 1217.5l3.7 -12.1M1281.8 1205.9l3.9 12.7M775.0 1206.0l3.9 12.1M1328.4 1218.0l3.9 -12.2M952.4 1217.5l5.9 -11.7M994.6 1206.1l6.3 12.2M1182.9 1217.6l4.8 -12M1240.2 1206.0l4.8 12.5M739.3 1217.6l3.3 -12.4M850.9 1206.2l4.2 11.9M1367.6 1217.7l.4 -1.6M904.2 1217.5l4.2 -11.9M1017.6 1206.5l3.1 11.5M1112.5 1217.9l4.4 -12.6M1225.2 1206.4l3.3 12.4M753.1 1206.4l4.2 11.8M1269.1 1217.2l3.1 -11.5M768.4 1217.8l4.6 -12M890.7 1206.2l3.3 11.9M852.0 1217.7l4.6 -12.2M982.3 1206.3l3.7 12.1M910.8 1217.6l3.9 -11.7M1042.7 1206.2l4.2 11.9M927.7 1217.9l4.4 -12.3M1059.8 1206.5l3.9 12M968.1 1218.0l3.5 -12.7M1088.7 1206.1l4.6 12.1M1009.0 1217.3l3.7 -11.6M1139.8 1206.1l4.4 12M1148.8 1217.8l4.8 -12.4M1275.7 1206.1l3.5 12.1M1168.7 1217.9l4.6 -12M1290.8 1206.0l3.5 12.7M1204.2 1217.8l4.6 -12.2M1324.2 1206.2l3.3 12M1240.0 1217.7l4.6 -12.1M1360.8 1206.1l3.3 12M757.7 1206.0l3.7 12.4M1256.7 1217.7l4.6 -12.1M791.2 1206.3l4.6 11.9M1297.1 1217.3l3.3 -11.7"/>
<path stroke="#00e4ff" d="M810.8 1194.1l3.7 12M1343.3 1205.5l3.1 -11.7M754.0 1205.4l3.5 -11.6M844.5 1194.0l3.3 12.2M798.4 1205.7l3.9 -12.3M869.0 1194.5l3.7 11.7M795.5 1205.5l3.5 -12.3M877.6 1193.9l3.7 12.4M824.2 1205.8l3.3 -12.5M919.3 1194.2l3.7 12M835.8 1205.8l3.9 -12.5M934.7 1194.1l3.3 12.6M888.3 1205.6l3.9 -11.8M955.0 1194.5l3.9 11.9M1023.0 1205.3l3.9 -12M1090.6 1194.1l3.9 12M1044.7 1205.6l3.1 -11.8M1146.4 1194.3l3.9 12M1075.5 1205.6l3.7 -12.4M1165.0 1193.9l3.3 12.1M1116.4 1205.5l3.3 -11.9M1202.4 1194.4l3.5 11.7M1147.5 1205.8l3.9 -12.2M1249.0 1194.6l3.1 11.8M1205.0 1205.4l3.7 -12M1278.1 1194.0l3.7 11.9M771.0 1194.1l3.9 11.9M1332.3 1205.7l3.9 -12M958.3 1205.8l4.4 -7l4.4 -5.2M985.8 1194.0l4.2 5l4.5 7.1M1187.8 1205.6l5.2 -11.8M1235.2 1194.2l5 11.7M742.6 1205.2l3.1 -11.7M846.7 1193.9l4.2 12.3M908.4 1205.6l4.2 -12.2M1014.3 1194.0l3.3 12.5M1116.9 1205.3l3.9 -11.6M1222.1 1194.7l3.1 11.7M748.9 1194.2l4.2 12.2M1272.2 1205.7l3.3 -12.6M773.0 1205.8l4.6 -12.2M887.4 1194.2l3.3 12M856.6 1205.5l4.6 -12.2M978.6 1194.3l3.7 12.1M914.8 1205.8l4.2 -12.3M1038.6 1194.4l4.2 11.8M932.0 1205.6l4.4 -12.2M1055.6 1193.9l4.2 12.6M971.6 1205.3l3.3 -12M1084.1 1193.9l4.6 12.3M1012.8 1205.7l3.9 -12.3M1135.5 1194.2l4.4 11.9M1153.6 1205.4l4.6 -11.9M1272.2 1194.0l3.5 12.1M1173.3 1205.8l4.6 -12.2M1287.5 1194.0l3.3 12M1208.8 1205.6l4.4 -11.9M1321.0 1194.0l3.3 12.2M1244.6 1205.5l4.4 -11.8M1357.5 1194.0l3.3 12.1M754.2 1194.4l3.5 11.6M1261.2 1205.6l4.6 -12M786.6 1194.2l4.6 12.1M1300.4 1205.5l3.3 -11.8"/>
<path stroke="#00b8ff" d="M806.2 1178.9l4.6 15.2M1346.3 1193.8l3.9 -15.2M757.5 1193.7l4.6 -15.5M840.6 1179.2l3.9 14.8M802.3 1193.4l4.8 -14.6M864.0 1179.0l5 15.4M799.0 1193.2l4.2 -14.6M873.2 1179.3l4.4 14.6M827.5 1193.3l3.9 -15.2M914.8 1178.9l4.6 15.3M839.7 1193.4l4.6 -15M930.9 1179.6l3.7 14.5M892.2 1193.8l5.2 -15.1M949.8 1179.3l5.2 15.2M1027.0 1193.3l5 -14.7M1085.6 1179.4l5 14.8M1047.8 1193.8l3.9 -15.4M1141.6 1179.2l4.8 15.1M1079.2 1193.2l4.4 -14.8M1161.1 1179.2l3.9 14.7M1119.7 1193.6l4.2 -15.1M1198.0 1179.6l4.4 14.8M1151.4 1193.7l4.8 -15.3M1245.1 1179.2l3.9 15.4M1208.8 1193.4l4.6 -14.6M1273.3 1179.0l4.8 15.1M765.8 1178.9l5.2 15.2M1336.3 1193.8l5.2 -15.2M967.0 1193.6l4.8 -3.5l4.6 -1.1l4.6 1.3l4.8 3.6M1193.0 1193.7l4.4 -8.5l3.9 -6.4M1226.9 1178.9l3.9 6.5l4.4 8.8M745.7 1193.4l3.9 -15.3M841.9 1179.3l4.8 14.7M912.6 1193.4l5 -15.2M1010.6 1179.5l3.7 14.4M1120.8 1193.7l5 -15.3M1218.2 1179.3l3.9 15.3M743.9 1179.0l5 15.2M1275.5 1193.1l3.7 -14.5M777.6 1193.6l5.5 -14.8M883.2 1178.9l4.2 15.3M861.2 1193.3l5.7 -15M974.0 1179.4l4.6 14.8M918.9 1193.5l5 -14.7M1033.1 1179.0l5.5 15.4M936.4 1193.4l5.5 -15.1M1050.6 1178.9l5 15.1M974.9 1193.2l3.9 -14.6M1078.6 1179.0l5.5 14.9M1016.7 1193.4l4.8 -14.9M1130.0 1179.4l5.5 14.7M1158.2 1193.5l5.7 -14.9M1268.0 1179.5l4.2 14.5M1177.9 1193.6l5.5 -14.9M1283.6 1179.5l3.9 14.5M1213.1 1193.7l5.5 -15.2M1317.0 1179.3l3.9 14.8M1249.0 1193.7l5.5 -15.1M1353.6 1179.3l3.9 14.7M749.6 1179.2l4.6 15.2M1265.8 1193.6l5.7 -14.8M780.9 1179.0l5.7 15.2M1303.7 1193.7l4.2 -15.1"/>
<path stroke="#008cff" d="M801.9 1164.1l4.4 14.9M1350.3 1178.6l3.9 -15.5M762.1 1178.2l4.4 -15.1M836.7 1164.3l3.9 14.9M807.1 1178.8l5.5 -15.6M858.8 1163.9l5.2 15.1M803.2 1178.5l4.4 -15.2M868.6 1164.0l4.6 15.3M831.4 1178.1l3.7 -14.5M910.4 1164.0l4.4 14.9M844.3 1178.4l4.4 -14.7M927.0 1164.1l3.9 15.6M897.5 1178.7l5.7 -14.9M944.1 1164.3l5.7 15M1032.0 1178.6l5.7 -15.3M1079.9 1164.0l5.7 15.4M1051.7 1178.4l3.7 -14.8M1137.0 1164.3l4.6 14.9M1083.6 1178.4l4.4 -15M1157.1 1164.4l3.9 14.8M1123.9 1178.5l4.2 -15.1M1193.4 1164.0l4.6 15.6M1156.2 1178.3l4.6 -15.1M1241.3 1164.5l3.7 14.7M1213.3 1178.8l5 -15.3M1268.2 1163.9l5 15.1M760.1 1163.8l5.7 15.1M1341.5 1178.5l5.7 -15.1M1201.3 1178.8l3.3 -4.2l3.3 -3.1l3.2 -1.8l3.1 -.5l3.1 .6l3 1.7l3.3 3.1l3.3 4.3M749.6 1178.1l3.7 -14.7M837.1 1164.1l4.8 15.2M917.6 1178.2l4.8 -15.1M1006.6 1164.0l3.9 15.5M1125.8 1178.3l4.8 -15.2M1214.2 1163.8l3.9 15.6M739.1 1164.0l4.8 15M1279.2 1178.7l3.9 -15.5M1367.3 1163.9l.7 2.1M783.1 1178.8l5.5 -15.2M879.3 1164.3l3.9 14.6M866.8 1178.4l5.7 -14.8M969.2 1164.0l4.8 15.4M923.9 1178.8l5.2 -15.1M1027.6 1163.9l5.5 15.1M941.9 1178.4l5.5 -14.8M1045.6 1164.0l5 14.8M978.8 1178.6l4.2 -15.5M1073.3 1164.3l5.2 14.7M1021.5 1178.6l5 -15.3M1124.3 1164.3l5.7 15.1M1163.9 1178.6l5.7 -15M1263.7 1164.3l4.4 15.2M1183.4 1178.7l5.5 -15.2M1279.4 1164.0l4.2 15.4M1218.6 1178.5l5.2 -15M1313.1 1164.3l3.9 14.9M1254.5 1178.7l5.5 -15.5M1349.6 1164.5l3.9 14.8M745.0 1164.1l4.6 15.1M1271.5 1178.7l5.9 -15.4M775.4 1164.1l5.5 14.9M1307.8 1178.6l4.2 -15.2"/>
<path stroke="#0060ff" d="M796.0 1143.4l5.9 20.6M1354.2 1163.1l5.2 -20.8M766.4 1163.1l5.9 -20.6M831.2 1143.6l5.5 20.7M812.6 1163.2l8.5 -20.6M850.2 1143.0l8.5 20.9M807.6 1163.3l6.1 -20.6M862.2 1143.5l6.3 20.5M835.1 1163.6l5.5 -21.6M904.5 1143.3l5.9 20.7M848.7 1163.7l6.1 -21.2M921.8 1143.0l5.2 21.1M903.2 1163.7l5.7 -12.6l5 -8.5M933.3 1142.9l5 8.6l5.7 12.7M1037.7 1163.3l5.2 -12.2l4.6 -8.5M1070.1 1143.0l4.6 8.7l5.2 12.3M1055.4 1163.7l5.2 -21.2M1130.7 1142.9l6.3 21.4M1088.0 1163.4l6.1 -21.2M1151.4 1143.1l5.7 21.3M1128.0 1163.4l5.9 -21.2M1187.3 1143.3l6.1 20.7M1160.8 1163.2l6.1 -20.9M1236.1 1143.3l5.2 21.2M1218.4 1163.6l7.9 -21.2M1260.4 1142.9l7.9 21M749.8 1142.9l4.8 8.5l5.5 12.4M1347.2 1163.5l5.5 -12.3l4.8 -8.5M753.3 1163.4l5.2 -21.1M830.8 1143.4l6.3 20.8M922.4 1163.2l6.3 -20.6M1001.4 1143.0l5.2 21M1130.7 1163.1l6.3 -20.8M1209.2 1143.6l5 20.2M738.0 1160.5l1.1 3.5M1283.1 1163.1l5.2 -21M1361.0 1143.3l6.3 20.6M788.5 1163.6l7.4 -21.2M873.6 1143.1l5.7 21.2M872.5 1163.5l8.1 -20.8M962.7 1143.5l6.6 20.6M929.2 1163.7l7.7 -21.3M1020.0 1143.4l7.7 20.5M947.3 1163.6l8.1 -21.3M1038.3 1143.4l7.2 20.7M983.0 1163.1l5.5 -20.5M1065.9 1142.9l7.4 21.4M1026.5 1163.3l7 -20.7M1116.2 1143.3l8.1 21M1169.6 1163.6l7.9 -20.9M1257.5 1143.2l6.1 21.1M1188.8 1163.5l7.4 -21.3M1273.9 1143.6l5.5 20.4M1223.8 1163.5l7 -20.7M1307.6 1143.5l5.5 20.9M1259.9 1163.2l7 -20.4M1343.9 1142.9l5.7 21.6M738.4 1142.8l6.6 21.2M1277.4 1163.4l8.1 -20.9M1366.9 1143.4l1.1 3.5M768.0 1143.3l7.4 20.7M1312.0 1163.4l5.7 -20.8"/>
<path stroke="#0034ff" d="M738.0 1115.2l.4 -1.7M787.9 1114.4l8.1 29M1359.5 1142.3l7.2 -28.8M772.3 1142.6l8.3 -28.7M823.3 1114.5l7.9 29.1M821.1 1142.6l3.9 -7.2l3.8 -4.9l3.5 -2.9l3.5 -.9l3.5 1.2l3.5 3l3.7 5.2l3.7 6.9M813.7 1142.7l9.8 -28.9M852.0 1114.0l10.3 29.4M840.6 1142.0l7.2 -28.5M896.4 1114.4l8.1 29M854.8 1142.5l6.6 -23.5M916.1 1120.0l5.7 23M913.9 1142.6l4.8 -5.1l2.4 -1.3l2.4 -.5l2.4 .5l2.4 1.3l5.1 5.4M1047.5 1142.6l2.8 -4l2.9 -3l2.8 -1.8l2.7 -.5l2.6 .6l2.8 1.7l2.9 3l3 4.4M1060.7 1142.5l6.1 -25.1M1123.7 1118.3l7 24.6M1094.1 1142.2l8.5 -28.9M1143.6 1114.7l7.9 28.5M1133.9 1142.2l8.5 -28.5M1178.3 1114.6l9 28.7M1167.0 1142.4l8.1 -28.8M1229.1 1114.7l7 28.6M1226.2 1142.4l4.6 -9.9l4.4 -7.1l4.1 -4l2 -1l2 -.3l1.9 .4l2 1.1l4.2 4.2l4.3 7.2l4.6 9.9M738.0 1135.1l2.8 0l3.1 1.3l2.9 2.6l3 3.9M1357.5 1142.7l2.6 -3.4l2.7 -2.5l2.6 -1.5l2.6 -.4M758.6 1142.3l7 -28.6M822.2 1114.0l8.5 29.3M928.8 1142.6l7 -23.8M995.7 1119.9l5.7 23.1M1137.0 1142.3l8.3 -28.6M1202.0 1114.1l7.2 29.5M1288.4 1142.1l7 -28.5M1352.5 1114.2l8.5 29.1M796.0 1142.4l9.6 -28.5M866.0 1114.7l7.7 28.5M880.6 1142.7l11.6 -28.9M952.8 1114.1l9.8 29.3M936.8 1142.4l11.2 -28.9M1008.4 1114.3l11.6 29M955.4 1142.3l11.6 -28.6M1027.4 1114.1l10.9 29.2M988.5 1142.6l7.7 -28.7M1056.3 1114.1l9.6 28.8M1033.5 1142.5l10.5 -29.2M1104.4 1114.2l11.8 29.1M1177.5 1142.7l10.7 -28.8M1249.0 1114.5l8.5 28.7M1196.3 1142.2l9.6 -28.6M1266.1 1114.3l7.9 29.4M1230.8 1142.8l7.9 -24.2M1301.5 1119.9l6.1 23.5M1266.9 1142.7l9.6 -29.3M1336.5 1114.6l7.4 28.3M738.0 1141.4l.4 1.4M1285.5 1142.4l9.2 -23.4M1359.2 1119.5l7.7 23.9M757.9 1114.4l10.1 28.9M1317.7 1142.7l8.1 -29.3"/>
<path stroke="#0008ff" d="M738.4 1113.4l9.2 -35.3l6.1 -20.3l4.6 -10.9l2.2 -2.7l2 -.9l1.9 .9l2 2.4l4.8 11l6.1 19.3l10.5 37.5M1366.7 1113.5l1.3 -5.2M780.7 1113.9l7.2 -23l5.5 -14.3l4.6 -8.1l2.2 -2l2.2 -.7l2.1 .8l2.2 2.2l4.6 8.4l5.3 14.4l6.8 22.8M823.5 1113.8l3.9 -8.8l3.5 -5.9l3.5 -3.6l3.3 -1.1l3.3 1.2l3.5 3.8l3.5 5.9l3.9 8.8M847.8 1113.5l8.8 -33.1l5.9 -19.2l4.8 -11l2.2 -2.7l1.9 -.8l2 .8l2.2 2.6l4.8 10.6l6.1 19l9.9 34.7M861.4 1119.0l6.1 -22.4M910.6 1097.8l5.5 22.1M1066.8 1117.4l6.3 -26.2M1116.4 1091.9l7.2 26.4M1102.7 1113.2l6.6 -20.2l5.2 -13.1l4.6 -7.6l2.2 -1.8l2 -.5l1.9 .6l2.2 1.9l2.2 3.1l2.4 4.7l5.3 13.7l6.3 20.6M1142.5 1113.7l5.2 -14.8l4.4 -9.6l4.2 -5.7l1.9 -1.4l2 -.5l2 .6l2 1.4l4.1 5.8l4.6 9.9l5.5 15.1M1175.1 1113.5l20.8 -76.3l3.9 -11l1.5 -2.4l1.6 -.9l1.5 1l1.8 3.2l4.1 12.4l18.8 75.1M765.6 1113.8l22.5 -92.8l3.1 -11.4l1.5 -3.2l1.1 1.4l1.8 5.6l15.5 59.9l11.2 40.8M935.8 1118.8l5.7 -20.1M990.7 1099.2l5 20.7M1145.3 1113.7l11.2 -40.8l15.3 -59l1.7 -5.8l1.1 -1.7l.7 .5l.8 2.2l2.9 10.5l23 94.6M1295.4 1113.6l23.8 -98.2l2.7 -10.2l.8 -1.9l1.4 3.5l15.5 60.4l12.9 47M805.6 1113.9l15.8 -47.9l6.5 -18.5l5.3 -11.1l2.2 -2.6l1.9 -.7l2.2 1.1l2.2 2.9l2.6 5.4l2.9 7.5l7.4 23.8l11.4 40.9M892.2 1113.8l10.7 -24.6l8.1 -15.5l3.5 -5.1l3.3 -3.7l3.1 -2.1l2.8 -.6l2.8 .6l3.1 2.1l3.3 3.9l3.3 5.2l7.4 15.8l9.2 24.3M948.0 1113.5l9 -20.2l7.6 -13.6l3.5 -4.6l3.3 -3.2l3.3 -1.9l3.1 -.6l3 .6l3.3 1.9l3.5 3.4l3.5 4.6l7.9 13.8l9.4 20.6M967.0 1113.7l9.6 -20.9l7.9 -13.8l3.5 -4.6l3.5 -3.4l3.3 -1.9l3 -.5l3.1 .6l3.3 2.1l3.3 3.4l3.3 4.5l7.6 14.1l9 20.8M996.1 1113.9l11.6 -42.2l7.4 -24.2l5.3 -12.6l2.2 -2.9l1.9 -.9l2 .8l2 2.4l5 10.9l6.3 18.2l16.5 50.7M1044.0 1113.4l9 -21.8l7.4 -14.2l3.3 -4.7l3.3 -3.4l3 -2l3.1 -.6l3.1 .6l3.2 2.1l3.3 3.4l3.5 4.7l8.1 14.6l10.1 22.2M1188.2 1113.9l12.5 -32.7l7.8 -18.1l3.3 -6l3.1 -4.3l2.6 -2.3l2.6 -.9l2.7 .9l2.8 2.7l2.9 4.3l3.2 6.7l7.5 19.4l9.8 30.8M1205.9 1113.6l16 -48.8l6.3 -18l5 -10.9l2.2 -2.7l2 -.8l2.2 1l2.2 2.8l5.2 12.4l7.5 23.8l11.6 41.8M1238.7 1118.6l6.8 -21.6M1295.6 1097.3l5.9 22.6M1276.6 1113.4l23 -71.7l4.6 -10.6l1.9 -2.6l1.8 -.8l2 1l1.9 2.8l5.3 13.3l7.4 25.1l12 44.7M1294.7 1119.0l8.3 -20.4M1352.2 1099.1l7 20.4M738.0 1057.4l19.9 57M1325.8 1113.3l9 -31.3l6.5 -20.8l5.1 -13.3l4.1 -7.4l2 -1.9l1.7 -.5l1.8 .5l2 1.8l4.3 7.5l5.7 14"/>
<path stroke="#2400ff" d="M867.5 1096.6l8.1 -29.5M902.9 1067.8l7.7 30.1M1073.1 1091.2l11.8 -48M1103.8 1044.1l12.7 47.8M941.4 1098.6l7.2 -26.6M984.3 1073.0l6.3 26.2M1245.5 1097.0l9.2 -29.9M1287.7 1067.8l7.9 29.5M1303.0 1098.6l6.8 -15.5l5.5 -10.9M1341.5 1072.9l5 11.3l5.7 14.9"/>
<path stroke="#5000ff" d="M875.6 1067.1l4.8 -16.3l3.5 -9.9l2.9 -5.6l1.3 -1.3l1.3 -.5l1.3 .5l1.3 1.4l2.9 5.7l3.5 10.3l4.5 16.4M1084.9 1043.2l5.7 -19.7l2 -4.2l1.5 -1.2l1.5 1.2l2 4.1l6.1 20.6M948.7 1072.1l8.8 -33.5M976.2 1039.5l8.1 33.5M1254.7 1067.1l7.9 -24.9l4.8 -12.5M1275.9 1030.2l4.8 13.3l7 24.3M1315.3 1072.3l3.7 -6.1l3.5 -4.3l3.1 -2.4l3 -.8l3.1 .9l3.1 2.6l3.3 4.4l3.5 6.3"/>
<path stroke="#7c00ff" d="M957.4 1038.5l7.9 -31l1.5 -4.3l1.8 5.2l7.6 31.1M1267.4 1029.7l2.2 -3.5l1.1 -.9l1.1 -.2l1.9 1.3l2.2 3.8"/>
</g>
<path fill="#f00" d="M843.8 1292.2h2.4v2.4h-2.4zM1129.0 1289.1h2.4v2.4h-2.4zM1154.8 1294.0h2.4v2.4h-2.4zM1161.8 1302.3h2.4v2.4h-2.4zM1313.2 1303.9h2.4v2.4h-2.4zM1317.1 1291.6h2.4v2.4h-2.4zM1018.8 1298.0h2.4v2.4h-2.4zM1073.2 1294.4h2.4v2.4h-2.4zM1348.6 1300.5h2.4v2.4h-2.4zM1349.1 1299.3h2.4v2.4h-2.4zM1350.6 1295.2h2.4v2.4h-2.4zM1351.9 1291.7h2.4v2.4h-2.4zM764.6 1306.0h2.4v2.4h-2.4zM1026.0 1299.4h2.4v2.4h-2.4zM1114.8 1288.5h2.4v2.4h-2.4zM1118.3 1297.8h2.4v2.4h-2.4zM1119.2 1300.1h2.4v2.4h-2.4zM767.9 1291.3h2.4v2.4h-2.4zM1261.1 1299.7h2.4v2.4h-2.4zM798.3 1290.9h2.4v2.4h-2.4zM951.4 1290.6h2.4v2.4h-2.4zM952.7 1294.0h2.4v2.4h-2.4zM1229.2 1296.7h2.4v2.4h-2.4zM1235.1 1290.0h2.4v2.4h-2.4zM1272.7 1302.2h2.4v2.4h-2.4zM803.1 1293.1h2.4v2.4h-2.4zM1130.1 1295.4h2.4v2.4h-2.4zM1132.3 1294.0h2.4v2.4h-2.4zM1142.8 1291.8h2.4v2.4h-2.4zM1155.0 1298.6h2.4v2.4h-2.4zM1155.7 1299.3h2.4v2.4h-2.4zM857.3 1293.7h2.4v2.4h-2.4zM987.5 1297.8h2.4v2.4h-2.4zM1362.9 1301.7h2.4v2.4h-2.4zM1340.8 1293.1h2.4v2.4h-2.4zM1344.5 1303.3h2.4v2.4h-2.4zM823.2 1306.6h2.4v2.4h-2.4zM842.5 1301.5h2.4v2.4h-2.4zM1014.4 1306.1h2.4v2.4h-2.4zM1015.5 1302.6h2.4v2.4h-2.4zM1018.1 1294.2h2.4v2.4h-2.4zM1184.1 1299.3h2.4v2.4h-2.4zM769.8 1300.3h2.4v2.4h-2.4zM1042.4 1300.1h2.4v2.4h-2.4zM1338.8 1295.9h2.4v2.4h-2.4zM945.0 1290.9h2.4v2.4h-2.4zM1232.3 1289.8h2.4v2.4h-2.4zM819.0 1300.5h2.4v2.4h-2.4zM823.2 1298.6h2.4v2.4h-2.4zM839.8 1302.2h2.4v2.4h-2.4zM1113.9 1293.3h2.4v2.4h-2.4zM1045.9 1294.5h2.4v2.4h-2.4zM1310.8 1299.2h2.4v2.4h-2.4zM921.4 1297.1h2.4v2.4h-2.4zM1031.2 1294.7h2.4v2.4h-2.4zM1163.1 1307.0h2.4v2.4h-2.4zM1164.0 1307.2h2.4v2.4h-2.4zM870.0 1301.3h2.4v2.4h-2.4zM875.9 1287.0h2.4v2.4h-2.4zM1247.8 1290.0h2.4v2.4h-2.4zM1008.5 1293.2h2.4v2.4h-2.4zM884.2 1292.8h2.4v2.4h-2.4zM896.5 1302.6h2.4v2.4h-2.4zM898.0 1298.2h2.4v2.4h-2.4zM1091.2 1305.0h2.4v2.4h-2.4zM1113.0 1305.6h2.4v2.4h-2.4zM1116.1 1297.7h2.4v2.4h-2.4zM1316.5 1298.0h2.4v2.4h-2.4zM1227.7 1290.3h2.4v2.4h-2.4zM824.1 1291.4h2.4v2.4h-2.4zM1270.1 1304.0h2.4v2.4h-2.4z" clip-path="url(#clipET)"/>
<path fill="#000" d="M844.9 1295.0h2.4v2.4h-2.4zM847.5 1301.7h2.4v2.4h-2.4zM850.1 1308.3h2.4v2.4h-2.4zM1113.0 1308.4h2.4v2.4h-2.4zM1150.2 1290.0h2.4v2.4h-2.4zM1160.3 1300.3h2.4v2.4h-2.4zM1166.0 1308.3h2.4v2.4h-2.4zM1311.9 1307.9h2.4v2.4h-2.4zM875.5 1302.5h2.4v2.4h-2.4zM1016.1 1302.4h2.4v2.4h-2.4zM1077.6 1302.5h2.4v2.4h-2.4zM1348.0 1302.2h2.4v2.4h-2.4zM1350.4 1295.8h2.4v2.4h-2.4zM763.9 1307.9h2.4v2.4h-2.4zM765.5 1303.4h2.4v2.4h-2.4zM905.9 1308.5h2.4v2.4h-2.4zM1022.0 1308.2h2.4v2.4h-2.4zM1117.6 1296.0h2.4v2.4h-2.4zM1122.2 1308.5h2.4v2.4h-2.4zM764.4 1301.5h2.4v2.4h-2.4zM769.2 1287.3h2.4v2.4h-2.4zM911.4 1301.6h2.4v2.4h-2.4zM1184.1 1302.0h2.4v2.4h-2.4zM1190.5 1287.7h2.4v2.4h-2.4zM1259.6 1296.6h2.4v2.4h-2.4zM1262.2 1301.9h2.4v2.4h-2.4zM793.5 1305.9h2.4v2.4h-2.4zM799.4 1287.5h2.4v2.4h-2.4zM956.9 1304.7h2.4v2.4h-2.4zM957.3 1305.8h2.4v2.4h-2.4zM1223.1 1305.8h2.4v2.4h-2.4zM1258.1 1286.7h2.4v2.4h-2.4zM1267.9 1295.9h2.4v2.4h-2.4zM1275.1 1305.7h2.4v2.4h-2.4zM798.5 1304.5h2.4v2.4h-2.4zM801.1 1298.0h2.4v2.4h-2.4zM801.5 1296.9h2.4v2.4h-2.4zM963.9 1300.1h2.4v2.4h-2.4zM965.2 1304.2h2.4v2.4h-2.4zM1120.5 1304.7h2.4v2.4h-2.4zM1153.7 1297.4h2.4v2.4h-2.4zM1160.5 1304.8h2.4v2.4h-2.4zM853.8 1303.2h2.4v2.4h-2.4zM855.8 1297.9h2.4v2.4h-2.4zM857.5 1293.1h2.4v2.4h-2.4zM989.2 1303.0h2.4v2.4h-2.4zM1263.1 1303.4h2.4v2.4h-2.4zM1358.9 1292.6h2.4v2.4h-2.4zM1363.5 1303.2h2.4v2.4h-2.4zM989.2 1305.4h2.4v2.4h-2.4zM1127.0 1305.4h2.4v2.4h-2.4zM1244.3 1305.5h2.4v2.4h-2.4zM1250.9 1290.5h2.4v2.4h-2.4zM1338.8 1287.8h2.4v2.4h-2.4zM1345.1 1305.1h2.4v2.4h-2.4zM822.1 1307.6h2.4v2.4h-2.4zM851.9 1307.7h2.4v2.4h-2.4zM1014.0 1307.4h2.4v2.4h-2.4zM1187.4 1307.2h2.4v2.4h-2.4zM767.6 1296.1h2.4v2.4h-2.4zM773.8 1308.4h2.4v2.4h-2.4zM1039.3 1308.2h2.4v2.4h-2.4zM1042.0 1301.2h2.4v2.4h-2.4zM1197.5 1306.4h2.4v2.4h-2.4zM1197.9 1307.7h2.4v2.4h-2.4zM1198.1 1308.3h2.4v2.4h-2.4zM1331.6 1308.7h2.4v2.4h-2.4zM1336.0 1300.8h2.4v2.4h-2.4zM876.8 1309.6h2.4v2.4h-2.4zM884.7 1292.5h2.4v2.4h-2.4zM945.3 1291.2h2.4v2.4h-2.4zM954.9 1309.4h2.4v2.4h-2.4zM1083.1 1309.6h2.4v2.4h-2.4zM1232.5 1290.4h2.4v2.4h-2.4zM1239.3 1309.1h2.4v2.4h-2.4zM814.9 1303.5h2.4v2.4h-2.4zM819.7 1300.2h2.4v2.4h-2.4zM837.4 1300.6h2.4v2.4h-2.4zM839.4 1301.9h2.4v2.4h-2.4zM841.6 1303.7h2.4v2.4h-2.4zM1109.8 1303.5h2.4v2.4h-2.4zM1274.5 1289.0h2.4v2.4h-2.4zM1278.9 1303.1h2.4v2.4h-2.4zM956.0 1306.1h2.4v2.4h-2.4zM1051.1 1306.1h2.4v2.4h-2.4zM1170.6 1306.3h2.4v2.4h-2.4zM1307.3 1288.8h2.4v2.4h-2.4zM1313.2 1306.3h2.4v2.4h-2.4zM808.5 1307.8h2.4v2.4h-2.4zM809.0 1308.9h2.4v2.4h-2.4zM923.2 1308.7h2.4v2.4h-2.4zM930.6 1291.6h2.4v2.4h-2.4zM1019.6 1287.1h2.4v2.4h-2.4zM1026.6 1306.4h2.4v2.4h-2.4zM1027.5 1308.8h2.4v2.4h-2.4zM1297.5 1308.8h2.4v2.4h-2.4zM919.7 1302.3h2.4v2.4h-2.4zM921.2 1297.7h2.4v2.4h-2.4zM1034.3 1302.3h2.4v2.4h-2.4zM1149.8 1302.2h2.4v2.4h-2.4zM1272.5 1301.9h2.4v2.4h-2.4zM887.5 1303.9h2.4v2.4h-2.4zM889.0 1307.5h2.4v2.4h-2.4zM1154.8 1307.9h2.4v2.4h-2.4zM1166.2 1307.8h2.4v2.4h-2.4zM1340.1 1307.5h2.4v2.4h-2.4zM867.8 1306.5h2.4v2.4h-2.4zM868.7 1304.4h2.4v2.4h-2.4zM1041.1 1293.0h2.4v2.4h-2.4zM1045.2 1306.4h2.4v2.4h-2.4zM799.4 1307.7h2.4v2.4h-2.4zM805.7 1306.9h2.4v2.4h-2.4zM809.6 1307.7h2.4v2.4h-2.4zM1076.1 1307.3h2.4v2.4h-2.4zM1253.3 1307.7h2.4v2.4h-2.4zM790.2 1304.5h2.4v2.4h-2.4zM1242.5 1304.3h2.4v2.4h-2.4zM916.6 1298.9h2.4v2.4h-2.4zM918.4 1304.5h2.4v2.4h-2.4zM1360.2 1304.9h2.4v2.4h-2.4zM818.2 1304.9h2.4v2.4h-2.4zM1012.2 1304.8h2.4v2.4h-2.4zM879.2 1307.8h2.4v2.4h-2.4zM881.8 1300.0h2.4v2.4h-2.4zM1073.9 1299.2h2.4v2.4h-2.4zM1076.7 1307.5h2.4v2.4h-2.4zM894.7 1307.6h2.4v2.4h-2.4zM899.5 1293.8h2.4v2.4h-2.4zM1092.0 1307.6h2.4v2.4h-2.4zM940.2 1308.1h2.4v2.4h-2.4zM1123.1 1294.9h2.4v2.4h-2.4zM1126.8 1304.0h2.4v2.4h-2.4zM1128.4 1307.8h2.4v2.4h-2.4zM978.7 1306.8h2.4v2.4h-2.4zM980.0 1302.8h2.4v2.4h-2.4zM1169.7 1291.6h2.4v2.4h-2.4zM1170.6 1294.0h2.4v2.4h-2.4zM1175.2 1307.0h2.4v2.4h-2.4zM1111.7 1309.0h2.4v2.4h-2.4zM1299.0 1287.7h2.4v2.4h-2.4zM1305.5 1308.7h2.4v2.4h-2.4zM1130.8 1308.6h2.4v2.4h-2.4zM1314.3 1290.9h2.4v2.4h-2.4zM1319.8 1308.6h2.4v2.4h-2.4zM1169.0 1301.4h2.4v2.4h-2.4zM1350.6 1301.0h2.4v2.4h-2.4zM759.1 1301.5h2.4v2.4h-2.4zM1204.9 1301.3h2.4v2.4h-2.4zM788.2 1308.0h2.4v2.4h-2.4zM1220.9 1308.5h2.4v2.4h-2.4zM830.6 1307.8h2.4v2.4h-2.4zM831.5 1310.0h2.4v2.4h-2.4zM1268.4 1309.6h2.4v2.4h-2.4zM1273.6 1292.6h2.4v2.4h-2.4zM1274.3 1290.5h2.4v2.4h-2.4z" clip-path="url(#clipET)"/>
<path fill="#f80" d="M1119.6 1298.6h2.4v2.4h-2.4zM1144.5 1286.8h2.4v2.4h-2.4zM873.1 1295.2h2.4v2.4h-2.4zM770.9 1287.1h2.4v2.4h-2.4zM1027.7 1295.5h2.4v2.4h-2.4zM1261.8 1289.5h2.4v2.4h-2.4zM803.7 1291.4h2.4v2.4h-2.4zM961.5 1292.4h2.4v2.4h-2.4zM1146.7 1292.9h2.4v2.4h-2.4zM1148.7 1293.8h2.4v2.4h-2.4zM984.2 1287.8h2.4v2.4h-2.4zM1358.0 1290.6h2.4v2.4h-2.4zM991.0 1300.2h2.4v2.4h-2.4zM992.7 1294.9h2.4v2.4h-2.4zM994.5 1289.6h2.4v2.4h-2.4zM823.4 1306.4h2.4v2.4h-2.4zM829.1 1302.4h2.4v2.4h-2.4zM844.2 1302.2h2.4v2.4h-2.4zM847.7 1304.3h2.4v2.4h-2.4zM851.0 1306.9h2.4v2.4h-2.4zM772.9 1306.5h2.4v2.4h-2.4zM1044.1 1295.3h2.4v2.4h-2.4zM1047.0 1287.5h2.4v2.4h-2.4zM1332.2 1307.5h2.4v2.4h-2.4zM1336.2 1300.4h2.4v2.4h-2.4zM1337.7 1297.7h2.4v2.4h-2.4zM886.4 1289.1h2.4v2.4h-2.4zM943.5 1288.2h2.4v2.4h-2.4zM1087.0 1298.1h2.4v2.4h-2.4zM1231.8 1288.5h2.4v2.4h-2.4zM824.3 1298.3h2.4v2.4h-2.4zM831.7 1298.1h2.4v2.4h-2.4zM1115.0 1290.6h2.4v2.4h-2.4zM1115.7 1289.0h2.4v2.4h-2.4zM961.7 1291.2h2.4v2.4h-2.4zM1045.0 1292.6h2.4v2.4h-2.4zM1045.7 1294.0h2.4v2.4h-2.4zM1173.6 1297.9h2.4v2.4h-2.4zM923.8 1307.2h2.4v2.4h-2.4zM1151.8 1297.2h2.4v2.4h-2.4zM1152.2 1296.1h2.4v2.4h-2.4zM883.1 1293.4h2.4v2.4h-2.4zM1160.1 1306.8h2.4v2.4h-2.4zM1163.4 1307.1h2.4v2.4h-2.4zM1083.3 1289.9h2.4v2.4h-2.4zM1251.5 1302.1h2.4v2.4h-2.4zM824.7 1286.9h2.4v2.4h-2.4zM879.6 1306.5h2.4v2.4h-2.4zM1071.5 1292.2h2.4v2.4h-2.4zM1076.1 1305.6h2.4v2.4h-2.4zM982.7 1294.7h2.4v2.4h-2.4zM983.3 1292.7h2.4v2.4h-2.4zM1173.2 1301.4h2.4v2.4h-2.4zM1119.8 1288.1h2.4v2.4h-2.4zM1313.4 1288.0h2.4v2.4h-2.4zM1174.7 1287.6h2.4v2.4h-2.4zM1205.6 1299.7h2.4v2.4h-2.4zM784.7 1297.0h2.4v2.4h-2.4zM1226.8 1292.6h2.4v2.4h-2.4zM1274.9 1288.3h2.4v2.4h-2.4z" clip-path="url(#clipET)"/>
<path fill="#ff0" d="M1121.4 1296.4h2.4v2.4h-2.4zM1131.0 1287.9h2.4v2.4h-2.4zM1132.5 1287.1h2.4v2.4h-2.4zM1073.5 1294.8h2.4v2.4h-2.4zM1075.0 1297.5h2.4v2.4h-2.4zM1352.1 1291.1h2.4v2.4h-2.4zM1352.6 1289.9h2.4v2.4h-2.4zM1026.6 1297.9h2.4v2.4h-2.4zM1258.7 1294.9h2.4v2.4h-2.4zM952.5 1293.4h2.4v2.4h-2.4zM953.8 1296.8h2.4v2.4h-2.4zM1261.1 1289.0h2.4v2.4h-2.4zM802.4 1294.7h2.4v2.4h-2.4zM802.9 1293.6h2.4v2.4h-2.4zM963.0 1297.3h2.4v2.4h-2.4zM1123.5 1301.2h2.4v2.4h-2.4zM1126.2 1298.6h2.4v2.4h-2.4zM1132.5 1293.9h2.4v2.4h-2.4zM1138.9 1291.8h2.4v2.4h-2.4zM1151.1 1295.3h2.4v2.4h-2.4zM984.9 1289.8h2.4v2.4h-2.4zM1357.4 1289.1h2.4v2.4h-2.4zM991.2 1299.5h2.4v2.4h-2.4zM992.1 1296.9h2.4v2.4h-2.4zM1244.5 1305.0h2.4v2.4h-2.4zM844.0 1302.1h2.4v2.4h-2.4zM848.4 1304.8h2.4v2.4h-2.4zM1183.5 1297.7h2.4v2.4h-2.4zM1195.7 1301.2h2.4v2.4h-2.4zM886.0 1290.0h2.4v2.4h-2.4zM886.2 1289.5h2.4v2.4h-2.4zM946.1 1292.8h2.4v2.4h-2.4zM1087.7 1296.2h2.4v2.4h-2.4zM832.2 1298.3h2.4v2.4h-2.4zM1278.4 1301.7h2.4v2.4h-2.4zM958.6 1299.1h2.4v2.4h-2.4zM963.4 1286.8h2.4v2.4h-2.4zM1047.6 1298.3h2.4v2.4h-2.4zM807.9 1306.0h2.4v2.4h-2.4zM928.6 1296.2h2.4v2.4h-2.4zM1019.9 1287.7h2.4v2.4h-2.4zM922.1 1295.1h2.4v2.4h-2.4zM1155.9 1307.5h2.4v2.4h-2.4zM1341.9 1301.9h2.4v2.4h-2.4zM869.1 1303.4h2.4v2.4h-2.4zM805.5 1306.9h2.4v2.4h-2.4zM788.9 1301.4h2.4v2.4h-2.4zM941.8 1303.2h2.4v2.4h-2.4zM942.9 1299.6h2.4v2.4h-2.4zM946.1 1288.9h2.4v2.4h-2.4zM1119.6 1288.7h2.4v2.4h-2.4zM1299.4 1289.1h2.4v2.4h-2.4zM1317.6 1301.6h2.4v2.4h-2.4zM1319.3 1307.2h2.4v2.4h-2.4zM1346.5 1287.4h2.4v2.4h-2.4zM756.0 1291.5h2.4v2.4h-2.4zM758.2 1298.7h2.4v2.4h-2.4zM1224.0 1300.2h2.4v2.4h-2.4z" clip-path="url(#clipET)"/>
<path fill="#ffdc00" d="M957.3 1305.8h2.4v2.4h-2.4zM1127.0 1305.4h2.4v2.4h-2.4z" clip-path="url(#clipET)"/>
<path fill="#ffb000" d="M954.9 1309.4h2.4v2.4h-2.4z" clip-path="url(#clipET)"/>
<path fill="#72ff00" d="M1366.8 1288.8h2.4v2.4h-2.4z" clip-path="url(#clipET)"/>
<rect x="738" y="214" width="630" height="314.8" fill="none" stroke="#000" stroke-width="4"/>
<rect x="740" y="229.09" width="626" height="1.3" fill="#000"/>
<rect x="740" y="244.83" width="626" height="1.3" fill="#000"/>
<rect x="740" y="260.57" width="626" height="1.3" fill="#000"/>
<rect x="740" y="276.31" width="626" height="1.3" fill="#000"/>
<rect x="740" y="292.05" width="626" height="1.3" fill="#000"/>
<rect x="740" y="307.79" width="626" height="1.3" fill="#000"/>
<rect x="740" y="323.53" width="626" height="1.3" fill="#000"/>
<rect x="740" y="339.27" width="626" height="1.3" fill="#000"/>
<rect x="740" y="355.01" width="626" height="1.3" fill="#000"/>
<rect x="740" y="370.75" width="626" height="1.3" fill="#000"/>
<rect x="740" y="386.49" width="626" height="1.3" fill="#000"/>
<rect x="740" y="402.23" width="626" height="1.3" fill="#000"/>
<rect x="740" y="417.97" width="626" height="1.3" fill="#000"/>
<rect x="740" y="433.71" width="626" height="1.3" fill="#000"/>
<rect x="740" y="449.45" width="626" height="1.3" fill="#000"/>
<rect x="740" y="465.19" width="626" height="1.3" fill="#000"/>
<rect x="740" y="480.93" width="626" height="1.3" fill="#000"/>
<rect x="740" y="496.67" width="626" height="1.3" fill="#000"/>
<rect x="740" y="512.41" width="626" height="1.3" fill="#000"/>
<rect x="763.2" y="216" width="2" height="2" fill="#000"/>
<rect x="763.2" y="524.8" width="2" height="2" fill="#000"/>
<rect x="789.5" y="216" width="2" height="2" fill="#000"/>
<rect x="789.5" y="524.8" width="2" height="2" fill="#000"/>
<rect x="815.8" y="216" width="2" height="4" fill="#000"/>
<rect x="815.8" y="522.8" width="2" height="4" fill="#000"/>
<rect x="842.0" y="216" width="2" height="2" fill="#000"/>
<rect x="842.0" y="524.8" width="2" height="2" fill="#000"/>
<rect x="868.2" y="216" width="2" height="2" fill="#000"/>
<rect x="868.2" y="524.8" width="2" height="2" fill="#000"/>
<rect x="894.5" y="216" width="2" height="4" fill="#000"/>
<rect x="894.5" y="522.8" width="2" height="4" fill="#000"/>
<rect x="920.8" y="216" width="2" height="2" fill="#000"/>
<rect x="920.8" y="524.8" width="2" height="2" fill="#000"/>
<rect x="947.0" y="216" width="2" height="2" fill="#000"/>
<rect x="947.0" y="524.8" width="2" height="2" fill="#000"/>
<rect x="973.2" y="216" width="2" height="4" fill="#000"/>
<rect x="973.2" y="522.8" width="2" height="4" fill="#000"/>
<rect x="999.5" y="216" width="2" height="2" fill="#000"/>
<rect x="999.5" y="524.8" width="2" height="2" fill="#000"/>
<rect x="1025.8" y="216" width="2" height="2" fill="#000"/>
<rect x="1025.8" y="524.8" width="2" height="2" fill="#000"/>
<rect x="1052.0" y="216" width="2" height="4" fill="#000"/>
<rect x="1052.0" y="522.8" width="2" height="4" fill="#000"/>
<rect x="1078.2" y="216" width="2" height="2" fill="#000"/>
<rect x="1078.2" y="524.8" width="2" height="2" fill="#000"/>
<rect x="1104.5" y="216" width="2" height="2" fill="#000"/>
<rect x="1104.5" y="524.8" width="2" height="2" fill="#000"/>
<rect x="1130.8" y="216" width="2" height="4" fill="#000"/>
<rect x="1130.8" y="522.8" width="2" height="4" fill="#000"/>
<rect x="1157.0" y="216" width="2" height="2" fill="#000"/>
<rect x="1157.0" y="524.8" width="2" height="2" fill="#000"/>
<rect x="1183.2" y="216" width="2" height="2" fill="#000"/>
<rect x="1183.2" y="524.8" width="2" height="2" fill="#000"/>
<rect x="1209.5" y="216" width="2" height="4" fill="#000"/>
<rect x="1209.5" y="522.8" width="2" height="4" fill="#000"/>
<rect x="1235.8" y="216" width="2" height="2" fill="#000"/>
<rect x="1235.8" y="524.8" width="2" height="2" fill="#000"/>
<rect x="1262.0" y="216" width="2" height="2" fill="#000"/>
<rect x="1262.0" y="524.8" width="2" height="2" fill="#000"/>
<rect x="1288.2" y="216" width="2" height="4" fill="#000"/>
<rect x="1288.2" y="522.8" width="2" height="4" fill="#000"/>
<rect x="1314.5" y="216" width="2" height="2" fill="#000"/>
<rect x="1314.5" y="524.8" width="2" height="2" fill="#000"/>
<rect x="1340.8" y="216" width="2" height="2" fill="#000"/>
<rect x="1340.8" y="524.8" width="2" height="2" fill="#000"/>
<rect x="1192" y="231.3" width="12" height="11.5" fill="#d3d3d3"/><rect x="1192" y="247.2" width="12" height="11.5" fill="#000"/><rect x="1192" y="262.5" width="12" height="12" fill="#00ff00"/>
<g font-size="12.5"><text x="1208.5" y="241.9" textLength="93" lengthAdjust="spacing">GPS predichos</text><text x="1208.5" y="257.6" textLength="122" lengthAdjust="spacing">GPS observados L1</text><text x="1208.5" y="273.2" textLength="154.5" lengthAdjust="spacing">GPS observados L1 y L2</text></g>
<text x="738.0" y="552.7" font-size="21.5" text-anchor="middle" >0</text>
<text x="816.75" y="552.7" font-size="21.5" text-anchor="middle" >3</text>
<text x="895.5" y="552.7" font-size="21.5" text-anchor="middle" >6</text>
<text x="974.25" y="552.7" font-size="21.5" text-anchor="middle" >9</text>
<text x="1053.0" y="552.7" font-size="21.5" text-anchor="middle" >12</text>
<text x="1131.75" y="552.7" font-size="21.5" text-anchor="middle" >15</text>
<text x="1210.5" y="552.7" font-size="21.5" text-anchor="middle" >18</text>
<text x="1289.25" y="552.7" font-size="21.5" text-anchor="middle" >21</text>
<text x="1368.0" y="552.7" font-size="21.5" text-anchor="middle" >24</text>
<text x="1400.5" y="536.8" font-size="21.7" text-anchor="end" >0</text>
<text x="1400.5" y="458.09999999999997" font-size="21.7" text-anchor="end" >5</text>
<text x="1400.5" y="379.4" font-size="21.7" text-anchor="end" >10</text>
<text x="1400.5" y="300.69999999999993" font-size="21.7" text-anchor="end" >15</text>
<text x="1400.5" y="221.99999999999994" font-size="21.7" text-anchor="end" >20</text>
<text transform="translate(1429.8 373) rotate(-90)" font-size="21.8" text-anchor="middle">Número de satélites</text>
<rect x="738" y="607" width="630" height="315" fill="none" stroke="#000" stroke-width="4"/>
<rect x="740" y="658.85" width="626" height="1.3" fill="#000"/>
<rect x="740" y="711.35" width="626" height="1.3" fill="#000"/>
<rect x="740" y="763.85" width="626" height="1.3" fill="#000"/>
<rect x="740" y="816.35" width="626" height="1.3" fill="#000"/>
<rect x="740" y="868.85" width="626" height="1.3" fill="#000"/>
<rect x="763.2" y="609" width="2" height="2" fill="#000"/>
<rect x="763.2" y="918" width="2" height="2" fill="#000"/>
<rect x="789.5" y="609" width="2" height="2" fill="#000"/>
<rect x="789.5" y="918" width="2" height="2" fill="#000"/>
<rect x="815.8" y="609" width="2" height="4" fill="#000"/>
<rect x="815.8" y="916" width="2" height="4" fill="#000"/>
<rect x="842.0" y="609" width="2" height="2" fill="#000"/>
<rect x="842.0" y="918" width="2" height="2" fill="#000"/>
<rect x="868.2" y="609" width="2" height="2" fill="#000"/>
<rect x="868.2" y="918" width="2" height="2" fill="#000"/>
<rect x="894.5" y="609" width="2" height="4" fill="#000"/>
<rect x="894.5" y="916" width="2" height="4" fill="#000"/>
<rect x="920.8" y="609" width="2" height="2" fill="#000"/>
<rect x="920.8" y="918" width="2" height="2" fill="#000"/>
<rect x="947.0" y="609" width="2" height="2" fill="#000"/>
<rect x="947.0" y="918" width="2" height="2" fill="#000"/>
<rect x="973.2" y="609" width="2" height="4" fill="#000"/>
<rect x="973.2" y="916" width="2" height="4" fill="#000"/>
<rect x="999.5" y="609" width="2" height="2" fill="#000"/>
<rect x="999.5" y="918" width="2" height="2" fill="#000"/>
<rect x="1025.8" y="609" width="2" height="2" fill="#000"/>
<rect x="1025.8" y="918" width="2" height="2" fill="#000"/>
<rect x="1052.0" y="609" width="2" height="4" fill="#000"/>
<rect x="1052.0" y="916" width="2" height="4" fill="#000"/>
<rect x="1078.2" y="609" width="2" height="2" fill="#000"/>
<rect x="1078.2" y="918" width="2" height="2" fill="#000"/>
<rect x="1104.5" y="609" width="2" height="2" fill="#000"/>
<rect x="1104.5" y="918" width="2" height="2" fill="#000"/>
<rect x="1130.8" y="609" width="2" height="4" fill="#000"/>
<rect x="1130.8" y="916" width="2" height="4" fill="#000"/>
<rect x="1157.0" y="609" width="2" height="2" fill="#000"/>
<rect x="1157.0" y="918" width="2" height="2" fill="#000"/>
<rect x="1183.2" y="609" width="2" height="2" fill="#000"/>
<rect x="1183.2" y="918" width="2" height="2" fill="#000"/>
<rect x="1209.5" y="609" width="2" height="4" fill="#000"/>
<rect x="1209.5" y="916" width="2" height="4" fill="#000"/>
<rect x="1235.8" y="609" width="2" height="2" fill="#000"/>
<rect x="1235.8" y="918" width="2" height="2" fill="#000"/>
<rect x="1262.0" y="609" width="2" height="2" fill="#000"/>
<rect x="1262.0" y="918" width="2" height="2" fill="#000"/>
<rect x="1288.2" y="609" width="2" height="4" fill="#000"/>
<rect x="1288.2" y="916" width="2" height="4" fill="#000"/>
<rect x="1314.5" y="609" width="2" height="2" fill="#000"/>
<rect x="1314.5" y="918" width="2" height="2" fill="#000"/>
<rect x="1340.8" y="609" width="2" height="2" fill="#000"/>
<rect x="1340.8" y="918" width="2" height="2" fill="#000"/>
<text x="738.0" y="945.8" font-size="21.5" text-anchor="middle" >0</text>
<text x="816.75" y="945.8" font-size="21.5" text-anchor="middle" >3</text>
<text x="895.5" y="945.8" font-size="21.5" text-anchor="middle" >6</text>
<text x="974.25" y="945.8" font-size="21.5" text-anchor="middle" >9</text>
<text x="1053.0" y="945.8" font-size="21.5" text-anchor="middle" >12</text>
<text x="1131.75" y="945.8" font-size="21.5" text-anchor="middle" >15</text>
<text x="1210.5" y="945.8" font-size="21.5" text-anchor="middle" >18</text>
<text x="1289.25" y="945.8" font-size="21.5" text-anchor="middle" >21</text>
<text x="1368.0" y="945.8" font-size="21.5" text-anchor="middle" >24</text>
<text x="1412.5" y="930.3" font-size="21.7" text-anchor="end" >0</text>
<text x="1412.5" y="877.8" font-size="21.7" text-anchor="end" >60</text>
<text x="1412.5" y="825.3" font-size="21.7" text-anchor="end" >120</text>
<text x="1412.5" y="772.8" font-size="21.7" text-anchor="end" >180</text>
<text x="1412.5" y="720.3" font-size="21.7" text-anchor="end" >240</text>
<text x="1412.5" y="667.8" font-size="21.7" text-anchor="end" >300</text>
<text x="1412.5" y="615.3" font-size="21.7" text-anchor="end" >360</text>
<text transform="translate(1441 765) rotate(-90)" font-size="21.8" text-anchor="middle">Azimut (grados)</text>
<rect x="69" y="1001" width="630" height="314.8" fill="none" stroke="#000" stroke-width="4"/>
<rect x="71" y="1052.82" width="626" height="1.3" fill="#000"/>
<rect x="71" y="1105.28" width="626" height="1.3" fill="#000"/>
<rect x="71" y="1157.75" width="626" height="1.3" fill="#000"/>
<rect x="71" y="1210.22" width="626" height="1.3" fill="#000"/>
<rect x="71" y="1262.68" width="626" height="1.3" fill="#000"/>
<rect x="85.5" y="1003" width="2" height="2" fill="#000"/>
<rect x="85.5" y="1311.8" width="2" height="2" fill="#000"/>
<rect x="103.0" y="1003" width="2" height="2" fill="#000"/>
<rect x="103.0" y="1311.8" width="2" height="2" fill="#000"/>
<rect x="120.5" y="1003" width="2" height="4" fill="#000"/>
<rect x="120.5" y="1309.8" width="2" height="4" fill="#000"/>
<rect x="138.0" y="1003" width="2" height="2" fill="#000"/>
<rect x="138.0" y="1311.8" width="2" height="2" fill="#000"/>
<rect x="155.5" y="1003" width="2" height="2" fill="#000"/>
<rect x="155.5" y="1311.8" width="2" height="2" fill="#000"/>
<rect x="173.0" y="1003" width="2" height="4" fill="#000"/>
<rect x="173.0" y="1309.8" width="2" height="4" fill="#000"/>
<rect x="190.5" y="1003" width="2" height="2" fill="#000"/>
<rect x="190.5" y="1311.8" width="2" height="2" fill="#000"/>
<rect x="208.0" y="1003" width="2" height="2" fill="#000"/>
<rect x="208.0" y="1311.8" width="2" height="2" fill="#000"/>
<rect x="225.5" y="1003" width="2" height="4" fill="#000"/>
<rect x="225.5" y="1309.8" width="2" height="4" fill="#000"/>
<rect x="243.0" y="1003" width="2" height="2" fill="#000"/>
<rect x="243.0" y="1311.8" width="2" height="2" fill="#000"/>
<rect x="260.5" y="1003" width="2" height="2" fill="#000"/>
<rect x="260.5" y="1311.8" width="2" height="2" fill="#000"/>
<rect x="278.0" y="1003" width="2" height="4" fill="#000"/>
<rect x="278.0" y="1309.8" width="2" height="4" fill="#000"/>
<rect x="295.5" y="1003" width="2" height="2" fill="#000"/>
<rect x="295.5" y="1311.8" width="2" height="2" fill="#000"/>
<rect x="313.0" y="1003" width="2" height="2" fill="#000"/>
<rect x="313.0" y="1311.8" width="2" height="2" fill="#000"/>
<rect x="330.5" y="1003" width="2" height="4" fill="#000"/>
<rect x="330.5" y="1309.8" width="2" height="4" fill="#000"/>
<rect x="348.0" y="1003" width="2" height="2" fill="#000"/>
<rect x="348.0" y="1311.8" width="2" height="2" fill="#000"/>
<rect x="365.5" y="1003" width="2" height="2" fill="#000"/>
<rect x="365.5" y="1311.8" width="2" height="2" fill="#000"/>
<rect x="383.0" y="1003" width="2" height="4" fill="#000"/>
<rect x="383.0" y="1309.8" width="2" height="4" fill="#000"/>
<rect x="400.5" y="1003" width="2" height="2" fill="#000"/>
<rect x="400.5" y="1311.8" width="2" height="2" fill="#000"/>
<rect x="418.0" y="1003" width="2" height="2" fill="#000"/>
<rect x="418.0" y="1311.8" width="2" height="2" fill="#000"/>
<rect x="435.5" y="1003" width="2" height="4" fill="#000"/>
<rect x="435.5" y="1309.8" width="2" height="4" fill="#000"/>
<rect x="453.0" y="1003" width="2" height="2" fill="#000"/>
<rect x="453.0" y="1311.8" width="2" height="2" fill="#000"/>
<rect x="470.5" y="1003" width="2" height="2" fill="#000"/>
<rect x="470.5" y="1311.8" width="2" height="2" fill="#000"/>
<rect x="488.0" y="1003" width="2" height="4" fill="#000"/>
<rect x="488.0" y="1309.8" width="2" height="4" fill="#000"/>
<rect x="505.5" y="1003" width="2" height="2" fill="#000"/>
<rect x="505.5" y="1311.8" width="2" height="2" fill="#000"/>
<rect x="523.0" y="1003" width="2" height="2" fill="#000"/>
<rect x="523.0" y="1311.8" width="2" height="2" fill="#000"/>
<rect x="540.5" y="1003" width="2" height="4" fill="#000"/>
<rect x="540.5" y="1309.8" width="2" height="4" fill="#000"/>
<rect x="558.0" y="1003" width="2" height="2" fill="#000"/>
<rect x="558.0" y="1311.8" width="2" height="2" fill="#000"/>
<rect x="575.5" y="1003" width="2" height="2" fill="#000"/>
<rect x="575.5" y="1311.8" width="2" height="2" fill="#000"/>
<rect x="593.0" y="1003" width="2" height="4" fill="#000"/>
<rect x="593.0" y="1309.8" width="2" height="4" fill="#000"/>
<rect x="610.5" y="1003" width="2" height="2" fill="#000"/>
<rect x="610.5" y="1311.8" width="2" height="2" fill="#000"/>
<rect x="628.0" y="1003" width="2" height="2" fill="#000"/>
<rect x="628.0" y="1311.8" width="2" height="2" fill="#000"/>
<rect x="645.5" y="1003" width="2" height="4" fill="#000"/>
<rect x="645.5" y="1309.8" width="2" height="4" fill="#000"/>
<rect x="663.0" y="1003" width="2" height="2" fill="#000"/>
<rect x="663.0" y="1311.8" width="2" height="2" fill="#000"/>
<rect x="680.5" y="1003" width="2" height="2" fill="#000"/>
<rect x="680.5" y="1311.8" width="2" height="2" fill="#000"/>
<text x="69.0" y="1339.6" font-size="21.5" text-anchor="middle" >0</text>
<text x="121.5" y="1339.6" font-size="21.5" text-anchor="middle" >30</text>
<text x="174.0" y="1339.6" font-size="21.5" text-anchor="middle" >60</text>
<text x="226.5" y="1339.6" font-size="21.5" text-anchor="middle" >90</text>
<text x="279.0" y="1339.6" font-size="21.5" text-anchor="middle" >120</text>
<text x="331.5" y="1339.6" font-size="21.5" text-anchor="middle" >150</text>
<text x="384.0" y="1339.6" font-size="21.5" text-anchor="middle" >180</text>
<text x="436.5" y="1339.6" font-size="21.5" text-anchor="middle" >210</text>
<text x="489.0" y="1339.6" font-size="21.5" text-anchor="middle" >240</text>
<text x="541.5" y="1339.6" font-size="21.5" text-anchor="middle" >270</text>
<text x="594.0" y="1339.6" font-size="21.5" text-anchor="middle" >300</text>
<text x="646.5" y="1339.6" font-size="21.5" text-anchor="middle" >330</text>
<text x="699.0" y="1339.6" font-size="21.5" text-anchor="middle" >360</text>
<text x="60.8" y="1323.8" font-size="21.7" text-anchor="end" >0</text>
<text x="60.8" y="1271.3333333333333" font-size="21.7" text-anchor="end" >15</text>
<text x="60.8" y="1218.8666666666666" font-size="21.7" text-anchor="end" >30</text>
<text x="60.8" y="1166.3999999999999" font-size="21.7" text-anchor="end" >45</text>
<text x="60.8" y="1113.9333333333334" font-size="21.7" text-anchor="end" >60</text>
<text x="60.8" y="1061.4666666666667" font-size="21.7" text-anchor="end" >75</text>
<text x="60.8" y="1009.0" font-size="21.7" text-anchor="end" >90</text>
<text transform="translate(24.2 1157) rotate(-90)" font-size="21.8" text-anchor="middle">Elevación (grados)</text>
<text x="384.0" y="1368.7" font-size="21.7" text-anchor="middle" >Azimut (grados)</text>
<rect x="738" y="1001" width="630" height="314.8" fill="none" stroke="#000" stroke-width="4"/>
<rect x="740" y="1052.82" width="626" height="1.3" fill="#000"/>
<rect x="740" y="1105.28" width="626" height="1.3" fill="#000"/>
<rect x="740" y="1157.75" width="626" height="1.3" fill="#000"/>
<rect x="740" y="1210.22" width="626" height="1.3" fill="#000"/>
<rect x="740" y="1262.68" width="626" height="1.3" fill="#000"/>
<rect x="763.2" y="1003" width="2" height="2" fill="#000"/>
<rect x="763.2" y="1311.8" width="2" height="2" fill="#000"/>
<rect x="789.5" y="1003" width="2" height="2" fill="#000"/>
<rect x="789.5" y="1311.8" width="2" height="2" fill="#000"/>
<rect x="815.8" y="1003" width="2" height="4" fill="#000"/>
<rect x="815.8" y="1309.8" width="2" height="4" fill="#000"/>
<rect x="842.0" y="1003" width="2" height="2" fill="#000"/>
<rect x="842.0" y="1311.8" width="2" height="2" fill="#000"/>
<rect x="868.2" y="1003" width="2" height="2" fill="#000"/>
<rect x="868.2" y="1311.8" width="2" height="2" fill="#000"/>
<rect x="894.5" y="1003" width="2" height="4" fill="#000"/>
<rect x="894.5" y="1309.8" width="2" height="4" fill="#000"/>
<rect x="920.8" y="1003" width="2" height="2" fill="#000"/>
<rect x="920.8" y="1311.8" width="2" height="2" fill="#000"/>
<rect x="947.0" y="1003" width="2" height="2" fill="#000"/>
<rect x="947.0" y="1311.8" width="2" height="2" fill="#000"/>
<rect x="973.2" y="1003" width="2" height="4" fill="#000"/>
<rect x="973.2" y="1309.8" width="2" height="4" fill="#000"/>
<rect x="999.5" y="1003" width="2" height="2" fill="#000"/>
<rect x="999.5" y="1311.8" width="2" height="2" fill="#000"/>
<rect x="1025.8" y="1003" width="2" height="2" fill="#000"/>
<rect x="1025.8" y="1311.8" width="2" height="2" fill="#000"/>
<rect x="1052.0" y="1003" width="2" height="4" fill="#000"/>
<rect x="1052.0" y="1309.8" width="2" height="4" fill="#000"/>
<rect x="1078.2" y="1003" width="2" height="2" fill="#000"/>
<rect x="1078.2" y="1311.8" width="2" height="2" fill="#000"/>
<rect x="1104.5" y="1003" width="2" height="2" fill="#000"/>
<rect x="1104.5" y="1311.8" width="2" height="2" fill="#000"/>
<rect x="1130.8" y="1003" width="2" height="4" fill="#000"/>
<rect x="1130.8" y="1309.8" width="2" height="4" fill="#000"/>
<rect x="1157.0" y="1003" width="2" height="2" fill="#000"/>
<rect x="1157.0" y="1311.8" width="2" height="2" fill="#000"/>
<rect x="1183.2" y="1003" width="2" height="2" fill="#000"/>
<rect x="1183.2" y="1311.8" width="2" height="2" fill="#000"/>
<rect x="1209.5" y="1003" width="2" height="4" fill="#000"/>
<rect x="1209.5" y="1309.8" width="2" height="4" fill="#000"/>
<rect x="1235.8" y="1003" width="2" height="2" fill="#000"/>
<rect x="1235.8" y="1311.8" width="2" height="2" fill="#000"/>
<rect x="1262.0" y="1003" width="2" height="2" fill="#000"/>
<rect x="1262.0" y="1311.8" width="2" height="2" fill="#000"/>
<rect x="1288.2" y="1003" width="2" height="4" fill="#000"/>
<rect x="1288.2" y="1309.8" width="2" height="4" fill="#000"/>
<rect x="1314.5" y="1003" width="2" height="2" fill="#000"/>
<rect x="1314.5" y="1311.8" width="2" height="2" fill="#000"/>
<rect x="1340.8" y="1003" width="2" height="2" fill="#000"/>
<rect x="1340.8" y="1311.8" width="2" height="2" fill="#000"/>
<text x="738.0" y="1339.6" font-size="21.5" text-anchor="middle" >0</text>
<text x="816.75" y="1339.6" font-size="21.5" text-anchor="middle" >3</text>
<text x="895.5" y="1339.6" font-size="21.5" text-anchor="middle" >6</text>
<text x="974.25" y="1339.6" font-size="21.5" text-anchor="middle" >9</text>
<text x="1053.0" y="1339.6" font-size="21.5" text-anchor="middle" >12</text>
<text x="1131.75" y="1339.6" font-size="21.5" text-anchor="middle" >15</text>
<text x="1210.5" y="1339.6" font-size="21.5" text-anchor="middle" >18</text>
<text x="1289.25" y="1339.6" font-size="21.5" text-anchor="middle" >21</text>
<text x="1368.0" y="1339.6" font-size="21.5" text-anchor="middle" >24</text>
<text x="1400.5" y="1323.8" font-size="21.7" text-anchor="end" >0</text>
<text x="1400.5" y="1271.3333333333333" font-size="21.7" text-anchor="end" >15</text>
<text x="1400.5" y="1218.8666666666666" font-size="21.7" text-anchor="end" >30</text>
<text x="1400.5" y="1166.3999999999999" font-size="21.7" text-anchor="end" >45</text>
<text x="1400.5" y="1113.9333333333334" font-size="21.7" text-anchor="end" >60</text>
<text x="1400.5" y="1061.4666666666667" font-size="21.7" text-anchor="end" >75</text>
<text x="1400.5" y="1009.0" font-size="21.7" text-anchor="end" >90</text>
<text transform="translate(1429.8 1157) rotate(-90)" font-size="21.8" text-anchor="middle">Elevación (grados)</text>
<text x="1053.0" y="1368.7" font-size="21.7" text-anchor="middle" >Tiempo (horas)</text>
</svg></body></html>
